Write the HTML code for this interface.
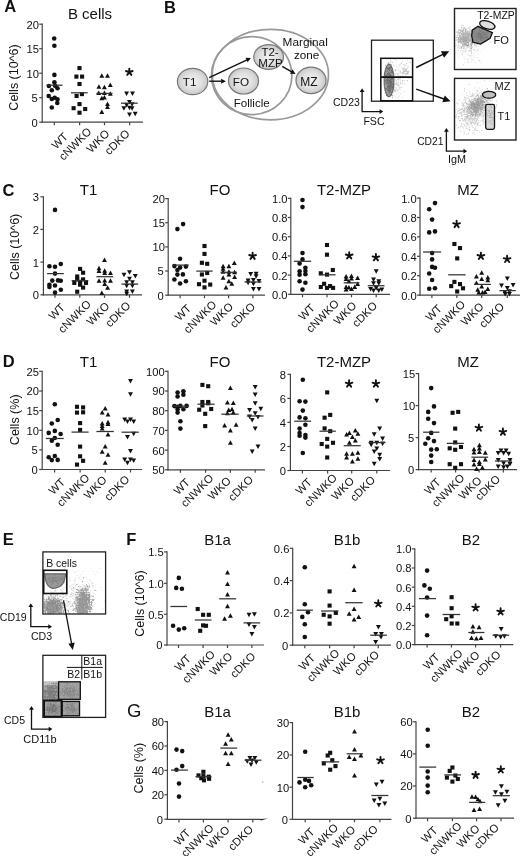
<!DOCTYPE html>
<html><head><meta charset="utf-8"><style>
html,body{margin:0;padding:0;background:#fff;}
svg{display:block;filter:grayscale(1);}
text{font-family:"Liberation Sans", sans-serif;}
</style></head><body>
<svg width="520" height="856" viewBox="0 0 520 856" font-family='"Liberation Sans", sans-serif'>
<rect width="520" height="856" fill="#fff"/>
<line x1="42.20" y1="23.60" x2="42.20" y2="122.80" stroke="#444" stroke-width="1.2"/>
<line x1="41.60" y1="122.20" x2="143.00" y2="122.20" stroke="#444" stroke-width="1.2"/>
<line x1="39.20" y1="122.20" x2="42.20" y2="122.20" stroke="#444" stroke-width="1.2"/>
<text x="37.80" y="126.63" font-size="11.2" text-anchor="end" font-weight="normal" fill="#111">0</text>
<line x1="39.20" y1="97.70" x2="42.20" y2="97.70" stroke="#444" stroke-width="1.2"/>
<text x="37.80" y="102.13" font-size="11.2" text-anchor="end" font-weight="normal" fill="#111">5</text>
<line x1="39.20" y1="73.20" x2="42.20" y2="73.20" stroke="#444" stroke-width="1.2"/>
<text x="38.90" y="77.63" font-size="11.2" text-anchor="end" font-weight="normal" fill="#111">10</text>
<line x1="39.20" y1="48.70" x2="42.20" y2="48.70" stroke="#444" stroke-width="1.2"/>
<text x="38.90" y="53.13" font-size="11.2" text-anchor="end" font-weight="normal" fill="#111">15</text>
<line x1="39.20" y1="24.20" x2="42.20" y2="24.20" stroke="#444" stroke-width="1.2"/>
<text x="38.90" y="28.63" font-size="11.2" text-anchor="end" font-weight="normal" fill="#111">20</text>
<line x1="54.30" y1="122.20" x2="54.30" y2="125.20" stroke="#444" stroke-width="1.2"/>
<line x1="79.60" y1="122.20" x2="79.60" y2="125.20" stroke="#444" stroke-width="1.2"/>
<line x1="104.50" y1="122.20" x2="104.50" y2="125.20" stroke="#444" stroke-width="1.2"/>
<line x1="129.70" y1="122.20" x2="129.70" y2="125.20" stroke="#444" stroke-width="1.2"/>
<text x="68.70" y="137.30" font-size="11.3" text-anchor="end" font-weight="normal" fill="#111" transform="rotate(-45 68.70 137.30)">WT</text>
<text x="92.30" y="132.20" font-size="11.3" text-anchor="end" font-weight="normal" fill="#111" transform="rotate(-45 92.30 132.20)">cNWKO</text>
<text x="110.30" y="134.30" font-size="11.3" text-anchor="end" font-weight="normal" fill="#111" transform="rotate(-45 110.30 134.30)">WKO</text>
<text x="130.60" y="134.30" font-size="11.3" text-anchor="end" font-weight="normal" fill="#111" transform="rotate(-45 130.60 134.30)">cDKO</text>
<text x="90.00" y="18.70" font-size="15" text-anchor="middle" font-weight="normal" fill="#111">B cells</text>
<text x="17.80" y="77.50" font-size="12.5" text-anchor="middle" font-weight="normal" fill="#111" transform="rotate(-90 17.80 77.50)">Cells (10^6)</text>
<g fill="#111">
<circle cx="54.2" cy="38.5" r="2.3"/>
<circle cx="54.4" cy="45.8" r="2.3"/>
<circle cx="54.4" cy="74.9" r="2.3"/>
<circle cx="54.4" cy="82.2" r="2.3"/>
<circle cx="48.9" cy="86" r="2.3"/>
<circle cx="55.1" cy="85.8" r="2.3"/>
<circle cx="57.5" cy="88.3" r="2.3"/>
<circle cx="51.8" cy="90.3" r="2.3"/>
<circle cx="48.7" cy="96" r="2.3"/>
<circle cx="51.8" cy="99" r="2.3"/>
<circle cx="54.7" cy="97.7" r="2.3"/>
<circle cx="57.5" cy="99.4" r="2.3"/>
<circle cx="57.3" cy="103" r="2.3"/>
<circle cx="51.8" cy="107.5" r="2.3"/>
<rect x="77.45" y="66.05" width="4.1" height="4.1"/>
<rect x="74.35" y="74.55" width="4.1" height="4.1"/>
<rect x="80.05" y="74.55" width="4.1" height="4.1"/>
<rect x="77.45" y="81.95" width="4.1" height="4.1"/>
<rect x="79.85" y="92.05" width="4.1" height="4.1"/>
<rect x="74.55" y="93.95" width="4.1" height="4.1"/>
<rect x="77.45" y="102.05" width="4.1" height="4.1"/>
<rect x="71.55" y="106.15" width="4.1" height="4.1"/>
<rect x="83.15" y="106.95" width="4.1" height="4.1"/>
<rect x="77.45" y="110.65" width="4.1" height="4.1"/>
<polygon points="101.80,73.20 99.35,77.70 104.25,77.70"/>
<polygon points="107.50,73.20 105.05,77.70 109.95,77.70"/>
<polygon points="110.30,82.40 107.85,86.90 112.75,86.90"/>
<polygon points="98.90,84.30 96.45,88.80 101.35,88.80"/>
<polygon points="104.40,84.80 101.95,89.30 106.85,89.30"/>
<polygon points="98.70,90.50 96.25,95.00 101.15,95.00"/>
<polygon points="104.40,90.50 101.95,95.00 106.85,95.00"/>
<polygon points="110.30,91.30 107.85,95.80 112.75,95.80"/>
<polygon points="101.80,95.70 99.35,100.20 104.25,100.20"/>
<polygon points="104.40,95.00 101.95,99.50 106.85,99.50"/>
<polygon points="107.50,101.60 105.05,106.10 109.95,106.10"/>
<polygon points="107.50,104.60 105.05,109.10 109.95,109.10"/>
<polygon points="101.80,109.40 99.35,113.90 104.25,113.90"/>
<polygon points="124.15,91.40 129.05,91.40 126.60,95.90"/>
<polygon points="130.05,91.40 134.95,91.40 132.50,95.90"/>
<polygon points="127.05,100.10 131.95,100.10 129.50,104.60"/>
<polygon points="124.15,102.90 129.05,102.90 126.60,107.40"/>
<polygon points="129.65,102.30 134.55,102.30 132.10,106.80"/>
<polygon points="121.45,106.20 126.35,106.20 123.90,110.70"/>
<polygon points="127.05,105.70 131.95,105.70 129.50,110.20"/>
<polygon points="129.65,106.20 134.55,106.20 132.10,110.70"/>
<polygon points="127.05,112.50 131.95,112.50 129.50,117.00"/>
<polygon points="132.75,111.70 137.65,111.70 135.20,116.20"/>
</g>
<line x1="46.40" y1="85.20" x2="62.50" y2="85.20" stroke="#333" stroke-width="1.25"/>
<line x1="71.00" y1="92.80" x2="87.70" y2="92.80" stroke="#333" stroke-width="1.25"/>
<line x1="96.40" y1="93.40" x2="112.50" y2="93.40" stroke="#333" stroke-width="1.25"/>
<line x1="121.00" y1="103.20" x2="137.70" y2="103.20" stroke="#333" stroke-width="1.25"/>
<path d="M129.30,72.10L129.30,68.60M129.30,72.10L132.63,71.02M129.30,72.10L131.36,74.93M129.30,72.10L127.24,74.93M129.30,72.10L125.97,71.02" stroke="#111" stroke-width="1.9" stroke-linecap="round" fill="none"/>
<line x1="43.40" y1="196.20" x2="43.40" y2="295.40" stroke="#444" stroke-width="1.2"/>
<line x1="42.80" y1="294.80" x2="142.00" y2="294.80" stroke="#444" stroke-width="1.2"/>
<line x1="40.40" y1="294.80" x2="43.40" y2="294.80" stroke="#444" stroke-width="1.2"/>
<text x="39.00" y="299.23" font-size="11.2" text-anchor="end" font-weight="normal" fill="#111">0</text>
<line x1="40.40" y1="262.10" x2="43.40" y2="262.10" stroke="#444" stroke-width="1.2"/>
<text x="39.00" y="266.53" font-size="11.2" text-anchor="end" font-weight="normal" fill="#111">1</text>
<line x1="40.40" y1="229.40" x2="43.40" y2="229.40" stroke="#444" stroke-width="1.2"/>
<text x="39.00" y="233.83" font-size="11.2" text-anchor="end" font-weight="normal" fill="#111">2</text>
<line x1="40.40" y1="196.80" x2="43.40" y2="196.80" stroke="#444" stroke-width="1.2"/>
<text x="39.00" y="201.23" font-size="11.2" text-anchor="end" font-weight="normal" fill="#111">3</text>
<line x1="55.00" y1="294.80" x2="55.00" y2="297.80" stroke="#444" stroke-width="1.2"/>
<line x1="79.80" y1="294.80" x2="79.80" y2="297.80" stroke="#444" stroke-width="1.2"/>
<line x1="104.50" y1="294.80" x2="104.50" y2="297.80" stroke="#444" stroke-width="1.2"/>
<line x1="129.50" y1="294.80" x2="129.50" y2="297.80" stroke="#444" stroke-width="1.2"/>
<text x="65.70" y="308.10" font-size="11.3" text-anchor="end" font-weight="normal" fill="#111" transform="rotate(-45 65.70 308.10)">WT</text>
<text x="91.70" y="304.80" font-size="11.3" text-anchor="end" font-weight="normal" fill="#111" transform="rotate(-45 91.70 304.80)">cNWKO</text>
<text x="110.30" y="306.90" font-size="11.3" text-anchor="end" font-weight="normal" fill="#111" transform="rotate(-45 110.30 306.90)">WKO</text>
<text x="131.30" y="306.40" font-size="11.3" text-anchor="end" font-weight="normal" fill="#111" transform="rotate(-45 131.30 306.40)">cDKO</text>
<text x="88.50" y="194.50" font-size="15" text-anchor="middle" font-weight="normal" fill="#111">T1</text>
<text x="18.60" y="246.90" font-size="12.5" text-anchor="middle" font-weight="normal" fill="#111" transform="rotate(-90 18.60 246.90)">Cells (10^6)</text>
<g fill="#111">
<circle cx="55" cy="209.9" r="2.3"/>
<circle cx="49.4" cy="266.2" r="2.3"/>
<circle cx="55" cy="266.8" r="2.3"/>
<circle cx="60.8" cy="264" r="2.3"/>
<circle cx="55" cy="273.6" r="2.3"/>
<circle cx="52.3" cy="280.6" r="2.3"/>
<circle cx="58" cy="280.4" r="2.3"/>
<circle cx="60.8" cy="280.8" r="2.3"/>
<circle cx="49.4" cy="284.7" r="2.3"/>
<circle cx="49.4" cy="287" r="2.3"/>
<circle cx="55" cy="285.5" r="2.3"/>
<circle cx="60.8" cy="289.7" r="2.3"/>
<circle cx="55" cy="292.6" r="2.3"/>
<rect x="78.05" y="266.85" width="4.1" height="4.1"/>
<rect x="81.05" y="270.65" width="4.1" height="4.1"/>
<rect x="75.15" y="274.45" width="4.1" height="4.1"/>
<rect x="75.15" y="277.35" width="4.1" height="4.1"/>
<rect x="81.05" y="277.35" width="4.1" height="4.1"/>
<rect x="72.25" y="280.85" width="4.1" height="4.1"/>
<rect x="78.05" y="279.75" width="4.1" height="4.1"/>
<rect x="83.95" y="280.85" width="4.1" height="4.1"/>
<rect x="78.05" y="282.65" width="4.1" height="4.1"/>
<rect x="81.05" y="285.55" width="4.1" height="4.1"/>
<rect x="75.15" y="289.65" width="4.1" height="4.1"/>
<polygon points="104.50,257.60 102.05,262.10 106.95,262.10"/>
<polygon points="99.00,265.80 96.55,270.30 101.45,270.30"/>
<polygon points="99.00,268.50 96.55,273.00 101.45,273.00"/>
<polygon points="104.70,268.20 102.25,272.70 107.15,272.70"/>
<polygon points="104.70,270.60 102.25,275.10 107.15,275.10"/>
<polygon points="110.50,270.40 108.05,274.90 112.95,274.90"/>
<polygon points="99.00,278.30 96.55,282.80 101.45,282.80"/>
<polygon points="104.70,278.10 102.25,282.60 107.15,282.60"/>
<polygon points="110.50,278.30 108.05,282.80 112.95,282.80"/>
<polygon points="104.70,281.60 102.25,286.10 107.15,286.10"/>
<polygon points="107.60,285.30 105.15,289.80 110.05,289.80"/>
<polygon points="101.80,290.60 99.35,295.10 104.25,295.10"/>
<polygon points="121.55,272.80 126.45,272.80 124.00,277.30"/>
<polygon points="127.05,270.30 131.95,270.30 129.50,274.80"/>
<polygon points="132.85,274.00 137.75,274.00 135.30,278.50"/>
<polygon points="127.05,276.80 131.95,276.80 129.50,281.30"/>
<polygon points="124.25,280.20 129.15,280.20 126.70,284.70"/>
<polygon points="129.95,280.20 134.85,280.20 132.40,284.70"/>
<polygon points="124.25,283.80 129.15,283.80 126.70,288.30"/>
<polygon points="129.95,283.80 134.85,283.80 132.40,288.30"/>
<polygon points="124.25,289.50 129.15,289.50 126.70,294.00"/>
<polygon points="129.95,289.50 134.85,289.50 132.40,294.00"/>
<polygon points="124.25,291.80 129.15,291.80 126.70,296.30"/>
</g>
<line x1="47.10" y1="273.60" x2="63.80" y2="273.60" stroke="#333" stroke-width="1.25"/>
<line x1="71.60" y1="280.60" x2="88.30" y2="280.60" stroke="#333" stroke-width="1.25"/>
<line x1="96.40" y1="276.70" x2="113.20" y2="276.70" stroke="#333" stroke-width="1.25"/>
<line x1="121.40" y1="284.10" x2="138.20" y2="284.10" stroke="#333" stroke-width="1.25"/>
<line x1="168.20" y1="198.00" x2="168.20" y2="295.80" stroke="#444" stroke-width="1.2"/>
<line x1="167.60" y1="295.20" x2="265.00" y2="295.20" stroke="#444" stroke-width="1.2"/>
<line x1="165.20" y1="295.20" x2="168.20" y2="295.20" stroke="#444" stroke-width="1.2"/>
<text x="163.80" y="299.63" font-size="11.2" text-anchor="end" font-weight="normal" fill="#111">0</text>
<line x1="165.20" y1="271.00" x2="168.20" y2="271.00" stroke="#444" stroke-width="1.2"/>
<text x="163.80" y="275.43" font-size="11.2" text-anchor="end" font-weight="normal" fill="#111">5</text>
<line x1="165.20" y1="246.90" x2="168.20" y2="246.90" stroke="#444" stroke-width="1.2"/>
<text x="164.90" y="251.33" font-size="11.2" text-anchor="end" font-weight="normal" fill="#111">10</text>
<line x1="165.20" y1="222.70" x2="168.20" y2="222.70" stroke="#444" stroke-width="1.2"/>
<text x="164.90" y="227.13" font-size="11.2" text-anchor="end" font-weight="normal" fill="#111">15</text>
<line x1="165.20" y1="198.60" x2="168.20" y2="198.60" stroke="#444" stroke-width="1.2"/>
<text x="164.90" y="203.03" font-size="11.2" text-anchor="end" font-weight="normal" fill="#111">20</text>
<line x1="180.10" y1="295.20" x2="180.10" y2="298.20" stroke="#444" stroke-width="1.2"/>
<line x1="204.50" y1="295.20" x2="204.50" y2="298.20" stroke="#444" stroke-width="1.2"/>
<line x1="228.60" y1="295.20" x2="228.60" y2="298.20" stroke="#444" stroke-width="1.2"/>
<line x1="252.90" y1="295.20" x2="252.90" y2="298.20" stroke="#444" stroke-width="1.2"/>
<text x="192.00" y="309.00" font-size="11.3" text-anchor="end" font-weight="normal" fill="#111" transform="rotate(-45 192.00 309.00)">WT</text>
<text x="217.20" y="305.20" font-size="11.3" text-anchor="end" font-weight="normal" fill="#111" transform="rotate(-45 217.20 305.20)">cNWKO</text>
<text x="233.90" y="307.30" font-size="11.3" text-anchor="end" font-weight="normal" fill="#111" transform="rotate(-45 233.90 307.30)">WKO</text>
<text x="255.90" y="307.30" font-size="11.3" text-anchor="end" font-weight="normal" fill="#111" transform="rotate(-45 255.90 307.30)">cDKO</text>
<text x="220.00" y="194.50" font-size="15" text-anchor="middle" font-weight="normal" fill="#111">FO</text>
<g fill="#111">
<circle cx="183.1" cy="224.1" r="2.3"/>
<circle cx="177.4" cy="229.1" r="2.3"/>
<circle cx="180.1" cy="258.7" r="2.3"/>
<circle cx="174.4" cy="266.1" r="2.3"/>
<circle cx="180.1" cy="267.6" r="2.3"/>
<circle cx="185.9" cy="266.6" r="2.3"/>
<circle cx="177.4" cy="270.1" r="2.3"/>
<circle cx="177.4" cy="274.6" r="2.3"/>
<circle cx="182.9" cy="274.4" r="2.3"/>
<circle cx="174.4" cy="279.5" r="2.3"/>
<circle cx="185.9" cy="281.3" r="2.3"/>
<circle cx="180.1" cy="283.5" r="2.3"/>
<rect x="202.45" y="243.95" width="4.1" height="4.1"/>
<rect x="202.45" y="251.85" width="4.1" height="4.1"/>
<rect x="199.85" y="260.75" width="4.1" height="4.1"/>
<rect x="205.15" y="261.75" width="4.1" height="4.1"/>
<rect x="205.15" y="270.95" width="4.1" height="4.1"/>
<rect x="199.85" y="272.45" width="4.1" height="4.1"/>
<rect x="202.45" y="278.65" width="4.1" height="4.1"/>
<rect x="196.95" y="282.15" width="4.1" height="4.1"/>
<rect x="208.15" y="282.55" width="4.1" height="4.1"/>
<rect x="202.45" y="285.35" width="4.1" height="4.1"/>
<polygon points="234.30,260.60 231.85,265.10 236.75,265.10"/>
<polygon points="223.10,263.70 220.65,268.20 225.55,268.20"/>
<polygon points="228.90,263.70 226.45,268.20 231.35,268.20"/>
<polygon points="223.10,266.30 220.65,270.80 225.55,270.80"/>
<polygon points="223.10,269.20 220.65,273.70 225.55,273.70"/>
<polygon points="228.90,269.20 226.45,273.70 231.35,273.70"/>
<polygon points="234.60,269.70 232.15,274.20 237.05,274.20"/>
<polygon points="228.90,272.10 226.45,276.60 231.35,276.60"/>
<polygon points="223.10,275.20 220.65,279.70 225.55,279.70"/>
<polygon points="234.60,274.50 232.15,279.00 237.05,279.00"/>
<polygon points="228.90,278.70 226.45,283.20 231.35,283.20"/>
<polygon points="231.80,281.30 229.35,285.80 234.25,285.80"/>
<polygon points="226.00,285.10 223.55,289.60 228.45,289.60"/>
<polygon points="248.25,272.10 253.15,272.10 250.70,276.60"/>
<polygon points="253.65,271.70 258.55,271.70 256.10,276.20"/>
<polygon points="253.65,274.30 258.55,274.30 256.10,278.80"/>
<polygon points="245.65,278.40 250.55,278.40 248.10,282.90"/>
<polygon points="250.95,277.90 255.85,277.90 253.40,282.40"/>
<polygon points="256.55,278.90 261.45,278.90 259.00,283.40"/>
<polygon points="245.65,280.80 250.55,280.80 248.10,285.30"/>
<polygon points="250.95,281.80 255.85,281.80 253.40,286.30"/>
<polygon points="250.95,287.00 255.85,287.00 253.40,291.50"/>
<polygon points="256.55,287.00 261.45,287.00 259.00,291.50"/>
</g>
<line x1="172.50" y1="265.10" x2="188.80" y2="265.10" stroke="#333" stroke-width="1.25"/>
<line x1="196.30" y1="271.10" x2="212.60" y2="271.10" stroke="#333" stroke-width="1.25"/>
<line x1="220.50" y1="272.30" x2="237.00" y2="272.30" stroke="#333" stroke-width="1.25"/>
<line x1="244.50" y1="282.00" x2="261.50" y2="282.00" stroke="#333" stroke-width="1.25"/>
<path d="M252.60,256.10L252.60,252.60M252.60,256.10L255.93,255.02M252.60,256.10L254.66,258.93M252.60,256.10L250.54,258.93M252.60,256.10L249.27,255.02" stroke="#111" stroke-width="1.9" stroke-linecap="round" fill="none"/>
<line x1="290.80" y1="197.70" x2="290.80" y2="294.90" stroke="#444" stroke-width="1.2"/>
<line x1="290.20" y1="294.30" x2="390.00" y2="294.30" stroke="#444" stroke-width="1.2"/>
<line x1="287.80" y1="294.30" x2="290.80" y2="294.30" stroke="#444" stroke-width="1.2"/>
<text x="287.50" y="298.73" font-size="11.2" text-anchor="end" font-weight="normal" fill="#111">0.0</text>
<line x1="287.80" y1="275.10" x2="290.80" y2="275.10" stroke="#444" stroke-width="1.2"/>
<text x="287.50" y="279.53" font-size="11.2" text-anchor="end" font-weight="normal" fill="#111">0.2</text>
<line x1="287.80" y1="255.90" x2="290.80" y2="255.90" stroke="#444" stroke-width="1.2"/>
<text x="287.50" y="260.33" font-size="11.2" text-anchor="end" font-weight="normal" fill="#111">0.4</text>
<line x1="287.80" y1="236.70" x2="290.80" y2="236.70" stroke="#444" stroke-width="1.2"/>
<text x="287.50" y="241.13" font-size="11.2" text-anchor="end" font-weight="normal" fill="#111">0.6</text>
<line x1="287.80" y1="217.50" x2="290.80" y2="217.50" stroke="#444" stroke-width="1.2"/>
<text x="287.50" y="221.93" font-size="11.2" text-anchor="end" font-weight="normal" fill="#111">0.8</text>
<line x1="287.80" y1="198.30" x2="290.80" y2="198.30" stroke="#444" stroke-width="1.2"/>
<text x="287.50" y="202.73" font-size="11.2" text-anchor="end" font-weight="normal" fill="#111">1.0</text>
<line x1="302.50" y1="294.30" x2="302.50" y2="297.30" stroke="#444" stroke-width="1.2"/>
<line x1="327.00" y1="294.30" x2="327.00" y2="297.30" stroke="#444" stroke-width="1.2"/>
<line x1="351.50" y1="294.30" x2="351.50" y2="297.30" stroke="#444" stroke-width="1.2"/>
<line x1="376.20" y1="294.30" x2="376.20" y2="297.30" stroke="#444" stroke-width="1.2"/>
<text x="315.70" y="308.60" font-size="11.3" text-anchor="end" font-weight="normal" fill="#111" transform="rotate(-45 315.70 308.60)">WT</text>
<text x="339.70" y="304.30" font-size="11.3" text-anchor="end" font-weight="normal" fill="#111" transform="rotate(-45 339.70 304.30)">cNWKO</text>
<text x="357.30" y="306.40" font-size="11.3" text-anchor="end" font-weight="normal" fill="#111" transform="rotate(-45 357.30 306.40)">WKO</text>
<text x="378.00" y="306.40" font-size="11.3" text-anchor="end" font-weight="normal" fill="#111" transform="rotate(-45 378.00 306.40)">cDKO</text>
<text x="344.00" y="194.50" font-size="15" text-anchor="middle" font-weight="normal" fill="#111">T2-MZP</text>
<g fill="#111">
<circle cx="302.5" cy="200" r="2.3"/>
<circle cx="302.5" cy="207.1" r="2.3"/>
<circle cx="302.5" cy="253" r="2.3"/>
<circle cx="302.5" cy="259.4" r="2.3"/>
<circle cx="299.6" cy="263.5" r="2.3"/>
<circle cx="305.4" cy="267.8" r="2.3"/>
<circle cx="299.6" cy="271.2" r="2.3"/>
<circle cx="305.4" cy="271" r="2.3"/>
<circle cx="299.6" cy="274.8" r="2.3"/>
<circle cx="305.4" cy="274.2" r="2.3"/>
<circle cx="299.6" cy="281.3" r="2.3"/>
<circle cx="305.4" cy="282.8" r="2.3"/>
<circle cx="302.5" cy="289.6" r="2.3"/>
<rect x="324.95" y="242.95" width="4.1" height="4.1"/>
<rect x="324.95" y="252.65" width="4.1" height="4.1"/>
<rect x="330.75" y="267.95" width="4.1" height="4.1"/>
<rect x="318.75" y="271.25" width="4.1" height="4.1"/>
<rect x="324.95" y="272.55" width="4.1" height="4.1"/>
<rect x="322.05" y="281.75" width="4.1" height="4.1"/>
<rect x="318.75" y="284.95" width="4.1" height="4.1"/>
<rect x="324.95" y="285.85" width="4.1" height="4.1"/>
<rect x="328.05" y="284.05" width="4.1" height="4.1"/>
<rect x="331.05" y="285.85" width="4.1" height="4.1"/>
<polygon points="346.10,274.00 343.65,278.50 348.55,278.50"/>
<polygon points="346.10,276.40 343.65,280.90 348.55,280.90"/>
<polygon points="351.50,273.60 349.05,278.10 353.95,278.10"/>
<polygon points="351.50,276.00 349.05,280.50 353.95,280.50"/>
<polygon points="357.60,275.50 355.15,280.00 360.05,280.00"/>
<polygon points="348.90,278.80 346.45,283.30 351.35,283.30"/>
<polygon points="357.60,281.50 355.15,286.00 360.05,286.00"/>
<polygon points="346.10,284.60 343.65,289.10 348.55,289.10"/>
<polygon points="348.90,285.10 346.45,289.60 351.35,289.60"/>
<polygon points="354.70,284.60 352.25,289.10 357.15,289.10"/>
<polygon points="346.10,287.00 343.65,291.50 348.55,291.50"/>
<polygon points="351.50,286.50 349.05,291.00 353.95,291.00"/>
<polygon points="373.75,269.30 378.65,269.30 376.20,273.80"/>
<polygon points="371.05,277.40 375.95,277.40 373.50,281.90"/>
<polygon points="376.35,279.30 381.25,279.30 378.80,283.80"/>
<polygon points="371.05,281.30 375.95,281.30 373.50,285.80"/>
<polygon points="376.35,281.30 381.25,281.30 378.80,285.80"/>
<polygon points="368.15,287.00 373.05,287.00 370.60,291.50"/>
<polygon points="373.75,286.10 378.65,286.10 376.20,290.60"/>
<polygon points="379.45,287.50 384.35,287.50 381.90,292.00"/>
<polygon points="371.05,288.50 375.95,288.50 373.50,293.00"/>
<polygon points="376.35,288.50 381.25,288.50 378.80,293.00"/>
</g>
<line x1="293.90" y1="261.30" x2="311.20" y2="261.30" stroke="#333" stroke-width="1.25"/>
<line x1="318.90" y1="274.80" x2="335.60" y2="274.80" stroke="#333" stroke-width="1.25"/>
<line x1="343.70" y1="282.80" x2="359.50" y2="282.80" stroke="#333" stroke-width="1.25"/>
<line x1="367.70" y1="285.70" x2="384.50" y2="285.70" stroke="#333" stroke-width="1.25"/>
<path d="M349.20,255.60L349.20,252.10M349.20,255.60L352.53,254.52M349.20,255.60L351.26,258.43M349.20,255.60L347.14,258.43M349.20,255.60L345.87,254.52" stroke="#111" stroke-width="1.9" stroke-linecap="round" fill="none"/>
<path d="M375.90,257.50L375.90,254.00M375.90,257.50L379.23,256.42M375.90,257.50L377.96,260.33M375.90,257.50L373.84,260.33M375.90,257.50L372.57,256.42" stroke="#111" stroke-width="1.9" stroke-linecap="round" fill="none"/>
<line x1="420.00" y1="197.50" x2="420.00" y2="295.70" stroke="#444" stroke-width="1.2"/>
<line x1="419.40" y1="295.10" x2="520.00" y2="295.10" stroke="#444" stroke-width="1.2"/>
<line x1="417.00" y1="295.10" x2="420.00" y2="295.10" stroke="#444" stroke-width="1.2"/>
<text x="416.70" y="299.53" font-size="11.2" text-anchor="end" font-weight="normal" fill="#111">0.0</text>
<line x1="417.00" y1="275.70" x2="420.00" y2="275.70" stroke="#444" stroke-width="1.2"/>
<text x="416.70" y="280.13" font-size="11.2" text-anchor="end" font-weight="normal" fill="#111">0.2</text>
<line x1="417.00" y1="256.30" x2="420.00" y2="256.30" stroke="#444" stroke-width="1.2"/>
<text x="416.70" y="260.73" font-size="11.2" text-anchor="end" font-weight="normal" fill="#111">0.4</text>
<line x1="417.00" y1="236.90" x2="420.00" y2="236.90" stroke="#444" stroke-width="1.2"/>
<text x="416.70" y="241.33" font-size="11.2" text-anchor="end" font-weight="normal" fill="#111">0.6</text>
<line x1="417.00" y1="217.50" x2="420.00" y2="217.50" stroke="#444" stroke-width="1.2"/>
<text x="416.70" y="221.93" font-size="11.2" text-anchor="end" font-weight="normal" fill="#111">0.8</text>
<line x1="417.00" y1="198.10" x2="420.00" y2="198.10" stroke="#444" stroke-width="1.2"/>
<text x="416.70" y="202.53" font-size="11.2" text-anchor="end" font-weight="normal" fill="#111">1.0</text>
<line x1="431.90" y1="295.10" x2="431.90" y2="298.10" stroke="#444" stroke-width="1.2"/>
<line x1="456.80" y1="295.10" x2="456.80" y2="298.10" stroke="#444" stroke-width="1.2"/>
<line x1="481.70" y1="295.10" x2="481.70" y2="298.10" stroke="#444" stroke-width="1.2"/>
<line x1="507.30" y1="295.10" x2="507.30" y2="298.10" stroke="#444" stroke-width="1.2"/>
<text x="442.60" y="309.40" font-size="11.3" text-anchor="end" font-weight="normal" fill="#111" transform="rotate(-45 442.60 309.40)">WT</text>
<text x="466.00" y="305.10" font-size="11.3" text-anchor="end" font-weight="normal" fill="#111" transform="rotate(-45 466.00 305.10)">cNWKO</text>
<text x="484.50" y="307.20" font-size="11.3" text-anchor="end" font-weight="normal" fill="#111" transform="rotate(-45 484.50 307.20)">WKO</text>
<text x="505.10" y="307.20" font-size="11.3" text-anchor="end" font-weight="normal" fill="#111" transform="rotate(-45 505.10 307.20)">cDKO</text>
<text x="468.00" y="194.50" font-size="15" text-anchor="middle" font-weight="normal" fill="#111">MZ</text>
<g fill="#111">
<circle cx="435" cy="203.1" r="2.3"/>
<circle cx="429.2" cy="209.3" r="2.3"/>
<circle cx="432.1" cy="219.6" r="2.3"/>
<circle cx="429.2" cy="232.4" r="2.3"/>
<circle cx="435" cy="231.4" r="2.3"/>
<circle cx="432.1" cy="253" r="2.3"/>
<circle cx="432.1" cy="259.4" r="2.3"/>
<circle cx="432.1" cy="266.9" r="2.3"/>
<circle cx="435" cy="267.8" r="2.3"/>
<circle cx="429.2" cy="273.5" r="2.3"/>
<circle cx="432.1" cy="280" r="2.3"/>
<circle cx="429.2" cy="288.7" r="2.3"/>
<circle cx="435" cy="288.3" r="2.3"/>
<rect x="452.35" y="241.95" width="4.1" height="4.1"/>
<rect x="457.95" y="246.05" width="4.1" height="4.1"/>
<rect x="455.15" y="256.35" width="4.1" height="4.1"/>
<rect x="452.35" y="279.85" width="4.1" height="4.1"/>
<rect x="449.15" y="284.05" width="4.1" height="4.1"/>
<rect x="457.95" y="282.05" width="4.1" height="4.1"/>
<rect x="460.95" y="286.25" width="4.1" height="4.1"/>
<rect x="455.15" y="289.45" width="4.1" height="4.1"/>
<polygon points="481.70,270.30 479.25,274.80 484.15,274.80"/>
<polygon points="476.40,274.00 473.95,278.50 478.85,278.50"/>
<polygon points="481.70,276.40 479.25,280.90 484.15,280.90"/>
<polygon points="487.80,275.10 485.35,279.60 490.25,279.60"/>
<polygon points="487.80,277.70 485.35,282.20 490.25,282.20"/>
<polygon points="476.40,280.40 473.95,284.90 478.85,284.90"/>
<polygon points="481.70,284.10 479.25,288.60 484.15,288.60"/>
<polygon points="477.70,287.20 475.25,291.70 480.15,291.70"/>
<polygon points="487.80,286.40 485.35,290.90 490.25,290.90"/>
<polygon points="478.80,289.90 476.35,294.40 481.25,294.40"/>
<polygon points="482.50,289.90 480.05,294.40 484.95,294.40"/>
<polygon points="485.10,289.40 482.65,293.90 487.55,293.90"/>
<polygon points="504.85,276.60 509.75,276.60 507.30,281.10"/>
<polygon points="499.05,283.50 503.95,283.50 501.50,288.00"/>
<polygon points="510.65,283.00 515.55,283.00 513.10,287.50"/>
<polygon points="504.85,286.10 509.75,286.10 507.30,290.60"/>
<polygon points="502.25,289.90 507.15,289.90 504.70,294.40"/>
<polygon points="506.95,289.30 511.85,289.30 509.40,293.80"/>
<polygon points="502.75,292.00 507.65,292.00 505.20,296.50"/>
<polygon points="506.95,292.00 511.85,292.00 509.40,296.50"/>
</g>
<line x1="423.10" y1="252.00" x2="441.10" y2="252.00" stroke="#333" stroke-width="1.25"/>
<line x1="448.20" y1="274.80" x2="465.60" y2="274.80" stroke="#333" stroke-width="1.25"/>
<line x1="474.00" y1="284.40" x2="491.00" y2="284.40" stroke="#333" stroke-width="1.25"/>
<line x1="499.40" y1="290.60" x2="515.80" y2="290.60" stroke="#333" stroke-width="1.25"/>
<path d="M456.60,224.30L456.60,220.80M456.60,224.30L459.93,223.22M456.60,224.30L458.66,227.13M456.60,224.30L454.54,227.13M456.60,224.30L453.27,223.22" stroke="#111" stroke-width="1.9" stroke-linecap="round" fill="none"/>
<path d="M480.90,256.10L480.90,252.60M480.90,256.10L484.23,255.02M480.90,256.10L482.96,258.93M480.90,256.10L478.84,258.93M480.90,256.10L477.57,255.02" stroke="#111" stroke-width="1.9" stroke-linecap="round" fill="none"/>
<path d="M507.10,259.20L507.10,255.70M507.10,259.20L510.43,258.12M507.10,259.20L509.16,262.03M507.10,259.20L505.04,262.03M507.10,259.20L503.77,258.12" stroke="#111" stroke-width="1.9" stroke-linecap="round" fill="none"/>
<line x1="42.20" y1="370.70" x2="42.20" y2="470.10" stroke="#444" stroke-width="1.2"/>
<line x1="41.60" y1="469.50" x2="142.00" y2="469.50" stroke="#444" stroke-width="1.2"/>
<line x1="39.20" y1="469.50" x2="42.20" y2="469.50" stroke="#444" stroke-width="1.2"/>
<text x="37.80" y="473.93" font-size="11.2" text-anchor="end" font-weight="normal" fill="#111">0</text>
<line x1="39.20" y1="449.90" x2="42.20" y2="449.90" stroke="#444" stroke-width="1.2"/>
<text x="37.80" y="454.33" font-size="11.2" text-anchor="end" font-weight="normal" fill="#111">5</text>
<line x1="39.20" y1="430.30" x2="42.20" y2="430.30" stroke="#444" stroke-width="1.2"/>
<text x="38.90" y="434.73" font-size="11.2" text-anchor="end" font-weight="normal" fill="#111">10</text>
<line x1="39.20" y1="410.60" x2="42.20" y2="410.60" stroke="#444" stroke-width="1.2"/>
<text x="38.90" y="415.03" font-size="11.2" text-anchor="end" font-weight="normal" fill="#111">15</text>
<line x1="39.20" y1="391.00" x2="42.20" y2="391.00" stroke="#444" stroke-width="1.2"/>
<text x="38.90" y="395.43" font-size="11.2" text-anchor="end" font-weight="normal" fill="#111">20</text>
<line x1="39.20" y1="371.30" x2="42.20" y2="371.30" stroke="#444" stroke-width="1.2"/>
<text x="38.90" y="375.73" font-size="11.2" text-anchor="end" font-weight="normal" fill="#111">25</text>
<line x1="54.60" y1="469.50" x2="54.60" y2="472.50" stroke="#444" stroke-width="1.2"/>
<line x1="80.10" y1="469.50" x2="80.10" y2="472.50" stroke="#444" stroke-width="1.2"/>
<line x1="105.20" y1="469.50" x2="105.20" y2="472.50" stroke="#444" stroke-width="1.2"/>
<line x1="130.50" y1="469.50" x2="130.50" y2="472.50" stroke="#444" stroke-width="1.2"/>
<text x="65.80" y="482.80" font-size="11.3" text-anchor="end" font-weight="normal" fill="#111" transform="rotate(-45 65.80 482.80)">WT</text>
<text x="90.30" y="478.50" font-size="11.3" text-anchor="end" font-weight="normal" fill="#111" transform="rotate(-45 90.30 478.50)">cNWKO</text>
<text x="107.50" y="480.60" font-size="11.3" text-anchor="end" font-weight="normal" fill="#111" transform="rotate(-45 107.50 480.60)">WKO</text>
<text x="130.30" y="480.10" font-size="11.3" text-anchor="end" font-weight="normal" fill="#111" transform="rotate(-45 130.30 480.10)">cDKO</text>
<text x="88.50" y="367.00" font-size="15" text-anchor="middle" font-weight="normal" fill="#111">T1</text>
<text x="18.80" y="419.80" font-size="12.5" text-anchor="middle" font-weight="normal" fill="#111" transform="rotate(-90 18.80 419.80)">Cells (%)</text>
<g fill="#111">
<circle cx="54.8" cy="404.2" r="2.3"/>
<circle cx="57.7" cy="420" r="2.3"/>
<circle cx="51.8" cy="423.5" r="2.3"/>
<circle cx="54.8" cy="430.9" r="2.3"/>
<circle cx="48.7" cy="432.9" r="2.3"/>
<circle cx="60.6" cy="434" r="2.3"/>
<circle cx="54.8" cy="438" r="2.3"/>
<circle cx="51.8" cy="440.8" r="2.3"/>
<circle cx="57.7" cy="444.7" r="2.3"/>
<circle cx="48.7" cy="457.3" r="2.3"/>
<circle cx="54.8" cy="456" r="2.3"/>
<circle cx="51.8" cy="460.1" r="2.3"/>
<circle cx="57.7" cy="459.9" r="2.3"/>
<rect x="74.95" y="404.75" width="4.1" height="4.1"/>
<rect x="81.05" y="405.35" width="4.1" height="4.1"/>
<rect x="74.95" y="410.55" width="4.1" height="4.1"/>
<rect x="81.05" y="410.25" width="4.1" height="4.1"/>
<rect x="78.05" y="421.05" width="4.1" height="4.1"/>
<rect x="78.05" y="427.85" width="4.1" height="4.1"/>
<rect x="78.05" y="444.55" width="4.1" height="4.1"/>
<rect x="78.05" y="454.25" width="4.1" height="4.1"/>
<rect x="81.05" y="458.75" width="4.1" height="4.1"/>
<rect x="74.95" y="462.55" width="4.1" height="4.1"/>
<polygon points="105.20,405.90 102.75,410.40 107.65,410.40"/>
<polygon points="102.20,410.10 99.75,414.60 104.65,414.60"/>
<polygon points="108.00,412.00 105.55,416.50 110.45,416.50"/>
<polygon points="102.20,421.00 99.75,425.50 104.65,425.50"/>
<polygon points="108.00,419.70 105.55,424.20 110.45,424.20"/>
<polygon points="102.20,423.60 99.75,428.10 104.65,428.10"/>
<polygon points="108.00,421.60 105.55,426.10 110.45,426.10"/>
<polygon points="102.20,426.10 99.75,430.60 104.65,430.60"/>
<polygon points="108.00,431.90 105.55,436.40 110.45,436.40"/>
<polygon points="105.20,444.10 102.75,448.60 107.65,448.60"/>
<polygon points="102.20,449.30 99.75,453.80 104.65,453.80"/>
<polygon points="108.00,452.20 105.55,456.70 110.45,456.70"/>
<polygon points="105.20,460.20 102.75,464.70 107.65,464.70"/>
<polygon points="128.05,379.10 132.95,379.10 130.50,383.60"/>
<polygon points="128.05,392.30 132.95,392.30 130.50,396.80"/>
<polygon points="122.25,417.60 127.15,417.60 124.70,422.10"/>
<polygon points="128.05,417.60 132.95,417.60 130.50,422.10"/>
<polygon points="131.25,419.60 136.15,419.60 133.70,424.10"/>
<polygon points="125.05,419.60 129.95,419.60 127.50,424.10"/>
<polygon points="125.05,435.00 129.95,435.00 127.50,439.50"/>
<polygon points="131.25,431.80 136.15,431.80 133.70,436.30"/>
<polygon points="128.05,448.90 132.95,448.90 130.50,453.40"/>
<polygon points="122.25,457.50 127.15,457.50 124.70,462.00"/>
<polygon points="125.05,460.70 129.95,460.70 127.50,465.20"/>
<polygon points="128.05,457.50 132.95,457.50 130.50,462.00"/>
<polygon points="131.25,458.40 136.15,458.40 133.70,462.90"/>
</g>
<line x1="45.80" y1="438.50" x2="63.80" y2="438.50" stroke="#333" stroke-width="1.25"/>
<line x1="71.50" y1="432.10" x2="88.60" y2="432.10" stroke="#333" stroke-width="1.25"/>
<line x1="96.40" y1="431.50" x2="113.80" y2="431.50" stroke="#333" stroke-width="1.25"/>
<line x1="121.50" y1="432.20" x2="138.80" y2="432.20" stroke="#333" stroke-width="1.25"/>
<line x1="168.00" y1="370.70" x2="168.00" y2="470.40" stroke="#444" stroke-width="1.2"/>
<line x1="167.40" y1="469.80" x2="265.00" y2="469.80" stroke="#444" stroke-width="1.2"/>
<line x1="165.00" y1="469.80" x2="168.00" y2="469.80" stroke="#444" stroke-width="1.2"/>
<text x="164.70" y="474.23" font-size="11.2" text-anchor="end" font-weight="normal" fill="#111">50</text>
<line x1="165.00" y1="450.10" x2="168.00" y2="450.10" stroke="#444" stroke-width="1.2"/>
<text x="164.70" y="454.53" font-size="11.2" text-anchor="end" font-weight="normal" fill="#111">60</text>
<line x1="165.00" y1="430.40" x2="168.00" y2="430.40" stroke="#444" stroke-width="1.2"/>
<text x="164.70" y="434.83" font-size="11.2" text-anchor="end" font-weight="normal" fill="#111">70</text>
<line x1="165.00" y1="410.70" x2="168.00" y2="410.70" stroke="#444" stroke-width="1.2"/>
<text x="164.70" y="415.13" font-size="11.2" text-anchor="end" font-weight="normal" fill="#111">80</text>
<line x1="165.00" y1="391.00" x2="168.00" y2="391.00" stroke="#444" stroke-width="1.2"/>
<text x="164.70" y="395.43" font-size="11.2" text-anchor="end" font-weight="normal" fill="#111">90</text>
<line x1="165.00" y1="371.30" x2="168.00" y2="371.30" stroke="#444" stroke-width="1.2"/>
<text x="164.70" y="375.73" font-size="11.2" text-anchor="end" font-weight="normal" fill="#111">100</text>
<line x1="180.40" y1="469.80" x2="180.40" y2="472.80" stroke="#444" stroke-width="1.2"/>
<line x1="205.60" y1="469.80" x2="205.60" y2="472.80" stroke="#444" stroke-width="1.2"/>
<line x1="230.40" y1="469.80" x2="230.40" y2="472.80" stroke="#444" stroke-width="1.2"/>
<line x1="255.20" y1="469.80" x2="255.20" y2="472.80" stroke="#444" stroke-width="1.2"/>
<text x="190.60" y="483.10" font-size="11.3" text-anchor="end" font-weight="normal" fill="#111" transform="rotate(-45 190.60 483.10)">WT</text>
<text x="214.30" y="478.80" font-size="11.3" text-anchor="end" font-weight="normal" fill="#111" transform="rotate(-45 214.30 478.80)">cNWKO</text>
<text x="231.70" y="481.40" font-size="11.3" text-anchor="end" font-weight="normal" fill="#111" transform="rotate(-45 231.70 481.40)">WKO</text>
<text x="254.00" y="480.40" font-size="11.3" text-anchor="end" font-weight="normal" fill="#111" transform="rotate(-45 254.00 480.40)">cDKO</text>
<text x="220.00" y="367.00" font-size="15" text-anchor="middle" font-weight="normal" fill="#111">FO</text>
<g fill="#111">
<circle cx="177.6" cy="392.6" r="2.3"/>
<circle cx="183.4" cy="391.3" r="2.3"/>
<circle cx="177.6" cy="396.5" r="2.3"/>
<circle cx="183.4" cy="394.8" r="2.3"/>
<circle cx="174.4" cy="406.1" r="2.3"/>
<circle cx="177.6" cy="406.8" r="2.3"/>
<circle cx="180.4" cy="405.9" r="2.3"/>
<circle cx="186.6" cy="405.9" r="2.3"/>
<circle cx="177.6" cy="409.3" r="2.3"/>
<circle cx="183.4" cy="409.3" r="2.3"/>
<circle cx="177.6" cy="412.6" r="2.3"/>
<circle cx="180.4" cy="421.3" r="2.3"/>
<circle cx="180.4" cy="428.6" r="2.3"/>
<rect x="200.35" y="382.85" width="4.1" height="4.1"/>
<rect x="206.15" y="384.15" width="4.1" height="4.1"/>
<rect x="200.35" y="399.95" width="4.1" height="4.1"/>
<rect x="206.15" y="399.95" width="4.1" height="4.1"/>
<rect x="200.35" y="403.45" width="4.1" height="4.1"/>
<rect x="206.15" y="401.25" width="4.1" height="4.1"/>
<rect x="197.15" y="407.65" width="4.1" height="4.1"/>
<rect x="209.15" y="406.95" width="4.1" height="4.1"/>
<rect x="203.15" y="411.75" width="4.1" height="4.1"/>
<rect x="203.15" y="424.05" width="4.1" height="4.1"/>
<polygon points="230.40,385.40 227.95,389.90 232.85,389.90"/>
<polygon points="227.40,400.00 224.95,404.50 229.85,404.50"/>
<polygon points="233.30,400.40 230.85,404.90 235.75,404.90"/>
<polygon points="228.70,407.50 226.25,412.00 231.15,412.00"/>
<polygon points="232.00,406.80 229.55,411.30 234.45,411.30"/>
<polygon points="227.40,410.70 224.95,415.20 229.85,415.20"/>
<polygon points="233.30,410.10 230.85,414.60 235.75,414.60"/>
<polygon points="224.60,422.90 222.15,427.40 227.05,427.40"/>
<polygon points="236.10,422.30 233.65,426.80 238.55,426.80"/>
<polygon points="230.40,428.10 227.95,432.60 232.85,432.60"/>
<polygon points="230.40,440.30 227.95,444.80 232.85,444.80"/>
<polygon points="252.75,384.90 257.65,384.90 255.20,389.40"/>
<polygon points="252.75,392.60 257.65,392.60 255.20,397.10"/>
<polygon points="252.75,401.30 257.65,401.30 255.20,405.80"/>
<polygon points="247.15,408.00 252.05,408.00 249.60,412.50"/>
<polygon points="258.35,406.70 263.25,406.70 260.80,411.20"/>
<polygon points="252.75,411.20 257.65,411.20 255.20,415.70"/>
<polygon points="247.15,414.40 252.05,414.40 249.60,418.90"/>
<polygon points="255.55,415.10 260.45,415.10 258.00,419.60"/>
<polygon points="249.75,418.00 254.65,418.00 252.20,422.50"/>
<polygon points="252.75,426.60 257.65,426.60 255.20,431.10"/>
<polygon points="255.55,444.60 260.45,444.60 258.00,449.10"/>
<polygon points="249.75,449.40 254.65,449.40 252.20,453.90"/>
</g>
<line x1="171.80" y1="406.10" x2="189.10" y2="406.10" stroke="#333" stroke-width="1.25"/>
<line x1="197.50" y1="404.20" x2="214.60" y2="404.20" stroke="#333" stroke-width="1.25"/>
<line x1="221.40" y1="414.20" x2="238.70" y2="414.20" stroke="#333" stroke-width="1.25"/>
<line x1="246.70" y1="416.00" x2="263.50" y2="416.00" stroke="#333" stroke-width="1.25"/>
<line x1="290.40" y1="373.70" x2="290.40" y2="471.10" stroke="#444" stroke-width="1.2"/>
<line x1="289.80" y1="470.50" x2="390.00" y2="470.50" stroke="#444" stroke-width="1.2"/>
<line x1="287.40" y1="470.50" x2="290.40" y2="470.50" stroke="#444" stroke-width="1.2"/>
<text x="286.00" y="474.93" font-size="11.2" text-anchor="end" font-weight="normal" fill="#111">0</text>
<line x1="287.40" y1="446.50" x2="290.40" y2="446.50" stroke="#444" stroke-width="1.2"/>
<text x="286.00" y="450.93" font-size="11.2" text-anchor="end" font-weight="normal" fill="#111">2</text>
<line x1="287.40" y1="422.40" x2="290.40" y2="422.40" stroke="#444" stroke-width="1.2"/>
<text x="286.00" y="426.83" font-size="11.2" text-anchor="end" font-weight="normal" fill="#111">4</text>
<line x1="287.40" y1="398.40" x2="290.40" y2="398.40" stroke="#444" stroke-width="1.2"/>
<text x="286.00" y="402.83" font-size="11.2" text-anchor="end" font-weight="normal" fill="#111">6</text>
<line x1="287.40" y1="374.30" x2="290.40" y2="374.30" stroke="#444" stroke-width="1.2"/>
<text x="286.00" y="378.73" font-size="11.2" text-anchor="end" font-weight="normal" fill="#111">8</text>
<line x1="302.40" y1="470.50" x2="302.40" y2="473.50" stroke="#444" stroke-width="1.2"/>
<line x1="327.60" y1="470.50" x2="327.60" y2="473.50" stroke="#444" stroke-width="1.2"/>
<line x1="351.70" y1="470.50" x2="351.70" y2="473.50" stroke="#444" stroke-width="1.2"/>
<line x1="376.80" y1="470.50" x2="376.80" y2="473.50" stroke="#444" stroke-width="1.2"/>
<text x="312.60" y="482.80" font-size="11.3" text-anchor="end" font-weight="normal" fill="#111" transform="rotate(-45 312.60 482.80)">WT</text>
<text x="337.80" y="478.50" font-size="11.3" text-anchor="end" font-weight="normal" fill="#111" transform="rotate(-45 337.80 478.50)">cNWKO</text>
<text x="355.00" y="481.60" font-size="11.3" text-anchor="end" font-weight="normal" fill="#111" transform="rotate(-45 355.00 481.60)">WKO</text>
<text x="376.10" y="480.60" font-size="11.3" text-anchor="end" font-weight="normal" fill="#111" transform="rotate(-45 376.10 480.60)">cDKO</text>
<text x="344.00" y="367.00" font-size="15" text-anchor="middle" font-weight="normal" fill="#111">T2-MZP</text>
<g fill="#111">
<circle cx="302.8" cy="379.8" r="2.3"/>
<circle cx="299.6" cy="401.2" r="2.3"/>
<circle cx="305.4" cy="401.6" r="2.3"/>
<circle cx="302.8" cy="410.6" r="2.3"/>
<circle cx="299.6" cy="417.4" r="2.3"/>
<circle cx="305.4" cy="418.3" r="2.3"/>
<circle cx="305.4" cy="424.8" r="2.3"/>
<circle cx="299.6" cy="428.6" r="2.3"/>
<circle cx="299.6" cy="433.1" r="2.3"/>
<circle cx="299.6" cy="435.7" r="2.3"/>
<circle cx="305.4" cy="435.1" r="2.3"/>
<circle cx="305.4" cy="437.6" r="2.3"/>
<circle cx="302.8" cy="453" r="2.3"/>
<rect x="325.15" y="390.35" width="4.1" height="4.1"/>
<rect x="328.15" y="412.85" width="4.1" height="4.1"/>
<rect x="322.55" y="415.65" width="4.1" height="4.1"/>
<rect x="322.55" y="426.35" width="4.1" height="4.1"/>
<rect x="328.15" y="429.15" width="4.1" height="4.1"/>
<rect x="325.15" y="436.85" width="4.1" height="4.1"/>
<rect x="319.65" y="441.95" width="4.1" height="4.1"/>
<rect x="330.95" y="440.75" width="4.1" height="4.1"/>
<rect x="325.15" y="444.55" width="4.1" height="4.1"/>
<rect x="325.15" y="455.45" width="4.1" height="4.1"/>
<polygon points="346.60,431.90 344.15,436.40 349.05,436.40"/>
<polygon points="349.40,430.60 346.95,435.10 351.85,435.10"/>
<polygon points="355.30,428.10 352.85,432.60 357.75,432.60"/>
<polygon points="357.90,431.30 355.45,435.80 360.35,435.80"/>
<polygon points="352.40,434.50 349.95,439.00 354.85,439.00"/>
<polygon points="355.30,438.10 352.85,442.60 357.75,442.60"/>
<polygon points="349.40,440.30 346.95,444.80 351.85,444.80"/>
<polygon points="346.60,451.20 344.15,455.70 349.05,455.70"/>
<polygon points="346.60,455.00 344.15,459.50 349.05,459.50"/>
<polygon points="352.40,451.20 349.95,455.70 354.85,455.70"/>
<polygon points="357.90,450.20 355.45,454.70 360.35,454.70"/>
<polygon points="357.90,456.30 355.45,460.80 360.35,460.80"/>
<polygon points="352.40,458.90 349.95,463.40 354.85,463.40"/>
<polygon points="374.35,398.70 379.25,398.70 376.80,403.20"/>
<polygon points="377.25,426.60 382.15,426.60 379.70,431.10"/>
<polygon points="371.75,432.20 376.65,432.20 374.20,436.70"/>
<polygon points="380.15,436.50 385.05,436.50 382.60,441.00"/>
<polygon points="368.75,440.80 373.65,440.80 371.20,445.30"/>
<polygon points="374.35,440.80 379.25,440.80 376.80,445.30"/>
<polygon points="380.15,441.40 385.05,441.40 382.60,445.90"/>
<polygon points="368.75,442.70 373.65,442.70 371.20,447.20"/>
<polygon points="374.35,446.50 379.25,446.50 376.80,451.00"/>
<polygon points="371.75,449.40 376.65,449.40 374.20,453.90"/>
<polygon points="377.25,452.70 382.15,452.70 379.70,457.20"/>
<polygon points="377.25,457.10 382.15,457.10 379.70,461.60"/>
<polygon points="371.75,461.70 376.65,461.70 374.20,466.20"/>
</g>
<line x1="294.20" y1="421.20" x2="311.10" y2="421.20" stroke="#333" stroke-width="1.25"/>
<line x1="319.50" y1="431.20" x2="335.80" y2="431.20" stroke="#333" stroke-width="1.25"/>
<line x1="343.70" y1="445.70" x2="360.70" y2="445.70" stroke="#333" stroke-width="1.25"/>
<line x1="368.50" y1="442.60" x2="385.50" y2="442.60" stroke="#333" stroke-width="1.25"/>
<path d="M349.10,383.80L349.10,380.30M349.10,383.80L352.43,382.72M349.10,383.80L351.16,386.63M349.10,383.80L347.04,386.63M349.10,383.80L345.77,382.72" stroke="#111" stroke-width="1.9" stroke-linecap="round" fill="none"/>
<path d="M375.90,383.80L375.90,380.30M375.90,383.80L379.23,382.72M375.90,383.80L377.96,386.63M375.90,383.80L373.84,386.63M375.90,383.80L372.57,382.72" stroke="#111" stroke-width="1.9" stroke-linecap="round" fill="none"/>
<line x1="418.60" y1="373.00" x2="418.60" y2="470.20" stroke="#444" stroke-width="1.2"/>
<line x1="418.00" y1="469.60" x2="517.00" y2="469.60" stroke="#444" stroke-width="1.2"/>
<line x1="415.60" y1="469.60" x2="418.60" y2="469.60" stroke="#444" stroke-width="1.2"/>
<text x="414.20" y="474.03" font-size="11.2" text-anchor="end" font-weight="normal" fill="#111">0</text>
<line x1="415.60" y1="437.60" x2="418.60" y2="437.60" stroke="#444" stroke-width="1.2"/>
<text x="414.20" y="442.03" font-size="11.2" text-anchor="end" font-weight="normal" fill="#111">5</text>
<line x1="415.60" y1="405.60" x2="418.60" y2="405.60" stroke="#444" stroke-width="1.2"/>
<text x="415.30" y="410.03" font-size="11.2" text-anchor="end" font-weight="normal" fill="#111">10</text>
<line x1="415.60" y1="373.60" x2="418.60" y2="373.60" stroke="#444" stroke-width="1.2"/>
<text x="415.30" y="378.03" font-size="11.2" text-anchor="end" font-weight="normal" fill="#111">15</text>
<line x1="431.20" y1="469.60" x2="431.20" y2="472.60" stroke="#444" stroke-width="1.2"/>
<line x1="455.60" y1="469.60" x2="455.60" y2="472.60" stroke="#444" stroke-width="1.2"/>
<line x1="479.10" y1="469.60" x2="479.10" y2="472.60" stroke="#444" stroke-width="1.2"/>
<line x1="503.30" y1="469.60" x2="503.30" y2="472.60" stroke="#444" stroke-width="1.2"/>
<text x="441.40" y="482.90" font-size="11.3" text-anchor="end" font-weight="normal" fill="#111" transform="rotate(-45 441.40 482.90)">WT</text>
<text x="465.30" y="478.60" font-size="11.3" text-anchor="end" font-weight="normal" fill="#111" transform="rotate(-45 465.30 478.60)">cNWKO</text>
<text x="482.40" y="481.20" font-size="11.3" text-anchor="end" font-weight="normal" fill="#111" transform="rotate(-45 482.40 481.20)">WKO</text>
<text x="501.10" y="479.70" font-size="11.3" text-anchor="end" font-weight="normal" fill="#111" transform="rotate(-45 501.10 479.70)">cDKO</text>
<text x="468.00" y="367.00" font-size="15" text-anchor="middle" font-weight="normal" fill="#111">MZ</text>
<g fill="#111">
<circle cx="431.2" cy="388.1" r="2.3"/>
<circle cx="434" cy="406.4" r="2.3"/>
<circle cx="428.2" cy="411.9" r="2.3"/>
<circle cx="428.2" cy="418.7" r="2.3"/>
<circle cx="434" cy="423.1" r="2.3"/>
<circle cx="431.2" cy="432.9" r="2.3"/>
<circle cx="428.2" cy="438.3" r="2.3"/>
<circle cx="434" cy="441.1" r="2.3"/>
<circle cx="425.3" cy="443.7" r="2.3"/>
<circle cx="431.2" cy="449.6" r="2.3"/>
<circle cx="436.8" cy="449.2" r="2.3"/>
<circle cx="431.2" cy="455.6" r="2.3"/>
<circle cx="431.2" cy="462" r="2.3"/>
<rect x="450.55" y="410.75" width="4.1" height="4.1"/>
<rect x="456.15" y="409.85" width="4.1" height="4.1"/>
<rect x="453.15" y="426.55" width="4.1" height="4.1"/>
<rect x="453.15" y="440.35" width="4.1" height="4.1"/>
<rect x="447.65" y="446.25" width="4.1" height="4.1"/>
<rect x="453.15" y="447.75" width="4.1" height="4.1"/>
<rect x="458.95" y="444.95" width="4.1" height="4.1"/>
<rect x="447.65" y="462.15" width="4.1" height="4.1"/>
<rect x="458.95" y="462.15" width="4.1" height="4.1"/>
<rect x="453.15" y="465.75" width="4.1" height="4.1"/>
<polygon points="479.40,442.80 476.95,447.30 481.85,447.30"/>
<polygon points="474.00,446.70 471.55,451.20 476.45,451.20"/>
<polygon points="479.40,446.00 476.95,450.50 481.85,450.50"/>
<polygon points="474.00,449.90 471.55,454.40 476.45,454.40"/>
<polygon points="479.40,449.60 476.95,454.10 481.85,454.10"/>
<polygon points="485.30,450.20 482.85,454.70 487.75,454.70"/>
<polygon points="485.30,457.00 482.85,461.50 487.75,461.50"/>
<polygon points="474.00,457.60 471.55,462.10 476.45,462.10"/>
<polygon points="479.40,459.50 476.95,464.00 481.85,464.00"/>
<polygon points="474.00,462.10 471.55,466.60 476.45,466.60"/>
<polygon points="479.40,461.50 476.95,466.00 481.85,466.00"/>
<polygon points="476.60,466.40 474.15,470.90 479.05,470.90"/>
<polygon points="482.40,465.30 479.95,469.80 484.85,469.80"/>
<polygon points="498.55,448.50 503.45,448.50 501.00,453.00"/>
<polygon points="503.65,448.50 508.55,448.50 506.10,453.00"/>
<polygon points="495.75,451.00 500.65,451.00 498.20,455.50"/>
<polygon points="501.15,451.00 506.05,451.00 503.60,455.50"/>
<polygon points="506.25,451.70 511.15,451.70 508.70,456.20"/>
<polygon points="495.75,458.10 500.65,458.10 498.20,462.60"/>
<polygon points="507.55,457.90 512.45,457.90 510.00,462.40"/>
<polygon points="501.15,461.30 506.05,461.30 503.60,465.80"/>
<polygon points="495.75,464.50 500.65,464.50 498.20,469.00"/>
<polygon points="501.15,465.20 506.05,465.20 503.60,469.70"/>
<polygon points="504.95,464.50 509.85,464.50 507.40,469.00"/>
<polygon points="507.55,462.00 512.45,462.00 510.00,466.50"/>
</g>
<line x1="423.10" y1="432.20" x2="439.40" y2="432.20" stroke="#333" stroke-width="1.25"/>
<line x1="446.80" y1="443.40" x2="463.80" y2="443.40" stroke="#333" stroke-width="1.25"/>
<line x1="471.40" y1="457.20" x2="488.10" y2="457.20" stroke="#333" stroke-width="1.25"/>
<line x1="495.00" y1="461.00" x2="512.00" y2="461.00" stroke="#333" stroke-width="1.25"/>
<path d="M478.90,427.90L478.90,424.40M478.90,427.90L482.23,426.82M478.90,427.90L480.96,430.73M478.90,427.90L476.84,430.73M478.90,427.90L475.57,426.82" stroke="#111" stroke-width="1.9" stroke-linecap="round" fill="none"/>
<path d="M502.90,432.00L502.90,428.50M502.90,432.00L506.23,430.92M502.90,432.00L504.96,434.83M502.90,432.00L500.84,434.83M502.90,432.00L499.57,430.92" stroke="#111" stroke-width="1.9" stroke-linecap="round" fill="none"/>
<line x1="167.00" y1="551.30" x2="167.00" y2="645.60" stroke="#444" stroke-width="1.2"/>
<line x1="166.40" y1="645.00" x2="264.00" y2="645.00" stroke="#444" stroke-width="1.2"/>
<line x1="164.00" y1="645.00" x2="167.00" y2="645.00" stroke="#444" stroke-width="1.2"/>
<text x="162.60" y="649.43" font-size="11.2" text-anchor="end" font-weight="normal" fill="#111">0</text>
<line x1="164.00" y1="614.30" x2="167.00" y2="614.30" stroke="#444" stroke-width="1.2"/>
<text x="163.70" y="618.73" font-size="11.2" text-anchor="end" font-weight="normal" fill="#111">0.5</text>
<line x1="164.00" y1="583.30" x2="167.00" y2="583.30" stroke="#444" stroke-width="1.2"/>
<text x="163.70" y="587.73" font-size="11.2" text-anchor="end" font-weight="normal" fill="#111">1.0</text>
<line x1="164.00" y1="551.90" x2="167.00" y2="551.90" stroke="#444" stroke-width="1.2"/>
<text x="163.70" y="556.33" font-size="11.2" text-anchor="end" font-weight="normal" fill="#111">1.5</text>
<line x1="178.50" y1="645.00" x2="178.50" y2="648.00" stroke="#444" stroke-width="1.2"/>
<line x1="203.10" y1="645.00" x2="203.10" y2="648.00" stroke="#444" stroke-width="1.2"/>
<line x1="227.50" y1="645.00" x2="227.50" y2="648.00" stroke="#444" stroke-width="1.2"/>
<line x1="251.90" y1="645.00" x2="251.90" y2="648.00" stroke="#444" stroke-width="1.2"/>
<text x="191.70" y="659.30" font-size="11.3" text-anchor="end" font-weight="normal" fill="#111" transform="rotate(-45 191.70 659.30)">WT</text>
<text x="215.80" y="655.00" font-size="11.3" text-anchor="end" font-weight="normal" fill="#111" transform="rotate(-45 215.80 655.00)">cNWKO</text>
<text x="233.30" y="657.10" font-size="11.3" text-anchor="end" font-weight="normal" fill="#111" transform="rotate(-45 233.30 657.10)">WKO</text>
<text x="256.20" y="657.10" font-size="11.3" text-anchor="end" font-weight="normal" fill="#111" transform="rotate(-45 256.20 657.10)">cDKO</text>
<text x="217.50" y="544.50" font-size="15" text-anchor="middle" font-weight="normal" fill="#111">B1a</text>
<text x="143.50" y="603.50" font-size="12.5" text-anchor="middle" font-weight="normal" fill="#111" transform="rotate(-90 143.50 603.50)">Cells (10^6)</text>
<g fill="#111">
<circle cx="178.8" cy="577.9" r="2.3"/>
<circle cx="176.2" cy="587.9" r="2.3"/>
<circle cx="181.9" cy="588.8" r="2.3"/>
<circle cx="173.1" cy="625.8" r="2.3"/>
<circle cx="178.8" cy="629.6" r="2.3"/>
<circle cx="184.2" cy="628.3" r="2.3"/>
<rect x="195.65" y="606.95" width="4.1" height="4.1"/>
<rect x="201.05" y="612.75" width="4.1" height="4.1"/>
<rect x="206.75" y="612.75" width="4.1" height="4.1"/>
<rect x="201.05" y="623.35" width="4.1" height="4.1"/>
<rect x="203.95" y="623.75" width="4.1" height="4.1"/>
<rect x="198.15" y="628.75" width="4.1" height="4.1"/>
<polygon points="227.50,570.00 225.05,574.50 229.95,574.50"/>
<polygon points="227.50,581.50 225.05,586.00 229.95,586.00"/>
<polygon points="227.50,592.10 225.05,596.60 229.95,596.60"/>
<polygon points="227.50,603.70 225.05,608.20 229.95,608.20"/>
<polygon points="230.40,613.30 227.95,617.80 232.85,617.80"/>
<polygon points="224.60,616.20 222.15,620.70 227.05,620.70"/>
<polygon points="246.55,612.80 251.45,612.80 249.00,617.30"/>
<polygon points="251.95,612.20 256.85,612.20 254.40,616.70"/>
<polygon points="246.55,622.40 251.45,622.40 249.00,626.90"/>
<polygon points="251.95,624.90 256.85,624.90 254.40,629.40"/>
<polygon points="249.45,632.00 254.35,632.00 251.90,636.50"/>
</g>
<line x1="170.40" y1="606.50" x2="187.10" y2="606.50" stroke="#333" stroke-width="1.25"/>
<line x1="194.80" y1="620.00" x2="211.50" y2="620.00" stroke="#333" stroke-width="1.25"/>
<line x1="219.20" y1="598.80" x2="236.20" y2="598.80" stroke="#333" stroke-width="1.25"/>
<line x1="243.50" y1="622.90" x2="260.20" y2="622.90" stroke="#333" stroke-width="1.25"/>
<line x1="292.70" y1="547.70" x2="292.70" y2="645.80" stroke="#444" stroke-width="1.2"/>
<line x1="292.10" y1="645.20" x2="391.00" y2="645.20" stroke="#444" stroke-width="1.2"/>
<line x1="289.70" y1="645.20" x2="292.70" y2="645.20" stroke="#444" stroke-width="1.2"/>
<text x="288.30" y="649.63" font-size="11.2" text-anchor="end" font-weight="normal" fill="#111">0</text>
<line x1="289.70" y1="612.90" x2="292.70" y2="612.90" stroke="#444" stroke-width="1.2"/>
<text x="289.40" y="617.33" font-size="11.2" text-anchor="end" font-weight="normal" fill="#111">0.2</text>
<line x1="289.70" y1="580.60" x2="292.70" y2="580.60" stroke="#444" stroke-width="1.2"/>
<text x="289.40" y="585.03" font-size="11.2" text-anchor="end" font-weight="normal" fill="#111">0.4</text>
<line x1="289.70" y1="548.30" x2="292.70" y2="548.30" stroke="#444" stroke-width="1.2"/>
<text x="289.40" y="552.73" font-size="11.2" text-anchor="end" font-weight="normal" fill="#111">0.6</text>
<line x1="304.80" y1="645.20" x2="304.80" y2="648.20" stroke="#444" stroke-width="1.2"/>
<line x1="329.60" y1="645.20" x2="329.60" y2="648.20" stroke="#444" stroke-width="1.2"/>
<line x1="354.10" y1="645.20" x2="354.10" y2="648.20" stroke="#444" stroke-width="1.2"/>
<line x1="378.30" y1="645.20" x2="378.30" y2="648.20" stroke="#444" stroke-width="1.2"/>
<text x="316.00" y="658.50" font-size="11.3" text-anchor="end" font-weight="normal" fill="#111" transform="rotate(-45 316.00 658.50)">WT</text>
<text x="340.30" y="653.70" font-size="11.3" text-anchor="end" font-weight="normal" fill="#111" transform="rotate(-45 340.30 653.70)">cNWKO</text>
<text x="356.90" y="656.80" font-size="11.3" text-anchor="end" font-weight="normal" fill="#111" transform="rotate(-45 356.90 656.80)">WKO</text>
<text x="380.10" y="655.30" font-size="11.3" text-anchor="end" font-weight="normal" fill="#111" transform="rotate(-45 380.10 655.30)">cDKO</text>
<text x="347.00" y="544.50" font-size="15" text-anchor="middle" font-weight="normal" fill="#111">B1b</text>
<g fill="#111">
<circle cx="304.8" cy="567.3" r="2.3"/>
<circle cx="304.8" cy="604.2" r="2.3"/>
<circle cx="308" cy="612.3" r="2.3"/>
<circle cx="302.3" cy="616.9" r="2.3"/>
<circle cx="304.8" cy="624.3" r="2.3"/>
<circle cx="304.8" cy="637" r="2.3"/>
<rect x="327.55" y="589.35" width="4.1" height="4.1"/>
<rect x="327.55" y="603.55" width="4.1" height="4.1"/>
<rect x="321.65" y="612.75" width="4.1" height="4.1"/>
<rect x="333.75" y="610.85" width="4.1" height="4.1"/>
<rect x="327.55" y="614.35" width="4.1" height="4.1"/>
<rect x="327.55" y="621.65" width="4.1" height="4.1"/>
<polygon points="354.10,563.80 351.65,568.30 356.55,568.30"/>
<polygon points="354.10,587.50 351.65,592.00 356.55,592.00"/>
<polygon points="354.10,606.40 351.65,610.90 356.55,610.90"/>
<polygon points="349.20,611.20 346.75,615.70 351.65,615.70"/>
<polygon points="358.70,614.40 356.25,618.90 361.15,618.90"/>
<polygon points="354.10,617.10 351.65,621.60 356.55,621.60"/>
<polygon points="375.95,625.10 380.85,625.10 378.40,629.60"/>
<polygon points="373.25,631.90 378.15,631.90 375.70,636.40"/>
<polygon points="378.95,631.90 383.85,631.90 381.40,636.40"/>
<polygon points="378.55,635.00 383.45,635.00 381.00,639.50"/>
<polygon points="373.25,639.90 378.15,639.90 375.70,644.40"/>
</g>
<line x1="296.70" y1="610.20" x2="312.90" y2="610.20" stroke="#333" stroke-width="1.25"/>
<line x1="321.00" y1="611.00" x2="338.50" y2="611.00" stroke="#333" stroke-width="1.25"/>
<line x1="345.20" y1="602.70" x2="362.70" y2="602.70" stroke="#333" stroke-width="1.25"/>
<line x1="370.20" y1="635.20" x2="386.90" y2="635.20" stroke="#333" stroke-width="1.25"/>
<path d="M378.30,603.70L378.30,600.20M378.30,603.70L381.63,602.62M378.30,603.70L380.36,606.53M378.30,603.70L376.24,606.53M378.30,603.70L374.97,602.62" stroke="#111" stroke-width="1.9" stroke-linecap="round" fill="none"/>
<line x1="414.80" y1="548.30" x2="414.80" y2="645.20" stroke="#444" stroke-width="1.2"/>
<line x1="414.20" y1="644.60" x2="513.30" y2="644.60" stroke="#444" stroke-width="1.2"/>
<line x1="411.80" y1="644.60" x2="414.80" y2="644.60" stroke="#444" stroke-width="1.2"/>
<text x="411.50" y="649.03" font-size="11.2" text-anchor="end" font-weight="normal" fill="#111">0.0</text>
<line x1="411.80" y1="625.50" x2="414.80" y2="625.50" stroke="#444" stroke-width="1.2"/>
<text x="411.50" y="629.93" font-size="11.2" text-anchor="end" font-weight="normal" fill="#111">0.2</text>
<line x1="411.80" y1="606.30" x2="414.80" y2="606.30" stroke="#444" stroke-width="1.2"/>
<text x="411.50" y="610.73" font-size="11.2" text-anchor="end" font-weight="normal" fill="#111">0.4</text>
<line x1="411.80" y1="587.20" x2="414.80" y2="587.20" stroke="#444" stroke-width="1.2"/>
<text x="411.50" y="591.63" font-size="11.2" text-anchor="end" font-weight="normal" fill="#111">0.6</text>
<line x1="411.80" y1="568.00" x2="414.80" y2="568.00" stroke="#444" stroke-width="1.2"/>
<text x="411.50" y="572.43" font-size="11.2" text-anchor="end" font-weight="normal" fill="#111">0.8</text>
<line x1="411.80" y1="548.90" x2="414.80" y2="548.90" stroke="#444" stroke-width="1.2"/>
<text x="411.50" y="553.33" font-size="11.2" text-anchor="end" font-weight="normal" fill="#111">1.0</text>
<line x1="427.10" y1="644.60" x2="427.10" y2="647.60" stroke="#444" stroke-width="1.2"/>
<line x1="451.40" y1="644.60" x2="451.40" y2="647.60" stroke="#444" stroke-width="1.2"/>
<line x1="475.60" y1="644.60" x2="475.60" y2="647.60" stroke="#444" stroke-width="1.2"/>
<line x1="500.60" y1="644.60" x2="500.60" y2="647.60" stroke="#444" stroke-width="1.2"/>
<text x="440.30" y="657.90" font-size="11.3" text-anchor="end" font-weight="normal" fill="#111" transform="rotate(-45 440.30 657.90)">WT</text>
<text x="463.60" y="654.10" font-size="11.3" text-anchor="end" font-weight="normal" fill="#111" transform="rotate(-45 463.60 654.10)">cNWKO</text>
<text x="480.40" y="655.70" font-size="11.3" text-anchor="end" font-weight="normal" fill="#111" transform="rotate(-45 480.40 655.70)">WKO</text>
<text x="501.40" y="655.20" font-size="11.3" text-anchor="end" font-weight="normal" fill="#111" transform="rotate(-45 501.40 655.20)">cDKO</text>
<text x="471.00" y="544.50" font-size="15" text-anchor="middle" font-weight="normal" fill="#111">B2</text>
<g fill="#111">
<circle cx="427.1" cy="570.6" r="2.3"/>
<circle cx="424.4" cy="585.4" r="2.3"/>
<circle cx="429.8" cy="588.7" r="2.3"/>
<circle cx="427.1" cy="597.5" r="2.3"/>
<circle cx="427.1" cy="615.6" r="2.3"/>
<circle cx="427.1" cy="635.2" r="2.3"/>
<rect x="449.55" y="595.15" width="4.1" height="4.1"/>
<rect x="449.55" y="606.15" width="4.1" height="4.1"/>
<rect x="449.55" y="614.25" width="4.1" height="4.1"/>
<rect x="444.15" y="617.15" width="4.1" height="4.1"/>
<rect x="449.65" y="621.45" width="4.1" height="4.1"/>
<rect x="455.25" y="621.45" width="4.1" height="4.1"/>
<polygon points="472.90,623.90 470.45,628.40 475.35,628.40"/>
<polygon points="479.10,624.70 476.65,629.20 481.55,629.20"/>
<polygon points="472.90,629.20 470.45,633.70 475.35,633.70"/>
<polygon points="471.50,635.40 469.05,639.90 473.95,639.90"/>
<polygon points="476.40,636.00 473.95,640.50 478.85,640.50"/>
<polygon points="481.00,635.40 478.55,639.90 483.45,639.90"/>
<polygon points="498.75,627.00 503.65,627.00 501.20,631.50"/>
<polygon points="493.35,634.30 498.25,634.30 495.80,638.80"/>
<polygon points="498.15,635.10 503.05,635.10 500.60,639.60"/>
<polygon points="501.95,634.30 506.85,634.30 504.40,638.80"/>
</g>
<line x1="419.00" y1="598.60" x2="436.00" y2="598.60" stroke="#333" stroke-width="1.25"/>
<line x1="442.60" y1="614.50" x2="460.10" y2="614.50" stroke="#333" stroke-width="1.25"/>
<line x1="468.30" y1="632.50" x2="484.50" y2="632.50" stroke="#333" stroke-width="1.25"/>
<line x1="492.50" y1="635.20" x2="509.20" y2="635.20" stroke="#333" stroke-width="1.25"/>
<path d="M475.60,607.70L475.60,604.20M475.60,607.70L478.93,606.62M475.60,607.70L477.66,610.53M475.60,607.70L473.54,610.53M475.60,607.70L472.27,606.62" stroke="#111" stroke-width="1.9" stroke-linecap="round" fill="none"/>
<path d="M500.60,611.70L500.60,608.20M500.60,611.70L503.93,610.62M500.60,611.70L502.66,614.53M500.60,611.70L498.54,614.53M500.60,611.70L497.27,610.62" stroke="#111" stroke-width="1.9" stroke-linecap="round" fill="none"/>
<line x1="167.40" y1="721.00" x2="167.40" y2="820.00" stroke="#444" stroke-width="1.2"/>
<line x1="166.80" y1="819.40" x2="260.50" y2="819.40" stroke="#444" stroke-width="1.2"/>
<line x1="164.40" y1="819.20" x2="167.40" y2="819.20" stroke="#444" stroke-width="1.2"/>
<text x="163.00" y="823.63" font-size="11.2" text-anchor="end" font-weight="normal" fill="#111">0</text>
<line x1="164.40" y1="794.80" x2="167.40" y2="794.80" stroke="#444" stroke-width="1.2"/>
<text x="164.10" y="799.23" font-size="11.2" text-anchor="end" font-weight="normal" fill="#111">20</text>
<line x1="164.40" y1="770.40" x2="167.40" y2="770.40" stroke="#444" stroke-width="1.2"/>
<text x="164.10" y="774.83" font-size="11.2" text-anchor="end" font-weight="normal" fill="#111">40</text>
<line x1="164.40" y1="746.00" x2="167.40" y2="746.00" stroke="#444" stroke-width="1.2"/>
<text x="164.10" y="750.43" font-size="11.2" text-anchor="end" font-weight="normal" fill="#111">60</text>
<line x1="164.40" y1="721.60" x2="167.40" y2="721.60" stroke="#444" stroke-width="1.2"/>
<text x="164.10" y="726.03" font-size="11.2" text-anchor="end" font-weight="normal" fill="#111">80</text>
<line x1="179.00" y1="819.40" x2="179.00" y2="822.40" stroke="#444" stroke-width="1.2"/>
<line x1="203.40" y1="819.40" x2="203.40" y2="822.40" stroke="#444" stroke-width="1.2"/>
<line x1="228.10" y1="819.40" x2="228.10" y2="822.40" stroke="#444" stroke-width="1.2"/>
<line x1="252.80" y1="819.40" x2="252.80" y2="822.40" stroke="#444" stroke-width="1.2"/>
<text x="191.20" y="833.70" font-size="11.3" text-anchor="end" font-weight="normal" fill="#111" transform="rotate(-45 191.20 833.70)">WT</text>
<text x="214.60" y="828.90" font-size="11.3" text-anchor="end" font-weight="normal" fill="#111" transform="rotate(-45 214.60 828.90)">cNWKO</text>
<text x="230.40" y="830.50" font-size="11.3" text-anchor="end" font-weight="normal" fill="#111" transform="rotate(-45 230.40 830.50)">WKO</text>
<text x="254.10" y="830.00" font-size="11.3" text-anchor="end" font-weight="normal" fill="#111" transform="rotate(-45 254.10 830.00)">cDKO</text>
<text x="217.50" y="717.00" font-size="15" text-anchor="middle" font-weight="normal" fill="#111">B1a</text>
<text x="143.50" y="768.20" font-size="12.5" text-anchor="middle" font-weight="normal" fill="#111" transform="rotate(-90 143.50 768.20)">Cells (%)</text>
<g fill="#111">
<circle cx="176.5" cy="749.6" r="2.3"/>
<circle cx="182.2" cy="751.1" r="2.3"/>
<circle cx="182.2" cy="766.1" r="2.3"/>
<circle cx="176.5" cy="769.7" r="2.3"/>
<circle cx="179" cy="783.5" r="2.3"/>
<circle cx="179" cy="796.6" r="2.3"/>
<rect x="201.35" y="769.75" width="4.1" height="4.1"/>
<rect x="196.45" y="773.35" width="4.1" height="4.1"/>
<rect x="201.35" y="774.05" width="4.1" height="4.1"/>
<rect x="206.65" y="774.65" width="4.1" height="4.1"/>
<rect x="199.25" y="776.15" width="4.1" height="4.1"/>
<rect x="201.95" y="778.25" width="4.1" height="4.1"/>
<rect x="207.05" y="776.75" width="4.1" height="4.1"/>
<polygon points="228.10,732.30 225.65,736.80 230.55,736.80"/>
<polygon points="231.30,737.00 228.85,741.50 233.75,741.50"/>
<polygon points="225.60,741.20 223.15,745.70 228.05,745.70"/>
<polygon points="225.60,750.70 223.15,755.20 228.05,755.20"/>
<polygon points="231.30,750.70 228.85,755.20 233.75,755.20"/>
<polygon points="228.10,761.50 225.65,766.00 230.55,766.00"/>
<polygon points="247.45,756.10 252.35,756.10 249.90,760.60"/>
<polygon points="252.35,756.10 257.25,756.10 254.80,760.60"/>
<polygon points="249.55,758.60 254.45,758.60 252.00,763.10"/>
<polygon points="244.75,759.30 249.65,759.30 247.20,763.80"/>
<polygon points="253.85,760.30 258.75,760.30 256.30,764.80"/>
<polygon points="248.55,762.40 253.45,762.40 251.00,766.90"/>
</g>
<line x1="171.00" y1="770.10" x2="187.90" y2="770.10" stroke="#333" stroke-width="1.25"/>
<line x1="195.50" y1="776.70" x2="211.50" y2="776.70" stroke="#333" stroke-width="1.25"/>
<line x1="220.30" y1="748.10" x2="237.20" y2="748.10" stroke="#333" stroke-width="1.25"/>
<line x1="244.60" y1="760.20" x2="261.50" y2="760.20" stroke="#333" stroke-width="1.25"/>
<line x1="292.50" y1="722.00" x2="292.50" y2="819.90" stroke="#444" stroke-width="1.2"/>
<line x1="291.90" y1="819.30" x2="391.50" y2="819.30" stroke="#444" stroke-width="1.2"/>
<line x1="289.50" y1="819.30" x2="292.50" y2="819.30" stroke="#444" stroke-width="1.2"/>
<text x="288.10" y="823.73" font-size="11.2" text-anchor="end" font-weight="normal" fill="#111">0</text>
<line x1="289.50" y1="787.20" x2="292.50" y2="787.20" stroke="#444" stroke-width="1.2"/>
<text x="289.20" y="791.63" font-size="11.2" text-anchor="end" font-weight="normal" fill="#111">10</text>
<line x1="289.50" y1="755.00" x2="292.50" y2="755.00" stroke="#444" stroke-width="1.2"/>
<text x="289.20" y="759.43" font-size="11.2" text-anchor="end" font-weight="normal" fill="#111">20</text>
<line x1="289.50" y1="722.60" x2="292.50" y2="722.60" stroke="#444" stroke-width="1.2"/>
<text x="289.20" y="727.03" font-size="11.2" text-anchor="end" font-weight="normal" fill="#111">30</text>
<line x1="305.20" y1="819.30" x2="305.20" y2="822.30" stroke="#444" stroke-width="1.2"/>
<line x1="329.80" y1="819.30" x2="329.80" y2="822.30" stroke="#444" stroke-width="1.2"/>
<line x1="354.50" y1="819.30" x2="354.50" y2="822.30" stroke="#444" stroke-width="1.2"/>
<line x1="379.90" y1="819.30" x2="379.90" y2="822.30" stroke="#444" stroke-width="1.2"/>
<text x="315.40" y="832.60" font-size="11.3" text-anchor="end" font-weight="normal" fill="#111" transform="rotate(-45 315.40 832.60)">WT</text>
<text x="339.00" y="828.30" font-size="11.3" text-anchor="end" font-weight="normal" fill="#111" transform="rotate(-45 339.00 828.30)">cNWKO</text>
<text x="356.30" y="830.40" font-size="11.3" text-anchor="end" font-weight="normal" fill="#111" transform="rotate(-45 356.30 830.40)">WKO</text>
<text x="378.70" y="829.90" font-size="11.3" text-anchor="end" font-weight="normal" fill="#111" transform="rotate(-45 378.70 829.90)">cDKO</text>
<text x="347.00" y="717.00" font-size="15" text-anchor="middle" font-weight="normal" fill="#111">B1b</text>
<g fill="#111">
<circle cx="305.2" cy="751.7" r="2.3"/>
<circle cx="299.5" cy="782.4" r="2.3"/>
<circle cx="305.2" cy="779.7" r="2.3"/>
<circle cx="309" cy="780.9" r="2.3"/>
<circle cx="305.2" cy="787.3" r="2.3"/>
<circle cx="311.2" cy="785.2" r="2.3"/>
<rect x="328.15" y="750.75" width="4.1" height="4.1"/>
<rect x="325.65" y="753.45" width="4.1" height="4.1"/>
<rect x="330.25" y="758.15" width="4.1" height="4.1"/>
<rect x="321.75" y="761.35" width="4.1" height="4.1"/>
<rect x="333.45" y="764.05" width="4.1" height="4.1"/>
<rect x="328.15" y="767.65" width="4.1" height="4.1"/>
<polygon points="354.50,729.10 352.05,733.60 356.95,733.60"/>
<polygon points="354.50,747.10 352.05,751.60 356.95,751.60"/>
<polygon points="349.20,754.50 346.75,759.00 351.65,759.00"/>
<polygon points="354.50,756.60 352.05,761.10 356.95,761.10"/>
<polygon points="360.90,753.00 358.45,757.50 363.35,757.50"/>
<polygon points="354.50,772.90 352.05,777.40 356.95,777.40"/>
<polygon points="373.85,782.50 378.75,782.50 376.30,787.00"/>
<polygon points="379.55,779.80 384.45,779.80 382.00,784.30"/>
<polygon points="371.75,798.40 376.65,798.40 374.20,802.90"/>
<polygon points="377.45,796.70 382.35,796.70 379.90,801.20"/>
<polygon points="376.45,803.00 381.35,803.00 378.90,807.50"/>
<polygon points="382.35,801.60 387.25,801.60 384.80,806.10"/>
</g>
<line x1="297.40" y1="777.50" x2="313.70" y2="777.50" stroke="#333" stroke-width="1.25"/>
<line x1="321.70" y1="761.90" x2="339.10" y2="761.90" stroke="#333" stroke-width="1.25"/>
<line x1="346.70" y1="753.80" x2="363.00" y2="753.80" stroke="#333" stroke-width="1.25"/>
<line x1="371.40" y1="795.50" x2="388.40" y2="795.50" stroke="#333" stroke-width="1.25"/>
<path d="M380.50,760.40L380.50,756.90M380.50,760.40L383.83,759.32M380.50,760.40L382.56,763.23M380.50,760.40L378.44,763.23M380.50,760.40L377.17,759.32" stroke="#111" stroke-width="1.9" stroke-linecap="round" fill="none"/>
<line x1="416.00" y1="721.20" x2="416.00" y2="818.80" stroke="#444" stroke-width="1.2"/>
<line x1="415.40" y1="818.20" x2="514.00" y2="818.20" stroke="#444" stroke-width="1.2"/>
<line x1="413.00" y1="818.20" x2="416.00" y2="818.20" stroke="#444" stroke-width="1.2"/>
<text x="411.60" y="822.63" font-size="11.2" text-anchor="end" font-weight="normal" fill="#111">0</text>
<line x1="413.00" y1="786.00" x2="416.00" y2="786.00" stroke="#444" stroke-width="1.2"/>
<text x="412.70" y="790.43" font-size="11.2" text-anchor="end" font-weight="normal" fill="#111">20</text>
<line x1="413.00" y1="753.90" x2="416.00" y2="753.90" stroke="#444" stroke-width="1.2"/>
<text x="412.70" y="758.33" font-size="11.2" text-anchor="end" font-weight="normal" fill="#111">40</text>
<line x1="413.00" y1="721.80" x2="416.00" y2="721.80" stroke="#444" stroke-width="1.2"/>
<text x="412.70" y="726.23" font-size="11.2" text-anchor="end" font-weight="normal" fill="#111">60</text>
<line x1="427.60" y1="818.20" x2="427.60" y2="821.20" stroke="#444" stroke-width="1.2"/>
<line x1="452.40" y1="818.20" x2="452.40" y2="821.20" stroke="#444" stroke-width="1.2"/>
<line x1="476.60" y1="818.20" x2="476.60" y2="821.20" stroke="#444" stroke-width="1.2"/>
<line x1="501.00" y1="818.20" x2="501.00" y2="821.20" stroke="#444" stroke-width="1.2"/>
<text x="438.30" y="831.00" font-size="11.3" text-anchor="end" font-weight="normal" fill="#111" transform="rotate(-45 438.30 831.00)">WT</text>
<text x="462.60" y="826.70" font-size="11.3" text-anchor="end" font-weight="normal" fill="#111" transform="rotate(-45 462.60 826.70)">cNWKO</text>
<text x="480.40" y="829.30" font-size="11.3" text-anchor="end" font-weight="normal" fill="#111" transform="rotate(-45 480.40 829.30)">WKO</text>
<text x="499.80" y="828.30" font-size="11.3" text-anchor="end" font-weight="normal" fill="#111" transform="rotate(-45 499.80 828.30)">cDKO</text>
<text x="471.00" y="717.00" font-size="15" text-anchor="middle" font-weight="normal" fill="#111">B2</text>
<g fill="#111">
<circle cx="427.7" cy="729.7" r="2.3"/>
<circle cx="427.7" cy="745.8" r="2.3"/>
<circle cx="427.7" cy="771.5" r="2.3"/>
<circle cx="427.7" cy="777.6" r="2.3"/>
<circle cx="427.7" cy="785.6" r="2.3"/>
<circle cx="427.7" cy="792.3" r="2.3"/>
<rect x="450.35" y="765.45" width="4.1" height="4.1"/>
<rect x="447.65" y="768.85" width="4.1" height="4.1"/>
<rect x="453.35" y="773.45" width="4.1" height="4.1"/>
<rect x="444.85" y="775.55" width="4.1" height="4.1"/>
<rect x="455.75" y="776.95" width="4.1" height="4.1"/>
<rect x="450.35" y="779.55" width="4.1" height="4.1"/>
<polygon points="472.00,794.20 469.55,798.70 474.45,798.70"/>
<polygon points="475.60,794.60 473.15,799.10 478.05,799.10"/>
<polygon points="478.00,796.70 475.55,801.20 480.45,801.20"/>
<polygon points="480.00,798.70 477.55,803.20 482.45,803.20"/>
<polygon points="474.00,807.40 471.55,811.90 476.45,811.90"/>
<polygon points="479.60,806.40 477.15,810.90 482.05,810.90"/>
<polygon points="498.95,784.20 503.85,784.20 501.40,788.70"/>
<polygon points="492.95,790.30 497.85,790.30 495.40,794.80"/>
<polygon points="498.95,792.30 503.85,792.30 501.40,796.80"/>
<polygon points="504.45,789.70 509.35,789.70 506.90,794.20"/>
<polygon points="502.45,798.80 507.35,798.80 504.90,803.30"/>
<polygon points="495.75,803.20 500.65,803.20 498.20,807.70"/>
</g>
<line x1="419.40" y1="767.10" x2="436.20" y2="767.10" stroke="#333" stroke-width="1.25"/>
<line x1="444.30" y1="774.90" x2="461.00" y2="774.90" stroke="#333" stroke-width="1.25"/>
<line x1="469.10" y1="802.40" x2="485.30" y2="802.40" stroke="#333" stroke-width="1.25"/>
<line x1="492.70" y1="795.70" x2="509.90" y2="795.70" stroke="#333" stroke-width="1.25"/>
<path d="M475.60,775.10L475.60,771.60M475.60,775.10L478.93,774.02M475.60,775.10L477.66,777.93M475.60,775.10L473.54,777.93M475.60,775.10L472.27,774.02" stroke="#111" stroke-width="1.9" stroke-linecap="round" fill="none"/>
<path d="M500.80,769.70L500.80,766.20M500.80,769.70L504.13,768.62M500.80,769.70L502.86,772.53M500.80,769.70L498.74,772.53M500.80,769.70L497.47,768.62" stroke="#111" stroke-width="1.9" stroke-linecap="round" fill="none"/>
<polygon points="260.4,818.9 268,818.5 260.4,820.5" fill="#111"/>
<circle cx="262.7" cy="782" r="0.7" fill="#aaa"/>
<text x="4.3" y="12.4" font-size="16.5" font-weight="bold" fill="#111">A</text>
<text x="163.9" y="13.2" font-size="16.5" font-weight="bold" fill="#111">B</text>
<text x="2.4" y="195.5" font-size="16.5" font-weight="bold" fill="#111">C</text>
<text x="2.7" y="367.3" font-size="16.5" font-weight="bold" fill="#111">D</text>
<text x="2.7" y="544.6" font-size="16.5" font-weight="bold" fill="#111">E</text>
<text x="126.2" y="545" font-size="16.5" font-weight="bold" fill="#111">F</text>
<text x="126.9" y="717" font-size="18.5" font-weight="normal" fill="#111">G</text>
<defs>
<radialGradient id="cg" cx="50%" cy="50%" r="50%"><stop offset="0" stop-color="#f2f2f2"/><stop offset="0.6" stop-color="#e0e0e0"/><stop offset="1" stop-color="#c8c8c8"/></radialGradient>
<marker id="ah" viewBox="0 0 10 10" refX="9" refY="5" markerWidth="5" markerHeight="5" orient="auto"><path d="M0,0L10,5L0,10z" fill="#111"/></marker>
</defs>
<ellipse cx="270.4" cy="74.6" rx="58.1" ry="45.2" fill="none" stroke="#999" stroke-width="1.7"/>
<ellipse cx="251.7" cy="75.6" rx="40.2" ry="39" fill="none" stroke="#999" stroke-width="1.7"/>
<ellipse cx="192.6" cy="81.5" rx="15.2" ry="13.2" fill="url(#cg)" stroke="#777" stroke-width="1.2"/>
<ellipse cx="243.5" cy="81" rx="15" ry="13" fill="url(#cg)" stroke="#777" stroke-width="1.2"/>
<ellipse cx="268.6" cy="57" rx="14.9" ry="12.4" fill="url(#cg)" stroke="#777" stroke-width="1.2"/>
<ellipse cx="311" cy="80.4" rx="15" ry="13.3" fill="url(#cg)" stroke="#777" stroke-width="1.2"/>
<text x="189.60" y="85.80" font-size="11.7" text-anchor="middle" font-weight="normal" fill="#111">T1</text>
<text x="240.90" y="86.00" font-size="11.7" text-anchor="middle" font-weight="normal" fill="#111">FO</text>
<text x="270.00" y="56.30" font-size="11.5" text-anchor="middle" font-weight="normal" fill="#111">T2-</text>
<text x="270.50" y="66.70" font-size="11.5" text-anchor="middle" font-weight="normal" fill="#111">MZP</text>
<text x="308.90" y="86.00" font-size="12" text-anchor="middle" font-weight="normal" fill="#111">MZ</text>
<text x="305.20" y="45.50" font-size="11.8" text-anchor="middle" font-weight="normal" fill="#111">Marginal</text>
<text x="306.70" y="59.20" font-size="11.7" text-anchor="middle" font-weight="normal" fill="#111">zone</text>
<text x="251.70" y="107.00" font-size="11.6" text-anchor="middle" font-weight="normal" fill="#111">Follicle</text>
<ellipse cx="389" cy="80.5" rx="5" ry="16.5" fill="#9a9a9a" stroke="#555" stroke-width="0.8"/>
<path fill="#444" opacity="0.55" d="M388.4 85.1h0.9v0.9h-0.9zM388.5 77.7h0.9v0.9h-0.9zM387.0 78.6h0.9v0.9h-0.9zM391.4 84.3h0.9v0.9h-0.9zM391.3 82.7h0.9v0.9h-0.9zM389.9 82.2h0.9v0.9h-0.9zM385.3 88.2h0.9v0.9h-0.9zM390.1 85.0h0.9v0.9h-0.9zM385.3 64.8h0.9v0.9h-0.9zM387.0 76.3h0.9v0.9h-0.9zM389.7 80.1h0.9v0.9h-0.9zM390.1 74.7h0.9v0.9h-0.9zM389.7 84.0h0.9v0.9h-0.9zM387.5 96.0h0.9v0.9h-0.9zM390.2 91.3h0.9v0.9h-0.9zM387.6 73.8h0.9v0.9h-0.9zM388.2 79.5h0.9v0.9h-0.9zM390.4 82.7h0.9v0.9h-0.9zM388.0 71.9h0.9v0.9h-0.9zM387.9 91.5h0.9v0.9h-0.9zM387.2 82.7h0.9v0.9h-0.9zM389.9 67.1h0.9v0.9h-0.9zM389.1 92.3h0.9v0.9h-0.9zM384.6 77.6h0.9v0.9h-0.9zM388.8 73.1h0.9v0.9h-0.9zM390.1 79.9h0.9v0.9h-0.9zM385.8 88.0h0.9v0.9h-0.9zM390.5 89.0h0.9v0.9h-0.9zM392.2 83.8h0.9v0.9h-0.9zM389.3 68.8h0.9v0.9h-0.9zM390.4 75.0h0.9v0.9h-0.9zM388.0 69.1h0.9v0.9h-0.9zM386.9 75.7h0.9v0.9h-0.9zM391.8 62.2h0.9v0.9h-0.9zM385.8 82.7h0.9v0.9h-0.9zM392.2 85.7h0.9v0.9h-0.9zM389.8 73.9h0.9v0.9h-0.9zM386.5 89.3h0.9v0.9h-0.9zM391.4 81.9h0.9v0.9h-0.9zM389.5 84.4h0.9v0.9h-0.9zM392.5 86.1h0.9v0.9h-0.9zM390.1 85.4h0.9v0.9h-0.9zM385.5 92.0h0.9v0.9h-0.9zM391.1 85.3h0.9v0.9h-0.9zM384.7 74.8h0.9v0.9h-0.9zM390.9 64.2h0.9v0.9h-0.9zM388.6 89.7h0.9v0.9h-0.9zM386.1 95.0h0.9v0.9h-0.9zM390.2 79.1h0.9v0.9h-0.9zM389.7 86.3h0.9v0.9h-0.9zM389.3 90.8h0.9v0.9h-0.9zM387.5 76.8h0.9v0.9h-0.9zM391.3 80.7h0.9v0.9h-0.9zM387.1 89.0h0.9v0.9h-0.9zM392.2 76.5h0.9v0.9h-0.9zM386.0 79.3h0.9v0.9h-0.9zM388.7 77.8h0.9v0.9h-0.9zM392.1 71.3h0.9v0.9h-0.9zM391.8 69.1h0.9v0.9h-0.9zM387.3 86.2h0.9v0.9h-0.9zM391.5 88.2h0.9v0.9h-0.9zM389.8 81.8h0.9v0.9h-0.9zM389.3 85.7h0.9v0.9h-0.9zM388.6 83.0h0.9v0.9h-0.9zM390.3 80.5h0.9v0.9h-0.9zM390.7 85.6h0.9v0.9h-0.9zM393.4 83.4h0.9v0.9h-0.9zM388.1 77.1h0.9v0.9h-0.9zM389.0 88.8h0.9v0.9h-0.9zM388.3 84.0h0.9v0.9h-0.9zM386.5 82.7h0.9v0.9h-0.9zM389.9 82.6h0.9v0.9h-0.9zM388.1 86.4h0.9v0.9h-0.9zM389.6 75.8h0.9v0.9h-0.9zM394.3 83.7h0.9v0.9h-0.9zM387.8 79.6h0.9v0.9h-0.9zM388.5 79.9h0.9v0.9h-0.9zM383.0 76.1h0.9v0.9h-0.9zM391.2 70.0h0.9v0.9h-0.9zM388.9 89.1h0.9v0.9h-0.9zM390.9 93.9h0.9v0.9h-0.9zM385.3 77.3h0.9v0.9h-0.9zM388.2 86.1h0.9v0.9h-0.9zM391.4 67.5h0.9v0.9h-0.9zM390.5 67.1h0.9v0.9h-0.9zM389.4 91.3h0.9v0.9h-0.9zM388.7 82.2h0.9v0.9h-0.9zM390.8 81.8h0.9v0.9h-0.9zM388.8 94.3h0.9v0.9h-0.9zM391.3 77.9h0.9v0.9h-0.9zM395.0 70.2h0.9v0.9h-0.9zM391.0 78.1h0.9v0.9h-0.9zM389.3 86.8h0.9v0.9h-0.9zM389.5 86.2h0.9v0.9h-0.9zM385.6 66.9h0.9v0.9h-0.9zM390.4 71.8h0.9v0.9h-0.9zM386.7 67.3h0.9v0.9h-0.9zM391.8 87.2h0.9v0.9h-0.9zM392.2 72.1h0.9v0.9h-0.9zM389.0 70.2h0.9v0.9h-0.9zM390.7 94.8h0.9v0.9h-0.9zM387.0 94.5h0.9v0.9h-0.9zM391.2 78.9h0.9v0.9h-0.9zM384.7 93.2h0.9v0.9h-0.9zM388.8 75.1h0.9v0.9h-0.9zM389.9 84.2h0.9v0.9h-0.9zM392.3 71.3h0.9v0.9h-0.9zM391.5 93.9h0.9v0.9h-0.9zM392.2 78.9h0.9v0.9h-0.9zM387.4 89.7h0.9v0.9h-0.9zM389.3 81.6h0.9v0.9h-0.9zM392.1 78.1h0.9v0.9h-0.9zM383.9 77.0h0.9v0.9h-0.9zM384.9 87.9h0.9v0.9h-0.9zM389.7 75.0h0.9v0.9h-0.9zM389.0 88.0h0.9v0.9h-0.9zM389.2 92.4h0.9v0.9h-0.9zM388.9 89.9h0.9v0.9h-0.9zM392.3 95.0h0.9v0.9h-0.9zM387.5 88.4h0.9v0.9h-0.9zM384.9 70.7h0.9v0.9h-0.9zM384.7 90.1h0.9v0.9h-0.9zM386.3 80.4h0.9v0.9h-0.9zM388.6 80.2h0.9v0.9h-0.9zM387.7 82.6h0.9v0.9h-0.9zM392.9 80.9h0.9v0.9h-0.9zM390.2 89.5h0.9v0.9h-0.9zM388.6 69.2h0.9v0.9h-0.9zM387.8 90.2h0.9v0.9h-0.9zM385.4 75.1h0.9v0.9h-0.9zM391.2 87.6h0.9v0.9h-0.9zM389.0 87.7h0.9v0.9h-0.9zM389.4 69.9h0.9v0.9h-0.9zM385.6 74.7h0.9v0.9h-0.9zM391.0 75.4h0.9v0.9h-0.9zM387.0 73.6h0.9v0.9h-0.9zM385.6 79.4h0.9v0.9h-0.9zM386.4 83.8h0.9v0.9h-0.9zM383.8 83.5h0.9v0.9h-0.9zM387.6 63.0h0.9v0.9h-0.9zM390.6 78.0h0.9v0.9h-0.9zM384.1 72.6h0.9v0.9h-0.9zM389.6 76.4h0.9v0.9h-0.9zM390.7 87.2h0.9v0.9h-0.9zM390.5 83.4h0.9v0.9h-0.9zM391.9 86.4h0.9v0.9h-0.9zM390.0 61.7h0.9v0.9h-0.9zM391.0 92.3h0.9v0.9h-0.9zM388.3 76.3h0.9v0.9h-0.9zM393.3 64.7h0.9v0.9h-0.9zM387.0 86.7h0.9v0.9h-0.9zM393.2 79.4h0.9v0.9h-0.9zM390.2 88.6h0.9v0.9h-0.9zM387.0 79.7h0.9v0.9h-0.9zM389.6 87.9h0.9v0.9h-0.9zM388.9 78.7h0.9v0.9h-0.9zM386.8 77.3h0.9v0.9h-0.9zM391.0 81.4h0.9v0.9h-0.9zM387.1 72.9h0.9v0.9h-0.9zM394.9 90.8h0.9v0.9h-0.9zM390.4 84.8h0.9v0.9h-0.9zM392.7 84.3h0.9v0.9h-0.9zM388.9 85.2h0.9v0.9h-0.9zM384.7 89.8h0.9v0.9h-0.9zM389.7 74.2h0.9v0.9h-0.9zM391.9 96.8h0.9v0.9h-0.9zM385.9 74.5h0.9v0.9h-0.9zM389.6 82.2h0.9v0.9h-0.9zM388.1 71.7h0.9v0.9h-0.9zM393.7 89.8h0.9v0.9h-0.9zM386.4 68.4h0.9v0.9h-0.9zM392.7 89.4h0.9v0.9h-0.9zM393.0 87.8h0.9v0.9h-0.9zM387.1 82.8h0.9v0.9h-0.9zM384.2 73.8h0.9v0.9h-0.9zM388.9 85.2h0.9v0.9h-0.9zM387.4 79.4h0.9v0.9h-0.9zM390.0 83.9h0.9v0.9h-0.9zM390.4 82.4h0.9v0.9h-0.9zM388.3 87.6h0.9v0.9h-0.9zM389.1 73.1h0.9v0.9h-0.9zM387.6 80.5h0.9v0.9h-0.9zM388.8 81.9h0.9v0.9h-0.9zM389.0 82.1h0.9v0.9h-0.9zM388.7 69.2h0.9v0.9h-0.9zM389.9 90.0h0.9v0.9h-0.9zM390.0 78.8h0.9v0.9h-0.9zM390.0 71.8h0.9v0.9h-0.9zM384.8 81.0h0.9v0.9h-0.9zM387.0 87.2h0.9v0.9h-0.9zM386.7 94.7h0.9v0.9h-0.9zM388.2 68.2h0.9v0.9h-0.9zM387.3 85.2h0.9v0.9h-0.9zM390.1 82.1h0.9v0.9h-0.9zM392.3 86.9h0.9v0.9h-0.9zM389.0 85.9h0.9v0.9h-0.9zM392.6 89.2h0.9v0.9h-0.9zM391.3 70.8h0.9v0.9h-0.9zM388.7 87.1h0.9v0.9h-0.9zM388.3 90.1h0.9v0.9h-0.9zM390.3 88.7h0.9v0.9h-0.9zM391.7 78.6h0.9v0.9h-0.9zM388.2 88.4h0.9v0.9h-0.9zM391.2 80.6h0.9v0.9h-0.9zM386.4 82.2h0.9v0.9h-0.9zM389.8 90.7h0.9v0.9h-0.9zM390.7 80.7h0.9v0.9h-0.9zM390.9 85.4h0.9v0.9h-0.9zM389.5 81.0h0.9v0.9h-0.9zM388.5 86.7h0.9v0.9h-0.9zM386.7 74.8h0.9v0.9h-0.9zM389.0 67.3h0.9v0.9h-0.9zM388.0 62.4h0.9v0.9h-0.9zM387.5 85.6h0.9v0.9h-0.9zM390.2 80.0h0.9v0.9h-0.9zM388.5 67.7h0.9v0.9h-0.9zM393.0 85.1h0.9v0.9h-0.9zM391.4 72.6h0.9v0.9h-0.9zM388.6 64.1h0.9v0.9h-0.9zM390.7 88.9h0.9v0.9h-0.9zM384.8 80.0h0.9v0.9h-0.9zM390.4 64.6h0.9v0.9h-0.9zM385.0 70.9h0.9v0.9h-0.9zM387.6 67.9h0.9v0.9h-0.9zM389.1 82.7h0.9v0.9h-0.9zM390.4 86.8h0.9v0.9h-0.9zM392.3 91.0h0.9v0.9h-0.9zM386.1 76.0h0.9v0.9h-0.9zM386.7 70.8h0.9v0.9h-0.9zM388.8 80.5h0.9v0.9h-0.9zM390.1 66.2h0.9v0.9h-0.9zM386.3 80.3h0.9v0.9h-0.9zM388.6 77.7h0.9v0.9h-0.9zM388.9 73.7h0.9v0.9h-0.9zM390.5 83.7h0.9v0.9h-0.9zM388.8 74.5h0.9v0.9h-0.9zM386.8 80.8h0.9v0.9h-0.9zM385.7 82.3h0.9v0.9h-0.9zM389.3 68.1h0.9v0.9h-0.9zM388.4 77.7h0.9v0.9h-0.9zM390.0 86.0h0.9v0.9h-0.9zM388.9 72.8h0.9v0.9h-0.9zM388.7 79.9h0.9v0.9h-0.9zM390.6 83.1h0.9v0.9h-0.9zM387.4 68.3h0.9v0.9h-0.9zM388.2 73.8h0.9v0.9h-0.9zM386.6 79.5h0.9v0.9h-0.9zM387.9 81.4h0.9v0.9h-0.9zM390.2 76.8h0.9v0.9h-0.9zM394.1 77.6h0.9v0.9h-0.9zM391.4 81.6h0.9v0.9h-0.9z"/>
<path fill="#666" opacity="0.35" d="M392.2 82.5h0.8v0.8h-0.8zM397.6 92.8h0.8v0.8h-0.8zM399.8 89.5h0.8v0.8h-0.8zM398.6 78.4h0.8v0.8h-0.8zM398.5 69.2h0.8v0.8h-0.8zM401.9 69.8h0.8v0.8h-0.8zM394.9 80.2h0.8v0.8h-0.8zM401.8 80.3h0.8v0.8h-0.8zM392.0 82.6h0.8v0.8h-0.8zM398.9 87.1h0.8v0.8h-0.8zM392.1 97.5h0.8v0.8h-0.8zM404.3 80.2h0.8v0.8h-0.8zM397.3 75.7h0.8v0.8h-0.8zM403.1 73.0h0.8v0.8h-0.8zM399.4 75.2h0.8v0.8h-0.8zM392.5 87.2h0.8v0.8h-0.8zM402.7 79.9h0.8v0.8h-0.8zM392.6 88.1h0.8v0.8h-0.8zM395.8 83.1h0.8v0.8h-0.8zM403.6 91.3h0.8v0.8h-0.8zM396.0 87.9h0.8v0.8h-0.8zM392.8 79.6h0.8v0.8h-0.8zM387.3 97.9h0.8v0.8h-0.8zM402.8 67.8h0.8v0.8h-0.8zM388.5 63.8h0.8v0.8h-0.8zM401.9 75.4h0.8v0.8h-0.8zM395.7 76.9h0.8v0.8h-0.8zM395.4 69.1h0.8v0.8h-0.8zM396.1 65.6h0.8v0.8h-0.8zM395.6 83.1h0.8v0.8h-0.8zM398.3 77.7h0.8v0.8h-0.8zM391.5 81.6h0.8v0.8h-0.8zM393.6 95.7h0.8v0.8h-0.8zM399.8 78.8h0.8v0.8h-0.8zM393.6 73.0h0.8v0.8h-0.8zM391.3 76.5h0.8v0.8h-0.8zM397.5 85.2h0.8v0.8h-0.8zM392.5 80.1h0.8v0.8h-0.8zM410.0 61.3h0.8v0.8h-0.8zM393.4 81.7h0.8v0.8h-0.8zM396.8 84.1h0.8v0.8h-0.8zM394.8 83.7h0.8v0.8h-0.8zM396.3 87.7h0.8v0.8h-0.8zM386.5 71.1h0.8v0.8h-0.8zM396.0 69.7h0.8v0.8h-0.8zM390.8 86.3h0.8v0.8h-0.8zM392.8 86.3h0.8v0.8h-0.8zM399.7 83.1h0.8v0.8h-0.8zM398.5 79.0h0.8v0.8h-0.8zM389.0 79.7h0.8v0.8h-0.8zM398.3 74.7h0.8v0.8h-0.8zM395.5 87.5h0.8v0.8h-0.8zM391.6 86.4h0.8v0.8h-0.8zM405.3 74.5h0.8v0.8h-0.8zM396.7 78.5h0.8v0.8h-0.8zM403.7 83.2h0.8v0.8h-0.8zM400.5 73.1h0.8v0.8h-0.8zM395.9 79.9h0.8v0.8h-0.8zM387.1 94.4h0.8v0.8h-0.8zM400.5 62.5h0.8v0.8h-0.8zM399.7 78.7h0.8v0.8h-0.8zM398.2 83.7h0.8v0.8h-0.8zM388.5 77.9h0.8v0.8h-0.8zM403.5 74.3h0.8v0.8h-0.8zM390.9 66.4h0.8v0.8h-0.8zM389.9 83.4h0.8v0.8h-0.8zM404.5 84.3h0.8v0.8h-0.8zM393.4 73.3h0.8v0.8h-0.8zM398.6 85.5h0.8v0.8h-0.8zM390.9 68.3h0.8v0.8h-0.8zM397.5 82.5h0.8v0.8h-0.8zM389.5 78.0h0.8v0.8h-0.8zM393.3 84.6h0.8v0.8h-0.8zM395.4 79.1h0.8v0.8h-0.8zM394.2 90.5h0.8v0.8h-0.8zM403.0 76.3h0.8v0.8h-0.8zM400.2 72.4h0.8v0.8h-0.8zM396.4 87.5h0.8v0.8h-0.8zM403.6 76.2h0.8v0.8h-0.8zM395.6 82.0h0.8v0.8h-0.8zM388.5 80.2h0.8v0.8h-0.8zM392.6 83.7h0.8v0.8h-0.8zM390.4 60.2h0.8v0.8h-0.8zM396.2 82.6h0.8v0.8h-0.8zM393.3 88.9h0.8v0.8h-0.8zM394.6 73.9h0.8v0.8h-0.8zM398.4 64.3h0.8v0.8h-0.8zM392.6 79.8h0.8v0.8h-0.8zM400.2 78.4h0.8v0.8h-0.8zM397.5 73.4h0.8v0.8h-0.8zM397.5 96.6h0.8v0.8h-0.8zM392.8 80.2h0.8v0.8h-0.8zM396.9 90.2h0.8v0.8h-0.8zM389.8 59.0h0.8v0.8h-0.8zM399.0 88.0h0.8v0.8h-0.8zM397.0 82.5h0.8v0.8h-0.8zM400.6 83.7h0.8v0.8h-0.8zM404.3 67.6h0.8v0.8h-0.8zM400.1 76.3h0.8v0.8h-0.8zM396.0 77.5h0.8v0.8h-0.8zM393.5 71.6h0.8v0.8h-0.8zM392.8 86.4h0.8v0.8h-0.8zM396.2 80.7h0.8v0.8h-0.8zM395.1 89.1h0.8v0.8h-0.8zM398.5 78.6h0.8v0.8h-0.8zM399.3 78.5h0.8v0.8h-0.8zM390.2 94.6h0.8v0.8h-0.8zM398.3 70.4h0.8v0.8h-0.8zM401.4 83.4h0.8v0.8h-0.8zM388.2 96.1h0.8v0.8h-0.8zM397.7 88.9h0.8v0.8h-0.8zM397.0 78.5h0.8v0.8h-0.8zM388.3 89.7h0.8v0.8h-0.8zM396.2 77.1h0.8v0.8h-0.8zM397.8 80.8h0.8v0.8h-0.8zM399.4 76.3h0.8v0.8h-0.8zM395.8 58.6h0.8v0.8h-0.8zM393.9 86.8h0.8v0.8h-0.8zM402.7 76.4h0.8v0.8h-0.8zM395.4 95.8h0.8v0.8h-0.8zM394.4 87.3h0.8v0.8h-0.8zM404.4 80.4h0.8v0.8h-0.8zM402.1 72.9h0.8v0.8h-0.8zM397.0 79.2h0.8v0.8h-0.8zM396.6 91.3h0.8v0.8h-0.8zM407.9 73.3h0.8v0.8h-0.8zM393.1 85.0h0.8v0.8h-0.8zM390.7 85.0h0.8v0.8h-0.8zM398.9 77.2h0.8v0.8h-0.8zM398.7 64.5h0.8v0.8h-0.8zM399.8 64.6h0.8v0.8h-0.8zM392.5 74.4h0.8v0.8h-0.8zM394.0 88.6h0.8v0.8h-0.8zM396.4 76.0h0.8v0.8h-0.8zM398.7 95.8h0.8v0.8h-0.8zM396.0 83.7h0.8v0.8h-0.8zM402.2 82.7h0.8v0.8h-0.8zM407.0 60.2h0.8v0.8h-0.8zM395.8 84.2h0.8v0.8h-0.8zM400.8 86.7h0.8v0.8h-0.8zM394.6 69.5h0.8v0.8h-0.8zM396.5 90.3h0.8v0.8h-0.8zM390.6 69.7h0.8v0.8h-0.8zM395.9 60.6h0.8v0.8h-0.8zM394.7 75.6h0.8v0.8h-0.8zM398.3 73.0h0.8v0.8h-0.8zM391.6 76.1h0.8v0.8h-0.8zM395.8 73.4h0.8v0.8h-0.8zM396.1 87.5h0.8v0.8h-0.8zM401.9 97.0h0.8v0.8h-0.8zM392.1 75.8h0.8v0.8h-0.8zM383.6 99.0h0.8v0.8h-0.8zM392.4 79.7h0.8v0.8h-0.8zM398.6 66.4h0.8v0.8h-0.8zM398.3 79.7h0.8v0.8h-0.8zM386.9 82.9h0.8v0.8h-0.8zM402.0 61.3h0.8v0.8h-0.8zM400.0 82.1h0.8v0.8h-0.8zM398.4 84.4h0.8v0.8h-0.8zM402.5 77.8h0.8v0.8h-0.8zM400.4 75.9h0.8v0.8h-0.8zM399.6 71.9h0.8v0.8h-0.8zM395.5 97.3h0.8v0.8h-0.8zM398.2 78.4h0.8v0.8h-0.8zM390.3 72.1h0.8v0.8h-0.8zM397.0 89.4h0.8v0.8h-0.8zM398.1 85.2h0.8v0.8h-0.8zM395.8 93.5h0.8v0.8h-0.8zM394.0 74.5h0.8v0.8h-0.8zM400.4 80.6h0.8v0.8h-0.8zM394.6 74.2h0.8v0.8h-0.8zM394.7 86.2h0.8v0.8h-0.8zM397.8 67.9h0.8v0.8h-0.8zM398.1 81.8h0.8v0.8h-0.8zM391.0 87.7h0.8v0.8h-0.8zM394.6 76.6h0.8v0.8h-0.8zM400.0 93.2h0.8v0.8h-0.8zM392.6 84.4h0.8v0.8h-0.8zM393.5 91.9h0.8v0.8h-0.8zM392.8 88.1h0.8v0.8h-0.8zM393.8 85.0h0.8v0.8h-0.8zM395.5 73.3h0.8v0.8h-0.8zM406.8 80.8h0.8v0.8h-0.8zM387.8 88.5h0.8v0.8h-0.8zM387.4 91.5h0.8v0.8h-0.8zM393.1 81.4h0.8v0.8h-0.8zM402.3 81.2h0.8v0.8h-0.8zM389.0 63.0h0.8v0.8h-0.8zM401.9 87.4h0.8v0.8h-0.8zM391.9 88.6h0.8v0.8h-0.8zM398.5 86.5h0.8v0.8h-0.8zM384.7 77.0h0.8v0.8h-0.8zM400.5 87.3h0.8v0.8h-0.8zM396.8 84.9h0.8v0.8h-0.8zM408.8 70.5h0.8v0.8h-0.8zM394.4 80.4h0.8v0.8h-0.8zM400.4 75.6h0.8v0.8h-0.8zM401.7 72.1h0.8v0.8h-0.8zM397.3 74.7h0.8v0.8h-0.8zM396.8 73.1h0.8v0.8h-0.8zM388.0 90.9h0.8v0.8h-0.8zM397.5 74.4h0.8v0.8h-0.8zM397.0 89.9h0.8v0.8h-0.8zM391.1 78.9h0.8v0.8h-0.8zM398.7 85.3h0.8v0.8h-0.8zM394.3 58.9h0.8v0.8h-0.8z"/>
<path fill="#666" opacity="0.45" d="M407.7 72.1h0.8v0.8h-0.8zM405.0 70.0h0.8v0.8h-0.8zM405.6 69.5h0.8v0.8h-0.8zM402.7 68.4h0.8v0.8h-0.8zM403.7 68.9h0.8v0.8h-0.8zM402.5 73.2h0.8v0.8h-0.8zM402.1 73.3h0.8v0.8h-0.8zM402.8 72.2h0.8v0.8h-0.8zM408.0 71.7h0.8v0.8h-0.8zM403.4 71.2h0.8v0.8h-0.8zM405.3 64.9h0.8v0.8h-0.8zM403.7 71.6h0.8v0.8h-0.8zM404.0 71.3h0.8v0.8h-0.8zM406.6 73.7h0.8v0.8h-0.8zM407.0 73.1h0.8v0.8h-0.8zM404.4 70.9h0.8v0.8h-0.8zM404.4 69.9h0.8v0.8h-0.8zM404.6 65.0h0.8v0.8h-0.8zM404.3 70.9h0.8v0.8h-0.8zM402.9 70.9h0.8v0.8h-0.8zM406.1 70.4h0.8v0.8h-0.8zM409.6 61.9h0.8v0.8h-0.8zM404.5 64.6h0.8v0.8h-0.8zM407.2 80.3h0.8v0.8h-0.8zM399.5 71.4h0.8v0.8h-0.8zM406.1 69.9h0.8v0.8h-0.8zM406.2 63.1h0.8v0.8h-0.8zM406.9 72.3h0.8v0.8h-0.8zM405.1 68.9h0.8v0.8h-0.8zM406.4 69.3h0.8v0.8h-0.8zM405.5 69.2h0.8v0.8h-0.8zM400.1 70.9h0.8v0.8h-0.8zM405.4 73.6h0.8v0.8h-0.8zM403.1 70.9h0.8v0.8h-0.8zM406.4 71.5h0.8v0.8h-0.8zM407.7 78.0h0.8v0.8h-0.8zM403.0 64.3h0.8v0.8h-0.8zM406.9 76.4h0.8v0.8h-0.8zM407.0 73.8h0.8v0.8h-0.8zM403.6 68.5h0.8v0.8h-0.8zM407.0 67.8h0.8v0.8h-0.8zM401.0 67.5h0.8v0.8h-0.8zM410.5 77.7h0.8v0.8h-0.8zM403.5 68.4h0.8v0.8h-0.8zM405.5 68.4h0.8v0.8h-0.8zM407.9 70.7h0.8v0.8h-0.8zM402.6 75.6h0.8v0.8h-0.8zM403.7 71.8h0.8v0.8h-0.8zM405.0 69.9h0.8v0.8h-0.8zM405.7 68.6h0.8v0.8h-0.8zM400.9 63.3h0.8v0.8h-0.8zM402.2 68.3h0.8v0.8h-0.8zM404.9 71.2h0.8v0.8h-0.8zM406.2 71.4h0.8v0.8h-0.8zM403.3 68.5h0.8v0.8h-0.8zM400.3 70.4h0.8v0.8h-0.8zM406.1 72.9h0.8v0.8h-0.8zM404.7 70.4h0.8v0.8h-0.8zM407.1 71.1h0.8v0.8h-0.8zM406.6 73.0h0.8v0.8h-0.8zM405.5 75.6h0.8v0.8h-0.8zM403.7 69.7h0.8v0.8h-0.8zM403.2 68.2h0.8v0.8h-0.8zM408.4 77.2h0.8v0.8h-0.8zM405.1 73.0h0.8v0.8h-0.8zM407.6 73.8h0.8v0.8h-0.8zM407.7 66.6h0.8v0.8h-0.8zM403.6 72.6h0.8v0.8h-0.8zM408.2 71.4h0.8v0.8h-0.8zM403.1 69.8h0.8v0.8h-0.8z"/>
<rect x="371.5" y="40.2" width="61.8" height="61" fill="none" stroke="#222" stroke-width="1.3"/>
<rect x="380.8" y="58.3" width="31.8" height="42.5" fill="none" stroke="#111" stroke-width="1.5"/>
<line x1="380.8" y1="77.1" x2="412.6" y2="77.1" stroke="#111" stroke-width="1.8"/>
<path fill="#444" opacity="0.4" d="M463.4 32.6h0.9v0.9h-0.9zM472.2 36.8h0.9v0.9h-0.9zM462.0 45.6h0.9v0.9h-0.9zM469.5 40.2h0.9v0.9h-0.9zM461.8 37.7h0.9v0.9h-0.9zM471.0 42.0h0.9v0.9h-0.9zM470.2 39.3h0.9v0.9h-0.9zM467.5 37.0h0.9v0.9h-0.9zM464.9 42.8h0.9v0.9h-0.9zM459.0 34.6h0.9v0.9h-0.9zM466.8 35.1h0.9v0.9h-0.9zM462.6 39.6h0.9v0.9h-0.9zM472.6 42.6h0.9v0.9h-0.9zM468.6 31.4h0.9v0.9h-0.9zM473.0 40.3h0.9v0.9h-0.9zM466.5 32.5h0.9v0.9h-0.9zM466.3 32.6h0.9v0.9h-0.9zM464.6 38.9h0.9v0.9h-0.9zM464.7 38.2h0.9v0.9h-0.9zM459.3 41.3h0.9v0.9h-0.9zM464.8 28.8h0.9v0.9h-0.9zM465.3 33.7h0.9v0.9h-0.9zM461.2 34.0h0.9v0.9h-0.9zM467.9 32.8h0.9v0.9h-0.9zM462.4 42.4h0.9v0.9h-0.9zM468.1 37.5h0.9v0.9h-0.9zM465.7 36.7h0.9v0.9h-0.9zM463.7 39.8h0.9v0.9h-0.9zM468.1 27.4h0.9v0.9h-0.9zM466.2 33.5h0.9v0.9h-0.9zM468.6 35.6h0.9v0.9h-0.9zM462.5 45.8h0.9v0.9h-0.9zM462.2 31.0h0.9v0.9h-0.9zM462.5 25.4h0.9v0.9h-0.9zM456.5 35.5h0.9v0.9h-0.9zM465.0 28.6h0.9v0.9h-0.9zM457.8 37.2h0.9v0.9h-0.9zM462.2 34.4h0.9v0.9h-0.9zM464.4 42.9h0.9v0.9h-0.9zM471.7 44.1h0.9v0.9h-0.9zM465.3 37.9h0.9v0.9h-0.9zM470.6 45.4h0.9v0.9h-0.9zM463.0 38.3h0.9v0.9h-0.9zM466.1 37.6h0.9v0.9h-0.9zM464.8 31.0h0.9v0.9h-0.9zM465.0 30.1h0.9v0.9h-0.9zM469.4 41.0h0.9v0.9h-0.9zM457.9 40.7h0.9v0.9h-0.9zM471.5 30.8h0.9v0.9h-0.9zM471.6 43.0h0.9v0.9h-0.9zM475.5 35.3h0.9v0.9h-0.9zM466.6 39.5h0.9v0.9h-0.9zM465.6 38.0h0.9v0.9h-0.9zM471.6 32.7h0.9v0.9h-0.9zM461.8 29.6h0.9v0.9h-0.9zM463.5 33.8h0.9v0.9h-0.9zM466.2 38.6h0.9v0.9h-0.9zM466.1 34.4h0.9v0.9h-0.9zM461.8 40.1h0.9v0.9h-0.9zM468.1 38.6h0.9v0.9h-0.9zM461.4 42.6h0.9v0.9h-0.9zM461.6 38.6h0.9v0.9h-0.9zM470.3 37.7h0.9v0.9h-0.9zM470.1 33.9h0.9v0.9h-0.9zM469.0 39.3h0.9v0.9h-0.9zM457.3 37.2h0.9v0.9h-0.9zM459.4 40.7h0.9v0.9h-0.9zM462.4 35.3h0.9v0.9h-0.9zM466.7 36.1h0.9v0.9h-0.9zM466.9 35.2h0.9v0.9h-0.9zM467.8 38.1h0.9v0.9h-0.9zM469.8 26.5h0.9v0.9h-0.9zM469.9 38.9h0.9v0.9h-0.9zM457.3 34.6h0.9v0.9h-0.9zM465.4 41.9h0.9v0.9h-0.9zM458.2 41.4h0.9v0.9h-0.9zM460.9 46.2h0.9v0.9h-0.9zM463.4 39.5h0.9v0.9h-0.9zM465.1 32.0h0.9v0.9h-0.9zM468.3 42.3h0.9v0.9h-0.9zM470.3 42.8h0.9v0.9h-0.9zM465.0 29.6h0.9v0.9h-0.9zM463.2 33.3h0.9v0.9h-0.9zM460.7 38.0h0.9v0.9h-0.9zM466.8 36.4h0.9v0.9h-0.9zM465.9 36.7h0.9v0.9h-0.9zM464.8 40.3h0.9v0.9h-0.9zM470.0 35.8h0.9v0.9h-0.9zM456.6 40.3h0.9v0.9h-0.9zM463.9 41.5h0.9v0.9h-0.9zM458.5 33.2h0.9v0.9h-0.9zM467.2 31.4h0.9v0.9h-0.9zM461.8 39.1h0.9v0.9h-0.9zM467.3 45.0h0.9v0.9h-0.9zM463.4 30.1h0.9v0.9h-0.9zM465.8 41.5h0.9v0.9h-0.9zM467.7 32.2h0.9v0.9h-0.9zM467.2 41.3h0.9v0.9h-0.9zM468.0 35.9h0.9v0.9h-0.9zM465.1 40.6h0.9v0.9h-0.9zM465.3 28.9h0.9v0.9h-0.9zM465.7 39.4h0.9v0.9h-0.9zM463.8 40.5h0.9v0.9h-0.9zM462.6 35.8h0.9v0.9h-0.9zM462.9 38.8h0.9v0.9h-0.9zM472.1 38.5h0.9v0.9h-0.9zM471.5 46.2h0.9v0.9h-0.9zM467.5 40.5h0.9v0.9h-0.9zM472.7 39.0h0.9v0.9h-0.9zM466.1 32.6h0.9v0.9h-0.9zM465.1 43.0h0.9v0.9h-0.9zM466.6 39.5h0.9v0.9h-0.9zM463.9 37.4h0.9v0.9h-0.9zM457.5 38.9h0.9v0.9h-0.9zM464.9 32.0h0.9v0.9h-0.9zM463.0 32.6h0.9v0.9h-0.9zM467.1 42.5h0.9v0.9h-0.9zM457.9 38.6h0.9v0.9h-0.9zM469.6 36.1h0.9v0.9h-0.9zM459.8 31.8h0.9v0.9h-0.9zM461.8 37.4h0.9v0.9h-0.9zM466.4 28.4h0.9v0.9h-0.9zM468.2 31.3h0.9v0.9h-0.9zM470.6 33.6h0.9v0.9h-0.9zM463.3 32.6h0.9v0.9h-0.9zM460.8 41.3h0.9v0.9h-0.9zM467.7 40.7h0.9v0.9h-0.9zM468.6 31.4h0.9v0.9h-0.9zM463.6 34.0h0.9v0.9h-0.9zM460.1 37.5h0.9v0.9h-0.9zM462.9 33.1h0.9v0.9h-0.9zM463.5 27.3h0.9v0.9h-0.9zM465.6 43.2h0.9v0.9h-0.9zM467.1 33.4h0.9v0.9h-0.9zM469.7 40.0h0.9v0.9h-0.9zM466.8 44.3h0.9v0.9h-0.9zM470.4 37.0h0.9v0.9h-0.9zM468.3 41.7h0.9v0.9h-0.9zM459.1 33.0h0.9v0.9h-0.9zM459.1 34.4h0.9v0.9h-0.9zM469.0 33.7h0.9v0.9h-0.9zM464.5 43.4h0.9v0.9h-0.9zM457.9 39.1h0.9v0.9h-0.9zM470.9 48.1h0.9v0.9h-0.9zM463.7 37.7h0.9v0.9h-0.9zM462.9 40.7h0.9v0.9h-0.9zM469.3 38.9h0.9v0.9h-0.9zM458.2 37.8h0.9v0.9h-0.9zM462.1 38.8h0.9v0.9h-0.9zM463.8 43.8h0.9v0.9h-0.9zM470.5 37.0h0.9v0.9h-0.9zM463.9 44.5h0.9v0.9h-0.9zM462.1 37.9h0.9v0.9h-0.9zM468.2 43.8h0.9v0.9h-0.9zM469.1 32.6h0.9v0.9h-0.9zM459.3 36.0h0.9v0.9h-0.9zM463.0 47.7h0.9v0.9h-0.9zM459.7 40.2h0.9v0.9h-0.9zM470.7 31.6h0.9v0.9h-0.9zM461.3 36.4h0.9v0.9h-0.9zM463.1 35.6h0.9v0.9h-0.9zM468.2 34.5h0.9v0.9h-0.9zM467.9 35.2h0.9v0.9h-0.9zM461.9 38.3h0.9v0.9h-0.9zM462.2 37.3h0.9v0.9h-0.9zM471.7 39.6h0.9v0.9h-0.9zM463.3 39.7h0.9v0.9h-0.9zM461.9 40.7h0.9v0.9h-0.9zM458.7 37.5h0.9v0.9h-0.9zM464.0 33.1h0.9v0.9h-0.9zM473.7 36.4h0.9v0.9h-0.9zM471.5 42.3h0.9v0.9h-0.9zM472.5 35.4h0.9v0.9h-0.9zM468.0 44.6h0.9v0.9h-0.9zM464.7 36.3h0.9v0.9h-0.9zM475.1 41.5h0.9v0.9h-0.9zM464.1 33.9h0.9v0.9h-0.9zM466.4 39.0h0.9v0.9h-0.9zM463.3 44.1h0.9v0.9h-0.9zM462.9 38.4h0.9v0.9h-0.9zM472.6 35.3h0.9v0.9h-0.9zM466.8 45.8h0.9v0.9h-0.9zM460.8 30.6h0.9v0.9h-0.9zM463.3 28.1h0.9v0.9h-0.9zM469.6 30.4h0.9v0.9h-0.9zM465.0 43.5h0.9v0.9h-0.9zM458.6 33.3h0.9v0.9h-0.9zM455.8 37.1h0.9v0.9h-0.9zM462.3 34.8h0.9v0.9h-0.9zM464.4 39.2h0.9v0.9h-0.9zM463.5 36.5h0.9v0.9h-0.9zM462.5 36.6h0.9v0.9h-0.9zM460.0 35.4h0.9v0.9h-0.9zM457.5 32.1h0.9v0.9h-0.9zM473.0 40.3h0.9v0.9h-0.9zM459.3 36.1h0.9v0.9h-0.9zM463.3 29.0h0.9v0.9h-0.9zM460.8 38.8h0.9v0.9h-0.9zM466.8 37.2h0.9v0.9h-0.9zM462.6 31.3h0.9v0.9h-0.9zM470.4 40.0h0.9v0.9h-0.9zM464.0 27.2h0.9v0.9h-0.9zM455.7 44.7h0.9v0.9h-0.9zM460.3 34.9h0.9v0.9h-0.9zM466.1 36.7h0.9v0.9h-0.9zM465.8 31.2h0.9v0.9h-0.9zM458.1 42.0h0.9v0.9h-0.9zM460.6 39.2h0.9v0.9h-0.9zM458.2 33.3h0.9v0.9h-0.9zM464.6 41.5h0.9v0.9h-0.9zM459.4 37.6h0.9v0.9h-0.9zM467.7 34.7h0.9v0.9h-0.9zM468.3 34.2h0.9v0.9h-0.9zM461.7 35.7h0.9v0.9h-0.9zM462.9 29.7h0.9v0.9h-0.9zM462.1 39.4h0.9v0.9h-0.9zM461.5 41.4h0.9v0.9h-0.9zM462.0 30.0h0.9v0.9h-0.9zM471.0 41.0h0.9v0.9h-0.9zM470.2 35.2h0.9v0.9h-0.9zM468.0 39.3h0.9v0.9h-0.9zM467.7 38.1h0.9v0.9h-0.9zM471.0 36.3h0.9v0.9h-0.9zM463.0 29.7h0.9v0.9h-0.9zM471.0 35.9h0.9v0.9h-0.9zM461.9 31.7h0.9v0.9h-0.9zM464.9 31.3h0.9v0.9h-0.9zM464.7 34.1h0.9v0.9h-0.9zM464.0 32.4h0.9v0.9h-0.9zM465.8 35.2h0.9v0.9h-0.9zM465.1 38.2h0.9v0.9h-0.9zM469.6 28.9h0.9v0.9h-0.9zM463.9 33.0h0.9v0.9h-0.9zM470.5 32.0h0.9v0.9h-0.9zM462.4 34.7h0.9v0.9h-0.9zM462.2 40.4h0.9v0.9h-0.9zM461.7 40.1h0.9v0.9h-0.9zM461.4 27.6h0.9v0.9h-0.9zM469.5 40.6h0.9v0.9h-0.9zM466.9 38.2h0.9v0.9h-0.9zM468.8 32.9h0.9v0.9h-0.9zM469.8 36.4h0.9v0.9h-0.9zM469.0 38.9h0.9v0.9h-0.9zM458.5 28.9h0.9v0.9h-0.9zM470.0 38.2h0.9v0.9h-0.9zM463.0 37.3h0.9v0.9h-0.9zM464.0 34.2h0.9v0.9h-0.9zM465.2 37.7h0.9v0.9h-0.9zM471.3 39.5h0.9v0.9h-0.9zM470.4 47.0h0.9v0.9h-0.9zM470.7 43.8h0.9v0.9h-0.9zM465.4 37.7h0.9v0.9h-0.9zM465.4 33.9h0.9v0.9h-0.9zM465.6 34.4h0.9v0.9h-0.9zM471.2 41.6h0.9v0.9h-0.9zM465.9 28.8h0.9v0.9h-0.9zM465.4 35.3h0.9v0.9h-0.9zM462.0 30.8h0.9v0.9h-0.9zM461.0 47.1h0.9v0.9h-0.9zM465.1 36.4h0.9v0.9h-0.9zM470.9 39.8h0.9v0.9h-0.9zM466.2 35.8h0.9v0.9h-0.9zM460.3 42.0h0.9v0.9h-0.9zM466.8 45.3h0.9v0.9h-0.9zM463.5 36.6h0.9v0.9h-0.9zM459.9 39.5h0.9v0.9h-0.9zM458.3 37.1h0.9v0.9h-0.9zM467.6 44.3h0.9v0.9h-0.9zM459.5 39.9h0.9v0.9h-0.9zM463.1 32.9h0.9v0.9h-0.9zM457.7 39.5h0.9v0.9h-0.9zM472.8 37.2h0.9v0.9h-0.9zM462.3 34.5h0.9v0.9h-0.9zM474.2 44.8h0.9v0.9h-0.9zM465.3 29.1h0.9v0.9h-0.9zM460.5 40.7h0.9v0.9h-0.9zM473.3 38.8h0.9v0.9h-0.9zM462.8 33.9h0.9v0.9h-0.9zM455.7 37.7h0.9v0.9h-0.9zM458.9 39.5h0.9v0.9h-0.9zM459.6 29.4h0.9v0.9h-0.9zM467.3 34.4h0.9v0.9h-0.9zM468.3 38.2h0.9v0.9h-0.9zM459.1 37.6h0.9v0.9h-0.9zM471.3 30.7h0.9v0.9h-0.9zM472.0 41.8h0.9v0.9h-0.9zM470.9 30.8h0.9v0.9h-0.9zM462.5 34.5h0.9v0.9h-0.9zM471.7 32.9h0.9v0.9h-0.9zM464.2 27.6h0.9v0.9h-0.9zM463.5 38.0h0.9v0.9h-0.9zM458.7 32.1h0.9v0.9h-0.9zM464.9 44.0h0.9v0.9h-0.9zM468.2 36.8h0.9v0.9h-0.9zM461.4 31.5h0.9v0.9h-0.9zM462.0 36.6h0.9v0.9h-0.9zM462.4 43.5h0.9v0.9h-0.9zM467.8 33.2h0.9v0.9h-0.9zM470.2 43.1h0.9v0.9h-0.9zM466.5 34.3h0.9v0.9h-0.9zM458.6 30.1h0.9v0.9h-0.9zM470.0 35.2h0.9v0.9h-0.9zM459.1 35.7h0.9v0.9h-0.9zM465.2 39.8h0.9v0.9h-0.9zM465.7 43.6h0.9v0.9h-0.9zM460.0 39.6h0.9v0.9h-0.9zM459.8 38.2h0.9v0.9h-0.9zM465.4 38.2h0.9v0.9h-0.9zM469.1 38.4h0.9v0.9h-0.9zM468.4 42.2h0.9v0.9h-0.9zM466.4 35.0h0.9v0.9h-0.9zM462.6 33.8h0.9v0.9h-0.9zM464.2 36.6h0.9v0.9h-0.9zM476.7 44.1h0.9v0.9h-0.9zM469.5 34.8h0.9v0.9h-0.9zM462.5 34.6h0.9v0.9h-0.9zM467.3 33.2h0.9v0.9h-0.9zM472.6 37.3h0.9v0.9h-0.9zM472.9 29.4h0.9v0.9h-0.9zM464.6 38.1h0.9v0.9h-0.9zM464.9 39.7h0.9v0.9h-0.9zM466.0 38.1h0.9v0.9h-0.9zM458.0 31.3h0.9v0.9h-0.9zM466.6 36.7h0.9v0.9h-0.9zM462.4 33.4h0.9v0.9h-0.9zM470.3 46.7h0.9v0.9h-0.9zM462.9 42.0h0.9v0.9h-0.9zM461.1 26.9h0.9v0.9h-0.9zM464.2 32.8h0.9v0.9h-0.9zM462.4 36.9h0.9v0.9h-0.9zM478.7 39.0h0.9v0.9h-0.9zM464.8 38.2h0.9v0.9h-0.9zM463.5 40.6h0.9v0.9h-0.9zM474.3 34.8h0.9v0.9h-0.9zM466.1 36.2h0.9v0.9h-0.9zM468.7 31.5h0.9v0.9h-0.9zM460.9 25.2h0.9v0.9h-0.9zM466.9 38.6h0.9v0.9h-0.9zM468.7 27.8h0.9v0.9h-0.9zM464.5 33.4h0.9v0.9h-0.9zM460.3 31.2h0.9v0.9h-0.9zM467.2 40.2h0.9v0.9h-0.9zM464.2 39.0h0.9v0.9h-0.9zM462.3 36.4h0.9v0.9h-0.9zM464.4 39.3h0.9v0.9h-0.9zM464.9 36.3h0.9v0.9h-0.9zM465.4 34.2h0.9v0.9h-0.9zM473.7 42.5h0.9v0.9h-0.9zM463.5 46.7h0.9v0.9h-0.9zM473.2 33.0h0.9v0.9h-0.9zM466.7 41.4h0.9v0.9h-0.9zM471.1 45.1h0.9v0.9h-0.9zM469.9 33.5h0.9v0.9h-0.9zM460.9 36.7h0.9v0.9h-0.9zM468.6 33.7h0.9v0.9h-0.9zM463.9 34.8h0.9v0.9h-0.9zM464.8 38.4h0.9v0.9h-0.9zM465.6 31.7h0.9v0.9h-0.9zM468.0 45.2h0.9v0.9h-0.9zM463.1 40.9h0.9v0.9h-0.9zM465.9 40.3h0.9v0.9h-0.9zM468.1 34.7h0.9v0.9h-0.9zM466.0 41.9h0.9v0.9h-0.9zM458.4 43.4h0.9v0.9h-0.9zM471.2 47.4h0.9v0.9h-0.9zM472.3 43.0h0.9v0.9h-0.9zM464.4 34.1h0.9v0.9h-0.9zM461.4 36.2h0.9v0.9h-0.9zM463.9 39.6h0.9v0.9h-0.9zM474.7 40.4h0.9v0.9h-0.9zM467.2 39.9h0.9v0.9h-0.9zM466.5 36.6h0.9v0.9h-0.9zM465.7 33.6h0.9v0.9h-0.9zM465.8 37.2h0.9v0.9h-0.9zM467.6 34.1h0.9v0.9h-0.9zM465.1 37.2h0.9v0.9h-0.9zM469.1 33.7h0.9v0.9h-0.9zM465.4 41.5h0.9v0.9h-0.9zM468.1 36.5h0.9v0.9h-0.9zM463.3 35.3h0.9v0.9h-0.9zM465.9 44.3h0.9v0.9h-0.9zM465.3 34.2h0.9v0.9h-0.9zM466.3 38.4h0.9v0.9h-0.9zM462.2 32.7h0.9v0.9h-0.9zM463.6 39.5h0.9v0.9h-0.9zM461.4 31.1h0.9v0.9h-0.9zM468.9 32.9h0.9v0.9h-0.9zM465.0 38.6h0.9v0.9h-0.9zM466.0 32.8h0.9v0.9h-0.9zM465.2 35.6h0.9v0.9h-0.9zM467.6 34.2h0.9v0.9h-0.9zM472.0 32.1h0.9v0.9h-0.9zM464.2 36.8h0.9v0.9h-0.9zM469.9 36.1h0.9v0.9h-0.9zM468.1 35.6h0.9v0.9h-0.9zM465.6 45.0h0.9v0.9h-0.9zM462.7 38.1h0.9v0.9h-0.9zM459.7 39.4h0.9v0.9h-0.9zM470.1 39.0h0.9v0.9h-0.9zM459.6 36.8h0.9v0.9h-0.9zM468.3 43.1h0.9v0.9h-0.9zM471.1 31.0h0.9v0.9h-0.9zM460.1 41.6h0.9v0.9h-0.9zM458.2 39.6h0.9v0.9h-0.9zM471.9 42.9h0.9v0.9h-0.9zM470.2 37.4h0.9v0.9h-0.9zM460.0 34.7h0.9v0.9h-0.9zM464.2 36.5h0.9v0.9h-0.9zM468.2 37.5h0.9v0.9h-0.9zM465.2 39.0h0.9v0.9h-0.9zM462.3 44.3h0.9v0.9h-0.9zM466.7 38.0h0.9v0.9h-0.9zM465.0 34.2h0.9v0.9h-0.9zM470.5 39.7h0.9v0.9h-0.9zM461.2 33.1h0.9v0.9h-0.9zM465.1 35.0h0.9v0.9h-0.9zM471.3 34.1h0.9v0.9h-0.9zM466.9 38.3h0.9v0.9h-0.9zM460.0 35.4h0.9v0.9h-0.9zM463.9 38.8h0.9v0.9h-0.9zM462.7 37.5h0.9v0.9h-0.9zM459.5 30.2h0.9v0.9h-0.9zM466.8 42.3h0.9v0.9h-0.9zM465.8 34.6h0.9v0.9h-0.9zM472.6 30.4h0.9v0.9h-0.9zM460.7 38.4h0.9v0.9h-0.9zM469.2 33.9h0.9v0.9h-0.9zM466.9 33.7h0.9v0.9h-0.9zM463.9 40.6h0.9v0.9h-0.9zM471.1 29.9h0.9v0.9h-0.9zM470.8 31.2h0.9v0.9h-0.9zM469.2 40.3h0.9v0.9h-0.9zM475.4 38.1h0.9v0.9h-0.9zM463.5 41.1h0.9v0.9h-0.9zM463.3 33.2h0.9v0.9h-0.9zM463.5 36.1h0.9v0.9h-0.9zM459.7 37.2h0.9v0.9h-0.9zM467.2 38.1h0.9v0.9h-0.9zM472.7 38.3h0.9v0.9h-0.9zM471.3 36.9h0.9v0.9h-0.9zM471.0 30.5h0.9v0.9h-0.9zM466.1 36.6h0.9v0.9h-0.9zM463.8 33.8h0.9v0.9h-0.9zM464.6 33.6h0.9v0.9h-0.9zM456.6 31.3h0.9v0.9h-0.9zM463.4 34.1h0.9v0.9h-0.9zM460.7 34.8h0.9v0.9h-0.9zM468.7 37.2h0.9v0.9h-0.9zM461.0 41.6h0.9v0.9h-0.9zM467.8 42.1h0.9v0.9h-0.9zM470.4 37.5h0.9v0.9h-0.9zM462.9 41.2h0.9v0.9h-0.9zM462.8 35.7h0.9v0.9h-0.9zM466.1 39.1h0.9v0.9h-0.9zM462.4 40.5h0.9v0.9h-0.9zM463.2 39.6h0.9v0.9h-0.9zM468.6 41.2h0.9v0.9h-0.9zM469.8 33.6h0.9v0.9h-0.9zM460.3 32.5h0.9v0.9h-0.9zM464.9 43.7h0.9v0.9h-0.9zM459.4 36.3h0.9v0.9h-0.9zM462.4 32.8h0.9v0.9h-0.9zM462.8 39.3h0.9v0.9h-0.9zM464.2 42.0h0.9v0.9h-0.9zM459.6 39.0h0.9v0.9h-0.9zM468.8 38.7h0.9v0.9h-0.9zM467.8 35.5h0.9v0.9h-0.9zM461.0 33.7h0.9v0.9h-0.9zM458.1 47.4h0.9v0.9h-0.9zM460.6 42.8h0.9v0.9h-0.9zM465.4 38.5h0.9v0.9h-0.9zM469.3 35.1h0.9v0.9h-0.9zM468.3 39.9h0.9v0.9h-0.9zM457.7 37.0h0.9v0.9h-0.9zM466.7 39.6h0.9v0.9h-0.9zM472.3 37.8h0.9v0.9h-0.9zM466.1 40.7h0.9v0.9h-0.9zM459.5 40.3h0.9v0.9h-0.9zM460.7 29.6h0.9v0.9h-0.9zM468.8 33.5h0.9v0.9h-0.9zM466.9 30.3h0.9v0.9h-0.9zM466.9 32.6h0.9v0.9h-0.9zM468.6 31.5h0.9v0.9h-0.9zM467.3 36.6h0.9v0.9h-0.9zM465.4 36.8h0.9v0.9h-0.9zM467.5 32.0h0.9v0.9h-0.9zM461.7 33.8h0.9v0.9h-0.9zM469.7 29.8h0.9v0.9h-0.9zM462.6 33.4h0.9v0.9h-0.9zM460.1 36.7h0.9v0.9h-0.9zM465.6 33.5h0.9v0.9h-0.9z"/>
<path fill="#666" opacity="0.3" d="M460.1 46.8h0.8v0.8h-0.8zM462.0 45.5h0.8v0.8h-0.8zM468.7 30.6h0.8v0.8h-0.8zM459.5 42.0h0.8v0.8h-0.8zM468.1 46.7h0.8v0.8h-0.8zM470.8 48.2h0.8v0.8h-0.8zM463.8 40.7h0.8v0.8h-0.8zM470.7 39.4h0.8v0.8h-0.8zM472.3 32.5h0.8v0.8h-0.8zM469.9 41.0h0.8v0.8h-0.8zM467.9 42.1h0.8v0.8h-0.8zM459.5 39.2h0.8v0.8h-0.8zM475.1 37.0h0.8v0.8h-0.8zM458.8 41.2h0.8v0.8h-0.8zM463.6 36.5h0.8v0.8h-0.8zM460.9 48.3h0.8v0.8h-0.8zM457.3 53.7h0.8v0.8h-0.8zM462.7 35.4h0.8v0.8h-0.8zM470.7 45.4h0.8v0.8h-0.8zM459.7 46.5h0.8v0.8h-0.8zM472.8 40.5h0.8v0.8h-0.8zM458.2 45.1h0.8v0.8h-0.8zM471.5 41.9h0.8v0.8h-0.8zM455.2 39.9h0.8v0.8h-0.8zM468.5 46.6h0.8v0.8h-0.8zM477.1 40.5h0.8v0.8h-0.8zM463.1 41.8h0.8v0.8h-0.8zM473.2 36.4h0.8v0.8h-0.8zM473.8 25.5h0.8v0.8h-0.8zM470.8 37.9h0.8v0.8h-0.8zM468.8 46.1h0.8v0.8h-0.8zM458.9 41.5h0.8v0.8h-0.8zM467.4 45.5h0.8v0.8h-0.8zM460.4 36.1h0.8v0.8h-0.8zM464.8 40.7h0.8v0.8h-0.8zM457.0 47.6h0.8v0.8h-0.8zM462.8 50.6h0.8v0.8h-0.8zM471.1 42.1h0.8v0.8h-0.8zM470.4 35.3h0.8v0.8h-0.8zM464.0 38.5h0.8v0.8h-0.8zM458.4 42.1h0.8v0.8h-0.8zM465.1 50.6h0.8v0.8h-0.8zM460.5 39.2h0.8v0.8h-0.8zM468.5 44.4h0.8v0.8h-0.8zM466.2 39.2h0.8v0.8h-0.8zM469.0 44.2h0.8v0.8h-0.8zM457.8 34.9h0.8v0.8h-0.8zM466.9 42.4h0.8v0.8h-0.8zM466.7 36.7h0.8v0.8h-0.8zM464.8 36.5h0.8v0.8h-0.8zM468.3 46.1h0.8v0.8h-0.8zM476.5 49.6h0.8v0.8h-0.8zM461.2 39.3h0.8v0.8h-0.8zM460.4 43.8h0.8v0.8h-0.8zM477.9 46.3h0.8v0.8h-0.8zM458.2 45.1h0.8v0.8h-0.8zM466.0 43.8h0.8v0.8h-0.8zM476.7 37.0h0.8v0.8h-0.8zM460.9 53.8h0.8v0.8h-0.8zM468.1 37.3h0.8v0.8h-0.8zM466.3 48.0h0.8v0.8h-0.8zM465.2 37.8h0.8v0.8h-0.8zM461.6 53.4h0.8v0.8h-0.8zM455.4 43.0h0.8v0.8h-0.8zM466.2 45.7h0.8v0.8h-0.8zM463.6 45.0h0.8v0.8h-0.8zM470.9 41.1h0.8v0.8h-0.8zM463.3 40.9h0.8v0.8h-0.8zM460.2 40.8h0.8v0.8h-0.8zM464.2 43.3h0.8v0.8h-0.8zM474.0 49.8h0.8v0.8h-0.8zM463.3 45.6h0.8v0.8h-0.8zM467.8 46.6h0.8v0.8h-0.8zM466.1 43.6h0.8v0.8h-0.8zM463.2 37.3h0.8v0.8h-0.8zM471.2 49.8h0.8v0.8h-0.8zM470.0 44.6h0.8v0.8h-0.8zM467.6 39.3h0.8v0.8h-0.8zM455.3 46.0h0.8v0.8h-0.8zM467.2 38.7h0.8v0.8h-0.8zM460.2 49.7h0.8v0.8h-0.8zM455.2 52.6h0.8v0.8h-0.8zM469.8 56.2h0.8v0.8h-0.8zM461.7 41.9h0.8v0.8h-0.8zM463.0 42.9h0.8v0.8h-0.8zM464.7 37.5h0.8v0.8h-0.8zM472.4 37.3h0.8v0.8h-0.8zM463.0 45.3h0.8v0.8h-0.8zM462.8 39.4h0.8v0.8h-0.8zM468.1 39.8h0.8v0.8h-0.8zM458.5 41.4h0.8v0.8h-0.8zM464.7 52.2h0.8v0.8h-0.8zM459.4 47.8h0.8v0.8h-0.8zM461.3 39.9h0.8v0.8h-0.8zM464.0 43.6h0.8v0.8h-0.8zM471.2 52.5h0.8v0.8h-0.8zM462.2 50.0h0.8v0.8h-0.8zM472.0 46.9h0.8v0.8h-0.8zM461.4 47.4h0.8v0.8h-0.8zM465.4 44.1h0.8v0.8h-0.8zM464.4 46.0h0.8v0.8h-0.8zM472.7 48.8h0.8v0.8h-0.8zM464.8 48.0h0.8v0.8h-0.8zM474.7 36.4h0.8v0.8h-0.8zM474.8 34.0h0.8v0.8h-0.8zM469.3 45.6h0.8v0.8h-0.8zM474.9 43.7h0.8v0.8h-0.8zM463.1 37.2h0.8v0.8h-0.8zM458.5 46.6h0.8v0.8h-0.8zM464.6 37.7h0.8v0.8h-0.8zM469.2 37.4h0.8v0.8h-0.8zM463.4 39.2h0.8v0.8h-0.8zM475.9 50.8h0.8v0.8h-0.8zM465.1 32.6h0.8v0.8h-0.8zM467.7 42.4h0.8v0.8h-0.8zM468.1 45.4h0.8v0.8h-0.8zM464.1 47.6h0.8v0.8h-0.8zM471.0 43.3h0.8v0.8h-0.8zM463.6 39.1h0.8v0.8h-0.8zM470.2 35.4h0.8v0.8h-0.8zM465.0 37.5h0.8v0.8h-0.8zM457.6 45.6h0.8v0.8h-0.8zM465.8 42.2h0.8v0.8h-0.8zM471.2 33.0h0.8v0.8h-0.8zM465.6 43.7h0.8v0.8h-0.8zM471.0 35.5h0.8v0.8h-0.8zM470.3 43.3h0.8v0.8h-0.8zM474.1 48.8h0.8v0.8h-0.8zM469.3 54.9h0.8v0.8h-0.8zM466.0 39.5h0.8v0.8h-0.8zM464.0 36.4h0.8v0.8h-0.8zM465.8 30.7h0.8v0.8h-0.8zM465.5 44.6h0.8v0.8h-0.8zM471.9 39.9h0.8v0.8h-0.8zM474.3 38.1h0.8v0.8h-0.8zM465.2 30.7h0.8v0.8h-0.8zM461.4 37.3h0.8v0.8h-0.8zM474.8 45.1h0.8v0.8h-0.8zM459.5 45.1h0.8v0.8h-0.8zM468.8 40.6h0.8v0.8h-0.8zM466.1 40.2h0.8v0.8h-0.8zM462.8 31.6h0.8v0.8h-0.8zM465.5 49.5h0.8v0.8h-0.8zM474.4 40.4h0.8v0.8h-0.8zM461.6 40.8h0.8v0.8h-0.8zM471.3 44.1h0.8v0.8h-0.8zM462.6 44.1h0.8v0.8h-0.8zM464.8 45.0h0.8v0.8h-0.8zM463.6 33.4h0.8v0.8h-0.8zM466.3 46.5h0.8v0.8h-0.8zM459.5 41.4h0.8v0.8h-0.8zM471.1 39.8h0.8v0.8h-0.8zM462.2 53.9h0.8v0.8h-0.8zM470.9 48.0h0.8v0.8h-0.8zM460.5 51.5h0.8v0.8h-0.8zM456.3 39.0h0.8v0.8h-0.8zM470.3 49.8h0.8v0.8h-0.8zM460.6 38.1h0.8v0.8h-0.8zM467.1 30.7h0.8v0.8h-0.8zM469.7 45.3h0.8v0.8h-0.8zM463.4 45.1h0.8v0.8h-0.8zM470.5 43.8h0.8v0.8h-0.8zM469.0 50.8h0.8v0.8h-0.8zM463.2 42.9h0.8v0.8h-0.8zM463.0 48.0h0.8v0.8h-0.8zM463.6 44.8h0.8v0.8h-0.8zM466.8 42.4h0.8v0.8h-0.8zM476.0 41.5h0.8v0.8h-0.8zM474.2 46.8h0.8v0.8h-0.8zM473.7 41.0h0.8v0.8h-0.8zM471.4 46.4h0.8v0.8h-0.8zM462.4 43.6h0.8v0.8h-0.8zM465.3 41.8h0.8v0.8h-0.8zM473.6 37.8h0.8v0.8h-0.8zM456.2 31.9h0.8v0.8h-0.8zM463.4 38.3h0.8v0.8h-0.8zM466.1 45.3h0.8v0.8h-0.8zM476.2 43.8h0.8v0.8h-0.8zM468.7 37.7h0.8v0.8h-0.8zM469.4 49.9h0.8v0.8h-0.8zM473.8 30.7h0.8v0.8h-0.8zM471.2 51.2h0.8v0.8h-0.8zM470.8 33.4h0.8v0.8h-0.8zM464.2 45.4h0.8v0.8h-0.8zM468.4 37.3h0.8v0.8h-0.8zM460.9 47.6h0.8v0.8h-0.8zM458.3 50.3h0.8v0.8h-0.8zM466.1 43.7h0.8v0.8h-0.8zM458.3 38.6h0.8v0.8h-0.8zM470.0 33.5h0.8v0.8h-0.8zM478.0 33.9h0.8v0.8h-0.8z"/>
<path fill="#777" opacity="0.3" d="M462.9 52.3h0.8v0.8h-0.8zM472.8 56.9h0.8v0.8h-0.8zM467.9 50.6h0.8v0.8h-0.8zM468.6 48.1h0.8v0.8h-0.8zM455.1 58.5h0.8v0.8h-0.8zM471.4 53.1h0.8v0.8h-0.8zM466.4 53.7h0.8v0.8h-0.8zM469.9 51.5h0.8v0.8h-0.8zM476.4 40.4h0.8v0.8h-0.8zM471.5 44.8h0.8v0.8h-0.8zM468.2 62.1h0.8v0.8h-0.8zM463.8 51.3h0.8v0.8h-0.8zM466.6 58.4h0.8v0.8h-0.8zM464.4 40.7h0.8v0.8h-0.8zM473.0 49.6h0.8v0.8h-0.8zM468.2 59.3h0.8v0.8h-0.8zM464.9 49.5h0.8v0.8h-0.8zM470.9 54.8h0.8v0.8h-0.8zM467.0 59.0h0.8v0.8h-0.8zM482.9 49.3h0.8v0.8h-0.8zM480.8 37.8h0.8v0.8h-0.8zM478.1 49.7h0.8v0.8h-0.8zM470.8 49.7h0.8v0.8h-0.8zM466.3 43.4h0.8v0.8h-0.8zM467.7 60.7h0.8v0.8h-0.8zM476.6 49.7h0.8v0.8h-0.8zM467.0 47.3h0.8v0.8h-0.8zM463.1 64.1h0.8v0.8h-0.8zM473.8 52.8h0.8v0.8h-0.8zM467.2 45.1h0.8v0.8h-0.8zM477.6 57.2h0.8v0.8h-0.8zM464.5 58.6h0.8v0.8h-0.8zM463.6 56.3h0.8v0.8h-0.8zM464.5 49.2h0.8v0.8h-0.8zM472.9 54.9h0.8v0.8h-0.8zM475.8 46.4h0.8v0.8h-0.8zM479.1 61.0h0.8v0.8h-0.8zM469.9 55.1h0.8v0.8h-0.8zM465.5 51.0h0.8v0.8h-0.8zM462.4 52.6h0.8v0.8h-0.8zM471.1 61.0h0.8v0.8h-0.8zM475.5 57.5h0.8v0.8h-0.8zM467.9 50.5h0.8v0.8h-0.8zM468.0 53.5h0.8v0.8h-0.8zM458.9 57.2h0.8v0.8h-0.8zM461.0 48.5h0.8v0.8h-0.8zM470.1 48.5h0.8v0.8h-0.8zM479.6 51.3h0.8v0.8h-0.8zM479.1 59.9h0.8v0.8h-0.8zM467.1 54.7h0.8v0.8h-0.8zM477.5 49.8h0.8v0.8h-0.8zM470.5 48.2h0.8v0.8h-0.8zM470.3 49.6h0.8v0.8h-0.8zM470.5 58.7h0.8v0.8h-0.8zM478.0 52.9h0.8v0.8h-0.8zM471.2 57.8h0.8v0.8h-0.8zM468.3 44.9h0.8v0.8h-0.8zM476.4 45.7h0.8v0.8h-0.8zM475.4 45.5h0.8v0.8h-0.8zM480.5 45.0h0.8v0.8h-0.8zM474.9 62.1h0.8v0.8h-0.8zM464.5 62.0h0.8v0.8h-0.8zM465.3 40.1h0.8v0.8h-0.8zM474.2 56.7h0.8v0.8h-0.8zM468.8 35.0h0.8v0.8h-0.8zM469.7 49.9h0.8v0.8h-0.8zM467.8 50.1h0.8v0.8h-0.8zM459.7 48.2h0.8v0.8h-0.8zM480.4 62.4h0.8v0.8h-0.8zM467.9 47.2h0.8v0.8h-0.8zM472.3 59.1h0.8v0.8h-0.8zM474.2 44.1h0.8v0.8h-0.8zM470.9 52.9h0.8v0.8h-0.8zM478.3 60.0h0.8v0.8h-0.8zM473.0 60.2h0.8v0.8h-0.8zM467.7 62.3h0.8v0.8h-0.8zM467.5 54.7h0.8v0.8h-0.8zM475.3 45.9h0.8v0.8h-0.8zM466.0 40.2h0.8v0.8h-0.8zM470.9 51.6h0.8v0.8h-0.8z"/>
<polygon points="472.3,30.1 478,26.3 481.8,28.2 492.4,32.6 490.1,38.4 480.6,44.1 472.9,42.2 471.7,35.8" fill="#8e8e8e" stroke="#111" stroke-width="1.3"/>
<path fill="#444" opacity="0.35" d="M479.6 37.2h0.8v0.8h-0.8zM481.4 34.6h0.8v0.8h-0.8zM484.4 41.4h0.8v0.8h-0.8zM479.1 32.3h0.8v0.8h-0.8zM478.4 35.8h0.8v0.8h-0.8zM483.5 32.6h0.8v0.8h-0.8zM485.3 32.1h0.8v0.8h-0.8zM484.6 36.9h0.8v0.8h-0.8zM479.9 34.9h0.8v0.8h-0.8zM483.1 38.4h0.8v0.8h-0.8zM475.2 36.4h0.8v0.8h-0.8zM477.8 37.6h0.8v0.8h-0.8zM486.9 35.7h0.8v0.8h-0.8zM480.5 36.1h0.8v0.8h-0.8zM483.4 36.1h0.8v0.8h-0.8zM479.3 33.0h0.8v0.8h-0.8zM480.2 39.6h0.8v0.8h-0.8zM480.6 40.0h0.8v0.8h-0.8zM482.2 35.5h0.8v0.8h-0.8zM473.8 33.3h0.8v0.8h-0.8zM486.4 31.2h0.8v0.8h-0.8zM476.7 31.8h0.8v0.8h-0.8zM478.6 37.7h0.8v0.8h-0.8zM483.6 28.7h0.8v0.8h-0.8zM487.3 33.5h0.8v0.8h-0.8zM478.5 41.1h0.8v0.8h-0.8zM480.6 31.3h0.8v0.8h-0.8zM478.2 33.1h0.8v0.8h-0.8zM476.6 34.4h0.8v0.8h-0.8zM484.8 36.7h0.8v0.8h-0.8zM476.7 35.9h0.8v0.8h-0.8zM481.1 38.1h0.8v0.8h-0.8zM479.6 37.0h0.8v0.8h-0.8zM490.1 35.8h0.8v0.8h-0.8zM476.3 36.6h0.8v0.8h-0.8zM477.5 34.3h0.8v0.8h-0.8zM481.8 36.6h0.8v0.8h-0.8zM479.8 38.4h0.8v0.8h-0.8zM480.2 31.1h0.8v0.8h-0.8zM484.8 34.3h0.8v0.8h-0.8zM486.2 33.3h0.8v0.8h-0.8zM483.5 36.6h0.8v0.8h-0.8zM476.2 40.2h0.8v0.8h-0.8zM472.8 38.6h0.8v0.8h-0.8zM485.7 37.2h0.8v0.8h-0.8zM483.9 33.8h0.8v0.8h-0.8zM481.0 36.3h0.8v0.8h-0.8zM482.8 37.9h0.8v0.8h-0.8zM480.1 33.1h0.8v0.8h-0.8zM478.6 36.9h0.8v0.8h-0.8zM473.8 31.3h0.8v0.8h-0.8zM479.2 33.6h0.8v0.8h-0.8zM479.5 34.7h0.8v0.8h-0.8zM484.4 28.8h0.8v0.8h-0.8zM479.7 37.1h0.8v0.8h-0.8zM483.1 39.5h0.8v0.8h-0.8zM485.6 32.0h0.8v0.8h-0.8zM483.8 34.4h0.8v0.8h-0.8zM477.5 40.7h0.8v0.8h-0.8zM478.3 32.6h0.8v0.8h-0.8zM479.2 32.6h0.8v0.8h-0.8zM485.4 36.8h0.8v0.8h-0.8zM487.1 36.9h0.8v0.8h-0.8zM478.3 39.0h0.8v0.8h-0.8zM478.2 33.9h0.8v0.8h-0.8zM480.3 35.6h0.8v0.8h-0.8zM486.2 33.5h0.8v0.8h-0.8zM482.5 35.4h0.8v0.8h-0.8zM475.6 31.8h0.8v0.8h-0.8zM480.0 36.9h0.8v0.8h-0.8zM482.4 37.1h0.8v0.8h-0.8zM481.2 34.0h0.8v0.8h-0.8zM482.8 32.1h0.8v0.8h-0.8zM475.2 34.4h0.8v0.8h-0.8zM474.8 33.8h0.8v0.8h-0.8zM477.8 33.6h0.8v0.8h-0.8zM480.8 32.8h0.8v0.8h-0.8zM479.2 29.7h0.8v0.8h-0.8zM481.6 32.5h0.8v0.8h-0.8zM477.5 36.3h0.8v0.8h-0.8zM481.4 35.8h0.8v0.8h-0.8zM474.5 36.3h0.8v0.8h-0.8zM481.6 32.2h0.8v0.8h-0.8zM484.2 35.3h0.8v0.8h-0.8zM481.1 34.0h0.8v0.8h-0.8zM483.4 35.8h0.8v0.8h-0.8zM485.9 37.0h0.8v0.8h-0.8zM478.3 34.7h0.8v0.8h-0.8zM485.0 34.3h0.8v0.8h-0.8zM482.7 37.3h0.8v0.8h-0.8zM481.6 36.2h0.8v0.8h-0.8zM481.6 32.9h0.8v0.8h-0.8zM486.3 35.0h0.8v0.8h-0.8zM478.3 33.1h0.8v0.8h-0.8zM482.6 31.8h0.8v0.8h-0.8zM476.6 42.3h0.8v0.8h-0.8zM486.7 39.1h0.8v0.8h-0.8zM486.9 37.5h0.8v0.8h-0.8zM473.7 39.5h0.8v0.8h-0.8zM486.4 37.2h0.8v0.8h-0.8zM486.9 33.8h0.8v0.8h-0.8zM481.6 38.1h0.8v0.8h-0.8zM480.6 39.2h0.8v0.8h-0.8zM481.4 37.8h0.8v0.8h-0.8zM481.4 30.5h0.8v0.8h-0.8zM482.2 39.9h0.8v0.8h-0.8zM486.0 41.3h0.8v0.8h-0.8zM483.4 33.5h0.8v0.8h-0.8zM481.1 29.0h0.8v0.8h-0.8zM480.2 38.6h0.8v0.8h-0.8zM484.6 40.0h0.8v0.8h-0.8zM477.0 33.3h0.8v0.8h-0.8zM472.8 32.0h0.8v0.8h-0.8zM483.3 42.5h0.8v0.8h-0.8zM476.0 40.2h0.8v0.8h-0.8zM482.9 33.8h0.8v0.8h-0.8zM480.7 36.2h0.8v0.8h-0.8zM490.3 41.6h0.8v0.8h-0.8zM485.3 40.1h0.8v0.8h-0.8zM483.2 36.7h0.8v0.8h-0.8zM480.2 34.1h0.8v0.8h-0.8zM475.6 42.1h0.8v0.8h-0.8zM479.0 28.4h0.8v0.8h-0.8zM482.2 35.4h0.8v0.8h-0.8zM481.8 41.7h0.8v0.8h-0.8zM480.5 34.6h0.8v0.8h-0.8zM477.7 35.4h0.8v0.8h-0.8zM479.1 36.2h0.8v0.8h-0.8zM477.3 42.1h0.8v0.8h-0.8zM484.8 38.3h0.8v0.8h-0.8zM484.1 38.3h0.8v0.8h-0.8zM484.0 40.3h0.8v0.8h-0.8zM485.4 40.1h0.8v0.8h-0.8zM478.8 35.5h0.8v0.8h-0.8zM477.8 38.8h0.8v0.8h-0.8zM484.6 33.9h0.8v0.8h-0.8zM486.4 31.7h0.8v0.8h-0.8zM480.6 37.7h0.8v0.8h-0.8zM480.8 36.8h0.8v0.8h-0.8zM486.2 36.6h0.8v0.8h-0.8zM476.2 37.9h0.8v0.8h-0.8zM480.6 35.9h0.8v0.8h-0.8zM478.5 30.8h0.8v0.8h-0.8z"/>
<ellipse cx="487.3" cy="25" rx="7.9" ry="3.9" transform="rotate(17 487.3 25)" fill="#e0e0e0" stroke="#111" stroke-width="1.3"/>
<rect x="454.5" y="8.5" width="61.5" height="61" fill="none" stroke="#222" stroke-width="1.4"/>
<path fill="#555" opacity="0.33" d="M464.2 117.6h0.9v0.9h-0.9zM474.7 96.0h0.9v0.9h-0.9zM472.4 117.9h0.9v0.9h-0.9zM466.4 134.3h0.9v0.9h-0.9zM472.9 118.8h0.9v0.9h-0.9zM472.7 115.0h0.9v0.9h-0.9zM474.7 109.2h0.9v0.9h-0.9zM481.6 116.9h0.9v0.9h-0.9zM473.6 116.6h0.9v0.9h-0.9zM477.7 111.1h0.9v0.9h-0.9zM471.8 95.6h0.9v0.9h-0.9zM474.7 107.1h0.9v0.9h-0.9zM467.3 108.3h0.9v0.9h-0.9zM463.3 111.0h0.9v0.9h-0.9zM481.2 130.0h0.9v0.9h-0.9zM484.7 97.4h0.9v0.9h-0.9zM473.2 99.9h0.9v0.9h-0.9zM482.9 115.7h0.9v0.9h-0.9zM468.1 105.6h0.9v0.9h-0.9zM466.9 107.1h0.9v0.9h-0.9zM464.0 119.3h0.9v0.9h-0.9zM467.0 109.2h0.9v0.9h-0.9zM463.2 112.2h0.9v0.9h-0.9zM483.3 114.8h0.9v0.9h-0.9zM485.2 122.1h0.9v0.9h-0.9zM465.4 123.4h0.9v0.9h-0.9zM465.9 117.9h0.9v0.9h-0.9zM477.8 111.9h0.9v0.9h-0.9zM478.0 99.0h0.9v0.9h-0.9zM465.2 118.4h0.9v0.9h-0.9zM471.9 104.5h0.9v0.9h-0.9zM489.0 111.2h0.9v0.9h-0.9zM467.1 122.3h0.9v0.9h-0.9zM469.6 93.4h0.9v0.9h-0.9zM474.0 107.4h0.9v0.9h-0.9zM472.4 126.8h0.9v0.9h-0.9zM472.7 106.1h0.9v0.9h-0.9zM480.4 109.7h0.9v0.9h-0.9zM482.1 107.0h0.9v0.9h-0.9zM470.0 101.4h0.9v0.9h-0.9zM472.1 113.7h0.9v0.9h-0.9zM465.7 107.9h0.9v0.9h-0.9zM464.0 124.8h0.9v0.9h-0.9zM470.9 107.0h0.9v0.9h-0.9zM466.4 108.9h0.9v0.9h-0.9zM468.8 115.1h0.9v0.9h-0.9zM473.8 118.0h0.9v0.9h-0.9zM473.8 111.7h0.9v0.9h-0.9zM483.7 112.9h0.9v0.9h-0.9zM479.0 106.6h0.9v0.9h-0.9zM468.5 107.4h0.9v0.9h-0.9zM475.7 115.8h0.9v0.9h-0.9zM473.2 106.5h0.9v0.9h-0.9zM457.1 112.7h0.9v0.9h-0.9zM481.8 112.4h0.9v0.9h-0.9zM468.7 100.8h0.9v0.9h-0.9zM473.9 112.6h0.9v0.9h-0.9zM470.2 118.5h0.9v0.9h-0.9zM468.1 107.6h0.9v0.9h-0.9zM470.8 123.1h0.9v0.9h-0.9zM471.3 103.2h0.9v0.9h-0.9zM472.6 121.8h0.9v0.9h-0.9zM476.0 104.1h0.9v0.9h-0.9zM482.4 96.7h0.9v0.9h-0.9zM473.5 123.0h0.9v0.9h-0.9zM474.8 113.0h0.9v0.9h-0.9zM468.6 105.0h0.9v0.9h-0.9zM465.5 117.9h0.9v0.9h-0.9zM477.2 94.8h0.9v0.9h-0.9zM483.7 100.9h0.9v0.9h-0.9zM468.5 119.5h0.9v0.9h-0.9zM472.5 101.5h0.9v0.9h-0.9zM462.7 127.6h0.9v0.9h-0.9zM469.5 120.3h0.9v0.9h-0.9zM461.2 123.6h0.9v0.9h-0.9zM460.7 109.1h0.9v0.9h-0.9zM473.4 112.6h0.9v0.9h-0.9zM463.9 108.6h0.9v0.9h-0.9zM465.6 100.2h0.9v0.9h-0.9zM480.1 108.3h0.9v0.9h-0.9zM489.4 101.6h0.9v0.9h-0.9zM477.7 108.6h0.9v0.9h-0.9zM466.8 103.6h0.9v0.9h-0.9zM486.1 101.6h0.9v0.9h-0.9zM465.8 106.8h0.9v0.9h-0.9zM486.2 101.4h0.9v0.9h-0.9zM470.3 122.0h0.9v0.9h-0.9zM485.7 95.8h0.9v0.9h-0.9zM474.2 105.1h0.9v0.9h-0.9zM476.1 119.7h0.9v0.9h-0.9zM493.9 87.6h0.9v0.9h-0.9zM477.7 114.6h0.9v0.9h-0.9zM476.2 115.7h0.9v0.9h-0.9zM473.5 99.1h0.9v0.9h-0.9zM466.9 117.6h0.9v0.9h-0.9zM480.7 105.1h0.9v0.9h-0.9zM474.1 94.3h0.9v0.9h-0.9zM473.6 103.4h0.9v0.9h-0.9zM476.4 110.8h0.9v0.9h-0.9zM466.7 116.1h0.9v0.9h-0.9zM468.2 119.9h0.9v0.9h-0.9zM465.9 114.0h0.9v0.9h-0.9zM471.7 105.3h0.9v0.9h-0.9zM477.6 98.5h0.9v0.9h-0.9zM480.9 105.0h0.9v0.9h-0.9zM466.3 116.7h0.9v0.9h-0.9zM466.8 114.5h0.9v0.9h-0.9zM482.4 120.5h0.9v0.9h-0.9zM480.1 120.4h0.9v0.9h-0.9zM469.5 100.6h0.9v0.9h-0.9zM463.4 130.4h0.9v0.9h-0.9zM465.6 128.1h0.9v0.9h-0.9zM482.6 104.2h0.9v0.9h-0.9zM471.3 110.4h0.9v0.9h-0.9zM473.9 106.7h0.9v0.9h-0.9zM468.6 112.2h0.9v0.9h-0.9zM477.8 98.4h0.9v0.9h-0.9zM470.0 101.8h0.9v0.9h-0.9zM461.9 108.9h0.9v0.9h-0.9zM476.6 114.7h0.9v0.9h-0.9zM473.2 105.4h0.9v0.9h-0.9zM475.9 103.8h0.9v0.9h-0.9zM477.8 108.5h0.9v0.9h-0.9zM463.6 94.4h0.9v0.9h-0.9zM470.2 123.3h0.9v0.9h-0.9zM485.8 121.3h0.9v0.9h-0.9zM469.5 109.2h0.9v0.9h-0.9zM486.4 101.5h0.9v0.9h-0.9zM488.6 98.3h0.9v0.9h-0.9zM476.8 114.9h0.9v0.9h-0.9zM466.6 113.8h0.9v0.9h-0.9zM469.3 113.1h0.9v0.9h-0.9zM476.2 102.0h0.9v0.9h-0.9zM473.2 105.3h0.9v0.9h-0.9zM464.2 90.6h0.9v0.9h-0.9zM473.6 112.3h0.9v0.9h-0.9zM472.9 122.7h0.9v0.9h-0.9zM482.5 114.4h0.9v0.9h-0.9zM483.5 105.9h0.9v0.9h-0.9zM467.0 106.0h0.9v0.9h-0.9zM470.1 109.5h0.9v0.9h-0.9zM473.0 106.0h0.9v0.9h-0.9zM484.1 79.9h0.9v0.9h-0.9zM478.7 99.1h0.9v0.9h-0.9zM477.6 116.1h0.9v0.9h-0.9zM467.3 104.3h0.9v0.9h-0.9zM475.5 106.0h0.9v0.9h-0.9zM462.3 126.2h0.9v0.9h-0.9zM463.3 114.3h0.9v0.9h-0.9zM478.7 107.8h0.9v0.9h-0.9zM484.2 122.3h0.9v0.9h-0.9zM473.2 104.0h0.9v0.9h-0.9zM474.8 107.7h0.9v0.9h-0.9zM476.8 129.9h0.9v0.9h-0.9zM471.3 110.1h0.9v0.9h-0.9zM475.9 118.7h0.9v0.9h-0.9zM483.6 117.7h0.9v0.9h-0.9zM488.0 111.8h0.9v0.9h-0.9zM475.4 112.6h0.9v0.9h-0.9zM470.4 112.4h0.9v0.9h-0.9zM460.0 120.1h0.9v0.9h-0.9zM464.5 114.0h0.9v0.9h-0.9zM483.0 102.2h0.9v0.9h-0.9zM486.4 104.9h0.9v0.9h-0.9zM485.3 107.9h0.9v0.9h-0.9zM474.7 118.2h0.9v0.9h-0.9zM469.1 109.9h0.9v0.9h-0.9zM493.4 111.2h0.9v0.9h-0.9zM477.6 125.3h0.9v0.9h-0.9zM474.5 99.9h0.9v0.9h-0.9zM477.7 109.7h0.9v0.9h-0.9zM474.4 105.6h0.9v0.9h-0.9zM466.2 119.6h0.9v0.9h-0.9zM483.7 107.3h0.9v0.9h-0.9zM484.2 110.2h0.9v0.9h-0.9zM467.6 117.1h0.9v0.9h-0.9zM481.6 112.1h0.9v0.9h-0.9zM477.8 111.3h0.9v0.9h-0.9zM486.4 118.8h0.9v0.9h-0.9zM460.3 126.0h0.9v0.9h-0.9zM490.6 92.8h0.9v0.9h-0.9zM463.4 124.1h0.9v0.9h-0.9zM461.4 117.4h0.9v0.9h-0.9zM484.9 116.3h0.9v0.9h-0.9zM480.6 109.7h0.9v0.9h-0.9zM481.4 103.4h0.9v0.9h-0.9zM468.2 115.9h0.9v0.9h-0.9zM474.6 106.2h0.9v0.9h-0.9zM467.9 113.3h0.9v0.9h-0.9zM459.0 116.3h0.9v0.9h-0.9zM471.4 109.0h0.9v0.9h-0.9zM482.0 116.2h0.9v0.9h-0.9zM475.7 107.6h0.9v0.9h-0.9zM460.8 113.7h0.9v0.9h-0.9zM471.5 103.2h0.9v0.9h-0.9zM470.7 101.9h0.9v0.9h-0.9zM474.4 108.7h0.9v0.9h-0.9zM478.0 100.8h0.9v0.9h-0.9zM473.1 113.9h0.9v0.9h-0.9zM483.7 117.4h0.9v0.9h-0.9zM469.4 109.4h0.9v0.9h-0.9zM474.6 114.6h0.9v0.9h-0.9zM479.3 111.5h0.9v0.9h-0.9zM479.1 131.7h0.9v0.9h-0.9zM485.2 96.3h0.9v0.9h-0.9zM467.4 119.6h0.9v0.9h-0.9zM464.2 96.6h0.9v0.9h-0.9zM465.9 103.0h0.9v0.9h-0.9zM484.5 113.0h0.9v0.9h-0.9zM472.1 95.4h0.9v0.9h-0.9zM487.6 104.0h0.9v0.9h-0.9zM474.5 115.0h0.9v0.9h-0.9zM481.6 97.3h0.9v0.9h-0.9zM470.8 107.5h0.9v0.9h-0.9zM469.2 91.5h0.9v0.9h-0.9zM477.4 95.0h0.9v0.9h-0.9zM470.7 95.6h0.9v0.9h-0.9zM464.9 114.1h0.9v0.9h-0.9zM470.2 96.4h0.9v0.9h-0.9zM474.2 102.6h0.9v0.9h-0.9zM480.0 99.4h0.9v0.9h-0.9zM476.1 105.6h0.9v0.9h-0.9zM483.1 95.1h0.9v0.9h-0.9zM484.8 119.4h0.9v0.9h-0.9zM478.3 112.6h0.9v0.9h-0.9zM470.5 116.4h0.9v0.9h-0.9zM460.6 127.2h0.9v0.9h-0.9zM461.7 107.8h0.9v0.9h-0.9zM471.6 125.7h0.9v0.9h-0.9zM468.3 99.8h0.9v0.9h-0.9zM481.4 93.4h0.9v0.9h-0.9zM473.1 113.9h0.9v0.9h-0.9zM458.0 110.9h0.9v0.9h-0.9zM475.9 121.0h0.9v0.9h-0.9zM471.2 95.7h0.9v0.9h-0.9zM481.6 101.3h0.9v0.9h-0.9zM477.4 106.6h0.9v0.9h-0.9zM471.0 102.3h0.9v0.9h-0.9zM464.5 113.4h0.9v0.9h-0.9zM475.1 115.6h0.9v0.9h-0.9zM475.3 126.4h0.9v0.9h-0.9zM466.8 111.9h0.9v0.9h-0.9zM480.7 106.8h0.9v0.9h-0.9zM466.0 107.5h0.9v0.9h-0.9zM459.0 110.0h0.9v0.9h-0.9zM487.1 106.6h0.9v0.9h-0.9zM488.3 98.5h0.9v0.9h-0.9zM480.2 111.1h0.9v0.9h-0.9zM478.5 101.8h0.9v0.9h-0.9zM488.1 117.4h0.9v0.9h-0.9zM455.8 116.0h0.9v0.9h-0.9zM472.2 120.6h0.9v0.9h-0.9zM479.5 99.7h0.9v0.9h-0.9zM477.9 104.8h0.9v0.9h-0.9zM472.9 105.3h0.9v0.9h-0.9zM473.8 110.2h0.9v0.9h-0.9zM493.3 112.0h0.9v0.9h-0.9zM465.7 125.9h0.9v0.9h-0.9zM479.3 114.5h0.9v0.9h-0.9zM484.9 105.8h0.9v0.9h-0.9zM473.8 99.6h0.9v0.9h-0.9zM472.7 130.3h0.9v0.9h-0.9zM476.2 96.7h0.9v0.9h-0.9zM485.7 103.6h0.9v0.9h-0.9zM463.8 132.3h0.9v0.9h-0.9zM474.3 122.7h0.9v0.9h-0.9zM465.7 111.6h0.9v0.9h-0.9zM463.2 120.4h0.9v0.9h-0.9zM476.6 99.4h0.9v0.9h-0.9zM474.3 133.7h0.9v0.9h-0.9zM489.2 99.6h0.9v0.9h-0.9zM464.0 108.3h0.9v0.9h-0.9zM466.9 124.7h0.9v0.9h-0.9zM476.2 95.5h0.9v0.9h-0.9zM472.5 108.7h0.9v0.9h-0.9zM475.2 114.2h0.9v0.9h-0.9zM483.4 91.6h0.9v0.9h-0.9zM485.3 108.8h0.9v0.9h-0.9zM471.4 111.4h0.9v0.9h-0.9zM471.7 124.9h0.9v0.9h-0.9zM467.1 110.9h0.9v0.9h-0.9zM469.7 105.5h0.9v0.9h-0.9zM465.9 116.3h0.9v0.9h-0.9zM482.1 98.1h0.9v0.9h-0.9zM469.1 99.3h0.9v0.9h-0.9zM472.0 132.8h0.9v0.9h-0.9zM463.0 105.8h0.9v0.9h-0.9zM476.7 113.6h0.9v0.9h-0.9zM458.4 118.7h0.9v0.9h-0.9zM470.5 103.8h0.9v0.9h-0.9zM484.3 108.6h0.9v0.9h-0.9zM474.4 104.7h0.9v0.9h-0.9zM470.2 107.4h0.9v0.9h-0.9zM475.0 112.4h0.9v0.9h-0.9zM477.5 116.7h0.9v0.9h-0.9zM487.1 88.3h0.9v0.9h-0.9zM480.7 111.3h0.9v0.9h-0.9zM476.7 104.1h0.9v0.9h-0.9zM476.6 118.2h0.9v0.9h-0.9zM480.7 107.7h0.9v0.9h-0.9zM472.5 118.9h0.9v0.9h-0.9zM477.9 103.3h0.9v0.9h-0.9zM490.1 115.3h0.9v0.9h-0.9zM465.7 126.7h0.9v0.9h-0.9zM459.2 112.3h0.9v0.9h-0.9zM475.6 114.3h0.9v0.9h-0.9zM467.9 104.2h0.9v0.9h-0.9zM462.0 118.1h0.9v0.9h-0.9zM469.5 106.0h0.9v0.9h-0.9zM474.4 129.3h0.9v0.9h-0.9zM467.9 115.5h0.9v0.9h-0.9zM467.3 111.3h0.9v0.9h-0.9zM472.6 108.3h0.9v0.9h-0.9zM471.3 99.9h0.9v0.9h-0.9zM475.6 130.1h0.9v0.9h-0.9zM477.8 114.1h0.9v0.9h-0.9zM484.4 103.8h0.9v0.9h-0.9zM465.6 102.5h0.9v0.9h-0.9zM469.5 126.4h0.9v0.9h-0.9zM481.4 107.6h0.9v0.9h-0.9zM460.9 112.3h0.9v0.9h-0.9zM469.3 104.0h0.9v0.9h-0.9zM480.4 95.4h0.9v0.9h-0.9zM475.3 118.2h0.9v0.9h-0.9zM471.0 103.4h0.9v0.9h-0.9zM489.8 112.9h0.9v0.9h-0.9zM465.0 118.0h0.9v0.9h-0.9zM456.5 108.9h0.9v0.9h-0.9zM481.8 108.6h0.9v0.9h-0.9zM482.5 104.8h0.9v0.9h-0.9zM461.3 124.8h0.9v0.9h-0.9zM463.3 109.5h0.9v0.9h-0.9zM471.4 121.8h0.9v0.9h-0.9zM483.1 121.4h0.9v0.9h-0.9zM466.3 97.6h0.9v0.9h-0.9zM486.6 109.2h0.9v0.9h-0.9zM467.4 104.1h0.9v0.9h-0.9zM477.7 90.7h0.9v0.9h-0.9zM462.8 101.7h0.9v0.9h-0.9zM456.7 111.4h0.9v0.9h-0.9zM487.4 107.4h0.9v0.9h-0.9zM463.9 106.7h0.9v0.9h-0.9zM475.7 112.2h0.9v0.9h-0.9zM458.0 115.9h0.9v0.9h-0.9zM477.3 114.1h0.9v0.9h-0.9zM477.0 111.6h0.9v0.9h-0.9zM470.8 103.4h0.9v0.9h-0.9zM471.1 109.2h0.9v0.9h-0.9zM472.7 102.8h0.9v0.9h-0.9zM483.2 99.4h0.9v0.9h-0.9zM480.8 109.0h0.9v0.9h-0.9zM482.8 104.1h0.9v0.9h-0.9zM459.5 120.1h0.9v0.9h-0.9zM488.3 98.3h0.9v0.9h-0.9zM480.1 108.0h0.9v0.9h-0.9zM466.2 111.6h0.9v0.9h-0.9zM476.4 120.3h0.9v0.9h-0.9zM486.3 115.7h0.9v0.9h-0.9zM487.8 115.2h0.9v0.9h-0.9zM470.2 101.0h0.9v0.9h-0.9zM486.8 98.5h0.9v0.9h-0.9zM482.7 102.1h0.9v0.9h-0.9zM472.9 113.3h0.9v0.9h-0.9zM460.2 112.8h0.9v0.9h-0.9zM465.5 114.2h0.9v0.9h-0.9zM464.9 119.7h0.9v0.9h-0.9zM487.3 117.3h0.9v0.9h-0.9zM485.3 95.9h0.9v0.9h-0.9zM478.3 102.3h0.9v0.9h-0.9zM476.3 106.9h0.9v0.9h-0.9zM471.0 114.4h0.9v0.9h-0.9zM467.1 123.2h0.9v0.9h-0.9zM466.1 107.1h0.9v0.9h-0.9zM474.9 115.3h0.9v0.9h-0.9zM472.4 117.4h0.9v0.9h-0.9zM486.4 113.1h0.9v0.9h-0.9zM466.5 117.7h0.9v0.9h-0.9zM485.7 113.3h0.9v0.9h-0.9zM479.9 111.6h0.9v0.9h-0.9zM461.4 118.3h0.9v0.9h-0.9zM482.9 96.1h0.9v0.9h-0.9zM483.6 90.2h0.9v0.9h-0.9zM463.2 104.5h0.9v0.9h-0.9zM479.5 106.5h0.9v0.9h-0.9zM487.7 95.5h0.9v0.9h-0.9zM464.4 105.2h0.9v0.9h-0.9zM478.8 115.1h0.9v0.9h-0.9zM485.7 110.2h0.9v0.9h-0.9zM479.2 103.2h0.9v0.9h-0.9zM478.8 106.2h0.9v0.9h-0.9zM475.3 128.2h0.9v0.9h-0.9zM470.4 102.2h0.9v0.9h-0.9zM478.1 108.5h0.9v0.9h-0.9zM488.5 109.3h0.9v0.9h-0.9zM457.8 135.7h0.9v0.9h-0.9zM478.3 93.9h0.9v0.9h-0.9zM463.8 125.4h0.9v0.9h-0.9zM478.1 109.1h0.9v0.9h-0.9zM464.3 116.2h0.9v0.9h-0.9zM479.5 112.1h0.9v0.9h-0.9zM489.6 94.8h0.9v0.9h-0.9zM456.7 103.3h0.9v0.9h-0.9zM480.1 101.2h0.9v0.9h-0.9zM467.7 106.1h0.9v0.9h-0.9zM468.5 95.9h0.9v0.9h-0.9zM475.4 109.8h0.9v0.9h-0.9zM483.3 114.0h0.9v0.9h-0.9zM473.9 111.2h0.9v0.9h-0.9zM470.6 96.1h0.9v0.9h-0.9zM472.5 112.5h0.9v0.9h-0.9zM475.5 98.9h0.9v0.9h-0.9zM481.3 105.7h0.9v0.9h-0.9zM456.1 114.2h0.9v0.9h-0.9zM465.7 121.6h0.9v0.9h-0.9zM479.4 111.9h0.9v0.9h-0.9zM476.1 101.1h0.9v0.9h-0.9zM485.5 105.8h0.9v0.9h-0.9zM479.7 108.7h0.9v0.9h-0.9zM467.8 121.5h0.9v0.9h-0.9zM460.6 112.2h0.9v0.9h-0.9zM472.6 113.3h0.9v0.9h-0.9zM471.8 108.8h0.9v0.9h-0.9zM468.7 118.5h0.9v0.9h-0.9zM461.2 108.9h0.9v0.9h-0.9zM482.9 116.3h0.9v0.9h-0.9zM465.3 108.0h0.9v0.9h-0.9zM492.6 107.7h0.9v0.9h-0.9zM470.9 111.2h0.9v0.9h-0.9zM492.2 122.5h0.9v0.9h-0.9zM480.5 113.7h0.9v0.9h-0.9zM466.4 97.9h0.9v0.9h-0.9zM459.9 112.5h0.9v0.9h-0.9zM477.4 107.2h0.9v0.9h-0.9zM483.9 95.1h0.9v0.9h-0.9zM476.4 108.0h0.9v0.9h-0.9zM488.1 120.1h0.9v0.9h-0.9zM484.2 114.9h0.9v0.9h-0.9zM478.8 97.2h0.9v0.9h-0.9zM476.2 102.9h0.9v0.9h-0.9zM475.6 109.9h0.9v0.9h-0.9zM471.4 107.6h0.9v0.9h-0.9zM482.5 96.8h0.9v0.9h-0.9zM488.1 112.7h0.9v0.9h-0.9zM483.9 110.2h0.9v0.9h-0.9zM489.1 104.6h0.9v0.9h-0.9zM476.8 90.0h0.9v0.9h-0.9zM486.7 95.2h0.9v0.9h-0.9zM459.1 120.3h0.9v0.9h-0.9zM464.9 120.5h0.9v0.9h-0.9zM458.7 116.5h0.9v0.9h-0.9zM476.8 108.5h0.9v0.9h-0.9zM467.5 115.0h0.9v0.9h-0.9zM473.8 111.1h0.9v0.9h-0.9zM472.7 109.0h0.9v0.9h-0.9zM470.4 95.6h0.9v0.9h-0.9zM471.6 114.4h0.9v0.9h-0.9zM468.3 110.4h0.9v0.9h-0.9zM472.4 114.3h0.9v0.9h-0.9zM480.9 99.6h0.9v0.9h-0.9zM474.3 113.8h0.9v0.9h-0.9zM461.3 102.5h0.9v0.9h-0.9zM473.6 106.1h0.9v0.9h-0.9zM473.9 117.4h0.9v0.9h-0.9zM471.0 106.9h0.9v0.9h-0.9zM473.4 109.3h0.9v0.9h-0.9zM478.1 107.7h0.9v0.9h-0.9zM463.7 107.6h0.9v0.9h-0.9zM466.2 117.7h0.9v0.9h-0.9zM471.0 122.4h0.9v0.9h-0.9zM455.2 111.5h0.9v0.9h-0.9zM462.6 102.9h0.9v0.9h-0.9zM478.8 92.8h0.9v0.9h-0.9zM472.3 109.2h0.9v0.9h-0.9zM458.6 107.8h0.9v0.9h-0.9zM467.0 128.4h0.9v0.9h-0.9zM493.0 112.6h0.9v0.9h-0.9zM467.8 123.9h0.9v0.9h-0.9zM478.8 114.2h0.9v0.9h-0.9zM474.8 117.4h0.9v0.9h-0.9zM483.2 106.1h0.9v0.9h-0.9zM482.3 98.1h0.9v0.9h-0.9zM479.9 94.8h0.9v0.9h-0.9zM468.9 84.0h0.9v0.9h-0.9zM469.5 106.0h0.9v0.9h-0.9zM479.9 115.0h0.9v0.9h-0.9zM479.2 105.0h0.9v0.9h-0.9zM476.5 89.8h0.9v0.9h-0.9zM477.4 123.5h0.9v0.9h-0.9zM464.2 97.5h0.9v0.9h-0.9zM469.4 101.7h0.9v0.9h-0.9zM490.1 104.2h0.9v0.9h-0.9zM477.9 120.4h0.9v0.9h-0.9zM473.9 120.8h0.9v0.9h-0.9zM477.0 105.0h0.9v0.9h-0.9zM463.3 119.5h0.9v0.9h-0.9zM456.0 124.8h0.9v0.9h-0.9zM469.1 130.0h0.9v0.9h-0.9zM479.9 107.3h0.9v0.9h-0.9zM482.9 124.1h0.9v0.9h-0.9zM479.4 104.4h0.9v0.9h-0.9zM482.6 111.0h0.9v0.9h-0.9zM462.1 107.7h0.9v0.9h-0.9zM464.1 102.3h0.9v0.9h-0.9zM478.5 113.7h0.9v0.9h-0.9zM485.2 99.7h0.9v0.9h-0.9zM479.6 112.1h0.9v0.9h-0.9zM481.2 97.7h0.9v0.9h-0.9zM461.6 115.6h0.9v0.9h-0.9zM460.8 115.4h0.9v0.9h-0.9zM475.2 112.6h0.9v0.9h-0.9zM475.4 109.1h0.9v0.9h-0.9zM474.1 114.8h0.9v0.9h-0.9zM484.1 106.9h0.9v0.9h-0.9zM482.0 97.1h0.9v0.9h-0.9zM482.1 120.1h0.9v0.9h-0.9zM477.7 110.5h0.9v0.9h-0.9zM477.4 117.2h0.9v0.9h-0.9zM465.6 108.2h0.9v0.9h-0.9zM471.1 108.3h0.9v0.9h-0.9zM477.2 101.8h0.9v0.9h-0.9zM473.5 108.0h0.9v0.9h-0.9zM472.6 104.4h0.9v0.9h-0.9zM472.9 94.7h0.9v0.9h-0.9zM467.5 109.5h0.9v0.9h-0.9zM478.4 105.2h0.9v0.9h-0.9zM475.2 104.7h0.9v0.9h-0.9zM463.0 110.1h0.9v0.9h-0.9zM468.8 110.0h0.9v0.9h-0.9zM477.8 109.6h0.9v0.9h-0.9zM479.7 102.0h0.9v0.9h-0.9zM463.1 110.6h0.9v0.9h-0.9zM476.5 111.3h0.9v0.9h-0.9zM487.6 96.0h0.9v0.9h-0.9zM496.1 105.6h0.9v0.9h-0.9zM474.2 123.9h0.9v0.9h-0.9zM489.0 107.8h0.9v0.9h-0.9zM479.4 114.7h0.9v0.9h-0.9zM470.5 113.3h0.9v0.9h-0.9zM484.4 118.4h0.9v0.9h-0.9zM478.1 116.3h0.9v0.9h-0.9zM470.4 106.1h0.9v0.9h-0.9zM479.4 111.3h0.9v0.9h-0.9zM473.1 118.5h0.9v0.9h-0.9zM464.4 111.2h0.9v0.9h-0.9zM474.1 107.2h0.9v0.9h-0.9zM458.3 109.7h0.9v0.9h-0.9zM475.5 111.0h0.9v0.9h-0.9zM472.1 114.4h0.9v0.9h-0.9zM466.4 123.6h0.9v0.9h-0.9zM478.3 108.2h0.9v0.9h-0.9zM470.5 115.1h0.9v0.9h-0.9zM481.0 114.2h0.9v0.9h-0.9zM477.2 109.1h0.9v0.9h-0.9zM474.3 119.7h0.9v0.9h-0.9zM478.7 98.6h0.9v0.9h-0.9zM479.9 106.6h0.9v0.9h-0.9zM466.3 104.2h0.9v0.9h-0.9zM474.6 87.6h0.9v0.9h-0.9zM473.8 105.9h0.9v0.9h-0.9zM478.9 99.2h0.9v0.9h-0.9zM477.8 112.6h0.9v0.9h-0.9zM473.9 104.0h0.9v0.9h-0.9zM480.6 106.7h0.9v0.9h-0.9zM477.4 100.0h0.9v0.9h-0.9zM471.5 108.5h0.9v0.9h-0.9zM470.1 117.6h0.9v0.9h-0.9zM484.8 113.7h0.9v0.9h-0.9zM474.1 114.4h0.9v0.9h-0.9zM480.7 100.7h0.9v0.9h-0.9zM475.2 110.2h0.9v0.9h-0.9zM463.9 110.5h0.9v0.9h-0.9zM482.2 102.3h0.9v0.9h-0.9zM466.4 104.6h0.9v0.9h-0.9zM481.5 114.7h0.9v0.9h-0.9zM461.5 114.5h0.9v0.9h-0.9zM489.3 108.4h0.9v0.9h-0.9zM480.8 95.5h0.9v0.9h-0.9zM473.5 101.8h0.9v0.9h-0.9zM475.2 104.3h0.9v0.9h-0.9zM482.9 114.9h0.9v0.9h-0.9zM474.8 106.3h0.9v0.9h-0.9zM475.9 110.8h0.9v0.9h-0.9zM471.9 114.9h0.9v0.9h-0.9zM486.8 112.9h0.9v0.9h-0.9zM471.1 123.6h0.9v0.9h-0.9zM490.7 92.3h0.9v0.9h-0.9zM481.3 114.5h0.9v0.9h-0.9zM457.4 127.7h0.9v0.9h-0.9zM468.0 111.5h0.9v0.9h-0.9zM472.8 104.6h0.9v0.9h-0.9zM481.1 101.5h0.9v0.9h-0.9zM490.9 119.3h0.9v0.9h-0.9zM476.4 117.8h0.9v0.9h-0.9zM475.8 122.3h0.9v0.9h-0.9zM481.0 103.3h0.9v0.9h-0.9zM489.5 110.2h0.9v0.9h-0.9zM482.8 99.5h0.9v0.9h-0.9zM480.0 115.7h0.9v0.9h-0.9zM461.2 118.3h0.9v0.9h-0.9zM480.3 109.0h0.9v0.9h-0.9zM495.9 104.3h0.9v0.9h-0.9zM478.6 109.6h0.9v0.9h-0.9zM464.5 119.1h0.9v0.9h-0.9zM474.4 106.9h0.9v0.9h-0.9zM477.8 112.4h0.9v0.9h-0.9zM464.7 114.5h0.9v0.9h-0.9zM469.2 129.0h0.9v0.9h-0.9zM457.6 109.9h0.9v0.9h-0.9zM477.7 103.1h0.9v0.9h-0.9zM478.1 100.9h0.9v0.9h-0.9zM491.6 97.3h0.9v0.9h-0.9zM475.6 109.4h0.9v0.9h-0.9zM477.3 115.4h0.9v0.9h-0.9zM484.3 92.8h0.9v0.9h-0.9zM470.5 121.1h0.9v0.9h-0.9zM472.3 94.8h0.9v0.9h-0.9zM463.9 110.5h0.9v0.9h-0.9zM480.4 108.2h0.9v0.9h-0.9zM462.9 110.2h0.9v0.9h-0.9zM466.7 95.0h0.9v0.9h-0.9zM477.2 104.4h0.9v0.9h-0.9zM491.8 100.2h0.9v0.9h-0.9zM468.8 113.1h0.9v0.9h-0.9zM468.1 108.6h0.9v0.9h-0.9zM480.0 114.0h0.9v0.9h-0.9zM463.1 120.3h0.9v0.9h-0.9zM487.7 102.2h0.9v0.9h-0.9zM464.3 112.3h0.9v0.9h-0.9zM459.5 108.8h0.9v0.9h-0.9zM481.7 101.6h0.9v0.9h-0.9zM461.5 108.5h0.9v0.9h-0.9zM468.7 110.5h0.9v0.9h-0.9zM482.3 94.8h0.9v0.9h-0.9zM480.8 114.2h0.9v0.9h-0.9zM477.2 104.1h0.9v0.9h-0.9zM468.1 133.1h0.9v0.9h-0.9zM475.3 103.4h0.9v0.9h-0.9zM468.0 106.1h0.9v0.9h-0.9zM459.9 109.7h0.9v0.9h-0.9zM480.1 108.7h0.9v0.9h-0.9zM479.5 112.4h0.9v0.9h-0.9zM478.1 106.5h0.9v0.9h-0.9zM471.8 119.5h0.9v0.9h-0.9zM485.1 104.1h0.9v0.9h-0.9zM479.2 98.4h0.9v0.9h-0.9zM474.9 123.3h0.9v0.9h-0.9zM471.7 115.5h0.9v0.9h-0.9zM472.9 111.5h0.9v0.9h-0.9zM469.2 109.5h0.9v0.9h-0.9zM473.5 132.4h0.9v0.9h-0.9zM464.4 99.4h0.9v0.9h-0.9zM461.9 111.5h0.9v0.9h-0.9zM486.9 113.4h0.9v0.9h-0.9zM476.6 115.4h0.9v0.9h-0.9zM470.8 99.6h0.9v0.9h-0.9zM472.2 92.9h0.9v0.9h-0.9zM468.4 112.6h0.9v0.9h-0.9zM482.6 101.1h0.9v0.9h-0.9zM468.7 107.1h0.9v0.9h-0.9zM474.8 109.5h0.9v0.9h-0.9zM486.5 111.1h0.9v0.9h-0.9zM478.7 104.5h0.9v0.9h-0.9zM482.1 118.7h0.9v0.9h-0.9zM475.2 108.4h0.9v0.9h-0.9zM494.1 103.9h0.9v0.9h-0.9zM477.0 105.2h0.9v0.9h-0.9zM476.0 119.8h0.9v0.9h-0.9zM476.6 117.9h0.9v0.9h-0.9zM469.7 116.4h0.9v0.9h-0.9zM477.3 107.7h0.9v0.9h-0.9zM477.6 110.0h0.9v0.9h-0.9zM460.7 113.2h0.9v0.9h-0.9zM483.2 119.6h0.9v0.9h-0.9zM468.0 106.6h0.9v0.9h-0.9zM470.0 115.1h0.9v0.9h-0.9zM478.3 98.5h0.9v0.9h-0.9zM478.6 106.7h0.9v0.9h-0.9zM466.5 108.2h0.9v0.9h-0.9zM469.0 107.7h0.9v0.9h-0.9zM467.5 97.7h0.9v0.9h-0.9zM485.3 105.1h0.9v0.9h-0.9zM486.0 112.7h0.9v0.9h-0.9zM468.2 97.4h0.9v0.9h-0.9zM476.9 111.7h0.9v0.9h-0.9zM463.4 109.8h0.9v0.9h-0.9zM479.6 109.2h0.9v0.9h-0.9zM470.0 112.0h0.9v0.9h-0.9zM467.6 111.1h0.9v0.9h-0.9zM479.7 115.5h0.9v0.9h-0.9zM462.0 120.4h0.9v0.9h-0.9zM485.9 99.4h0.9v0.9h-0.9zM479.7 112.8h0.9v0.9h-0.9zM460.9 111.8h0.9v0.9h-0.9zM455.4 115.5h0.9v0.9h-0.9zM480.3 112.1h0.9v0.9h-0.9zM467.6 109.9h0.9v0.9h-0.9zM480.0 109.9h0.9v0.9h-0.9zM464.9 99.1h0.9v0.9h-0.9zM456.4 102.2h0.9v0.9h-0.9zM470.8 104.2h0.9v0.9h-0.9zM478.3 122.0h0.9v0.9h-0.9zM485.0 102.4h0.9v0.9h-0.9zM476.7 108.8h0.9v0.9h-0.9zM470.0 114.1h0.9v0.9h-0.9zM481.1 91.6h0.9v0.9h-0.9zM470.8 115.7h0.9v0.9h-0.9zM484.2 107.3h0.9v0.9h-0.9zM467.2 116.6h0.9v0.9h-0.9zM465.4 106.2h0.9v0.9h-0.9zM471.8 107.2h0.9v0.9h-0.9zM482.2 105.2h0.9v0.9h-0.9zM469.6 116.2h0.9v0.9h-0.9zM468.2 109.7h0.9v0.9h-0.9zM476.9 118.6h0.9v0.9h-0.9zM461.8 105.0h0.9v0.9h-0.9zM473.7 119.6h0.9v0.9h-0.9zM481.6 89.0h0.9v0.9h-0.9zM469.9 111.1h0.9v0.9h-0.9zM467.4 122.4h0.9v0.9h-0.9zM475.2 111.7h0.9v0.9h-0.9zM486.5 92.1h0.9v0.9h-0.9zM483.6 108.0h0.9v0.9h-0.9zM466.7 112.0h0.9v0.9h-0.9zM487.7 101.8h0.9v0.9h-0.9zM468.8 103.8h0.9v0.9h-0.9zM482.5 105.9h0.9v0.9h-0.9zM496.0 100.5h0.9v0.9h-0.9zM480.5 105.3h0.9v0.9h-0.9zM471.3 107.0h0.9v0.9h-0.9zM477.3 108.8h0.9v0.9h-0.9zM484.1 110.2h0.9v0.9h-0.9zM472.9 105.1h0.9v0.9h-0.9zM487.7 111.3h0.9v0.9h-0.9zM471.1 118.2h0.9v0.9h-0.9zM480.4 108.4h0.9v0.9h-0.9zM476.6 105.8h0.9v0.9h-0.9zM482.8 118.7h0.9v0.9h-0.9zM477.0 90.5h0.9v0.9h-0.9zM460.6 130.9h0.9v0.9h-0.9zM466.9 112.6h0.9v0.9h-0.9zM466.0 123.5h0.9v0.9h-0.9zM470.6 107.9h0.9v0.9h-0.9zM493.2 114.7h0.9v0.9h-0.9zM489.8 104.5h0.9v0.9h-0.9zM475.1 116.1h0.9v0.9h-0.9zM480.2 115.7h0.9v0.9h-0.9zM477.4 105.5h0.9v0.9h-0.9zM473.4 102.5h0.9v0.9h-0.9zM487.4 111.1h0.9v0.9h-0.9zM474.9 115.3h0.9v0.9h-0.9zM468.8 126.8h0.9v0.9h-0.9zM473.8 98.7h0.9v0.9h-0.9zM485.5 97.6h0.9v0.9h-0.9zM455.6 116.5h0.9v0.9h-0.9zM477.9 102.2h0.9v0.9h-0.9zM472.2 94.5h0.9v0.9h-0.9zM478.8 115.3h0.9v0.9h-0.9zM473.6 118.2h0.9v0.9h-0.9zM473.7 114.3h0.9v0.9h-0.9zM488.5 118.1h0.9v0.9h-0.9zM470.6 122.9h0.9v0.9h-0.9zM475.9 95.0h0.9v0.9h-0.9zM487.4 120.2h0.9v0.9h-0.9zM464.0 88.3h0.9v0.9h-0.9zM463.0 103.8h0.9v0.9h-0.9zM471.8 104.3h0.9v0.9h-0.9zM465.8 110.3h0.9v0.9h-0.9zM473.2 105.6h0.9v0.9h-0.9zM467.1 115.7h0.9v0.9h-0.9zM471.8 103.0h0.9v0.9h-0.9zM471.7 94.0h0.9v0.9h-0.9zM474.4 105.1h0.9v0.9h-0.9zM480.2 95.3h0.9v0.9h-0.9zM462.4 108.7h0.9v0.9h-0.9zM489.9 98.1h0.9v0.9h-0.9zM465.4 116.5h0.9v0.9h-0.9zM476.5 124.3h0.9v0.9h-0.9zM465.2 97.4h0.9v0.9h-0.9zM480.4 112.7h0.9v0.9h-0.9zM476.7 112.2h0.9v0.9h-0.9zM474.5 111.8h0.9v0.9h-0.9zM471.4 105.1h0.9v0.9h-0.9zM477.1 108.2h0.9v0.9h-0.9zM469.9 107.1h0.9v0.9h-0.9zM469.0 118.7h0.9v0.9h-0.9zM465.7 92.5h0.9v0.9h-0.9zM478.2 120.3h0.9v0.9h-0.9zM475.7 99.8h0.9v0.9h-0.9zM476.9 95.3h0.9v0.9h-0.9zM479.9 125.0h0.9v0.9h-0.9zM470.1 112.2h0.9v0.9h-0.9zM458.1 117.5h0.9v0.9h-0.9zM465.9 118.1h0.9v0.9h-0.9zM468.5 128.6h0.9v0.9h-0.9zM468.4 109.8h0.9v0.9h-0.9zM474.2 118.2h0.9v0.9h-0.9zM481.3 96.7h0.9v0.9h-0.9zM493.1 105.5h0.9v0.9h-0.9zM484.1 101.4h0.9v0.9h-0.9zM468.5 124.3h0.9v0.9h-0.9zM472.5 114.0h0.9v0.9h-0.9zM460.6 122.7h0.9v0.9h-0.9zM470.2 103.9h0.9v0.9h-0.9zM485.2 115.7h0.9v0.9h-0.9zM471.6 105.1h0.9v0.9h-0.9zM476.9 82.1h0.9v0.9h-0.9zM470.5 118.8h0.9v0.9h-0.9zM457.5 103.6h0.9v0.9h-0.9zM480.3 112.0h0.9v0.9h-0.9zM477.2 122.8h0.9v0.9h-0.9zM483.8 111.9h0.9v0.9h-0.9zM464.4 121.4h0.9v0.9h-0.9zM495.3 107.5h0.9v0.9h-0.9zM482.2 100.2h0.9v0.9h-0.9zM471.6 105.7h0.9v0.9h-0.9zM477.0 98.5h0.9v0.9h-0.9zM463.2 99.4h0.9v0.9h-0.9zM474.5 129.6h0.9v0.9h-0.9zM475.6 110.6h0.9v0.9h-0.9zM460.1 126.2h0.9v0.9h-0.9zM478.6 87.5h0.9v0.9h-0.9zM458.2 127.0h0.9v0.9h-0.9zM469.5 113.0h0.9v0.9h-0.9zM458.5 113.0h0.9v0.9h-0.9zM469.8 122.2h0.9v0.9h-0.9zM478.3 114.2h0.9v0.9h-0.9zM470.5 120.8h0.9v0.9h-0.9zM471.7 113.7h0.9v0.9h-0.9zM480.0 103.2h0.9v0.9h-0.9zM462.5 104.8h0.9v0.9h-0.9zM478.8 113.2h0.9v0.9h-0.9zM469.7 114.4h0.9v0.9h-0.9zM455.4 116.9h0.9v0.9h-0.9zM483.8 113.1h0.9v0.9h-0.9zM462.7 104.4h0.9v0.9h-0.9zM462.8 105.5h0.9v0.9h-0.9zM483.1 121.2h0.9v0.9h-0.9zM475.0 107.0h0.9v0.9h-0.9zM478.4 100.4h0.9v0.9h-0.9zM477.2 108.5h0.9v0.9h-0.9zM468.5 99.7h0.9v0.9h-0.9zM483.4 108.8h0.9v0.9h-0.9zM476.8 123.8h0.9v0.9h-0.9zM478.0 113.1h0.9v0.9h-0.9zM482.5 110.0h0.9v0.9h-0.9zM466.7 112.0h0.9v0.9h-0.9zM479.8 110.1h0.9v0.9h-0.9zM479.5 107.3h0.9v0.9h-0.9zM477.2 118.9h0.9v0.9h-0.9zM483.0 111.5h0.9v0.9h-0.9zM463.6 133.9h0.9v0.9h-0.9zM459.8 129.4h0.9v0.9h-0.9zM470.5 115.6h0.9v0.9h-0.9zM469.2 112.1h0.9v0.9h-0.9zM477.2 110.2h0.9v0.9h-0.9zM472.1 118.5h0.9v0.9h-0.9zM471.1 118.4h0.9v0.9h-0.9zM466.3 108.3h0.9v0.9h-0.9zM490.8 109.1h0.9v0.9h-0.9zM473.1 110.5h0.9v0.9h-0.9zM472.6 96.4h0.9v0.9h-0.9zM474.9 122.0h0.9v0.9h-0.9zM476.9 100.8h0.9v0.9h-0.9zM471.1 117.5h0.9v0.9h-0.9zM462.2 118.3h0.9v0.9h-0.9zM458.6 100.0h0.9v0.9h-0.9zM482.1 109.2h0.9v0.9h-0.9zM472.6 95.1h0.9v0.9h-0.9zM461.2 115.8h0.9v0.9h-0.9zM477.4 129.7h0.9v0.9h-0.9zM466.0 115.9h0.9v0.9h-0.9zM477.9 110.6h0.9v0.9h-0.9zM477.0 93.8h0.9v0.9h-0.9zM480.4 104.0h0.9v0.9h-0.9zM467.4 119.6h0.9v0.9h-0.9zM474.3 128.4h0.9v0.9h-0.9zM475.1 120.4h0.9v0.9h-0.9zM478.8 97.2h0.9v0.9h-0.9zM469.0 117.4h0.9v0.9h-0.9zM472.4 122.3h0.9v0.9h-0.9zM470.8 105.0h0.9v0.9h-0.9zM473.8 118.7h0.9v0.9h-0.9zM474.4 129.1h0.9v0.9h-0.9zM467.9 115.0h0.9v0.9h-0.9zM477.4 124.8h0.9v0.9h-0.9z"/>
<path fill="#444" opacity="0.38" d="M483.4 104.0h0.9v0.9h-0.9zM479.7 101.7h0.9v0.9h-0.9zM485.2 99.1h0.9v0.9h-0.9zM480.1 103.7h0.9v0.9h-0.9zM480.5 101.8h0.9v0.9h-0.9zM472.4 100.7h0.9v0.9h-0.9zM481.8 92.8h0.9v0.9h-0.9zM466.9 110.6h0.9v0.9h-0.9zM487.5 99.5h0.9v0.9h-0.9zM475.3 107.0h0.9v0.9h-0.9zM472.0 99.2h0.9v0.9h-0.9zM476.4 106.0h0.9v0.9h-0.9zM478.6 96.5h0.9v0.9h-0.9zM464.4 108.9h0.9v0.9h-0.9zM478.5 102.9h0.9v0.9h-0.9zM477.9 103.8h0.9v0.9h-0.9zM472.2 102.0h0.9v0.9h-0.9zM479.7 103.2h0.9v0.9h-0.9zM482.3 104.8h0.9v0.9h-0.9zM466.4 103.0h0.9v0.9h-0.9zM475.4 116.2h0.9v0.9h-0.9zM474.4 108.5h0.9v0.9h-0.9zM478.7 105.9h0.9v0.9h-0.9zM488.2 90.2h0.9v0.9h-0.9zM474.9 103.2h0.9v0.9h-0.9zM479.2 104.3h0.9v0.9h-0.9zM476.5 111.0h0.9v0.9h-0.9zM482.6 100.6h0.9v0.9h-0.9zM476.0 103.8h0.9v0.9h-0.9zM472.2 112.0h0.9v0.9h-0.9zM472.0 106.5h0.9v0.9h-0.9zM478.6 97.9h0.9v0.9h-0.9zM477.1 108.2h0.9v0.9h-0.9zM482.5 95.1h0.9v0.9h-0.9zM479.7 98.1h0.9v0.9h-0.9zM479.7 103.7h0.9v0.9h-0.9zM475.1 111.0h0.9v0.9h-0.9zM484.1 97.1h0.9v0.9h-0.9zM475.1 100.1h0.9v0.9h-0.9zM484.1 97.2h0.9v0.9h-0.9zM473.9 110.9h0.9v0.9h-0.9zM469.6 108.0h0.9v0.9h-0.9zM472.1 115.7h0.9v0.9h-0.9zM484.0 93.8h0.9v0.9h-0.9zM473.0 105.1h0.9v0.9h-0.9zM476.2 107.6h0.9v0.9h-0.9zM480.2 95.8h0.9v0.9h-0.9zM474.3 97.8h0.9v0.9h-0.9zM482.7 97.9h0.9v0.9h-0.9zM478.1 110.5h0.9v0.9h-0.9zM480.0 107.8h0.9v0.9h-0.9zM485.3 103.9h0.9v0.9h-0.9zM474.0 107.3h0.9v0.9h-0.9zM478.0 102.1h0.9v0.9h-0.9zM481.2 96.3h0.9v0.9h-0.9zM484.3 103.5h0.9v0.9h-0.9zM467.0 109.2h0.9v0.9h-0.9zM472.1 106.2h0.9v0.9h-0.9zM478.1 102.1h0.9v0.9h-0.9zM476.2 102.6h0.9v0.9h-0.9zM477.9 105.5h0.9v0.9h-0.9zM478.0 99.2h0.9v0.9h-0.9zM474.7 102.6h0.9v0.9h-0.9zM472.8 101.1h0.9v0.9h-0.9zM482.4 101.9h0.9v0.9h-0.9zM474.8 102.8h0.9v0.9h-0.9zM473.6 104.1h0.9v0.9h-0.9zM475.0 114.0h0.9v0.9h-0.9zM486.8 88.2h0.9v0.9h-0.9zM473.9 110.0h0.9v0.9h-0.9zM475.5 97.8h0.9v0.9h-0.9zM470.9 112.8h0.9v0.9h-0.9zM472.8 115.3h0.9v0.9h-0.9zM475.3 106.1h0.9v0.9h-0.9zM475.6 102.6h0.9v0.9h-0.9zM475.7 103.8h0.9v0.9h-0.9zM481.6 98.9h0.9v0.9h-0.9zM475.6 102.8h0.9v0.9h-0.9zM472.7 104.6h0.9v0.9h-0.9zM481.6 108.5h0.9v0.9h-0.9zM481.9 100.2h0.9v0.9h-0.9zM486.0 100.0h0.9v0.9h-0.9zM477.4 102.8h0.9v0.9h-0.9zM473.3 108.9h0.9v0.9h-0.9zM471.8 101.3h0.9v0.9h-0.9zM476.8 113.8h0.9v0.9h-0.9zM479.1 104.4h0.9v0.9h-0.9zM476.6 102.1h0.9v0.9h-0.9zM481.5 104.9h0.9v0.9h-0.9zM477.1 106.5h0.9v0.9h-0.9zM479.8 98.8h0.9v0.9h-0.9zM475.8 101.5h0.9v0.9h-0.9zM478.4 100.7h0.9v0.9h-0.9zM479.6 97.7h0.9v0.9h-0.9zM482.8 96.7h0.9v0.9h-0.9zM471.5 105.0h0.9v0.9h-0.9zM477.5 99.3h0.9v0.9h-0.9zM487.2 100.2h0.9v0.9h-0.9zM475.5 98.5h0.9v0.9h-0.9zM475.1 102.3h0.9v0.9h-0.9zM471.0 112.1h0.9v0.9h-0.9zM484.2 94.1h0.9v0.9h-0.9zM483.3 104.0h0.9v0.9h-0.9zM472.4 106.9h0.9v0.9h-0.9zM479.2 104.1h0.9v0.9h-0.9zM473.1 109.0h0.9v0.9h-0.9zM478.9 106.8h0.9v0.9h-0.9zM469.4 108.8h0.9v0.9h-0.9zM474.3 105.2h0.9v0.9h-0.9zM478.3 99.6h0.9v0.9h-0.9zM485.9 91.6h0.9v0.9h-0.9zM482.8 103.3h0.9v0.9h-0.9zM480.2 99.7h0.9v0.9h-0.9zM473.1 106.6h0.9v0.9h-0.9zM479.9 101.7h0.9v0.9h-0.9zM480.7 103.2h0.9v0.9h-0.9zM471.2 105.1h0.9v0.9h-0.9zM481.4 97.2h0.9v0.9h-0.9zM475.4 114.8h0.9v0.9h-0.9zM471.4 104.9h0.9v0.9h-0.9zM478.0 97.4h0.9v0.9h-0.9zM476.2 110.0h0.9v0.9h-0.9zM480.0 113.4h0.9v0.9h-0.9zM484.0 110.3h0.9v0.9h-0.9zM477.6 103.6h0.9v0.9h-0.9zM474.0 105.9h0.9v0.9h-0.9zM475.0 105.9h0.9v0.9h-0.9zM476.9 97.9h0.9v0.9h-0.9zM468.2 102.4h0.9v0.9h-0.9zM482.7 98.0h0.9v0.9h-0.9zM476.8 103.9h0.9v0.9h-0.9zM481.7 100.9h0.9v0.9h-0.9zM479.9 100.3h0.9v0.9h-0.9zM476.4 104.3h0.9v0.9h-0.9zM472.5 113.9h0.9v0.9h-0.9zM468.4 107.7h0.9v0.9h-0.9zM479.7 101.5h0.9v0.9h-0.9zM484.4 105.1h0.9v0.9h-0.9zM487.7 100.2h0.9v0.9h-0.9zM481.2 109.9h0.9v0.9h-0.9zM473.4 107.2h0.9v0.9h-0.9zM480.3 99.6h0.9v0.9h-0.9zM475.7 103.6h0.9v0.9h-0.9zM476.2 92.6h0.9v0.9h-0.9zM484.6 101.7h0.9v0.9h-0.9zM478.1 105.7h0.9v0.9h-0.9zM476.0 110.5h0.9v0.9h-0.9zM486.6 89.8h0.9v0.9h-0.9zM482.3 98.4h0.9v0.9h-0.9zM474.5 104.1h0.9v0.9h-0.9zM473.2 101.6h0.9v0.9h-0.9zM475.8 113.4h0.9v0.9h-0.9zM478.3 105.4h0.9v0.9h-0.9zM479.4 104.0h0.9v0.9h-0.9zM468.7 107.6h0.9v0.9h-0.9zM481.9 104.0h0.9v0.9h-0.9zM471.1 107.0h0.9v0.9h-0.9zM474.5 109.8h0.9v0.9h-0.9zM478.4 102.7h0.9v0.9h-0.9zM475.3 107.4h0.9v0.9h-0.9zM475.3 102.0h0.9v0.9h-0.9zM476.7 101.1h0.9v0.9h-0.9zM482.3 101.8h0.9v0.9h-0.9zM475.8 108.1h0.9v0.9h-0.9zM475.5 102.0h0.9v0.9h-0.9zM469.3 103.4h0.9v0.9h-0.9zM473.5 109.3h0.9v0.9h-0.9zM480.1 97.7h0.9v0.9h-0.9zM478.5 104.2h0.9v0.9h-0.9zM481.1 102.1h0.9v0.9h-0.9zM483.7 101.1h0.9v0.9h-0.9zM475.0 107.9h0.9v0.9h-0.9zM467.4 112.7h0.9v0.9h-0.9zM478.5 105.4h0.9v0.9h-0.9zM477.9 107.2h0.9v0.9h-0.9zM480.1 96.8h0.9v0.9h-0.9zM475.5 106.8h0.9v0.9h-0.9zM479.3 102.4h0.9v0.9h-0.9zM477.3 97.8h0.9v0.9h-0.9zM482.9 103.9h0.9v0.9h-0.9zM482.4 100.7h0.9v0.9h-0.9zM477.1 105.9h0.9v0.9h-0.9zM472.8 100.4h0.9v0.9h-0.9zM474.5 106.3h0.9v0.9h-0.9zM472.7 103.7h0.9v0.9h-0.9zM475.2 104.0h0.9v0.9h-0.9zM477.1 103.6h0.9v0.9h-0.9zM480.1 105.8h0.9v0.9h-0.9zM478.5 104.5h0.9v0.9h-0.9zM465.0 101.5h0.9v0.9h-0.9zM477.1 107.2h0.9v0.9h-0.9zM474.1 103.8h0.9v0.9h-0.9zM474.4 111.0h0.9v0.9h-0.9zM475.6 106.7h0.9v0.9h-0.9zM482.7 100.9h0.9v0.9h-0.9zM485.4 94.9h0.9v0.9h-0.9zM482.4 102.0h0.9v0.9h-0.9zM474.6 106.7h0.9v0.9h-0.9zM472.3 103.7h0.9v0.9h-0.9zM476.2 100.9h0.9v0.9h-0.9zM481.7 95.6h0.9v0.9h-0.9zM475.1 106.3h0.9v0.9h-0.9zM475.1 106.1h0.9v0.9h-0.9zM471.1 102.8h0.9v0.9h-0.9zM464.4 110.2h0.9v0.9h-0.9zM484.0 99.2h0.9v0.9h-0.9zM476.4 102.3h0.9v0.9h-0.9zM477.2 105.3h0.9v0.9h-0.9zM469.6 107.4h0.9v0.9h-0.9zM476.7 110.6h0.9v0.9h-0.9zM475.8 111.0h0.9v0.9h-0.9zM481.9 112.6h0.9v0.9h-0.9zM476.8 104.4h0.9v0.9h-0.9zM484.4 100.9h0.9v0.9h-0.9zM478.0 97.7h0.9v0.9h-0.9zM485.6 103.7h0.9v0.9h-0.9zM475.4 103.2h0.9v0.9h-0.9zM475.3 110.8h0.9v0.9h-0.9zM478.2 102.9h0.9v0.9h-0.9zM476.2 112.8h0.9v0.9h-0.9zM480.4 100.5h0.9v0.9h-0.9zM480.4 95.9h0.9v0.9h-0.9zM478.0 98.1h0.9v0.9h-0.9zM481.8 97.8h0.9v0.9h-0.9zM480.7 98.2h0.9v0.9h-0.9zM481.4 105.3h0.9v0.9h-0.9zM473.7 107.7h0.9v0.9h-0.9zM475.8 109.4h0.9v0.9h-0.9zM473.7 105.4h0.9v0.9h-0.9zM479.1 107.7h0.9v0.9h-0.9zM472.9 108.0h0.9v0.9h-0.9zM474.4 103.9h0.9v0.9h-0.9zM473.5 106.7h0.9v0.9h-0.9zM473.9 99.4h0.9v0.9h-0.9zM475.0 100.2h0.9v0.9h-0.9zM482.7 109.6h0.9v0.9h-0.9zM473.1 107.6h0.9v0.9h-0.9zM478.4 107.4h0.9v0.9h-0.9zM470.7 101.4h0.9v0.9h-0.9zM471.2 110.7h0.9v0.9h-0.9zM480.6 105.7h0.9v0.9h-0.9zM476.6 107.7h0.9v0.9h-0.9zM476.1 111.3h0.9v0.9h-0.9zM475.0 102.6h0.9v0.9h-0.9zM482.0 107.6h0.9v0.9h-0.9zM470.6 104.2h0.9v0.9h-0.9zM470.2 105.1h0.9v0.9h-0.9zM477.7 105.1h0.9v0.9h-0.9zM476.8 105.1h0.9v0.9h-0.9zM480.9 98.7h0.9v0.9h-0.9zM466.5 103.2h0.9v0.9h-0.9zM476.3 101.4h0.9v0.9h-0.9zM477.0 106.0h0.9v0.9h-0.9zM474.9 98.3h0.9v0.9h-0.9zM473.5 107.9h0.9v0.9h-0.9zM479.3 107.4h0.9v0.9h-0.9zM469.9 100.8h0.9v0.9h-0.9zM477.5 95.4h0.9v0.9h-0.9zM474.2 108.7h0.9v0.9h-0.9zM479.0 114.3h0.9v0.9h-0.9zM479.3 104.4h0.9v0.9h-0.9zM480.8 111.2h0.9v0.9h-0.9zM477.3 100.1h0.9v0.9h-0.9zM477.7 94.9h0.9v0.9h-0.9zM475.4 107.0h0.9v0.9h-0.9zM475.2 101.1h0.9v0.9h-0.9zM486.8 101.5h0.9v0.9h-0.9zM474.3 108.6h0.9v0.9h-0.9zM473.5 105.4h0.9v0.9h-0.9zM481.1 100.5h0.9v0.9h-0.9zM476.8 104.7h0.9v0.9h-0.9zM475.5 111.6h0.9v0.9h-0.9zM477.3 110.2h0.9v0.9h-0.9zM474.1 104.7h0.9v0.9h-0.9zM483.3 98.7h0.9v0.9h-0.9zM473.2 105.2h0.9v0.9h-0.9zM484.0 106.3h0.9v0.9h-0.9zM478.4 100.6h0.9v0.9h-0.9zM471.0 106.7h0.9v0.9h-0.9zM477.1 105.1h0.9v0.9h-0.9zM477.6 109.7h0.9v0.9h-0.9zM471.5 106.0h0.9v0.9h-0.9zM480.1 103.3h0.9v0.9h-0.9zM477.9 107.9h0.9v0.9h-0.9zM475.6 113.5h0.9v0.9h-0.9zM490.3 100.3h0.9v0.9h-0.9zM482.3 108.4h0.9v0.9h-0.9zM480.5 107.1h0.9v0.9h-0.9zM476.7 105.3h0.9v0.9h-0.9zM474.7 97.6h0.9v0.9h-0.9zM480.4 109.1h0.9v0.9h-0.9zM466.6 116.3h0.9v0.9h-0.9zM481.4 101.2h0.9v0.9h-0.9zM481.2 106.7h0.9v0.9h-0.9zM473.6 98.0h0.9v0.9h-0.9zM472.6 106.9h0.9v0.9h-0.9zM476.5 102.3h0.9v0.9h-0.9zM480.7 108.5h0.9v0.9h-0.9zM468.4 118.3h0.9v0.9h-0.9zM482.1 101.8h0.9v0.9h-0.9zM477.2 104.1h0.9v0.9h-0.9zM479.0 103.2h0.9v0.9h-0.9zM476.1 108.7h0.9v0.9h-0.9zM473.7 107.1h0.9v0.9h-0.9zM472.8 102.5h0.9v0.9h-0.9zM479.2 101.5h0.9v0.9h-0.9zM472.3 108.3h0.9v0.9h-0.9zM475.2 112.9h0.9v0.9h-0.9zM483.9 106.9h0.9v0.9h-0.9zM476.5 107.9h0.9v0.9h-0.9zM471.1 105.7h0.9v0.9h-0.9zM477.7 105.4h0.9v0.9h-0.9zM479.9 99.8h0.9v0.9h-0.9zM483.7 102.1h0.9v0.9h-0.9zM473.2 107.0h0.9v0.9h-0.9zM477.7 111.8h0.9v0.9h-0.9zM477.0 108.3h0.9v0.9h-0.9zM479.9 99.8h0.9v0.9h-0.9zM476.0 106.7h0.9v0.9h-0.9zM470.9 103.9h0.9v0.9h-0.9zM474.1 108.6h0.9v0.9h-0.9zM482.1 107.6h0.9v0.9h-0.9zM471.2 112.3h0.9v0.9h-0.9zM475.4 111.3h0.9v0.9h-0.9zM480.0 101.6h0.9v0.9h-0.9zM481.8 97.4h0.9v0.9h-0.9zM472.4 103.5h0.9v0.9h-0.9zM474.7 106.8h0.9v0.9h-0.9zM482.8 104.5h0.9v0.9h-0.9zM474.2 103.2h0.9v0.9h-0.9zM474.6 104.2h0.9v0.9h-0.9zM474.2 104.8h0.9v0.9h-0.9zM473.5 107.2h0.9v0.9h-0.9zM474.6 105.6h0.9v0.9h-0.9zM472.0 109.7h0.9v0.9h-0.9zM480.8 103.4h0.9v0.9h-0.9zM472.1 103.3h0.9v0.9h-0.9zM469.1 106.1h0.9v0.9h-0.9zM473.8 105.7h0.9v0.9h-0.9zM471.8 112.5h0.9v0.9h-0.9zM469.4 108.3h0.9v0.9h-0.9zM476.3 108.8h0.9v0.9h-0.9zM483.2 96.0h0.9v0.9h-0.9zM475.0 104.1h0.9v0.9h-0.9zM475.8 104.4h0.9v0.9h-0.9zM483.8 91.8h0.9v0.9h-0.9zM474.6 102.5h0.9v0.9h-0.9zM477.1 101.4h0.9v0.9h-0.9zM476.6 99.1h0.9v0.9h-0.9zM485.6 96.4h0.9v0.9h-0.9zM471.9 112.5h0.9v0.9h-0.9zM472.4 103.0h0.9v0.9h-0.9zM477.4 101.0h0.9v0.9h-0.9zM478.5 99.8h0.9v0.9h-0.9zM480.8 100.9h0.9v0.9h-0.9zM478.8 103.0h0.9v0.9h-0.9zM474.7 104.5h0.9v0.9h-0.9zM480.5 104.0h0.9v0.9h-0.9zM480.9 111.0h0.9v0.9h-0.9zM480.7 94.7h0.9v0.9h-0.9zM481.0 99.6h0.9v0.9h-0.9zM476.0 101.2h0.9v0.9h-0.9zM481.3 95.6h0.9v0.9h-0.9zM474.9 102.5h0.9v0.9h-0.9zM487.5 99.6h0.9v0.9h-0.9zM470.8 108.0h0.9v0.9h-0.9zM477.4 101.5h0.9v0.9h-0.9zM473.0 102.7h0.9v0.9h-0.9zM475.3 100.4h0.9v0.9h-0.9zM486.0 106.7h0.9v0.9h-0.9zM479.8 109.3h0.9v0.9h-0.9zM476.8 100.9h0.9v0.9h-0.9zM473.3 103.0h0.9v0.9h-0.9zM479.2 105.3h0.9v0.9h-0.9zM479.9 99.8h0.9v0.9h-0.9zM472.2 108.4h0.9v0.9h-0.9zM484.1 98.3h0.9v0.9h-0.9zM471.7 99.2h0.9v0.9h-0.9zM476.7 107.0h0.9v0.9h-0.9zM476.7 110.9h0.9v0.9h-0.9zM472.7 104.1h0.9v0.9h-0.9zM474.6 106.0h0.9v0.9h-0.9zM479.5 98.8h0.9v0.9h-0.9zM470.0 110.6h0.9v0.9h-0.9zM482.8 105.7h0.9v0.9h-0.9zM476.3 111.9h0.9v0.9h-0.9zM480.7 102.5h0.9v0.9h-0.9zM471.9 104.8h0.9v0.9h-0.9zM475.6 109.9h0.9v0.9h-0.9zM480.4 105.8h0.9v0.9h-0.9zM484.0 97.1h0.9v0.9h-0.9zM481.5 108.8h0.9v0.9h-0.9zM470.9 107.9h0.9v0.9h-0.9zM474.7 104.5h0.9v0.9h-0.9zM475.5 101.4h0.9v0.9h-0.9zM478.1 96.3h0.9v0.9h-0.9zM469.8 103.0h0.9v0.9h-0.9zM473.1 110.8h0.9v0.9h-0.9zM478.9 101.1h0.9v0.9h-0.9zM481.7 102.3h0.9v0.9h-0.9zM474.7 106.1h0.9v0.9h-0.9zM483.3 107.5h0.9v0.9h-0.9zM476.2 106.6h0.9v0.9h-0.9zM482.1 104.9h0.9v0.9h-0.9zM481.2 105.0h0.9v0.9h-0.9zM472.3 107.4h0.9v0.9h-0.9zM469.5 111.3h0.9v0.9h-0.9zM486.5 95.7h0.9v0.9h-0.9zM478.0 104.3h0.9v0.9h-0.9zM474.4 100.2h0.9v0.9h-0.9zM473.9 106.2h0.9v0.9h-0.9zM475.6 101.3h0.9v0.9h-0.9zM474.8 102.6h0.9v0.9h-0.9zM470.4 107.5h0.9v0.9h-0.9zM476.0 109.1h0.9v0.9h-0.9zM483.5 100.3h0.9v0.9h-0.9zM474.9 103.5h0.9v0.9h-0.9zM469.7 108.7h0.9v0.9h-0.9zM485.8 100.8h0.9v0.9h-0.9zM477.3 102.6h0.9v0.9h-0.9zM478.1 105.0h0.9v0.9h-0.9zM478.0 105.1h0.9v0.9h-0.9zM474.2 107.1h0.9v0.9h-0.9zM478.3 108.0h0.9v0.9h-0.9zM475.4 111.9h0.9v0.9h-0.9zM475.5 103.1h0.9v0.9h-0.9zM477.4 104.2h0.9v0.9h-0.9zM477.2 105.9h0.9v0.9h-0.9zM470.7 102.1h0.9v0.9h-0.9zM479.6 101.3h0.9v0.9h-0.9zM484.3 98.6h0.9v0.9h-0.9zM472.4 114.7h0.9v0.9h-0.9zM475.7 108.0h0.9v0.9h-0.9zM488.1 98.2h0.9v0.9h-0.9zM472.6 108.0h0.9v0.9h-0.9zM472.5 111.8h0.9v0.9h-0.9zM476.7 99.4h0.9v0.9h-0.9zM481.0 104.5h0.9v0.9h-0.9zM478.5 99.3h0.9v0.9h-0.9zM471.7 104.0h0.9v0.9h-0.9zM472.8 109.7h0.9v0.9h-0.9zM480.3 107.0h0.9v0.9h-0.9zM477.3 102.2h0.9v0.9h-0.9zM475.3 113.2h0.9v0.9h-0.9zM477.6 103.3h0.9v0.9h-0.9zM470.7 105.3h0.9v0.9h-0.9zM477.1 99.3h0.9v0.9h-0.9zM480.8 103.3h0.9v0.9h-0.9zM471.7 101.6h0.9v0.9h-0.9zM482.0 105.8h0.9v0.9h-0.9zM470.8 104.1h0.9v0.9h-0.9zM481.5 100.2h0.9v0.9h-0.9zM477.6 109.4h0.9v0.9h-0.9zM477.1 106.2h0.9v0.9h-0.9zM473.7 103.7h0.9v0.9h-0.9zM475.8 101.1h0.9v0.9h-0.9zM468.9 109.5h0.9v0.9h-0.9zM484.4 102.0h0.9v0.9h-0.9zM487.7 98.1h0.9v0.9h-0.9zM483.8 98.5h0.9v0.9h-0.9zM476.5 106.8h0.9v0.9h-0.9zM475.2 109.4h0.9v0.9h-0.9zM475.9 106.4h0.9v0.9h-0.9zM473.4 107.0h0.9v0.9h-0.9zM480.2 99.8h0.9v0.9h-0.9zM475.1 107.3h0.9v0.9h-0.9zM479.9 100.2h0.9v0.9h-0.9zM468.8 104.7h0.9v0.9h-0.9zM474.5 111.7h0.9v0.9h-0.9zM477.8 105.5h0.9v0.9h-0.9zM481.8 100.6h0.9v0.9h-0.9zM477.7 101.0h0.9v0.9h-0.9zM472.4 111.7h0.9v0.9h-0.9zM478.0 105.8h0.9v0.9h-0.9zM472.6 107.7h0.9v0.9h-0.9zM482.7 94.3h0.9v0.9h-0.9zM480.5 106.8h0.9v0.9h-0.9zM476.4 105.2h0.9v0.9h-0.9zM470.8 114.0h0.9v0.9h-0.9zM478.4 108.8h0.9v0.9h-0.9zM475.8 103.5h0.9v0.9h-0.9zM478.1 101.8h0.9v0.9h-0.9zM478.8 109.7h0.9v0.9h-0.9zM481.0 100.5h0.9v0.9h-0.9zM482.1 102.9h0.9v0.9h-0.9zM479.4 101.9h0.9v0.9h-0.9zM478.3 104.7h0.9v0.9h-0.9zM480.0 102.7h0.9v0.9h-0.9zM474.8 105.9h0.9v0.9h-0.9zM476.4 99.9h0.9v0.9h-0.9zM478.8 105.9h0.9v0.9h-0.9zM477.0 102.7h0.9v0.9h-0.9zM475.8 103.0h0.9v0.9h-0.9zM479.9 99.4h0.9v0.9h-0.9zM467.8 107.5h0.9v0.9h-0.9zM478.7 103.4h0.9v0.9h-0.9zM472.1 102.7h0.9v0.9h-0.9zM474.5 102.6h0.9v0.9h-0.9zM474.5 106.5h0.9v0.9h-0.9zM474.9 107.7h0.9v0.9h-0.9z"/>
<ellipse cx="489.1" cy="94.8" rx="6.6" ry="3.4" fill="#c0c0c0" stroke="#111" stroke-width="1.3"/>
<rect x="485.7" y="104.3" width="8.8" height="25" rx="1.8" fill="#d8d8d8" stroke="#111" stroke-width="1.3"/>
<path fill="#555" opacity="0.4" d="M488.7 110.8h0.8v0.8h-0.8zM489.6 120.1h0.8v0.8h-0.8zM492.8 117.6h0.8v0.8h-0.8zM488.7 113.1h0.8v0.8h-0.8zM491.6 116.9h0.8v0.8h-0.8zM487.1 112.8h0.8v0.8h-0.8zM488.7 116.7h0.8v0.8h-0.8zM491.1 110.5h0.8v0.8h-0.8zM489.9 122.2h0.8v0.8h-0.8zM489.1 110.8h0.8v0.8h-0.8zM492.6 112.9h0.8v0.8h-0.8zM490.8 107.1h0.8v0.8h-0.8zM493.2 117.8h0.8v0.8h-0.8zM490.6 116.5h0.8v0.8h-0.8zM489.1 110.8h0.8v0.8h-0.8zM487.2 114.8h0.8v0.8h-0.8zM492.2 117.2h0.8v0.8h-0.8zM491.6 116.5h0.8v0.8h-0.8zM488.4 106.8h0.8v0.8h-0.8zM491.1 113.9h0.8v0.8h-0.8zM491.7 111.8h0.8v0.8h-0.8zM488.4 115.2h0.8v0.8h-0.8zM489.0 105.3h0.8v0.8h-0.8zM488.9 108.9h0.8v0.8h-0.8zM488.0 110.5h0.8v0.8h-0.8zM491.7 124.3h0.8v0.8h-0.8zM493.0 111.1h0.8v0.8h-0.8zM492.0 112.7h0.8v0.8h-0.8zM490.7 109.9h0.8v0.8h-0.8zM489.9 105.1h0.8v0.8h-0.8zM493.2 109.4h0.8v0.8h-0.8zM491.0 110.3h0.8v0.8h-0.8zM490.5 107.5h0.8v0.8h-0.8zM489.3 117.4h0.8v0.8h-0.8zM491.5 106.8h0.8v0.8h-0.8zM490.5 115.6h0.8v0.8h-0.8zM488.9 111.6h0.8v0.8h-0.8zM489.6 115.0h0.8v0.8h-0.8zM491.6 119.6h0.8v0.8h-0.8zM490.6 122.6h0.8v0.8h-0.8zM488.3 121.5h0.8v0.8h-0.8zM489.5 116.7h0.8v0.8h-0.8zM489.8 113.5h0.8v0.8h-0.8zM488.4 114.9h0.8v0.8h-0.8zM490.0 113.1h0.8v0.8h-0.8zM491.3 112.1h0.8v0.8h-0.8zM490.0 114.1h0.8v0.8h-0.8zM492.3 117.6h0.8v0.8h-0.8zM488.1 110.1h0.8v0.8h-0.8zM490.0 117.1h0.8v0.8h-0.8zM491.7 112.1h0.8v0.8h-0.8zM492.5 119.8h0.8v0.8h-0.8zM492.8 114.0h0.8v0.8h-0.8zM491.0 105.8h0.8v0.8h-0.8zM486.9 110.2h0.8v0.8h-0.8z"/>
<rect x="454.5" y="78.4" width="61.5" height="61.6" fill="none" stroke="#222" stroke-width="1.4"/>
<line x1="416.2" y1="67.5" x2="442.92" y2="54.30" stroke="#111" stroke-width="1.4"/>
<polygon points="449.2,51.2 444.07,57.75 440.88,51.29" fill="#111"/>
<line x1="416.2" y1="89.2" x2="444.00" y2="98.98" stroke="#111" stroke-width="1.4"/>
<polygon points="450.6,101.3 442.33,102.21 444.72,95.42" fill="#111"/>
<text x="477.20" y="19.30" font-size="10.4" text-anchor="start" font-weight="normal" fill="#111">T2-MZP</text>
<text x="493.60" y="44.30" font-size="11.1" text-anchor="start" font-weight="normal" fill="#111">FO</text>
<text x="494.60" y="89.80" font-size="11" text-anchor="start" font-weight="normal" fill="#111">MZ</text>
<text x="497.60" y="119.80" font-size="10.8" text-anchor="start" font-weight="normal" fill="#111">T1</text>
<text x="333.00" y="106.20" font-size="10.5" text-anchor="start" font-weight="normal" fill="#111">CD23</text>
<text x="363.40" y="125.00" font-size="10.6" text-anchor="start" font-weight="normal" fill="#111">FSC</text>
<text x="417.20" y="145.00" font-size="10.3" text-anchor="start" font-weight="normal" fill="#111">CD21</text>
<text x="448.10" y="163.40" font-size="10.8" text-anchor="start" font-weight="normal" fill="#111">IgM</text>
<polyline points="362.1,91.2 362.1,111.6 380.3,111.6" stroke="#111" stroke-width="1.3" fill="none"/>
<polygon points="362.1,88.2 359.70000000000005,91.9 364.5,91.9" fill="#111"/>
<polygon points="383.3,111.6 379.6,109.19999999999999 379.6,114.0" fill="#111"/>
<polyline points="446.4,131 446.4,151.2 464.2,151.2" stroke="#111" stroke-width="1.3" fill="none"/>
<polygon points="446.4,128 444.0,131.7 448.79999999999995,131.7" fill="#111"/>
<polygon points="467.2,151.2 463.5,148.79999999999998 463.5,153.6" fill="#111"/>
<path fill="#333" opacity="0.5" d="M55.5 611.6h0.9v0.9h-0.9zM51.5 611.5h0.9v0.9h-0.9zM44.2 603.5h0.9v0.9h-0.9zM47.3 602.6h0.9v0.9h-0.9zM60.1 603.1h0.9v0.9h-0.9zM47.9 605.4h0.9v0.9h-0.9zM56.3 605.1h0.9v0.9h-0.9zM55.6 609.4h0.9v0.9h-0.9zM48.9 597.0h0.9v0.9h-0.9zM47.5 601.7h0.9v0.9h-0.9zM60.0 604.0h0.9v0.9h-0.9zM46.8 608.7h0.9v0.9h-0.9zM52.3 603.1h0.9v0.9h-0.9zM57.4 611.0h0.9v0.9h-0.9zM53.4 603.8h0.9v0.9h-0.9zM47.7 598.3h0.9v0.9h-0.9zM53.9 608.7h0.9v0.9h-0.9zM47.5 607.2h0.9v0.9h-0.9zM68.1 602.2h0.9v0.9h-0.9zM43.6 609.7h0.9v0.9h-0.9zM49.9 605.0h0.9v0.9h-0.9zM55.0 606.5h0.9v0.9h-0.9zM56.9 609.3h0.9v0.9h-0.9zM57.7 607.6h0.9v0.9h-0.9zM43.7 611.5h0.9v0.9h-0.9zM53.2 601.1h0.9v0.9h-0.9zM52.3 610.8h0.9v0.9h-0.9zM47.0 607.2h0.9v0.9h-0.9zM48.4 602.8h0.9v0.9h-0.9zM49.0 612.5h0.9v0.9h-0.9zM55.4 606.9h0.9v0.9h-0.9zM51.6 607.6h0.9v0.9h-0.9zM53.4 607.8h0.9v0.9h-0.9zM43.6 611.0h0.9v0.9h-0.9zM47.8 595.9h0.9v0.9h-0.9zM55.4 601.9h0.9v0.9h-0.9zM51.3 606.7h0.9v0.9h-0.9zM49.1 609.3h0.9v0.9h-0.9zM50.7 605.9h0.9v0.9h-0.9zM47.3 605.9h0.9v0.9h-0.9zM46.9 607.2h0.9v0.9h-0.9zM58.5 611.4h0.9v0.9h-0.9zM54.1 601.2h0.9v0.9h-0.9zM57.0 611.0h0.9v0.9h-0.9zM62.1 597.4h0.9v0.9h-0.9zM52.1 605.6h0.9v0.9h-0.9zM57.3 602.4h0.9v0.9h-0.9zM56.9 598.5h0.9v0.9h-0.9zM49.0 609.6h0.9v0.9h-0.9zM52.5 600.8h0.9v0.9h-0.9zM48.9 611.9h0.9v0.9h-0.9zM57.8 604.5h0.9v0.9h-0.9zM57.5 604.0h0.9v0.9h-0.9zM53.2 606.9h0.9v0.9h-0.9zM45.9 608.4h0.9v0.9h-0.9zM50.1 595.3h0.9v0.9h-0.9zM47.9 603.4h0.9v0.9h-0.9zM47.9 602.8h0.9v0.9h-0.9zM48.6 596.5h0.9v0.9h-0.9zM56.4 607.3h0.9v0.9h-0.9zM53.3 605.9h0.9v0.9h-0.9zM52.3 605.9h0.9v0.9h-0.9zM46.6 600.5h0.9v0.9h-0.9zM52.4 611.4h0.9v0.9h-0.9zM45.3 605.9h0.9v0.9h-0.9zM49.0 612.3h0.9v0.9h-0.9zM60.3 604.8h0.9v0.9h-0.9zM55.6 606.0h0.9v0.9h-0.9zM47.1 606.6h0.9v0.9h-0.9zM54.9 612.1h0.9v0.9h-0.9zM53.8 596.6h0.9v0.9h-0.9zM55.9 607.4h0.9v0.9h-0.9zM47.0 610.4h0.9v0.9h-0.9zM53.6 606.3h0.9v0.9h-0.9zM50.6 609.3h0.9v0.9h-0.9zM54.8 609.9h0.9v0.9h-0.9zM50.0 601.4h0.9v0.9h-0.9zM58.5 612.6h0.9v0.9h-0.9zM49.2 606.9h0.9v0.9h-0.9zM56.0 599.5h0.9v0.9h-0.9zM53.3 604.0h0.9v0.9h-0.9zM62.0 607.1h0.9v0.9h-0.9zM53.0 605.2h0.9v0.9h-0.9zM52.9 599.3h0.9v0.9h-0.9zM45.7 600.7h0.9v0.9h-0.9zM56.4 606.6h0.9v0.9h-0.9zM57.7 598.2h0.9v0.9h-0.9zM48.1 599.0h0.9v0.9h-0.9zM48.3 605.5h0.9v0.9h-0.9zM51.9 612.6h0.9v0.9h-0.9zM54.9 604.9h0.9v0.9h-0.9zM49.6 600.6h0.9v0.9h-0.9zM58.3 612.4h0.9v0.9h-0.9zM52.4 603.2h0.9v0.9h-0.9zM55.3 609.1h0.9v0.9h-0.9zM52.8 602.0h0.9v0.9h-0.9zM53.2 604.6h0.9v0.9h-0.9zM55.6 609.6h0.9v0.9h-0.9zM54.2 605.2h0.9v0.9h-0.9zM59.5 610.3h0.9v0.9h-0.9zM58.2 610.6h0.9v0.9h-0.9zM55.3 608.7h0.9v0.9h-0.9zM46.7 599.2h0.9v0.9h-0.9zM47.4 609.7h0.9v0.9h-0.9zM56.5 607.8h0.9v0.9h-0.9zM50.0 599.3h0.9v0.9h-0.9zM44.4 605.6h0.9v0.9h-0.9zM55.4 610.2h0.9v0.9h-0.9zM50.9 610.5h0.9v0.9h-0.9zM51.8 603.9h0.9v0.9h-0.9zM50.1 610.3h0.9v0.9h-0.9zM56.7 602.2h0.9v0.9h-0.9zM47.1 607.5h0.9v0.9h-0.9zM62.4 602.0h0.9v0.9h-0.9zM45.9 608.8h0.9v0.9h-0.9zM54.5 604.4h0.9v0.9h-0.9zM51.9 609.1h0.9v0.9h-0.9zM54.9 611.0h0.9v0.9h-0.9zM57.7 606.7h0.9v0.9h-0.9zM44.9 612.8h0.9v0.9h-0.9zM55.8 604.3h0.9v0.9h-0.9zM57.1 611.5h0.9v0.9h-0.9zM51.3 596.8h0.9v0.9h-0.9zM49.7 603.7h0.9v0.9h-0.9zM47.9 606.7h0.9v0.9h-0.9zM46.7 608.7h0.9v0.9h-0.9zM61.3 601.9h0.9v0.9h-0.9zM57.1 604.7h0.9v0.9h-0.9zM54.7 606.5h0.9v0.9h-0.9zM58.3 603.9h0.9v0.9h-0.9zM55.6 603.7h0.9v0.9h-0.9zM53.1 606.9h0.9v0.9h-0.9zM57.3 600.2h0.9v0.9h-0.9zM47.0 607.9h0.9v0.9h-0.9zM51.7 605.1h0.9v0.9h-0.9zM55.5 606.6h0.9v0.9h-0.9zM48.3 610.3h0.9v0.9h-0.9zM58.7 604.8h0.9v0.9h-0.9zM50.4 608.6h0.9v0.9h-0.9zM57.5 609.3h0.9v0.9h-0.9zM47.3 604.6h0.9v0.9h-0.9zM57.1 606.5h0.9v0.9h-0.9zM48.9 610.8h0.9v0.9h-0.9zM46.7 604.0h0.9v0.9h-0.9zM48.6 608.5h0.9v0.9h-0.9zM49.7 611.8h0.9v0.9h-0.9zM48.9 605.8h0.9v0.9h-0.9zM54.8 607.9h0.9v0.9h-0.9zM54.8 604.9h0.9v0.9h-0.9zM53.0 602.2h0.9v0.9h-0.9zM46.0 605.7h0.9v0.9h-0.9zM53.8 607.4h0.9v0.9h-0.9zM48.2 601.0h0.9v0.9h-0.9zM53.8 603.5h0.9v0.9h-0.9zM57.8 609.3h0.9v0.9h-0.9zM50.0 604.4h0.9v0.9h-0.9zM57.6 608.4h0.9v0.9h-0.9zM60.0 608.6h0.9v0.9h-0.9zM49.1 604.4h0.9v0.9h-0.9zM48.6 608.1h0.9v0.9h-0.9zM53.2 609.6h0.9v0.9h-0.9zM54.2 602.5h0.9v0.9h-0.9zM51.0 602.9h0.9v0.9h-0.9zM54.4 601.3h0.9v0.9h-0.9zM49.2 603.3h0.9v0.9h-0.9zM49.0 605.9h0.9v0.9h-0.9zM59.4 605.9h0.9v0.9h-0.9zM45.0 605.7h0.9v0.9h-0.9zM55.6 609.4h0.9v0.9h-0.9zM57.4 607.4h0.9v0.9h-0.9zM57.9 601.2h0.9v0.9h-0.9zM51.2 603.3h0.9v0.9h-0.9zM43.8 603.3h0.9v0.9h-0.9zM56.9 606.6h0.9v0.9h-0.9zM52.7 606.9h0.9v0.9h-0.9zM52.9 606.2h0.9v0.9h-0.9zM47.2 605.7h0.9v0.9h-0.9zM52.5 603.1h0.9v0.9h-0.9zM44.0 604.7h0.9v0.9h-0.9zM50.6 607.1h0.9v0.9h-0.9zM52.5 603.9h0.9v0.9h-0.9zM51.8 607.0h0.9v0.9h-0.9zM52.6 600.6h0.9v0.9h-0.9zM44.4 609.6h0.9v0.9h-0.9zM50.3 604.3h0.9v0.9h-0.9zM45.4 605.7h0.9v0.9h-0.9zM51.6 604.0h0.9v0.9h-0.9zM50.3 610.8h0.9v0.9h-0.9zM55.8 609.4h0.9v0.9h-0.9zM51.2 601.1h0.9v0.9h-0.9zM58.2 612.0h0.9v0.9h-0.9zM53.3 608.6h0.9v0.9h-0.9zM51.9 612.4h0.9v0.9h-0.9zM55.8 605.6h0.9v0.9h-0.9zM52.0 600.1h0.9v0.9h-0.9zM48.4 605.7h0.9v0.9h-0.9zM63.9 603.5h0.9v0.9h-0.9zM56.5 607.3h0.9v0.9h-0.9zM50.6 609.7h0.9v0.9h-0.9zM61.4 608.3h0.9v0.9h-0.9zM51.7 607.7h0.9v0.9h-0.9zM55.2 604.9h0.9v0.9h-0.9zM52.6 609.2h0.9v0.9h-0.9zM50.3 608.7h0.9v0.9h-0.9zM53.6 610.1h0.9v0.9h-0.9zM47.2 604.7h0.9v0.9h-0.9zM49.9 612.2h0.9v0.9h-0.9zM53.2 599.9h0.9v0.9h-0.9zM53.6 601.4h0.9v0.9h-0.9zM47.6 607.6h0.9v0.9h-0.9zM50.2 605.7h0.9v0.9h-0.9zM61.3 602.8h0.9v0.9h-0.9zM59.6 608.5h0.9v0.9h-0.9zM52.5 612.6h0.9v0.9h-0.9zM54.3 603.4h0.9v0.9h-0.9zM44.6 607.1h0.9v0.9h-0.9zM55.9 607.9h0.9v0.9h-0.9zM54.1 608.7h0.9v0.9h-0.9zM49.0 606.5h0.9v0.9h-0.9zM52.6 605.1h0.9v0.9h-0.9zM44.9 600.8h0.9v0.9h-0.9zM54.5 609.3h0.9v0.9h-0.9zM52.5 601.9h0.9v0.9h-0.9zM56.1 605.3h0.9v0.9h-0.9zM54.6 605.1h0.9v0.9h-0.9zM59.2 612.9h0.9v0.9h-0.9zM53.3 599.6h0.9v0.9h-0.9zM50.2 605.8h0.9v0.9h-0.9zM54.2 606.5h0.9v0.9h-0.9zM53.7 599.9h0.9v0.9h-0.9zM44.9 611.0h0.9v0.9h-0.9zM63.2 609.8h0.9v0.9h-0.9zM45.3 612.4h0.9v0.9h-0.9zM50.0 612.4h0.9v0.9h-0.9zM57.7 607.8h0.9v0.9h-0.9zM60.7 611.3h0.9v0.9h-0.9zM49.7 602.8h0.9v0.9h-0.9zM64.0 605.2h0.9v0.9h-0.9zM54.0 606.5h0.9v0.9h-0.9zM49.7 600.0h0.9v0.9h-0.9zM51.3 606.5h0.9v0.9h-0.9zM56.8 604.8h0.9v0.9h-0.9zM44.4 602.4h0.9v0.9h-0.9zM51.8 608.1h0.9v0.9h-0.9zM55.5 605.3h0.9v0.9h-0.9zM54.6 607.6h0.9v0.9h-0.9zM60.2 606.8h0.9v0.9h-0.9zM52.7 609.5h0.9v0.9h-0.9zM57.9 603.0h0.9v0.9h-0.9zM49.7 605.8h0.9v0.9h-0.9zM57.2 607.1h0.9v0.9h-0.9zM68.3 612.5h0.9v0.9h-0.9zM56.4 600.9h0.9v0.9h-0.9zM59.4 608.8h0.9v0.9h-0.9zM46.2 607.2h0.9v0.9h-0.9zM55.7 611.3h0.9v0.9h-0.9zM52.9 604.7h0.9v0.9h-0.9zM55.7 603.7h0.9v0.9h-0.9zM51.6 610.3h0.9v0.9h-0.9zM45.0 608.6h0.9v0.9h-0.9zM46.0 606.6h0.9v0.9h-0.9zM55.5 606.8h0.9v0.9h-0.9zM56.4 607.4h0.9v0.9h-0.9zM51.0 609.1h0.9v0.9h-0.9zM50.8 607.6h0.9v0.9h-0.9zM57.1 604.5h0.9v0.9h-0.9zM57.6 602.2h0.9v0.9h-0.9zM50.9 599.5h0.9v0.9h-0.9zM53.7 612.5h0.9v0.9h-0.9zM44.9 602.6h0.9v0.9h-0.9zM54.3 610.6h0.9v0.9h-0.9zM56.1 599.7h0.9v0.9h-0.9zM54.5 606.7h0.9v0.9h-0.9zM52.6 609.1h0.9v0.9h-0.9zM50.6 599.7h0.9v0.9h-0.9zM46.8 600.7h0.9v0.9h-0.9zM45.6 606.4h0.9v0.9h-0.9zM58.4 603.9h0.9v0.9h-0.9zM48.3 602.0h0.9v0.9h-0.9zM43.6 607.3h0.9v0.9h-0.9zM49.6 606.0h0.9v0.9h-0.9zM47.3 609.1h0.9v0.9h-0.9zM46.2 609.4h0.9v0.9h-0.9zM48.8 610.4h0.9v0.9h-0.9zM47.7 608.9h0.9v0.9h-0.9zM54.1 606.7h0.9v0.9h-0.9zM59.9 607.8h0.9v0.9h-0.9zM47.7 610.0h0.9v0.9h-0.9zM48.0 604.7h0.9v0.9h-0.9zM52.1 607.8h0.9v0.9h-0.9zM60.3 599.4h0.9v0.9h-0.9zM50.7 611.9h0.9v0.9h-0.9zM51.2 608.4h0.9v0.9h-0.9zM59.4 601.7h0.9v0.9h-0.9zM52.2 610.4h0.9v0.9h-0.9zM49.1 599.4h0.9v0.9h-0.9zM47.1 607.8h0.9v0.9h-0.9zM58.5 600.3h0.9v0.9h-0.9zM57.1 611.0h0.9v0.9h-0.9zM59.9 606.3h0.9v0.9h-0.9zM49.3 607.6h0.9v0.9h-0.9zM59.5 609.7h0.9v0.9h-0.9zM60.3 610.4h0.9v0.9h-0.9zM49.1 602.6h0.9v0.9h-0.9zM61.0 600.4h0.9v0.9h-0.9zM50.3 605.6h0.9v0.9h-0.9zM47.6 604.5h0.9v0.9h-0.9zM51.7 604.7h0.9v0.9h-0.9zM52.6 611.1h0.9v0.9h-0.9zM48.0 605.2h0.9v0.9h-0.9zM56.3 605.8h0.9v0.9h-0.9zM50.1 605.7h0.9v0.9h-0.9zM46.1 610.4h0.9v0.9h-0.9zM49.0 603.9h0.9v0.9h-0.9zM54.5 607.5h0.9v0.9h-0.9zM49.2 606.0h0.9v0.9h-0.9zM49.6 612.9h0.9v0.9h-0.9zM56.9 603.8h0.9v0.9h-0.9zM54.2 609.9h0.9v0.9h-0.9zM53.7 609.5h0.9v0.9h-0.9zM54.3 609.3h0.9v0.9h-0.9zM49.5 610.9h0.9v0.9h-0.9zM52.3 602.4h0.9v0.9h-0.9zM47.0 607.7h0.9v0.9h-0.9zM53.6 597.4h0.9v0.9h-0.9zM44.5 605.9h0.9v0.9h-0.9zM49.1 609.4h0.9v0.9h-0.9zM47.1 612.4h0.9v0.9h-0.9zM46.1 608.3h0.9v0.9h-0.9zM52.8 609.7h0.9v0.9h-0.9zM48.1 612.8h0.9v0.9h-0.9zM51.7 606.9h0.9v0.9h-0.9zM50.7 602.4h0.9v0.9h-0.9zM55.5 608.5h0.9v0.9h-0.9zM47.8 605.8h0.9v0.9h-0.9zM52.0 610.7h0.9v0.9h-0.9zM51.1 611.1h0.9v0.9h-0.9zM54.2 599.3h0.9v0.9h-0.9zM48.7 598.1h0.9v0.9h-0.9zM50.6 605.2h0.9v0.9h-0.9zM54.9 607.7h0.9v0.9h-0.9zM51.7 612.5h0.9v0.9h-0.9zM54.9 601.6h0.9v0.9h-0.9zM48.6 608.4h0.9v0.9h-0.9zM60.3 606.1h0.9v0.9h-0.9zM51.2 608.2h0.9v0.9h-0.9zM55.8 606.6h0.9v0.9h-0.9zM53.4 605.2h0.9v0.9h-0.9zM49.3 603.5h0.9v0.9h-0.9zM55.2 604.6h0.9v0.9h-0.9zM54.7 608.8h0.9v0.9h-0.9zM56.8 595.3h0.9v0.9h-0.9zM47.3 601.7h0.9v0.9h-0.9zM51.2 610.5h0.9v0.9h-0.9zM58.6 608.7h0.9v0.9h-0.9zM50.1 609.3h0.9v0.9h-0.9zM52.0 609.7h0.9v0.9h-0.9zM47.0 602.2h0.9v0.9h-0.9zM48.9 606.8h0.9v0.9h-0.9zM53.7 605.4h0.9v0.9h-0.9zM53.7 610.0h0.9v0.9h-0.9zM46.3 606.6h0.9v0.9h-0.9zM44.4 604.6h0.9v0.9h-0.9zM56.4 603.9h0.9v0.9h-0.9zM61.1 609.2h0.9v0.9h-0.9zM56.3 607.5h0.9v0.9h-0.9zM56.2 611.8h0.9v0.9h-0.9zM52.5 604.7h0.9v0.9h-0.9zM51.1 605.0h0.9v0.9h-0.9zM48.5 599.6h0.9v0.9h-0.9zM49.6 608.4h0.9v0.9h-0.9zM49.6 603.7h0.9v0.9h-0.9zM54.0 609.0h0.9v0.9h-0.9zM49.9 608.3h0.9v0.9h-0.9zM47.2 610.8h0.9v0.9h-0.9zM47.2 605.5h0.9v0.9h-0.9zM52.7 605.2h0.9v0.9h-0.9zM59.4 599.4h0.9v0.9h-0.9zM52.6 601.5h0.9v0.9h-0.9zM53.5 601.3h0.9v0.9h-0.9zM54.8 609.3h0.9v0.9h-0.9zM60.3 612.3h0.9v0.9h-0.9zM49.8 611.1h0.9v0.9h-0.9zM49.8 606.5h0.9v0.9h-0.9zM49.6 599.3h0.9v0.9h-0.9zM54.9 598.1h0.9v0.9h-0.9zM50.8 609.3h0.9v0.9h-0.9zM52.6 600.1h0.9v0.9h-0.9zM48.8 610.0h0.9v0.9h-0.9zM49.6 610.3h0.9v0.9h-0.9zM43.8 606.4h0.9v0.9h-0.9zM55.5 604.2h0.9v0.9h-0.9zM50.2 602.7h0.9v0.9h-0.9zM57.4 601.2h0.9v0.9h-0.9zM47.5 605.5h0.9v0.9h-0.9zM53.3 603.4h0.9v0.9h-0.9zM54.8 608.5h0.9v0.9h-0.9zM53.4 606.7h0.9v0.9h-0.9zM54.3 601.9h0.9v0.9h-0.9zM46.1 605.1h0.9v0.9h-0.9zM46.6 610.1h0.9v0.9h-0.9zM61.5 612.4h0.9v0.9h-0.9zM54.2 608.5h0.9v0.9h-0.9zM48.7 601.3h0.9v0.9h-0.9zM54.7 600.5h0.9v0.9h-0.9zM53.5 606.4h0.9v0.9h-0.9zM55.7 607.2h0.9v0.9h-0.9zM52.5 604.5h0.9v0.9h-0.9zM43.6 605.5h0.9v0.9h-0.9zM55.4 611.6h0.9v0.9h-0.9zM58.7 602.6h0.9v0.9h-0.9zM47.4 610.1h0.9v0.9h-0.9zM53.5 600.3h0.9v0.9h-0.9zM49.8 602.5h0.9v0.9h-0.9zM43.7 603.9h0.9v0.9h-0.9zM62.7 607.4h0.9v0.9h-0.9zM50.7 601.9h0.9v0.9h-0.9zM53.7 604.9h0.9v0.9h-0.9zM54.1 603.1h0.9v0.9h-0.9zM59.2 606.8h0.9v0.9h-0.9zM54.5 607.6h0.9v0.9h-0.9zM57.8 609.7h0.9v0.9h-0.9zM50.3 610.1h0.9v0.9h-0.9zM50.1 607.6h0.9v0.9h-0.9zM60.0 602.3h0.9v0.9h-0.9zM46.9 605.2h0.9v0.9h-0.9zM49.6 612.7h0.9v0.9h-0.9zM59.7 605.0h0.9v0.9h-0.9zM52.9 605.4h0.9v0.9h-0.9zM55.3 609.9h0.9v0.9h-0.9zM55.7 610.4h0.9v0.9h-0.9zM61.4 606.3h0.9v0.9h-0.9zM55.4 606.2h0.9v0.9h-0.9zM52.2 608.0h0.9v0.9h-0.9zM51.7 608.5h0.9v0.9h-0.9zM47.8 606.3h0.9v0.9h-0.9zM49.0 601.9h0.9v0.9h-0.9zM48.5 604.8h0.9v0.9h-0.9zM51.3 600.2h0.9v0.9h-0.9zM50.7 602.0h0.9v0.9h-0.9zM48.0 607.8h0.9v0.9h-0.9zM57.4 608.3h0.9v0.9h-0.9zM49.6 605.1h0.9v0.9h-0.9zM58.6 599.9h0.9v0.9h-0.9zM57.6 600.4h0.9v0.9h-0.9zM48.9 607.2h0.9v0.9h-0.9zM54.4 606.8h0.9v0.9h-0.9zM56.7 607.2h0.9v0.9h-0.9zM48.1 611.9h0.9v0.9h-0.9zM59.3 612.6h0.9v0.9h-0.9zM50.0 610.4h0.9v0.9h-0.9zM44.1 602.5h0.9v0.9h-0.9zM57.8 609.2h0.9v0.9h-0.9zM50.5 594.1h0.9v0.9h-0.9zM54.2 606.2h0.9v0.9h-0.9zM52.0 608.0h0.9v0.9h-0.9zM55.7 605.8h0.9v0.9h-0.9zM47.6 605.4h0.9v0.9h-0.9zM61.7 604.0h0.9v0.9h-0.9zM57.2 607.5h0.9v0.9h-0.9zM55.6 605.8h0.9v0.9h-0.9zM47.6 611.4h0.9v0.9h-0.9zM50.7 605.4h0.9v0.9h-0.9zM53.7 606.2h0.9v0.9h-0.9zM50.5 603.1h0.9v0.9h-0.9zM53.2 608.4h0.9v0.9h-0.9zM61.0 606.9h0.9v0.9h-0.9zM63.2 605.1h0.9v0.9h-0.9zM48.1 606.3h0.9v0.9h-0.9zM51.1 600.4h0.9v0.9h-0.9zM54.8 603.1h0.9v0.9h-0.9zM58.1 607.9h0.9v0.9h-0.9zM49.5 605.9h0.9v0.9h-0.9zM56.7 604.7h0.9v0.9h-0.9zM54.0 611.3h0.9v0.9h-0.9zM47.6 604.4h0.9v0.9h-0.9zM54.2 607.0h0.9v0.9h-0.9zM51.4 604.7h0.9v0.9h-0.9zM58.7 599.9h0.9v0.9h-0.9zM52.2 607.4h0.9v0.9h-0.9zM52.2 600.9h0.9v0.9h-0.9zM51.4 607.7h0.9v0.9h-0.9zM48.7 608.4h0.9v0.9h-0.9zM52.5 608.7h0.9v0.9h-0.9zM51.2 605.0h0.9v0.9h-0.9zM52.9 611.8h0.9v0.9h-0.9zM56.4 606.7h0.9v0.9h-0.9zM49.7 611.7h0.9v0.9h-0.9zM54.7 610.9h0.9v0.9h-0.9zM50.6 603.2h0.9v0.9h-0.9zM52.9 604.2h0.9v0.9h-0.9zM57.6 610.8h0.9v0.9h-0.9zM58.5 611.6h0.9v0.9h-0.9zM49.7 603.2h0.9v0.9h-0.9zM56.8 611.5h0.9v0.9h-0.9zM52.3 601.9h0.9v0.9h-0.9zM44.5 608.2h0.9v0.9h-0.9zM47.9 604.0h0.9v0.9h-0.9zM54.2 611.6h0.9v0.9h-0.9zM58.4 606.8h0.9v0.9h-0.9zM50.3 609.8h0.9v0.9h-0.9zM46.4 601.6h0.9v0.9h-0.9zM57.0 607.0h0.9v0.9h-0.9zM57.0 605.2h0.9v0.9h-0.9zM46.2 599.6h0.9v0.9h-0.9zM53.3 611.0h0.9v0.9h-0.9zM53.8 606.8h0.9v0.9h-0.9zM50.0 611.8h0.9v0.9h-0.9zM51.8 600.7h0.9v0.9h-0.9zM58.7 604.1h0.9v0.9h-0.9zM53.9 607.0h0.9v0.9h-0.9zM57.2 608.1h0.9v0.9h-0.9zM58.0 607.9h0.9v0.9h-0.9zM49.7 604.8h0.9v0.9h-0.9zM55.2 603.3h0.9v0.9h-0.9zM56.6 605.9h0.9v0.9h-0.9zM47.4 603.2h0.9v0.9h-0.9zM55.8 607.1h0.9v0.9h-0.9zM50.6 607.0h0.9v0.9h-0.9zM49.9 612.9h0.9v0.9h-0.9zM52.9 605.0h0.9v0.9h-0.9zM52.9 602.6h0.9v0.9h-0.9zM46.8 606.3h0.9v0.9h-0.9zM61.8 602.1h0.9v0.9h-0.9zM51.3 600.0h0.9v0.9h-0.9zM52.8 607.9h0.9v0.9h-0.9zM55.6 601.1h0.9v0.9h-0.9zM49.0 604.1h0.9v0.9h-0.9zM51.0 606.8h0.9v0.9h-0.9zM49.5 610.5h0.9v0.9h-0.9zM64.6 612.1h0.9v0.9h-0.9zM59.5 602.3h0.9v0.9h-0.9zM57.2 607.1h0.9v0.9h-0.9zM58.1 611.7h0.9v0.9h-0.9zM55.2 599.6h0.9v0.9h-0.9zM52.7 604.8h0.9v0.9h-0.9zM54.2 607.2h0.9v0.9h-0.9zM57.2 599.9h0.9v0.9h-0.9zM48.4 606.7h0.9v0.9h-0.9zM53.6 605.2h0.9v0.9h-0.9zM51.9 607.2h0.9v0.9h-0.9zM57.1 606.5h0.9v0.9h-0.9zM53.2 599.0h0.9v0.9h-0.9zM53.8 596.8h0.9v0.9h-0.9zM54.0 606.6h0.9v0.9h-0.9zM52.0 603.8h0.9v0.9h-0.9zM49.9 610.7h0.9v0.9h-0.9zM53.8 606.9h0.9v0.9h-0.9zM49.6 607.9h0.9v0.9h-0.9zM57.9 606.9h0.9v0.9h-0.9zM50.2 601.8h0.9v0.9h-0.9zM52.5 602.9h0.9v0.9h-0.9zM44.9 610.8h0.9v0.9h-0.9zM48.9 598.0h0.9v0.9h-0.9zM51.5 601.1h0.9v0.9h-0.9zM46.6 610.2h0.9v0.9h-0.9zM54.0 607.9h0.9v0.9h-0.9zM51.0 609.1h0.9v0.9h-0.9zM59.6 609.2h0.9v0.9h-0.9zM51.2 600.8h0.9v0.9h-0.9zM55.2 601.4h0.9v0.9h-0.9zM52.9 612.7h0.9v0.9h-0.9zM48.9 609.2h0.9v0.9h-0.9zM44.2 599.3h0.9v0.9h-0.9zM53.8 610.1h0.9v0.9h-0.9zM50.3 606.9h0.9v0.9h-0.9zM50.0 612.3h0.9v0.9h-0.9zM45.7 604.0h0.9v0.9h-0.9zM44.5 603.0h0.9v0.9h-0.9zM51.9 607.1h0.9v0.9h-0.9zM60.8 606.0h0.9v0.9h-0.9zM53.7 608.6h0.9v0.9h-0.9zM52.7 607.7h0.9v0.9h-0.9zM51.4 607.0h0.9v0.9h-0.9zM51.7 611.4h0.9v0.9h-0.9zM52.1 607.3h0.9v0.9h-0.9zM51.8 610.4h0.9v0.9h-0.9zM49.7 611.2h0.9v0.9h-0.9zM49.2 610.1h0.9v0.9h-0.9zM61.5 608.0h0.9v0.9h-0.9zM51.6 601.8h0.9v0.9h-0.9zM55.6 607.1h0.9v0.9h-0.9zM56.5 604.1h0.9v0.9h-0.9zM54.0 605.6h0.9v0.9h-0.9zM45.6 607.0h0.9v0.9h-0.9zM55.2 609.7h0.9v0.9h-0.9zM46.5 602.4h0.9v0.9h-0.9zM47.2 602.5h0.9v0.9h-0.9zM50.6 608.2h0.9v0.9h-0.9zM61.5 607.9h0.9v0.9h-0.9zM59.2 599.7h0.9v0.9h-0.9zM59.6 610.5h0.9v0.9h-0.9zM54.2 610.7h0.9v0.9h-0.9zM56.0 599.3h0.9v0.9h-0.9zM51.6 612.9h0.9v0.9h-0.9zM50.3 604.1h0.9v0.9h-0.9zM50.3 608.4h0.9v0.9h-0.9zM52.9 604.3h0.9v0.9h-0.9zM54.6 609.7h0.9v0.9h-0.9zM47.5 602.1h0.9v0.9h-0.9zM52.1 603.9h0.9v0.9h-0.9zM49.0 606.4h0.9v0.9h-0.9zM52.1 609.5h0.9v0.9h-0.9zM56.1 608.9h0.9v0.9h-0.9zM57.5 602.7h0.9v0.9h-0.9zM55.0 608.7h0.9v0.9h-0.9zM46.8 604.0h0.9v0.9h-0.9zM54.2 607.3h0.9v0.9h-0.9zM45.8 604.5h0.9v0.9h-0.9zM59.5 610.7h0.9v0.9h-0.9zM47.5 606.2h0.9v0.9h-0.9zM56.7 605.5h0.9v0.9h-0.9zM46.5 609.6h0.9v0.9h-0.9zM59.9 595.7h0.9v0.9h-0.9zM52.8 601.4h0.9v0.9h-0.9zM50.5 600.7h0.9v0.9h-0.9zM64.8 604.0h0.9v0.9h-0.9zM52.2 603.9h0.9v0.9h-0.9zM47.1 605.0h0.9v0.9h-0.9zM46.7 607.3h0.9v0.9h-0.9zM49.8 600.0h0.9v0.9h-0.9zM70.4 605.9h0.9v0.9h-0.9zM53.2 603.6h0.9v0.9h-0.9zM49.2 602.4h0.9v0.9h-0.9zM57.1 605.2h0.9v0.9h-0.9zM51.3 607.8h0.9v0.9h-0.9zM45.9 608.0h0.9v0.9h-0.9zM51.2 609.0h0.9v0.9h-0.9zM50.1 607.2h0.9v0.9h-0.9zM54.6 611.3h0.9v0.9h-0.9zM48.6 611.3h0.9v0.9h-0.9zM47.1 606.2h0.9v0.9h-0.9zM52.6 607.6h0.9v0.9h-0.9zM51.1 611.1h0.9v0.9h-0.9zM54.7 607.1h0.9v0.9h-0.9zM53.3 611.2h0.9v0.9h-0.9zM48.0 609.6h0.9v0.9h-0.9zM57.3 606.0h0.9v0.9h-0.9zM47.8 602.3h0.9v0.9h-0.9zM54.1 603.4h0.9v0.9h-0.9zM64.3 609.5h0.9v0.9h-0.9zM45.5 605.7h0.9v0.9h-0.9zM59.6 610.0h0.9v0.9h-0.9zM47.0 611.6h0.9v0.9h-0.9zM49.3 609.7h0.9v0.9h-0.9zM54.8 605.0h0.9v0.9h-0.9zM51.2 612.2h0.9v0.9h-0.9zM54.5 606.7h0.9v0.9h-0.9zM56.6 609.1h0.9v0.9h-0.9zM53.6 600.0h0.9v0.9h-0.9zM52.7 604.8h0.9v0.9h-0.9zM55.6 604.3h0.9v0.9h-0.9zM54.2 602.3h0.9v0.9h-0.9zM56.4 603.8h0.9v0.9h-0.9zM51.9 609.6h0.9v0.9h-0.9zM50.4 607.0h0.9v0.9h-0.9zM55.3 611.2h0.9v0.9h-0.9zM49.7 607.4h0.9v0.9h-0.9zM51.0 601.7h0.9v0.9h-0.9zM44.3 601.3h0.9v0.9h-0.9zM58.4 605.3h0.9v0.9h-0.9zM61.6 609.8h0.9v0.9h-0.9zM53.9 609.9h0.9v0.9h-0.9zM55.9 611.1h0.9v0.9h-0.9zM47.2 604.5h0.9v0.9h-0.9zM49.3 607.5h0.9v0.9h-0.9zM50.8 601.5h0.9v0.9h-0.9zM62.5 603.2h0.9v0.9h-0.9zM53.9 606.8h0.9v0.9h-0.9zM47.8 610.2h0.9v0.9h-0.9zM54.3 605.6h0.9v0.9h-0.9zM56.2 603.8h0.9v0.9h-0.9zM56.4 610.0h0.9v0.9h-0.9zM53.6 610.4h0.9v0.9h-0.9zM52.8 606.9h0.9v0.9h-0.9zM50.3 605.7h0.9v0.9h-0.9zM52.0 602.3h0.9v0.9h-0.9zM55.2 605.6h0.9v0.9h-0.9zM54.6 604.7h0.9v0.9h-0.9zM54.0 607.6h0.9v0.9h-0.9zM56.4 609.1h0.9v0.9h-0.9zM56.6 606.3h0.9v0.9h-0.9zM51.7 605.8h0.9v0.9h-0.9zM45.8 606.4h0.9v0.9h-0.9zM57.4 610.4h0.9v0.9h-0.9zM47.8 608.3h0.9v0.9h-0.9zM55.7 601.0h0.9v0.9h-0.9zM53.7 608.5h0.9v0.9h-0.9zM55.7 608.1h0.9v0.9h-0.9zM61.8 605.2h0.9v0.9h-0.9zM58.3 612.6h0.9v0.9h-0.9zM52.4 601.9h0.9v0.9h-0.9zM58.8 606.8h0.9v0.9h-0.9zM54.6 609.1h0.9v0.9h-0.9zM56.7 611.5h0.9v0.9h-0.9zM45.0 600.7h0.9v0.9h-0.9zM52.7 607.0h0.9v0.9h-0.9zM55.8 606.4h0.9v0.9h-0.9zM58.8 612.1h0.9v0.9h-0.9zM57.1 603.5h0.9v0.9h-0.9zM51.6 606.7h0.9v0.9h-0.9zM46.6 603.1h0.9v0.9h-0.9zM52.8 601.6h0.9v0.9h-0.9zM54.7 609.1h0.9v0.9h-0.9zM50.8 605.5h0.9v0.9h-0.9zM55.0 609.1h0.9v0.9h-0.9zM53.8 601.6h0.9v0.9h-0.9zM48.8 605.4h0.9v0.9h-0.9zM48.4 610.5h0.9v0.9h-0.9zM50.0 604.8h0.9v0.9h-0.9zM48.2 605.0h0.9v0.9h-0.9zM44.2 608.2h0.9v0.9h-0.9zM57.9 607.7h0.9v0.9h-0.9zM49.4 612.6h0.9v0.9h-0.9zM54.4 602.4h0.9v0.9h-0.9zM49.2 604.3h0.9v0.9h-0.9zM51.8 612.4h0.9v0.9h-0.9zM48.5 606.4h0.9v0.9h-0.9zM52.6 601.7h0.9v0.9h-0.9zM49.6 609.7h0.9v0.9h-0.9zM57.6 598.7h0.9v0.9h-0.9zM55.5 605.7h0.9v0.9h-0.9zM58.4 609.8h0.9v0.9h-0.9zM61.7 608.4h0.9v0.9h-0.9zM50.0 603.3h0.9v0.9h-0.9zM44.9 609.5h0.9v0.9h-0.9zM54.5 610.6h0.9v0.9h-0.9zM53.7 600.4h0.9v0.9h-0.9zM50.0 605.9h0.9v0.9h-0.9zM52.8 610.4h0.9v0.9h-0.9zM59.0 608.3h0.9v0.9h-0.9zM46.1 608.1h0.9v0.9h-0.9zM50.9 611.9h0.9v0.9h-0.9zM57.3 605.0h0.9v0.9h-0.9zM56.7 607.1h0.9v0.9h-0.9zM46.3 606.7h0.9v0.9h-0.9zM59.6 603.6h0.9v0.9h-0.9zM53.1 607.6h0.9v0.9h-0.9zM49.9 601.2h0.9v0.9h-0.9zM48.6 602.7h0.9v0.9h-0.9zM57.3 608.1h0.9v0.9h-0.9zM55.5 601.8h0.9v0.9h-0.9zM54.5 607.6h0.9v0.9h-0.9zM57.2 603.8h0.9v0.9h-0.9zM60.9 602.9h0.9v0.9h-0.9zM46.5 600.5h0.9v0.9h-0.9zM56.8 609.6h0.9v0.9h-0.9zM53.7 603.2h0.9v0.9h-0.9zM51.8 606.5h0.9v0.9h-0.9zM57.9 609.2h0.9v0.9h-0.9zM58.6 605.2h0.9v0.9h-0.9zM53.7 605.5h0.9v0.9h-0.9zM49.2 605.7h0.9v0.9h-0.9zM50.6 609.2h0.9v0.9h-0.9zM50.5 607.3h0.9v0.9h-0.9zM48.0 601.6h0.9v0.9h-0.9zM59.1 602.7h0.9v0.9h-0.9zM61.0 611.1h0.9v0.9h-0.9zM49.9 607.1h0.9v0.9h-0.9zM51.1 604.3h0.9v0.9h-0.9zM58.2 606.4h0.9v0.9h-0.9zM56.8 604.0h0.9v0.9h-0.9zM48.6 612.9h0.9v0.9h-0.9zM50.6 602.2h0.9v0.9h-0.9zM51.2 611.6h0.9v0.9h-0.9zM51.2 603.8h0.9v0.9h-0.9zM55.1 611.3h0.9v0.9h-0.9zM51.0 605.6h0.9v0.9h-0.9zM51.3 608.8h0.9v0.9h-0.9zM52.3 605.6h0.9v0.9h-0.9zM50.0 601.0h0.9v0.9h-0.9zM44.7 607.7h0.9v0.9h-0.9zM48.9 606.6h0.9v0.9h-0.9zM51.1 604.8h0.9v0.9h-0.9zM46.6 604.8h0.9v0.9h-0.9zM50.6 601.9h0.9v0.9h-0.9zM47.3 610.8h0.9v0.9h-0.9zM56.6 607.6h0.9v0.9h-0.9zM68.0 610.6h0.9v0.9h-0.9zM58.1 603.4h0.9v0.9h-0.9zM48.0 602.0h0.9v0.9h-0.9zM51.8 603.5h0.9v0.9h-0.9zM55.2 602.1h0.9v0.9h-0.9zM52.4 598.4h0.9v0.9h-0.9zM51.9 611.6h0.9v0.9h-0.9zM50.7 608.4h0.9v0.9h-0.9zM57.4 602.2h0.9v0.9h-0.9zM45.7 607.4h0.9v0.9h-0.9zM53.4 605.8h0.9v0.9h-0.9zM47.2 612.3h0.9v0.9h-0.9zM46.3 605.9h0.9v0.9h-0.9zM51.8 610.2h0.9v0.9h-0.9zM49.8 603.4h0.9v0.9h-0.9zM62.0 603.3h0.9v0.9h-0.9zM56.0 606.3h0.9v0.9h-0.9zM49.7 606.8h0.9v0.9h-0.9zM50.8 608.4h0.9v0.9h-0.9zM52.4 602.7h0.9v0.9h-0.9zM61.1 609.8h0.9v0.9h-0.9zM53.2 605.7h0.9v0.9h-0.9zM58.9 605.0h0.9v0.9h-0.9zM48.0 610.0h0.9v0.9h-0.9zM47.2 603.5h0.9v0.9h-0.9zM59.2 599.9h0.9v0.9h-0.9zM51.7 607.5h0.9v0.9h-0.9zM53.3 600.6h0.9v0.9h-0.9zM50.9 605.5h0.9v0.9h-0.9zM61.5 611.4h0.9v0.9h-0.9zM48.3 610.8h0.9v0.9h-0.9zM55.2 606.5h0.9v0.9h-0.9zM50.8 605.8h0.9v0.9h-0.9zM44.4 604.2h0.9v0.9h-0.9zM61.2 605.4h0.9v0.9h-0.9zM55.1 596.4h0.9v0.9h-0.9zM50.7 601.5h0.9v0.9h-0.9zM56.1 599.7h0.9v0.9h-0.9zM46.9 602.1h0.9v0.9h-0.9zM54.0 610.7h0.9v0.9h-0.9zM52.8 603.3h0.9v0.9h-0.9zM53.7 606.9h0.9v0.9h-0.9zM56.1 608.5h0.9v0.9h-0.9zM62.8 612.1h0.9v0.9h-0.9zM48.9 610.5h0.9v0.9h-0.9zM55.8 602.6h0.9v0.9h-0.9zM48.3 603.5h0.9v0.9h-0.9zM51.0 612.4h0.9v0.9h-0.9zM49.3 607.3h0.9v0.9h-0.9zM55.6 611.3h0.9v0.9h-0.9zM53.6 602.4h0.9v0.9h-0.9zM62.9 610.8h0.9v0.9h-0.9zM59.0 608.8h0.9v0.9h-0.9zM54.4 609.8h0.9v0.9h-0.9zM44.6 610.6h0.9v0.9h-0.9zM47.2 608.9h0.9v0.9h-0.9zM47.0 610.1h0.9v0.9h-0.9zM53.0 609.2h0.9v0.9h-0.9zM47.6 605.7h0.9v0.9h-0.9zM51.7 605.7h0.9v0.9h-0.9zM49.9 603.2h0.9v0.9h-0.9zM55.8 605.3h0.9v0.9h-0.9zM48.0 608.6h0.9v0.9h-0.9zM48.0 606.2h0.9v0.9h-0.9zM49.5 602.9h0.9v0.9h-0.9zM50.9 603.4h0.9v0.9h-0.9zM45.9 608.5h0.9v0.9h-0.9zM50.6 600.6h0.9v0.9h-0.9zM50.1 607.8h0.9v0.9h-0.9zM54.1 608.6h0.9v0.9h-0.9zM53.3 609.6h0.9v0.9h-0.9zM49.6 603.5h0.9v0.9h-0.9zM55.1 605.2h0.9v0.9h-0.9zM52.1 609.9h0.9v0.9h-0.9zM56.7 612.4h0.9v0.9h-0.9zM48.6 605.4h0.9v0.9h-0.9zM54.8 600.7h0.9v0.9h-0.9zM45.8 609.7h0.9v0.9h-0.9zM49.0 603.0h0.9v0.9h-0.9zM56.0 609.3h0.9v0.9h-0.9zM56.6 605.6h0.9v0.9h-0.9zM50.6 605.5h0.9v0.9h-0.9zM53.5 598.1h0.9v0.9h-0.9zM48.6 610.1h0.9v0.9h-0.9zM48.2 606.7h0.9v0.9h-0.9zM52.7 609.3h0.9v0.9h-0.9zM49.7 602.0h0.9v0.9h-0.9zM64.3 603.9h0.9v0.9h-0.9zM60.5 599.3h0.9v0.9h-0.9zM52.6 606.1h0.9v0.9h-0.9zM56.9 602.6h0.9v0.9h-0.9zM48.1 603.7h0.9v0.9h-0.9zM49.5 608.1h0.9v0.9h-0.9zM48.2 605.9h0.9v0.9h-0.9zM50.2 612.7h0.9v0.9h-0.9zM47.8 605.6h0.9v0.9h-0.9zM57.1 609.5h0.9v0.9h-0.9zM52.9 609.8h0.9v0.9h-0.9zM54.0 607.4h0.9v0.9h-0.9zM50.5 601.9h0.9v0.9h-0.9zM56.3 610.3h0.9v0.9h-0.9zM56.6 605.4h0.9v0.9h-0.9zM47.1 605.4h0.9v0.9h-0.9zM50.5 607.0h0.9v0.9h-0.9zM56.9 603.0h0.9v0.9h-0.9zM49.7 610.0h0.9v0.9h-0.9zM54.6 603.3h0.9v0.9h-0.9zM46.9 603.6h0.9v0.9h-0.9zM52.4 608.1h0.9v0.9h-0.9zM51.7 604.3h0.9v0.9h-0.9zM51.1 606.7h0.9v0.9h-0.9zM55.0 607.4h0.9v0.9h-0.9zM48.1 601.9h0.9v0.9h-0.9zM59.3 606.6h0.9v0.9h-0.9zM51.2 606.9h0.9v0.9h-0.9zM57.6 605.6h0.9v0.9h-0.9zM52.9 606.0h0.9v0.9h-0.9zM54.9 602.6h0.9v0.9h-0.9zM53.1 611.5h0.9v0.9h-0.9zM57.9 609.7h0.9v0.9h-0.9zM46.2 602.2h0.9v0.9h-0.9zM56.0 605.8h0.9v0.9h-0.9zM49.9 602.9h0.9v0.9h-0.9zM59.3 601.8h0.9v0.9h-0.9zM52.6 600.9h0.9v0.9h-0.9zM64.0 604.9h0.9v0.9h-0.9zM47.9 599.2h0.9v0.9h-0.9zM53.8 602.3h0.9v0.9h-0.9zM45.0 611.9h0.9v0.9h-0.9zM48.5 602.4h0.9v0.9h-0.9zM52.9 606.2h0.9v0.9h-0.9zM57.6 607.4h0.9v0.9h-0.9zM59.9 612.0h0.9v0.9h-0.9zM60.8 611.9h0.9v0.9h-0.9zM52.4 609.4h0.9v0.9h-0.9zM52.2 600.2h0.9v0.9h-0.9zM46.3 610.2h0.9v0.9h-0.9zM45.8 606.7h0.9v0.9h-0.9zM47.0 608.1h0.9v0.9h-0.9zM51.1 605.0h0.9v0.9h-0.9zM47.9 597.3h0.9v0.9h-0.9zM52.4 601.4h0.9v0.9h-0.9zM50.6 608.6h0.9v0.9h-0.9zM57.2 610.1h0.9v0.9h-0.9zM59.3 600.8h0.9v0.9h-0.9zM54.0 602.2h0.9v0.9h-0.9zM54.0 604.8h0.9v0.9h-0.9zM48.9 611.6h0.9v0.9h-0.9zM51.2 602.1h0.9v0.9h-0.9zM47.9 609.9h0.9v0.9h-0.9zM52.9 612.1h0.9v0.9h-0.9zM50.7 602.9h0.9v0.9h-0.9zM48.9 602.5h0.9v0.9h-0.9zM64.8 607.9h0.9v0.9h-0.9zM50.5 612.5h0.9v0.9h-0.9zM55.3 606.2h0.9v0.9h-0.9zM55.1 608.2h0.9v0.9h-0.9zM50.5 606.9h0.9v0.9h-0.9zM51.2 612.3h0.9v0.9h-0.9zM54.0 610.4h0.9v0.9h-0.9zM56.5 604.2h0.9v0.9h-0.9zM56.6 610.5h0.9v0.9h-0.9zM50.7 605.4h0.9v0.9h-0.9z"/>
<path fill="#555" opacity="0.35" d="M47.6 601.2h0.8v0.8h-0.8zM54.6 593.3h0.8v0.8h-0.8zM65.4 597.8h0.8v0.8h-0.8zM57.4 607.1h0.8v0.8h-0.8zM50.3 590.8h0.8v0.8h-0.8zM63.6 605.8h0.8v0.8h-0.8zM52.9 610.7h0.8v0.8h-0.8zM63.0 596.6h0.8v0.8h-0.8zM54.4 591.1h0.8v0.8h-0.8zM52.8 612.6h0.8v0.8h-0.8zM47.8 608.6h0.8v0.8h-0.8zM59.1 608.1h0.8v0.8h-0.8zM70.3 586.5h0.8v0.8h-0.8zM76.8 607.1h0.8v0.8h-0.8zM55.7 604.8h0.8v0.8h-0.8zM55.4 598.9h0.8v0.8h-0.8zM55.0 602.2h0.8v0.8h-0.8zM61.0 607.6h0.8v0.8h-0.8zM63.8 607.0h0.8v0.8h-0.8zM46.6 612.4h0.8v0.8h-0.8zM58.1 599.4h0.8v0.8h-0.8zM71.6 595.6h0.8v0.8h-0.8zM44.9 599.6h0.8v0.8h-0.8zM58.8 608.4h0.8v0.8h-0.8zM56.1 607.5h0.8v0.8h-0.8zM49.0 598.9h0.8v0.8h-0.8zM56.3 593.9h0.8v0.8h-0.8zM56.8 600.4h0.8v0.8h-0.8zM61.1 596.2h0.8v0.8h-0.8zM50.5 599.2h0.8v0.8h-0.8zM51.9 596.3h0.8v0.8h-0.8zM52.9 593.9h0.8v0.8h-0.8zM59.8 607.6h0.8v0.8h-0.8zM55.0 601.7h0.8v0.8h-0.8zM47.4 596.5h0.8v0.8h-0.8zM53.2 596.9h0.8v0.8h-0.8zM44.9 604.1h0.8v0.8h-0.8zM55.0 600.3h0.8v0.8h-0.8zM48.0 602.7h0.8v0.8h-0.8zM49.1 600.1h0.8v0.8h-0.8zM56.8 607.9h0.8v0.8h-0.8zM61.8 598.9h0.8v0.8h-0.8zM65.7 595.2h0.8v0.8h-0.8zM53.6 611.8h0.8v0.8h-0.8zM75.9 603.9h0.8v0.8h-0.8zM52.0 600.5h0.8v0.8h-0.8zM44.6 602.0h0.8v0.8h-0.8zM51.4 597.9h0.8v0.8h-0.8zM65.6 597.8h0.8v0.8h-0.8zM69.9 608.7h0.8v0.8h-0.8zM60.7 599.0h0.8v0.8h-0.8zM50.7 589.5h0.8v0.8h-0.8zM57.5 601.2h0.8v0.8h-0.8zM58.5 598.5h0.8v0.8h-0.8zM59.4 592.9h0.8v0.8h-0.8zM64.5 581.7h0.8v0.8h-0.8zM66.4 600.7h0.8v0.8h-0.8zM53.7 592.6h0.8v0.8h-0.8zM46.4 607.8h0.8v0.8h-0.8zM48.7 602.8h0.8v0.8h-0.8zM62.9 594.1h0.8v0.8h-0.8zM51.0 595.3h0.8v0.8h-0.8zM64.7 603.3h0.8v0.8h-0.8zM61.0 602.1h0.8v0.8h-0.8zM51.5 603.6h0.8v0.8h-0.8zM70.8 605.6h0.8v0.8h-0.8zM60.4 589.5h0.8v0.8h-0.8zM48.2 608.5h0.8v0.8h-0.8zM65.8 600.3h0.8v0.8h-0.8zM53.2 599.9h0.8v0.8h-0.8zM62.1 603.2h0.8v0.8h-0.8zM68.2 611.0h0.8v0.8h-0.8zM52.4 598.9h0.8v0.8h-0.8zM53.1 597.1h0.8v0.8h-0.8zM51.5 602.5h0.8v0.8h-0.8zM62.9 592.3h0.8v0.8h-0.8zM52.5 606.1h0.8v0.8h-0.8zM50.5 601.5h0.8v0.8h-0.8zM55.6 610.9h0.8v0.8h-0.8zM57.7 603.2h0.8v0.8h-0.8zM50.4 604.2h0.8v0.8h-0.8zM58.6 600.6h0.8v0.8h-0.8zM54.9 590.5h0.8v0.8h-0.8zM50.5 611.0h0.8v0.8h-0.8zM67.5 602.5h0.8v0.8h-0.8zM51.5 609.8h0.8v0.8h-0.8zM49.8 612.3h0.8v0.8h-0.8zM65.2 595.8h0.8v0.8h-0.8zM53.2 594.8h0.8v0.8h-0.8zM57.5 600.3h0.8v0.8h-0.8zM57.2 592.7h0.8v0.8h-0.8zM64.5 606.1h0.8v0.8h-0.8zM53.6 612.5h0.8v0.8h-0.8zM47.1 607.7h0.8v0.8h-0.8zM60.7 599.4h0.8v0.8h-0.8zM54.1 607.4h0.8v0.8h-0.8zM68.3 611.8h0.8v0.8h-0.8zM59.1 601.2h0.8v0.8h-0.8zM71.4 588.4h0.8v0.8h-0.8zM62.6 602.7h0.8v0.8h-0.8zM61.2 605.2h0.8v0.8h-0.8zM53.4 603.0h0.8v0.8h-0.8zM54.8 610.9h0.8v0.8h-0.8zM52.8 599.3h0.8v0.8h-0.8zM60.8 607.4h0.8v0.8h-0.8zM58.9 604.9h0.8v0.8h-0.8zM67.9 610.6h0.8v0.8h-0.8zM56.9 601.6h0.8v0.8h-0.8zM60.8 590.3h0.8v0.8h-0.8zM50.6 598.2h0.8v0.8h-0.8zM56.6 600.4h0.8v0.8h-0.8zM76.4 608.0h0.8v0.8h-0.8zM55.1 600.8h0.8v0.8h-0.8zM65.8 608.6h0.8v0.8h-0.8zM63.1 611.2h0.8v0.8h-0.8zM51.9 598.5h0.8v0.8h-0.8zM48.9 603.7h0.8v0.8h-0.8zM63.8 595.9h0.8v0.8h-0.8zM50.5 593.9h0.8v0.8h-0.8zM72.4 608.4h0.8v0.8h-0.8zM57.0 594.7h0.8v0.8h-0.8zM46.2 598.6h0.8v0.8h-0.8zM55.4 594.4h0.8v0.8h-0.8zM53.1 611.3h0.8v0.8h-0.8zM55.2 603.7h0.8v0.8h-0.8zM53.8 598.3h0.8v0.8h-0.8zM46.2 599.3h0.8v0.8h-0.8zM63.0 597.3h0.8v0.8h-0.8zM57.9 592.7h0.8v0.8h-0.8zM60.1 606.7h0.8v0.8h-0.8zM51.7 609.0h0.8v0.8h-0.8zM47.5 603.3h0.8v0.8h-0.8zM69.6 602.8h0.8v0.8h-0.8zM45.4 610.9h0.8v0.8h-0.8zM59.7 601.1h0.8v0.8h-0.8zM57.6 597.2h0.8v0.8h-0.8zM65.0 613.0h0.8v0.8h-0.8zM47.8 606.3h0.8v0.8h-0.8zM70.8 593.4h0.8v0.8h-0.8zM55.6 598.7h0.8v0.8h-0.8zM54.3 603.6h0.8v0.8h-0.8zM57.5 609.1h0.8v0.8h-0.8zM59.5 610.1h0.8v0.8h-0.8zM63.9 610.5h0.8v0.8h-0.8zM49.3 605.8h0.8v0.8h-0.8zM51.9 597.3h0.8v0.8h-0.8zM72.0 605.0h0.8v0.8h-0.8zM55.5 588.6h0.8v0.8h-0.8zM53.1 608.3h0.8v0.8h-0.8zM53.3 599.3h0.8v0.8h-0.8zM67.8 600.9h0.8v0.8h-0.8zM52.2 602.3h0.8v0.8h-0.8zM53.0 610.2h0.8v0.8h-0.8zM60.0 602.5h0.8v0.8h-0.8zM52.0 601.5h0.8v0.8h-0.8zM69.7 600.9h0.8v0.8h-0.8zM60.7 592.2h0.8v0.8h-0.8zM57.9 607.7h0.8v0.8h-0.8zM66.1 605.2h0.8v0.8h-0.8zM60.1 605.2h0.8v0.8h-0.8zM56.8 597.4h0.8v0.8h-0.8zM60.2 602.2h0.8v0.8h-0.8zM60.6 608.3h0.8v0.8h-0.8zM56.4 600.0h0.8v0.8h-0.8zM57.7 594.5h0.8v0.8h-0.8zM57.4 597.0h0.8v0.8h-0.8zM59.0 603.8h0.8v0.8h-0.8zM53.2 594.8h0.8v0.8h-0.8zM55.5 598.4h0.8v0.8h-0.8zM53.9 607.7h0.8v0.8h-0.8zM63.3 594.2h0.8v0.8h-0.8zM63.1 612.3h0.8v0.8h-0.8zM64.8 604.9h0.8v0.8h-0.8zM52.3 592.6h0.8v0.8h-0.8zM55.9 605.0h0.8v0.8h-0.8zM46.2 594.7h0.8v0.8h-0.8zM72.2 603.8h0.8v0.8h-0.8zM61.8 599.0h0.8v0.8h-0.8zM66.6 598.4h0.8v0.8h-0.8zM52.7 603.1h0.8v0.8h-0.8zM46.1 600.9h0.8v0.8h-0.8zM50.4 609.0h0.8v0.8h-0.8zM56.4 609.0h0.8v0.8h-0.8zM54.7 588.4h0.8v0.8h-0.8zM62.6 609.0h0.8v0.8h-0.8zM54.5 590.8h0.8v0.8h-0.8zM50.9 605.8h0.8v0.8h-0.8zM67.0 600.7h0.8v0.8h-0.8zM50.3 597.7h0.8v0.8h-0.8zM63.9 608.9h0.8v0.8h-0.8zM47.2 593.0h0.8v0.8h-0.8zM44.4 598.4h0.8v0.8h-0.8zM56.5 605.8h0.8v0.8h-0.8zM51.0 592.2h0.8v0.8h-0.8zM51.5 598.4h0.8v0.8h-0.8zM68.2 609.4h0.8v0.8h-0.8zM67.6 603.8h0.8v0.8h-0.8zM51.5 602.4h0.8v0.8h-0.8zM57.4 600.9h0.8v0.8h-0.8zM69.1 612.9h0.8v0.8h-0.8zM62.6 600.6h0.8v0.8h-0.8zM56.3 606.8h0.8v0.8h-0.8zM56.8 610.2h0.8v0.8h-0.8zM49.4 587.1h0.8v0.8h-0.8zM64.4 603.0h0.8v0.8h-0.8zM59.7 603.5h0.8v0.8h-0.8zM56.6 599.8h0.8v0.8h-0.8zM51.6 611.1h0.8v0.8h-0.8zM52.8 602.7h0.8v0.8h-0.8zM65.4 609.7h0.8v0.8h-0.8zM51.7 604.7h0.8v0.8h-0.8zM46.4 603.9h0.8v0.8h-0.8zM57.8 603.0h0.8v0.8h-0.8zM56.5 605.5h0.8v0.8h-0.8zM55.8 599.6h0.8v0.8h-0.8zM46.8 601.4h0.8v0.8h-0.8zM69.0 601.4h0.8v0.8h-0.8zM49.5 599.7h0.8v0.8h-0.8zM44.9 606.3h0.8v0.8h-0.8zM46.6 609.2h0.8v0.8h-0.8zM62.9 606.9h0.8v0.8h-0.8zM64.1 602.4h0.8v0.8h-0.8zM60.6 592.4h0.8v0.8h-0.8zM44.6 610.5h0.8v0.8h-0.8zM58.9 612.2h0.8v0.8h-0.8zM60.9 603.5h0.8v0.8h-0.8zM58.8 608.8h0.8v0.8h-0.8zM54.9 601.6h0.8v0.8h-0.8zM57.8 600.8h0.8v0.8h-0.8zM75.9 597.8h0.8v0.8h-0.8zM64.1 600.2h0.8v0.8h-0.8zM56.5 601.5h0.8v0.8h-0.8zM57.5 593.1h0.8v0.8h-0.8zM55.8 599.1h0.8v0.8h-0.8zM64.5 607.3h0.8v0.8h-0.8zM44.2 596.4h0.8v0.8h-0.8zM60.0 611.2h0.8v0.8h-0.8zM61.7 602.0h0.8v0.8h-0.8zM64.7 586.9h0.8v0.8h-0.8zM50.5 596.3h0.8v0.8h-0.8zM46.2 606.9h0.8v0.8h-0.8zM57.5 604.9h0.8v0.8h-0.8zM54.0 607.2h0.8v0.8h-0.8zM61.9 599.1h0.8v0.8h-0.8zM63.2 596.6h0.8v0.8h-0.8zM70.4 594.1h0.8v0.8h-0.8zM52.6 595.6h0.8v0.8h-0.8zM55.5 612.0h0.8v0.8h-0.8zM67.3 605.6h0.8v0.8h-0.8zM50.0 609.2h0.8v0.8h-0.8zM63.5 602.7h0.8v0.8h-0.8zM76.7 598.4h0.8v0.8h-0.8zM43.6 601.5h0.8v0.8h-0.8zM66.1 598.4h0.8v0.8h-0.8zM51.2 594.7h0.8v0.8h-0.8zM61.8 608.7h0.8v0.8h-0.8zM60.2 604.7h0.8v0.8h-0.8zM63.7 602.2h0.8v0.8h-0.8zM61.4 608.6h0.8v0.8h-0.8zM66.4 606.5h0.8v0.8h-0.8zM55.9 607.9h0.8v0.8h-0.8zM69.2 603.9h0.8v0.8h-0.8zM46.0 599.0h0.8v0.8h-0.8zM53.8 603.5h0.8v0.8h-0.8zM48.5 609.8h0.8v0.8h-0.8zM60.9 591.4h0.8v0.8h-0.8zM44.4 603.4h0.8v0.8h-0.8zM57.5 600.1h0.8v0.8h-0.8zM55.2 604.1h0.8v0.8h-0.8zM45.1 603.4h0.8v0.8h-0.8zM75.0 598.6h0.8v0.8h-0.8zM46.3 607.6h0.8v0.8h-0.8zM66.9 610.2h0.8v0.8h-0.8zM49.6 602.5h0.8v0.8h-0.8zM56.9 601.6h0.8v0.8h-0.8zM58.6 610.5h0.8v0.8h-0.8zM59.9 602.9h0.8v0.8h-0.8zM61.6 603.6h0.8v0.8h-0.8zM65.8 609.3h0.8v0.8h-0.8zM73.4 590.6h0.8v0.8h-0.8zM56.0 600.9h0.8v0.8h-0.8zM48.7 603.5h0.8v0.8h-0.8zM59.8 606.6h0.8v0.8h-0.8zM53.9 593.9h0.8v0.8h-0.8zM60.0 607.2h0.8v0.8h-0.8zM73.8 609.4h0.8v0.8h-0.8zM55.3 595.1h0.8v0.8h-0.8zM79.1 598.3h0.8v0.8h-0.8zM56.9 608.2h0.8v0.8h-0.8zM59.6 612.2h0.8v0.8h-0.8zM46.0 598.2h0.8v0.8h-0.8zM56.7 594.5h0.8v0.8h-0.8zM49.7 612.6h0.8v0.8h-0.8zM57.7 602.3h0.8v0.8h-0.8zM50.1 603.3h0.8v0.8h-0.8zM54.8 595.6h0.8v0.8h-0.8zM62.1 594.2h0.8v0.8h-0.8zM66.5 600.7h0.8v0.8h-0.8z"/>
<path fill="#333" opacity="0.5" d="M75.6 592.1h0.9v0.9h-0.9zM84.4 597.6h0.9v0.9h-0.9zM90.2 611.0h0.9v0.9h-0.9zM88.1 599.8h0.9v0.9h-0.9zM87.8 601.0h0.9v0.9h-0.9zM83.4 593.9h0.9v0.9h-0.9zM83.1 607.0h0.9v0.9h-0.9zM83.3 595.8h0.9v0.9h-0.9zM85.9 610.9h0.9v0.9h-0.9zM82.4 609.8h0.9v0.9h-0.9zM86.9 596.9h0.9v0.9h-0.9zM83.6 590.2h0.9v0.9h-0.9zM79.2 607.0h0.9v0.9h-0.9zM79.8 606.8h0.9v0.9h-0.9zM85.1 588.8h0.9v0.9h-0.9zM83.0 604.9h0.9v0.9h-0.9zM81.2 592.0h0.9v0.9h-0.9zM82.7 597.5h0.9v0.9h-0.9zM84.2 589.6h0.9v0.9h-0.9zM80.2 606.3h0.9v0.9h-0.9zM79.5 610.2h0.9v0.9h-0.9zM80.1 602.8h0.9v0.9h-0.9zM87.5 608.1h0.9v0.9h-0.9zM82.5 592.6h0.9v0.9h-0.9zM76.9 612.7h0.9v0.9h-0.9zM84.9 604.5h0.9v0.9h-0.9zM87.5 605.3h0.9v0.9h-0.9zM80.5 603.1h0.9v0.9h-0.9zM82.7 603.9h0.9v0.9h-0.9zM91.7 608.8h0.9v0.9h-0.9zM84.1 602.2h0.9v0.9h-0.9zM81.0 596.5h0.9v0.9h-0.9zM76.5 600.2h0.9v0.9h-0.9zM78.3 589.9h0.9v0.9h-0.9zM80.5 588.7h0.9v0.9h-0.9zM86.4 585.3h0.9v0.9h-0.9zM83.5 596.6h0.9v0.9h-0.9zM76.9 601.7h0.9v0.9h-0.9zM87.0 607.5h0.9v0.9h-0.9zM78.1 598.8h0.9v0.9h-0.9zM79.9 612.4h0.9v0.9h-0.9zM83.1 596.7h0.9v0.9h-0.9zM80.5 589.1h0.9v0.9h-0.9zM79.7 610.5h0.9v0.9h-0.9zM76.1 605.1h0.9v0.9h-0.9zM82.3 610.1h0.9v0.9h-0.9zM78.6 610.6h0.9v0.9h-0.9zM77.2 603.5h0.9v0.9h-0.9zM82.2 604.9h0.9v0.9h-0.9zM79.1 610.2h0.9v0.9h-0.9zM79.8 599.5h0.9v0.9h-0.9zM85.6 605.2h0.9v0.9h-0.9zM84.5 611.8h0.9v0.9h-0.9zM81.8 595.5h0.9v0.9h-0.9zM83.6 593.5h0.9v0.9h-0.9zM87.3 609.7h0.9v0.9h-0.9zM76.9 605.0h0.9v0.9h-0.9zM86.2 601.5h0.9v0.9h-0.9zM84.8 599.7h0.9v0.9h-0.9zM82.8 603.4h0.9v0.9h-0.9zM85.2 596.8h0.9v0.9h-0.9zM78.8 606.3h0.9v0.9h-0.9zM81.0 607.8h0.9v0.9h-0.9zM81.7 594.1h0.9v0.9h-0.9zM85.6 606.1h0.9v0.9h-0.9zM85.8 601.6h0.9v0.9h-0.9zM84.9 603.7h0.9v0.9h-0.9zM83.1 608.5h0.9v0.9h-0.9zM80.1 605.9h0.9v0.9h-0.9zM80.3 590.0h0.9v0.9h-0.9zM83.7 604.8h0.9v0.9h-0.9zM85.1 608.3h0.9v0.9h-0.9zM85.2 610.1h0.9v0.9h-0.9zM92.9 600.3h0.9v0.9h-0.9zM78.2 608.9h0.9v0.9h-0.9zM85.9 611.8h0.9v0.9h-0.9zM89.1 593.9h0.9v0.9h-0.9zM84.2 607.6h0.9v0.9h-0.9zM87.9 597.5h0.9v0.9h-0.9zM83.3 601.2h0.9v0.9h-0.9zM82.5 602.9h0.9v0.9h-0.9zM83.2 590.7h0.9v0.9h-0.9zM82.9 604.5h0.9v0.9h-0.9zM83.0 577.3h0.9v0.9h-0.9zM80.8 599.0h0.9v0.9h-0.9zM86.4 602.8h0.9v0.9h-0.9zM79.3 607.4h0.9v0.9h-0.9zM87.1 603.3h0.9v0.9h-0.9zM85.5 598.1h0.9v0.9h-0.9zM77.0 610.0h0.9v0.9h-0.9zM89.0 602.0h0.9v0.9h-0.9zM81.8 590.4h0.9v0.9h-0.9zM91.3 595.4h0.9v0.9h-0.9zM79.6 602.4h0.9v0.9h-0.9zM87.4 604.6h0.9v0.9h-0.9zM82.9 604.2h0.9v0.9h-0.9zM86.1 603.9h0.9v0.9h-0.9zM83.6 603.5h0.9v0.9h-0.9zM81.0 594.0h0.9v0.9h-0.9zM81.4 604.2h0.9v0.9h-0.9zM86.6 593.1h0.9v0.9h-0.9zM78.4 605.1h0.9v0.9h-0.9zM84.8 595.8h0.9v0.9h-0.9zM78.8 605.1h0.9v0.9h-0.9zM83.1 591.8h0.9v0.9h-0.9zM78.8 611.7h0.9v0.9h-0.9zM89.0 599.5h0.9v0.9h-0.9zM80.3 608.6h0.9v0.9h-0.9zM78.3 607.9h0.9v0.9h-0.9zM87.3 606.2h0.9v0.9h-0.9zM84.2 602.9h0.9v0.9h-0.9zM87.0 598.0h0.9v0.9h-0.9zM88.8 604.1h0.9v0.9h-0.9zM82.5 591.7h0.9v0.9h-0.9zM81.3 605.7h0.9v0.9h-0.9zM88.1 592.1h0.9v0.9h-0.9zM82.8 598.8h0.9v0.9h-0.9zM78.7 603.8h0.9v0.9h-0.9zM79.9 610.4h0.9v0.9h-0.9zM73.0 609.0h0.9v0.9h-0.9zM76.9 589.0h0.9v0.9h-0.9zM85.0 601.6h0.9v0.9h-0.9zM83.9 596.8h0.9v0.9h-0.9zM79.5 598.3h0.9v0.9h-0.9zM83.1 597.7h0.9v0.9h-0.9zM81.8 597.5h0.9v0.9h-0.9zM84.3 595.5h0.9v0.9h-0.9zM76.5 583.9h0.9v0.9h-0.9zM82.9 604.7h0.9v0.9h-0.9zM86.8 598.6h0.9v0.9h-0.9zM79.5 592.6h0.9v0.9h-0.9zM86.0 599.4h0.9v0.9h-0.9zM86.6 603.6h0.9v0.9h-0.9zM82.7 590.0h0.9v0.9h-0.9zM80.2 609.8h0.9v0.9h-0.9zM80.5 609.0h0.9v0.9h-0.9zM76.7 611.3h0.9v0.9h-0.9zM84.6 594.8h0.9v0.9h-0.9zM81.4 599.0h0.9v0.9h-0.9zM84.5 588.9h0.9v0.9h-0.9zM79.6 609.8h0.9v0.9h-0.9zM83.2 609.6h0.9v0.9h-0.9zM86.5 595.6h0.9v0.9h-0.9zM78.0 607.2h0.9v0.9h-0.9zM83.1 604.6h0.9v0.9h-0.9zM79.7 611.5h0.9v0.9h-0.9zM84.3 612.7h0.9v0.9h-0.9zM81.5 609.1h0.9v0.9h-0.9zM83.2 596.9h0.9v0.9h-0.9zM83.4 591.5h0.9v0.9h-0.9zM82.3 605.3h0.9v0.9h-0.9zM85.9 596.2h0.9v0.9h-0.9zM78.5 598.3h0.9v0.9h-0.9zM75.8 598.7h0.9v0.9h-0.9zM92.4 605.6h0.9v0.9h-0.9zM80.5 598.7h0.9v0.9h-0.9zM89.8 595.6h0.9v0.9h-0.9zM82.6 603.4h0.9v0.9h-0.9zM80.6 598.5h0.9v0.9h-0.9zM77.3 597.4h0.9v0.9h-0.9zM81.7 609.2h0.9v0.9h-0.9zM84.6 604.9h0.9v0.9h-0.9zM85.1 602.4h0.9v0.9h-0.9zM81.8 611.0h0.9v0.9h-0.9zM81.1 598.5h0.9v0.9h-0.9zM82.2 600.2h0.9v0.9h-0.9zM87.4 606.9h0.9v0.9h-0.9zM82.9 600.0h0.9v0.9h-0.9zM87.9 607.6h0.9v0.9h-0.9zM90.2 611.2h0.9v0.9h-0.9zM82.4 599.8h0.9v0.9h-0.9zM81.9 605.3h0.9v0.9h-0.9zM85.7 607.8h0.9v0.9h-0.9zM89.3 592.9h0.9v0.9h-0.9zM83.7 593.3h0.9v0.9h-0.9zM79.5 599.3h0.9v0.9h-0.9zM81.0 596.6h0.9v0.9h-0.9zM77.1 612.3h0.9v0.9h-0.9zM81.5 611.2h0.9v0.9h-0.9zM79.9 586.4h0.9v0.9h-0.9zM80.5 610.5h0.9v0.9h-0.9zM80.8 606.9h0.9v0.9h-0.9zM84.1 612.0h0.9v0.9h-0.9zM83.5 600.3h0.9v0.9h-0.9zM80.7 604.3h0.9v0.9h-0.9zM80.2 594.9h0.9v0.9h-0.9zM83.2 609.4h0.9v0.9h-0.9zM81.6 610.3h0.9v0.9h-0.9zM89.2 594.8h0.9v0.9h-0.9zM84.3 596.8h0.9v0.9h-0.9zM80.6 605.2h0.9v0.9h-0.9zM74.2 608.1h0.9v0.9h-0.9zM85.8 608.2h0.9v0.9h-0.9zM81.2 612.1h0.9v0.9h-0.9zM88.0 608.0h0.9v0.9h-0.9zM76.6 602.5h0.9v0.9h-0.9zM82.6 591.8h0.9v0.9h-0.9zM82.5 609.7h0.9v0.9h-0.9zM82.1 602.6h0.9v0.9h-0.9zM88.5 599.7h0.9v0.9h-0.9zM79.6 604.1h0.9v0.9h-0.9zM86.8 608.7h0.9v0.9h-0.9zM83.5 600.3h0.9v0.9h-0.9zM87.1 610.9h0.9v0.9h-0.9zM76.6 606.2h0.9v0.9h-0.9zM85.5 599.4h0.9v0.9h-0.9zM78.5 601.5h0.9v0.9h-0.9zM76.5 607.9h0.9v0.9h-0.9zM81.9 590.6h0.9v0.9h-0.9zM82.5 612.9h0.9v0.9h-0.9zM78.6 601.1h0.9v0.9h-0.9zM89.5 605.7h0.9v0.9h-0.9zM80.9 605.3h0.9v0.9h-0.9zM86.2 596.6h0.9v0.9h-0.9zM83.3 591.7h0.9v0.9h-0.9zM77.9 592.1h0.9v0.9h-0.9zM85.9 606.5h0.9v0.9h-0.9zM83.1 605.8h0.9v0.9h-0.9zM84.3 607.6h0.9v0.9h-0.9zM79.3 601.7h0.9v0.9h-0.9zM82.4 604.2h0.9v0.9h-0.9zM80.3 602.8h0.9v0.9h-0.9zM84.0 605.4h0.9v0.9h-0.9zM84.8 610.3h0.9v0.9h-0.9zM84.6 611.3h0.9v0.9h-0.9zM85.5 599.5h0.9v0.9h-0.9zM87.2 609.7h0.9v0.9h-0.9zM83.6 595.4h0.9v0.9h-0.9zM84.7 601.4h0.9v0.9h-0.9zM82.4 587.9h0.9v0.9h-0.9zM89.0 595.5h0.9v0.9h-0.9zM78.9 607.3h0.9v0.9h-0.9zM85.4 598.1h0.9v0.9h-0.9zM82.9 605.9h0.9v0.9h-0.9zM83.4 608.0h0.9v0.9h-0.9zM85.9 601.4h0.9v0.9h-0.9zM82.0 596.5h0.9v0.9h-0.9zM85.5 608.5h0.9v0.9h-0.9zM82.7 606.3h0.9v0.9h-0.9zM84.2 602.3h0.9v0.9h-0.9zM84.7 594.3h0.9v0.9h-0.9zM73.2 612.8h0.9v0.9h-0.9zM75.3 597.2h0.9v0.9h-0.9zM86.3 601.1h0.9v0.9h-0.9zM81.5 592.6h0.9v0.9h-0.9zM82.6 602.6h0.9v0.9h-0.9zM81.3 592.1h0.9v0.9h-0.9zM83.4 607.2h0.9v0.9h-0.9zM86.9 608.1h0.9v0.9h-0.9zM83.0 596.1h0.9v0.9h-0.9zM84.2 611.3h0.9v0.9h-0.9zM77.9 594.4h0.9v0.9h-0.9zM85.7 600.0h0.9v0.9h-0.9zM88.2 605.9h0.9v0.9h-0.9zM81.5 593.9h0.9v0.9h-0.9zM85.8 591.2h0.9v0.9h-0.9zM78.8 593.9h0.9v0.9h-0.9zM82.3 601.1h0.9v0.9h-0.9zM81.8 612.5h0.9v0.9h-0.9zM74.5 603.2h0.9v0.9h-0.9zM82.7 594.4h0.9v0.9h-0.9zM90.3 599.2h0.9v0.9h-0.9zM83.5 594.6h0.9v0.9h-0.9zM85.4 605.6h0.9v0.9h-0.9zM82.1 600.9h0.9v0.9h-0.9zM81.2 598.5h0.9v0.9h-0.9zM77.4 612.8h0.9v0.9h-0.9zM86.8 593.7h0.9v0.9h-0.9zM78.6 606.8h0.9v0.9h-0.9zM91.2 602.9h0.9v0.9h-0.9zM82.0 602.0h0.9v0.9h-0.9zM84.0 602.7h0.9v0.9h-0.9zM86.5 611.6h0.9v0.9h-0.9zM82.4 599.8h0.9v0.9h-0.9zM94.5 590.0h0.9v0.9h-0.9zM78.3 586.0h0.9v0.9h-0.9zM84.7 596.0h0.9v0.9h-0.9zM87.7 588.4h0.9v0.9h-0.9zM82.7 601.0h0.9v0.9h-0.9zM78.7 612.2h0.9v0.9h-0.9zM81.4 607.3h0.9v0.9h-0.9zM81.0 605.0h0.9v0.9h-0.9zM81.4 604.5h0.9v0.9h-0.9zM82.9 598.9h0.9v0.9h-0.9zM84.6 602.7h0.9v0.9h-0.9zM79.9 595.9h0.9v0.9h-0.9zM78.4 600.6h0.9v0.9h-0.9zM84.2 611.9h0.9v0.9h-0.9zM86.0 595.2h0.9v0.9h-0.9zM82.8 610.8h0.9v0.9h-0.9zM84.0 602.3h0.9v0.9h-0.9zM78.7 605.0h0.9v0.9h-0.9zM82.8 604.2h0.9v0.9h-0.9zM80.0 605.6h0.9v0.9h-0.9zM81.8 604.7h0.9v0.9h-0.9zM88.5 611.2h0.9v0.9h-0.9zM83.4 599.1h0.9v0.9h-0.9zM82.3 606.7h0.9v0.9h-0.9zM80.8 612.2h0.9v0.9h-0.9zM83.5 595.1h0.9v0.9h-0.9zM91.5 582.6h0.9v0.9h-0.9zM82.1 603.0h0.9v0.9h-0.9zM86.1 612.6h0.9v0.9h-0.9zM84.1 604.9h0.9v0.9h-0.9zM86.7 604.0h0.9v0.9h-0.9zM78.6 600.3h0.9v0.9h-0.9zM85.2 608.7h0.9v0.9h-0.9zM78.5 612.8h0.9v0.9h-0.9zM84.7 592.8h0.9v0.9h-0.9zM84.3 611.6h0.9v0.9h-0.9zM85.0 601.8h0.9v0.9h-0.9zM79.7 612.3h0.9v0.9h-0.9zM83.8 604.0h0.9v0.9h-0.9zM82.0 596.2h0.9v0.9h-0.9zM76.4 601.1h0.9v0.9h-0.9zM86.7 609.9h0.9v0.9h-0.9zM82.6 596.4h0.9v0.9h-0.9zM82.1 594.7h0.9v0.9h-0.9zM83.7 585.7h0.9v0.9h-0.9zM84.3 598.5h0.9v0.9h-0.9zM85.8 600.4h0.9v0.9h-0.9zM87.7 601.5h0.9v0.9h-0.9zM90.5 601.7h0.9v0.9h-0.9zM84.1 597.0h0.9v0.9h-0.9zM78.2 606.3h0.9v0.9h-0.9zM84.6 596.8h0.9v0.9h-0.9zM85.2 601.0h0.9v0.9h-0.9zM81.0 603.3h0.9v0.9h-0.9zM84.1 609.5h0.9v0.9h-0.9zM87.3 607.1h0.9v0.9h-0.9zM80.6 598.7h0.9v0.9h-0.9zM84.8 595.1h0.9v0.9h-0.9zM82.5 601.1h0.9v0.9h-0.9zM82.6 605.3h0.9v0.9h-0.9zM85.8 611.8h0.9v0.9h-0.9zM78.7 611.6h0.9v0.9h-0.9zM88.2 594.1h0.9v0.9h-0.9zM92.3 600.2h0.9v0.9h-0.9zM83.5 598.0h0.9v0.9h-0.9zM80.5 611.9h0.9v0.9h-0.9zM84.1 601.2h0.9v0.9h-0.9zM87.5 597.2h0.9v0.9h-0.9zM80.2 599.6h0.9v0.9h-0.9zM80.0 609.0h0.9v0.9h-0.9zM82.6 596.0h0.9v0.9h-0.9zM82.1 589.0h0.9v0.9h-0.9zM83.6 604.8h0.9v0.9h-0.9zM85.3 602.3h0.9v0.9h-0.9zM84.8 597.1h0.9v0.9h-0.9zM83.0 605.2h0.9v0.9h-0.9zM78.4 608.2h0.9v0.9h-0.9zM83.5 604.4h0.9v0.9h-0.9zM83.3 598.2h0.9v0.9h-0.9zM79.7 608.3h0.9v0.9h-0.9zM82.6 598.0h0.9v0.9h-0.9zM80.0 610.9h0.9v0.9h-0.9zM82.9 611.9h0.9v0.9h-0.9zM83.4 595.1h0.9v0.9h-0.9zM86.0 606.6h0.9v0.9h-0.9zM80.8 601.6h0.9v0.9h-0.9zM79.2 610.0h0.9v0.9h-0.9zM81.3 607.5h0.9v0.9h-0.9zM84.0 602.1h0.9v0.9h-0.9zM84.4 602.2h0.9v0.9h-0.9zM78.9 600.7h0.9v0.9h-0.9zM78.5 609.4h0.9v0.9h-0.9zM85.6 599.7h0.9v0.9h-0.9zM85.1 606.0h0.9v0.9h-0.9zM86.9 597.2h0.9v0.9h-0.9zM83.5 596.6h0.9v0.9h-0.9zM76.1 596.8h0.9v0.9h-0.9zM84.4 609.9h0.9v0.9h-0.9zM81.0 588.6h0.9v0.9h-0.9zM76.7 606.4h0.9v0.9h-0.9zM86.6 611.0h0.9v0.9h-0.9zM82.1 608.6h0.9v0.9h-0.9zM82.0 587.8h0.9v0.9h-0.9zM81.8 605.4h0.9v0.9h-0.9zM84.3 598.7h0.9v0.9h-0.9zM82.6 595.5h0.9v0.9h-0.9zM82.1 604.6h0.9v0.9h-0.9zM75.6 607.5h0.9v0.9h-0.9zM85.0 595.4h0.9v0.9h-0.9zM83.3 604.0h0.9v0.9h-0.9zM79.1 609.2h0.9v0.9h-0.9zM89.6 609.4h0.9v0.9h-0.9zM85.4 612.1h0.9v0.9h-0.9zM82.2 611.3h0.9v0.9h-0.9zM80.0 605.2h0.9v0.9h-0.9zM82.1 601.8h0.9v0.9h-0.9zM84.7 603.5h0.9v0.9h-0.9zM83.2 610.0h0.9v0.9h-0.9zM79.9 610.4h0.9v0.9h-0.9zM84.5 602.1h0.9v0.9h-0.9zM78.8 599.1h0.9v0.9h-0.9zM82.5 611.0h0.9v0.9h-0.9zM75.7 608.9h0.9v0.9h-0.9zM84.1 595.6h0.9v0.9h-0.9zM85.9 607.1h0.9v0.9h-0.9zM84.9 596.8h0.9v0.9h-0.9zM78.7 610.6h0.9v0.9h-0.9zM87.9 607.0h0.9v0.9h-0.9zM82.5 600.6h0.9v0.9h-0.9zM76.5 611.0h0.9v0.9h-0.9zM80.0 611.7h0.9v0.9h-0.9zM80.2 608.2h0.9v0.9h-0.9zM88.2 599.0h0.9v0.9h-0.9zM86.2 604.1h0.9v0.9h-0.9zM79.6 605.3h0.9v0.9h-0.9zM85.6 598.8h0.9v0.9h-0.9zM82.3 599.7h0.9v0.9h-0.9zM80.3 602.3h0.9v0.9h-0.9zM86.1 600.5h0.9v0.9h-0.9zM87.6 601.4h0.9v0.9h-0.9zM80.1 611.8h0.9v0.9h-0.9zM88.3 599.4h0.9v0.9h-0.9zM85.5 595.5h0.9v0.9h-0.9zM81.7 601.1h0.9v0.9h-0.9zM86.0 594.8h0.9v0.9h-0.9zM81.4 598.8h0.9v0.9h-0.9zM83.8 594.9h0.9v0.9h-0.9zM84.3 592.9h0.9v0.9h-0.9zM86.5 594.4h0.9v0.9h-0.9zM87.8 598.0h0.9v0.9h-0.9zM78.9 607.3h0.9v0.9h-0.9zM90.0 608.8h0.9v0.9h-0.9zM85.8 595.3h0.9v0.9h-0.9zM76.5 606.5h0.9v0.9h-0.9zM86.5 605.2h0.9v0.9h-0.9zM79.6 612.0h0.9v0.9h-0.9zM86.2 599.5h0.9v0.9h-0.9zM83.4 604.8h0.9v0.9h-0.9zM85.4 596.9h0.9v0.9h-0.9zM82.1 604.6h0.9v0.9h-0.9zM83.1 604.2h0.9v0.9h-0.9zM84.0 602.6h0.9v0.9h-0.9zM80.8 611.5h0.9v0.9h-0.9zM80.8 601.5h0.9v0.9h-0.9zM80.3 595.4h0.9v0.9h-0.9zM84.6 603.8h0.9v0.9h-0.9zM82.3 607.3h0.9v0.9h-0.9zM82.1 609.0h0.9v0.9h-0.9zM89.3 606.9h0.9v0.9h-0.9zM86.1 591.8h0.9v0.9h-0.9zM87.6 605.8h0.9v0.9h-0.9zM86.5 595.6h0.9v0.9h-0.9zM80.2 599.0h0.9v0.9h-0.9zM85.4 595.8h0.9v0.9h-0.9zM80.1 610.9h0.9v0.9h-0.9zM80.7 604.7h0.9v0.9h-0.9zM80.5 591.3h0.9v0.9h-0.9zM82.8 603.1h0.9v0.9h-0.9zM77.6 610.9h0.9v0.9h-0.9zM85.6 610.7h0.9v0.9h-0.9zM81.6 595.4h0.9v0.9h-0.9zM82.6 605.2h0.9v0.9h-0.9zM82.6 599.6h0.9v0.9h-0.9zM79.8 598.4h0.9v0.9h-0.9zM82.9 600.4h0.9v0.9h-0.9zM89.0 602.3h0.9v0.9h-0.9zM84.8 600.7h0.9v0.9h-0.9zM82.7 596.8h0.9v0.9h-0.9zM81.9 592.9h0.9v0.9h-0.9zM79.1 607.0h0.9v0.9h-0.9zM82.8 599.8h0.9v0.9h-0.9zM85.8 600.0h0.9v0.9h-0.9zM84.7 601.4h0.9v0.9h-0.9zM86.1 611.2h0.9v0.9h-0.9zM82.8 612.1h0.9v0.9h-0.9zM83.2 592.6h0.9v0.9h-0.9zM83.7 605.8h0.9v0.9h-0.9zM81.8 602.4h0.9v0.9h-0.9zM82.5 594.7h0.9v0.9h-0.9zM89.3 598.6h0.9v0.9h-0.9zM79.8 592.2h0.9v0.9h-0.9zM80.0 603.6h0.9v0.9h-0.9zM88.0 608.7h0.9v0.9h-0.9zM80.9 594.7h0.9v0.9h-0.9zM79.1 603.2h0.9v0.9h-0.9zM86.2 600.6h0.9v0.9h-0.9zM84.4 588.1h0.9v0.9h-0.9zM86.9 603.5h0.9v0.9h-0.9zM85.0 611.4h0.9v0.9h-0.9zM79.4 604.3h0.9v0.9h-0.9zM83.9 598.5h0.9v0.9h-0.9zM85.5 603.2h0.9v0.9h-0.9zM82.1 611.6h0.9v0.9h-0.9zM80.3 604.9h0.9v0.9h-0.9zM87.6 588.2h0.9v0.9h-0.9zM85.0 602.1h0.9v0.9h-0.9zM86.8 605.5h0.9v0.9h-0.9zM83.2 594.6h0.9v0.9h-0.9zM93.6 599.1h0.9v0.9h-0.9zM82.1 598.6h0.9v0.9h-0.9zM81.8 605.5h0.9v0.9h-0.9zM77.9 611.5h0.9v0.9h-0.9zM81.8 608.3h0.9v0.9h-0.9zM75.8 599.8h0.9v0.9h-0.9zM82.1 601.1h0.9v0.9h-0.9zM80.5 606.1h0.9v0.9h-0.9zM84.8 596.9h0.9v0.9h-0.9zM75.8 609.0h0.9v0.9h-0.9zM81.5 611.8h0.9v0.9h-0.9zM86.1 603.4h0.9v0.9h-0.9zM78.1 601.1h0.9v0.9h-0.9zM76.7 610.4h0.9v0.9h-0.9zM77.8 599.5h0.9v0.9h-0.9zM78.3 598.6h0.9v0.9h-0.9zM81.3 606.6h0.9v0.9h-0.9zM80.6 608.9h0.9v0.9h-0.9zM89.1 605.5h0.9v0.9h-0.9zM79.0 602.5h0.9v0.9h-0.9zM82.8 601.3h0.9v0.9h-0.9zM86.6 612.7h0.9v0.9h-0.9zM89.8 608.2h0.9v0.9h-0.9zM73.7 602.5h0.9v0.9h-0.9zM85.6 598.2h0.9v0.9h-0.9zM80.5 610.5h0.9v0.9h-0.9zM83.9 595.8h0.9v0.9h-0.9zM82.1 581.3h0.9v0.9h-0.9zM83.4 595.0h0.9v0.9h-0.9zM83.3 595.3h0.9v0.9h-0.9zM79.9 600.0h0.9v0.9h-0.9zM93.2 595.8h0.9v0.9h-0.9zM79.0 599.8h0.9v0.9h-0.9zM86.4 610.0h0.9v0.9h-0.9zM85.5 601.7h0.9v0.9h-0.9zM83.7 598.3h0.9v0.9h-0.9zM82.7 598.0h0.9v0.9h-0.9zM78.3 596.4h0.9v0.9h-0.9zM89.6 607.2h0.9v0.9h-0.9zM80.4 603.0h0.9v0.9h-0.9zM80.9 612.8h0.9v0.9h-0.9zM83.1 599.3h0.9v0.9h-0.9zM85.2 606.4h0.9v0.9h-0.9zM80.9 598.2h0.9v0.9h-0.9zM84.1 592.0h0.9v0.9h-0.9zM79.4 611.2h0.9v0.9h-0.9zM85.6 612.3h0.9v0.9h-0.9zM81.6 599.5h0.9v0.9h-0.9zM82.2 600.4h0.9v0.9h-0.9zM87.5 602.6h0.9v0.9h-0.9zM88.0 599.0h0.9v0.9h-0.9zM80.6 599.0h0.9v0.9h-0.9zM81.5 592.0h0.9v0.9h-0.9zM82.2 599.2h0.9v0.9h-0.9zM90.9 600.9h0.9v0.9h-0.9zM75.1 610.5h0.9v0.9h-0.9zM86.3 603.9h0.9v0.9h-0.9zM83.7 609.3h0.9v0.9h-0.9zM81.0 604.2h0.9v0.9h-0.9zM87.8 605.5h0.9v0.9h-0.9zM77.9 610.2h0.9v0.9h-0.9zM82.3 612.5h0.9v0.9h-0.9zM83.1 605.3h0.9v0.9h-0.9zM85.5 598.7h0.9v0.9h-0.9zM79.6 610.6h0.9v0.9h-0.9zM85.0 610.1h0.9v0.9h-0.9zM88.3 594.4h0.9v0.9h-0.9zM87.1 589.0h0.9v0.9h-0.9zM83.0 606.4h0.9v0.9h-0.9zM86.1 612.1h0.9v0.9h-0.9zM79.8 601.8h0.9v0.9h-0.9zM82.7 598.8h0.9v0.9h-0.9zM80.3 599.0h0.9v0.9h-0.9zM83.7 596.0h0.9v0.9h-0.9zM80.6 605.3h0.9v0.9h-0.9zM79.5 610.8h0.9v0.9h-0.9zM80.9 608.2h0.9v0.9h-0.9zM81.0 605.7h0.9v0.9h-0.9zM84.6 601.0h0.9v0.9h-0.9zM83.0 608.4h0.9v0.9h-0.9zM77.4 598.9h0.9v0.9h-0.9zM90.9 607.7h0.9v0.9h-0.9zM81.7 590.4h0.9v0.9h-0.9zM79.4 607.6h0.9v0.9h-0.9zM85.2 607.4h0.9v0.9h-0.9zM85.3 599.7h0.9v0.9h-0.9zM89.0 596.0h0.9v0.9h-0.9zM84.8 602.1h0.9v0.9h-0.9zM76.6 610.3h0.9v0.9h-0.9zM81.7 609.1h0.9v0.9h-0.9zM87.3 605.4h0.9v0.9h-0.9zM80.7 602.3h0.9v0.9h-0.9zM85.9 598.5h0.9v0.9h-0.9zM85.8 611.3h0.9v0.9h-0.9zM82.3 607.4h0.9v0.9h-0.9zM82.3 594.7h0.9v0.9h-0.9zM82.3 609.6h0.9v0.9h-0.9zM82.6 587.5h0.9v0.9h-0.9zM79.7 611.8h0.9v0.9h-0.9zM83.3 612.3h0.9v0.9h-0.9zM80.5 600.8h0.9v0.9h-0.9zM79.7 598.1h0.9v0.9h-0.9zM84.7 605.1h0.9v0.9h-0.9zM81.1 606.1h0.9v0.9h-0.9zM78.5 600.9h0.9v0.9h-0.9zM78.3 592.7h0.9v0.9h-0.9zM78.6 595.7h0.9v0.9h-0.9zM87.6 599.9h0.9v0.9h-0.9zM85.6 595.7h0.9v0.9h-0.9zM81.0 605.7h0.9v0.9h-0.9zM77.3 605.1h0.9v0.9h-0.9zM85.9 588.9h0.9v0.9h-0.9zM74.5 601.5h0.9v0.9h-0.9zM82.5 605.0h0.9v0.9h-0.9zM78.8 608.0h0.9v0.9h-0.9zM83.7 598.6h0.9v0.9h-0.9zM88.6 606.2h0.9v0.9h-0.9zM81.3 602.3h0.9v0.9h-0.9zM77.0 602.0h0.9v0.9h-0.9zM84.8 605.6h0.9v0.9h-0.9zM78.9 597.5h0.9v0.9h-0.9zM77.0 593.5h0.9v0.9h-0.9zM83.2 606.2h0.9v0.9h-0.9zM79.8 602.2h0.9v0.9h-0.9zM79.9 608.4h0.9v0.9h-0.9zM85.4 600.0h0.9v0.9h-0.9zM81.8 594.9h0.9v0.9h-0.9zM82.6 610.3h0.9v0.9h-0.9zM82.2 597.2h0.9v0.9h-0.9zM86.2 611.0h0.9v0.9h-0.9zM80.2 612.0h0.9v0.9h-0.9zM82.9 603.7h0.9v0.9h-0.9zM89.2 608.3h0.9v0.9h-0.9zM84.2 601.7h0.9v0.9h-0.9zM83.2 611.8h0.9v0.9h-0.9zM84.8 598.5h0.9v0.9h-0.9zM84.6 603.2h0.9v0.9h-0.9zM84.1 602.6h0.9v0.9h-0.9zM75.9 591.7h0.9v0.9h-0.9zM82.4 587.6h0.9v0.9h-0.9zM85.5 600.7h0.9v0.9h-0.9zM85.0 587.5h0.9v0.9h-0.9zM83.4 611.3h0.9v0.9h-0.9zM84.1 594.3h0.9v0.9h-0.9zM86.5 600.2h0.9v0.9h-0.9zM80.9 605.3h0.9v0.9h-0.9zM85.0 594.9h0.9v0.9h-0.9zM82.9 604.4h0.9v0.9h-0.9zM92.2 599.5h0.9v0.9h-0.9zM79.7 606.5h0.9v0.9h-0.9zM89.0 596.8h0.9v0.9h-0.9zM82.0 598.4h0.9v0.9h-0.9zM84.6 607.1h0.9v0.9h-0.9zM82.5 608.9h0.9v0.9h-0.9zM80.3 601.0h0.9v0.9h-0.9zM82.8 604.4h0.9v0.9h-0.9zM87.5 604.8h0.9v0.9h-0.9zM87.4 606.0h0.9v0.9h-0.9zM86.9 605.6h0.9v0.9h-0.9zM80.0 597.5h0.9v0.9h-0.9zM89.6 602.0h0.9v0.9h-0.9zM92.2 596.2h0.9v0.9h-0.9zM79.6 610.8h0.9v0.9h-0.9zM77.2 610.5h0.9v0.9h-0.9zM84.0 608.7h0.9v0.9h-0.9zM78.6 606.6h0.9v0.9h-0.9zM86.3 603.8h0.9v0.9h-0.9zM86.6 604.4h0.9v0.9h-0.9zM84.3 601.7h0.9v0.9h-0.9zM78.2 602.6h0.9v0.9h-0.9zM85.0 598.4h0.9v0.9h-0.9zM76.7 592.1h0.9v0.9h-0.9zM87.7 602.6h0.9v0.9h-0.9zM82.9 592.7h0.9v0.9h-0.9zM81.7 597.3h0.9v0.9h-0.9zM82.7 597.1h0.9v0.9h-0.9zM83.0 607.4h0.9v0.9h-0.9zM81.0 602.4h0.9v0.9h-0.9zM82.1 610.1h0.9v0.9h-0.9zM80.1 609.5h0.9v0.9h-0.9zM87.4 602.8h0.9v0.9h-0.9zM79.7 601.5h0.9v0.9h-0.9zM76.9 599.6h0.9v0.9h-0.9zM78.8 602.5h0.9v0.9h-0.9zM81.4 607.8h0.9v0.9h-0.9zM83.2 607.2h0.9v0.9h-0.9zM82.7 606.1h0.9v0.9h-0.9zM78.7 608.7h0.9v0.9h-0.9zM87.1 612.5h0.9v0.9h-0.9zM78.0 606.9h0.9v0.9h-0.9zM76.9 609.4h0.9v0.9h-0.9zM82.4 600.5h0.9v0.9h-0.9zM80.4 602.1h0.9v0.9h-0.9zM83.3 596.8h0.9v0.9h-0.9zM83.1 605.9h0.9v0.9h-0.9zM84.8 603.8h0.9v0.9h-0.9zM86.4 606.6h0.9v0.9h-0.9zM77.8 608.4h0.9v0.9h-0.9zM86.0 584.2h0.9v0.9h-0.9zM82.2 606.8h0.9v0.9h-0.9zM83.0 604.7h0.9v0.9h-0.9zM84.4 602.0h0.9v0.9h-0.9zM80.1 599.9h0.9v0.9h-0.9zM84.0 605.2h0.9v0.9h-0.9zM86.8 607.4h0.9v0.9h-0.9zM83.1 603.5h0.9v0.9h-0.9zM81.7 611.5h0.9v0.9h-0.9zM78.9 596.0h0.9v0.9h-0.9zM81.7 596.7h0.9v0.9h-0.9zM79.9 612.8h0.9v0.9h-0.9zM74.8 607.9h0.9v0.9h-0.9zM78.4 601.9h0.9v0.9h-0.9zM81.3 596.5h0.9v0.9h-0.9zM77.7 604.3h0.9v0.9h-0.9zM73.3 587.6h0.9v0.9h-0.9zM81.1 612.2h0.9v0.9h-0.9zM89.6 602.2h0.9v0.9h-0.9zM80.2 601.7h0.9v0.9h-0.9zM84.3 611.1h0.9v0.9h-0.9zM79.4 607.4h0.9v0.9h-0.9zM82.4 612.6h0.9v0.9h-0.9zM81.6 602.4h0.9v0.9h-0.9zM80.5 593.9h0.9v0.9h-0.9zM83.6 609.4h0.9v0.9h-0.9zM86.8 606.2h0.9v0.9h-0.9zM81.7 597.0h0.9v0.9h-0.9zM79.1 598.4h0.9v0.9h-0.9zM84.1 604.7h0.9v0.9h-0.9zM74.9 602.8h0.9v0.9h-0.9zM82.3 596.1h0.9v0.9h-0.9zM82.7 608.0h0.9v0.9h-0.9zM79.8 593.7h0.9v0.9h-0.9zM81.7 605.9h0.9v0.9h-0.9zM83.9 596.5h0.9v0.9h-0.9zM86.0 599.3h0.9v0.9h-0.9zM85.4 604.9h0.9v0.9h-0.9zM87.7 596.8h0.9v0.9h-0.9zM85.4 607.3h0.9v0.9h-0.9zM79.5 609.1h0.9v0.9h-0.9zM90.9 607.1h0.9v0.9h-0.9zM80.3 602.7h0.9v0.9h-0.9zM87.5 606.2h0.9v0.9h-0.9zM88.5 599.4h0.9v0.9h-0.9zM88.2 592.4h0.9v0.9h-0.9zM82.5 601.8h0.9v0.9h-0.9zM80.7 606.5h0.9v0.9h-0.9zM89.2 610.5h0.9v0.9h-0.9zM81.8 598.4h0.9v0.9h-0.9zM75.7 606.5h0.9v0.9h-0.9zM85.7 612.5h0.9v0.9h-0.9zM86.6 586.8h0.9v0.9h-0.9zM79.5 609.8h0.9v0.9h-0.9zM81.2 610.2h0.9v0.9h-0.9zM92.4 598.8h0.9v0.9h-0.9zM90.9 603.8h0.9v0.9h-0.9zM77.7 604.5h0.9v0.9h-0.9zM86.4 599.8h0.9v0.9h-0.9zM88.9 597.8h0.9v0.9h-0.9zM81.9 610.9h0.9v0.9h-0.9zM82.4 599.8h0.9v0.9h-0.9zM82.7 608.9h0.9v0.9h-0.9zM89.7 604.1h0.9v0.9h-0.9zM77.1 603.4h0.9v0.9h-0.9zM81.9 596.5h0.9v0.9h-0.9zM81.2 603.4h0.9v0.9h-0.9zM82.8 610.9h0.9v0.9h-0.9zM79.3 612.4h0.9v0.9h-0.9zM82.9 609.5h0.9v0.9h-0.9zM87.9 595.0h0.9v0.9h-0.9zM89.0 598.9h0.9v0.9h-0.9zM84.0 612.2h0.9v0.9h-0.9zM86.9 592.4h0.9v0.9h-0.9zM83.1 612.5h0.9v0.9h-0.9zM82.6 603.4h0.9v0.9h-0.9zM81.4 596.8h0.9v0.9h-0.9zM79.2 599.8h0.9v0.9h-0.9zM82.0 606.6h0.9v0.9h-0.9zM83.4 591.1h0.9v0.9h-0.9zM77.1 608.8h0.9v0.9h-0.9zM86.1 594.0h0.9v0.9h-0.9zM87.3 585.9h0.9v0.9h-0.9zM91.1 608.9h0.9v0.9h-0.9zM76.8 607.5h0.9v0.9h-0.9zM83.0 600.6h0.9v0.9h-0.9zM81.8 602.3h0.9v0.9h-0.9zM83.0 597.2h0.9v0.9h-0.9zM80.7 608.1h0.9v0.9h-0.9zM85.4 594.1h0.9v0.9h-0.9zM78.6 596.0h0.9v0.9h-0.9zM76.0 589.0h0.9v0.9h-0.9zM82.1 596.1h0.9v0.9h-0.9zM79.4 598.6h0.9v0.9h-0.9zM82.0 610.2h0.9v0.9h-0.9zM85.7 590.9h0.9v0.9h-0.9zM88.5 601.8h0.9v0.9h-0.9zM79.4 603.6h0.9v0.9h-0.9zM82.1 593.5h0.9v0.9h-0.9zM88.8 600.0h0.9v0.9h-0.9zM80.6 607.9h0.9v0.9h-0.9zM88.8 607.9h0.9v0.9h-0.9zM79.6 607.1h0.9v0.9h-0.9zM86.8 607.1h0.9v0.9h-0.9zM85.5 600.5h0.9v0.9h-0.9zM83.4 591.4h0.9v0.9h-0.9zM80.9 595.3h0.9v0.9h-0.9zM75.4 593.7h0.9v0.9h-0.9zM79.7 603.2h0.9v0.9h-0.9zM87.5 598.4h0.9v0.9h-0.9zM84.1 608.0h0.9v0.9h-0.9zM86.3 598.6h0.9v0.9h-0.9zM84.1 599.1h0.9v0.9h-0.9zM80.3 604.9h0.9v0.9h-0.9zM85.1 594.5h0.9v0.9h-0.9zM80.0 608.4h0.9v0.9h-0.9zM83.3 609.0h0.9v0.9h-0.9zM82.2 597.9h0.9v0.9h-0.9zM85.6 608.7h0.9v0.9h-0.9zM72.4 610.0h0.9v0.9h-0.9zM80.0 608.9h0.9v0.9h-0.9zM88.8 602.2h0.9v0.9h-0.9zM79.4 605.7h0.9v0.9h-0.9zM83.1 608.3h0.9v0.9h-0.9zM77.8 605.6h0.9v0.9h-0.9zM85.9 609.4h0.9v0.9h-0.9zM84.1 596.6h0.9v0.9h-0.9zM81.8 606.0h0.9v0.9h-0.9zM83.9 600.2h0.9v0.9h-0.9zM91.0 601.9h0.9v0.9h-0.9zM79.7 610.8h0.9v0.9h-0.9zM81.8 598.0h0.9v0.9h-0.9zM78.7 612.7h0.9v0.9h-0.9zM79.1 604.6h0.9v0.9h-0.9zM81.4 602.5h0.9v0.9h-0.9zM80.0 605.0h0.9v0.9h-0.9zM84.8 612.0h0.9v0.9h-0.9zM82.2 595.2h0.9v0.9h-0.9zM77.6 603.8h0.9v0.9h-0.9zM83.1 604.9h0.9v0.9h-0.9zM78.2 598.9h0.9v0.9h-0.9zM80.1 608.9h0.9v0.9h-0.9zM81.3 608.6h0.9v0.9h-0.9zM85.6 589.7h0.9v0.9h-0.9zM81.1 604.9h0.9v0.9h-0.9zM83.0 594.8h0.9v0.9h-0.9zM90.9 603.4h0.9v0.9h-0.9zM85.5 600.8h0.9v0.9h-0.9zM86.9 611.4h0.9v0.9h-0.9zM84.4 605.1h0.9v0.9h-0.9zM86.3 597.5h0.9v0.9h-0.9zM73.5 609.7h0.9v0.9h-0.9zM83.8 598.8h0.9v0.9h-0.9zM82.4 596.8h0.9v0.9h-0.9zM79.9 605.3h0.9v0.9h-0.9zM83.1 610.3h0.9v0.9h-0.9zM82.4 608.8h0.9v0.9h-0.9zM85.7 598.9h0.9v0.9h-0.9zM77.2 598.6h0.9v0.9h-0.9zM82.3 600.0h0.9v0.9h-0.9zM91.2 599.4h0.9v0.9h-0.9zM85.0 598.4h0.9v0.9h-0.9zM86.0 594.7h0.9v0.9h-0.9zM86.4 605.6h0.9v0.9h-0.9zM82.0 595.0h0.9v0.9h-0.9zM89.2 600.0h0.9v0.9h-0.9zM89.1 586.3h0.9v0.9h-0.9zM89.4 604.5h0.9v0.9h-0.9zM86.4 608.8h0.9v0.9h-0.9zM81.7 605.0h0.9v0.9h-0.9zM79.4 593.8h0.9v0.9h-0.9zM83.2 609.6h0.9v0.9h-0.9zM84.1 594.9h0.9v0.9h-0.9zM86.0 604.9h0.9v0.9h-0.9zM85.8 602.1h0.9v0.9h-0.9zM81.6 611.9h0.9v0.9h-0.9zM88.4 595.3h0.9v0.9h-0.9zM78.6 611.1h0.9v0.9h-0.9zM84.3 604.5h0.9v0.9h-0.9zM79.1 611.5h0.9v0.9h-0.9zM83.6 605.7h0.9v0.9h-0.9zM84.6 600.2h0.9v0.9h-0.9zM84.4 605.1h0.9v0.9h-0.9zM85.4 607.1h0.9v0.9h-0.9zM78.6 598.6h0.9v0.9h-0.9zM81.6 612.7h0.9v0.9h-0.9zM80.2 612.4h0.9v0.9h-0.9zM86.5 610.8h0.9v0.9h-0.9zM91.1 604.5h0.9v0.9h-0.9zM84.1 611.6h0.9v0.9h-0.9zM85.0 589.9h0.9v0.9h-0.9zM87.0 602.9h0.9v0.9h-0.9zM79.9 601.7h0.9v0.9h-0.9zM81.5 612.6h0.9v0.9h-0.9zM84.2 603.6h0.9v0.9h-0.9zM83.3 597.4h0.9v0.9h-0.9zM80.9 600.5h0.9v0.9h-0.9zM82.6 595.4h0.9v0.9h-0.9zM81.2 611.5h0.9v0.9h-0.9zM84.6 604.2h0.9v0.9h-0.9zM84.3 602.4h0.9v0.9h-0.9zM78.4 610.5h0.9v0.9h-0.9zM90.9 608.3h0.9v0.9h-0.9zM78.4 607.8h0.9v0.9h-0.9zM81.9 602.0h0.9v0.9h-0.9zM77.0 603.2h0.9v0.9h-0.9zM85.1 592.3h0.9v0.9h-0.9zM82.4 600.4h0.9v0.9h-0.9zM79.1 608.6h0.9v0.9h-0.9zM88.8 607.5h0.9v0.9h-0.9zM86.4 610.0h0.9v0.9h-0.9zM82.5 608.4h0.9v0.9h-0.9zM87.9 601.2h0.9v0.9h-0.9zM83.0 593.8h0.9v0.9h-0.9zM76.6 597.7h0.9v0.9h-0.9zM86.1 607.0h0.9v0.9h-0.9zM83.0 609.9h0.9v0.9h-0.9zM88.3 598.3h0.9v0.9h-0.9zM79.7 607.0h0.9v0.9h-0.9zM83.0 599.8h0.9v0.9h-0.9zM82.8 598.7h0.9v0.9h-0.9zM83.6 601.3h0.9v0.9h-0.9zM89.5 596.7h0.9v0.9h-0.9zM85.1 604.8h0.9v0.9h-0.9zM89.1 597.2h0.9v0.9h-0.9zM80.8 601.2h0.9v0.9h-0.9zM82.0 596.8h0.9v0.9h-0.9zM82.7 598.5h0.9v0.9h-0.9zM77.9 608.8h0.9v0.9h-0.9zM80.9 608.1h0.9v0.9h-0.9zM74.5 600.5h0.9v0.9h-0.9zM85.1 607.3h0.9v0.9h-0.9zM72.5 605.8h0.9v0.9h-0.9zM83.5 604.0h0.9v0.9h-0.9zM81.9 600.8h0.9v0.9h-0.9zM83.3 607.9h0.9v0.9h-0.9zM71.6 603.4h0.9v0.9h-0.9zM86.4 602.6h0.9v0.9h-0.9zM87.8 597.4h0.9v0.9h-0.9zM89.5 611.6h0.9v0.9h-0.9zM78.7 603.1h0.9v0.9h-0.9zM84.3 612.0h0.9v0.9h-0.9zM83.8 594.5h0.9v0.9h-0.9zM87.5 603.1h0.9v0.9h-0.9zM84.7 601.8h0.9v0.9h-0.9zM83.1 593.9h0.9v0.9h-0.9zM85.6 599.6h0.9v0.9h-0.9zM76.4 606.8h0.9v0.9h-0.9zM82.5 611.2h0.9v0.9h-0.9zM86.4 595.3h0.9v0.9h-0.9zM82.4 604.1h0.9v0.9h-0.9zM83.7 596.3h0.9v0.9h-0.9zM82.9 611.4h0.9v0.9h-0.9zM86.7 585.5h0.9v0.9h-0.9zM82.2 600.0h0.9v0.9h-0.9zM86.3 604.2h0.9v0.9h-0.9zM84.1 607.8h0.9v0.9h-0.9zM89.3 610.5h0.9v0.9h-0.9zM80.9 605.9h0.9v0.9h-0.9zM86.2 609.6h0.9v0.9h-0.9zM80.1 611.0h0.9v0.9h-0.9zM85.4 608.5h0.9v0.9h-0.9zM81.5 603.8h0.9v0.9h-0.9zM76.1 603.5h0.9v0.9h-0.9zM81.5 601.8h0.9v0.9h-0.9zM82.1 601.7h0.9v0.9h-0.9zM83.3 604.8h0.9v0.9h-0.9zM80.8 603.0h0.9v0.9h-0.9zM82.5 607.7h0.9v0.9h-0.9zM84.7 601.5h0.9v0.9h-0.9zM80.7 591.8h0.9v0.9h-0.9zM78.3 606.9h0.9v0.9h-0.9zM82.6 601.2h0.9v0.9h-0.9zM82.6 600.0h0.9v0.9h-0.9zM80.7 604.4h0.9v0.9h-0.9zM77.7 604.8h0.9v0.9h-0.9zM83.0 597.4h0.9v0.9h-0.9zM86.6 607.0h0.9v0.9h-0.9zM87.2 599.3h0.9v0.9h-0.9zM79.0 595.1h0.9v0.9h-0.9zM78.1 589.8h0.9v0.9h-0.9zM88.8 600.8h0.9v0.9h-0.9zM83.9 600.2h0.9v0.9h-0.9zM77.1 596.5h0.9v0.9h-0.9zM83.8 597.4h0.9v0.9h-0.9zM85.9 609.8h0.9v0.9h-0.9zM82.0 611.5h0.9v0.9h-0.9zM80.6 595.1h0.9v0.9h-0.9zM82.2 602.2h0.9v0.9h-0.9zM87.8 597.0h0.9v0.9h-0.9zM87.4 598.5h0.9v0.9h-0.9zM79.1 591.3h0.9v0.9h-0.9zM83.4 593.4h0.9v0.9h-0.9zM83.7 604.5h0.9v0.9h-0.9zM82.3 589.7h0.9v0.9h-0.9zM81.0 607.3h0.9v0.9h-0.9zM76.3 608.8h0.9v0.9h-0.9zM83.3 600.0h0.9v0.9h-0.9zM83.5 608.9h0.9v0.9h-0.9zM83.2 598.3h0.9v0.9h-0.9zM86.1 599.2h0.9v0.9h-0.9zM83.9 611.3h0.9v0.9h-0.9zM86.6 605.3h0.9v0.9h-0.9zM82.2 605.4h0.9v0.9h-0.9zM85.7 598.1h0.9v0.9h-0.9zM89.1 592.6h0.9v0.9h-0.9zM87.1 594.8h0.9v0.9h-0.9zM79.3 600.1h0.9v0.9h-0.9zM82.5 594.0h0.9v0.9h-0.9zM85.3 603.3h0.9v0.9h-0.9zM88.2 596.8h0.9v0.9h-0.9zM76.2 608.8h0.9v0.9h-0.9zM81.8 611.2h0.9v0.9h-0.9zM75.1 594.4h0.9v0.9h-0.9zM79.3 589.7h0.9v0.9h-0.9zM89.2 594.3h0.9v0.9h-0.9zM81.5 590.3h0.9v0.9h-0.9zM80.3 596.8h0.9v0.9h-0.9zM84.1 612.5h0.9v0.9h-0.9zM91.7 601.8h0.9v0.9h-0.9zM85.9 605.8h0.9v0.9h-0.9zM83.7 610.5h0.9v0.9h-0.9zM84.9 603.4h0.9v0.9h-0.9zM80.6 600.9h0.9v0.9h-0.9zM83.2 601.2h0.9v0.9h-0.9zM82.0 598.8h0.9v0.9h-0.9zM86.2 602.4h0.9v0.9h-0.9zM82.7 602.4h0.9v0.9h-0.9zM87.9 600.3h0.9v0.9h-0.9zM88.4 597.9h0.9v0.9h-0.9zM88.3 608.9h0.9v0.9h-0.9zM81.1 607.3h0.9v0.9h-0.9zM87.5 597.2h0.9v0.9h-0.9zM82.1 606.3h0.9v0.9h-0.9zM82.4 601.8h0.9v0.9h-0.9zM83.0 606.4h0.9v0.9h-0.9zM83.1 593.3h0.9v0.9h-0.9zM81.6 601.4h0.9v0.9h-0.9zM87.6 589.3h0.9v0.9h-0.9zM80.8 602.9h0.9v0.9h-0.9zM85.2 607.1h0.9v0.9h-0.9zM86.2 603.0h0.9v0.9h-0.9zM89.0 607.2h0.9v0.9h-0.9zM83.9 597.7h0.9v0.9h-0.9zM90.4 607.4h0.9v0.9h-0.9zM85.9 592.3h0.9v0.9h-0.9zM82.5 602.5h0.9v0.9h-0.9zM88.6 602.9h0.9v0.9h-0.9zM79.1 597.7h0.9v0.9h-0.9zM85.4 605.0h0.9v0.9h-0.9zM83.2 602.8h0.9v0.9h-0.9zM83.3 606.7h0.9v0.9h-0.9zM81.4 601.9h0.9v0.9h-0.9zM84.3 596.0h0.9v0.9h-0.9zM85.5 587.9h0.9v0.9h-0.9zM85.4 603.3h0.9v0.9h-0.9zM79.9 612.9h0.9v0.9h-0.9zM81.8 611.6h0.9v0.9h-0.9zM82.6 590.1h0.9v0.9h-0.9zM84.2 607.6h0.9v0.9h-0.9zM80.9 593.3h0.9v0.9h-0.9zM84.2 598.9h0.9v0.9h-0.9zM82.6 604.0h0.9v0.9h-0.9zM79.7 612.0h0.9v0.9h-0.9zM83.5 611.9h0.9v0.9h-0.9zM82.2 599.1h0.9v0.9h-0.9zM81.5 597.4h0.9v0.9h-0.9zM84.6 605.1h0.9v0.9h-0.9zM79.7 592.4h0.9v0.9h-0.9zM80.6 590.3h0.9v0.9h-0.9zM80.4 592.6h0.9v0.9h-0.9zM86.0 595.6h0.9v0.9h-0.9zM81.0 603.0h0.9v0.9h-0.9zM83.0 607.2h0.9v0.9h-0.9zM85.5 608.9h0.9v0.9h-0.9zM84.6 598.8h0.9v0.9h-0.9zM88.8 595.5h0.9v0.9h-0.9zM83.3 606.6h0.9v0.9h-0.9zM83.2 609.0h0.9v0.9h-0.9zM83.8 604.1h0.9v0.9h-0.9zM86.3 590.1h0.9v0.9h-0.9zM84.0 601.8h0.9v0.9h-0.9zM89.9 606.5h0.9v0.9h-0.9zM80.4 608.8h0.9v0.9h-0.9zM82.1 595.2h0.9v0.9h-0.9zM81.8 607.7h0.9v0.9h-0.9zM86.8 612.0h0.9v0.9h-0.9zM83.9 602.9h0.9v0.9h-0.9zM82.1 612.6h0.9v0.9h-0.9zM80.2 603.8h0.9v0.9h-0.9zM85.5 609.4h0.9v0.9h-0.9zM83.9 600.2h0.9v0.9h-0.9zM76.8 600.4h0.9v0.9h-0.9zM80.2 600.9h0.9v0.9h-0.9zM88.9 598.6h0.9v0.9h-0.9zM86.0 604.0h0.9v0.9h-0.9zM79.0 604.6h0.9v0.9h-0.9zM86.2 595.4h0.9v0.9h-0.9zM79.0 601.0h0.9v0.9h-0.9zM85.8 599.7h0.9v0.9h-0.9zM84.3 607.5h0.9v0.9h-0.9zM82.9 607.4h0.9v0.9h-0.9zM87.6 602.8h0.9v0.9h-0.9zM84.6 596.2h0.9v0.9h-0.9zM80.5 603.2h0.9v0.9h-0.9zM86.2 599.2h0.9v0.9h-0.9zM77.7 610.6h0.9v0.9h-0.9zM92.4 585.4h0.9v0.9h-0.9zM79.2 604.7h0.9v0.9h-0.9zM85.1 597.1h0.9v0.9h-0.9zM83.8 612.2h0.9v0.9h-0.9zM81.8 609.4h0.9v0.9h-0.9zM83.8 597.2h0.9v0.9h-0.9zM81.1 599.4h0.9v0.9h-0.9zM87.3 612.8h0.9v0.9h-0.9zM84.5 592.5h0.9v0.9h-0.9zM81.4 601.0h0.9v0.9h-0.9zM76.2 603.5h0.9v0.9h-0.9zM84.5 594.3h0.9v0.9h-0.9zM81.7 600.6h0.9v0.9h-0.9zM89.3 609.3h0.9v0.9h-0.9zM85.7 604.8h0.9v0.9h-0.9zM78.1 610.6h0.9v0.9h-0.9zM81.4 589.7h0.9v0.9h-0.9zM85.7 601.6h0.9v0.9h-0.9zM82.8 607.8h0.9v0.9h-0.9zM82.0 607.0h0.9v0.9h-0.9zM87.7 601.9h0.9v0.9h-0.9zM81.8 604.1h0.9v0.9h-0.9zM85.4 601.2h0.9v0.9h-0.9zM83.6 599.0h0.9v0.9h-0.9zM82.5 608.0h0.9v0.9h-0.9zM80.2 602.5h0.9v0.9h-0.9zM78.1 598.6h0.9v0.9h-0.9zM83.1 607.9h0.9v0.9h-0.9zM79.4 603.1h0.9v0.9h-0.9zM79.6 606.2h0.9v0.9h-0.9zM83.8 607.3h0.9v0.9h-0.9zM82.8 593.4h0.9v0.9h-0.9zM81.6 594.0h0.9v0.9h-0.9zM80.7 603.5h0.9v0.9h-0.9zM87.1 599.4h0.9v0.9h-0.9zM80.2 605.4h0.9v0.9h-0.9zM77.2 611.2h0.9v0.9h-0.9zM86.1 611.3h0.9v0.9h-0.9zM82.4 609.4h0.9v0.9h-0.9zM81.4 611.0h0.9v0.9h-0.9zM81.0 597.9h0.9v0.9h-0.9zM84.5 600.7h0.9v0.9h-0.9zM85.7 597.8h0.9v0.9h-0.9zM84.3 596.8h0.9v0.9h-0.9zM79.7 594.7h0.9v0.9h-0.9zM77.5 602.0h0.9v0.9h-0.9zM88.9 601.0h0.9v0.9h-0.9zM86.3 602.8h0.9v0.9h-0.9zM87.5 590.6h0.9v0.9h-0.9zM79.4 606.9h0.9v0.9h-0.9zM85.4 602.5h0.9v0.9h-0.9zM83.9 608.0h0.9v0.9h-0.9zM81.4 611.3h0.9v0.9h-0.9zM79.7 609.4h0.9v0.9h-0.9zM86.1 605.7h0.9v0.9h-0.9zM81.8 603.8h0.9v0.9h-0.9zM75.2 605.5h0.9v0.9h-0.9z"/>
<path fill="#777" opacity="0.3" d="M64.2 568.2h0.8v0.8h-0.8zM85.4 581.2h0.8v0.8h-0.8zM81.5 592.6h0.8v0.8h-0.8zM60.9 581.4h0.8v0.8h-0.8zM75.4 597.6h0.8v0.8h-0.8zM78.7 577.1h0.8v0.8h-0.8zM72.9 593.3h0.8v0.8h-0.8zM65.7 586.8h0.8v0.8h-0.8zM72.7 566.9h0.8v0.8h-0.8zM94.8 602.4h0.8v0.8h-0.8zM73.5 603.2h0.8v0.8h-0.8zM67.9 610.1h0.8v0.8h-0.8zM74.4 593.7h0.8v0.8h-0.8zM72.4 593.1h0.8v0.8h-0.8zM81.2 592.4h0.8v0.8h-0.8zM70.0 601.0h0.8v0.8h-0.8zM83.4 592.0h0.8v0.8h-0.8zM88.2 583.3h0.8v0.8h-0.8zM90.4 590.1h0.8v0.8h-0.8zM92.7 586.8h0.8v0.8h-0.8zM75.6 594.5h0.8v0.8h-0.8zM88.6 609.0h0.8v0.8h-0.8zM73.6 583.4h0.8v0.8h-0.8zM85.4 606.7h0.8v0.8h-0.8zM84.8 588.1h0.8v0.8h-0.8zM90.4 591.7h0.8v0.8h-0.8zM79.7 599.4h0.8v0.8h-0.8zM72.5 565.3h0.8v0.8h-0.8zM80.1 600.5h0.8v0.8h-0.8zM82.3 598.4h0.8v0.8h-0.8zM79.6 604.3h0.8v0.8h-0.8zM79.1 609.6h0.8v0.8h-0.8zM78.5 601.4h0.8v0.8h-0.8zM72.7 595.6h0.8v0.8h-0.8zM82.1 593.7h0.8v0.8h-0.8zM93.0 592.5h0.8v0.8h-0.8zM88.9 596.2h0.8v0.8h-0.8zM88.6 581.4h0.8v0.8h-0.8zM74.5 603.4h0.8v0.8h-0.8zM70.1 596.7h0.8v0.8h-0.8zM83.5 594.3h0.8v0.8h-0.8zM82.2 598.4h0.8v0.8h-0.8zM75.7 596.9h0.8v0.8h-0.8zM73.0 586.7h0.8v0.8h-0.8zM62.7 590.8h0.8v0.8h-0.8zM61.6 592.4h0.8v0.8h-0.8zM80.1 579.2h0.8v0.8h-0.8zM78.7 595.4h0.8v0.8h-0.8zM74.6 581.2h0.8v0.8h-0.8zM76.9 596.9h0.8v0.8h-0.8zM58.9 596.1h0.8v0.8h-0.8zM82.2 584.5h0.8v0.8h-0.8zM79.1 608.2h0.8v0.8h-0.8zM88.3 586.8h0.8v0.8h-0.8zM55.6 605.7h0.8v0.8h-0.8zM92.9 571.2h0.8v0.8h-0.8zM76.1 583.8h0.8v0.8h-0.8zM80.0 592.7h0.8v0.8h-0.8zM89.1 585.0h0.8v0.8h-0.8zM96.7 571.8h0.8v0.8h-0.8zM77.1 599.5h0.8v0.8h-0.8zM86.7 587.9h0.8v0.8h-0.8zM59.5 594.5h0.8v0.8h-0.8zM85.1 567.8h0.8v0.8h-0.8zM73.3 598.6h0.8v0.8h-0.8zM54.8 589.7h0.8v0.8h-0.8zM62.6 576.1h0.8v0.8h-0.8zM81.9 605.5h0.8v0.8h-0.8zM89.3 584.2h0.8v0.8h-0.8zM82.9 571.0h0.8v0.8h-0.8zM63.7 598.5h0.8v0.8h-0.8zM74.2 579.9h0.8v0.8h-0.8zM59.9 589.2h0.8v0.8h-0.8zM99.6 568.1h0.8v0.8h-0.8zM67.9 605.3h0.8v0.8h-0.8zM59.4 584.6h0.8v0.8h-0.8zM78.7 605.4h0.8v0.8h-0.8zM77.7 590.7h0.8v0.8h-0.8zM82.3 596.2h0.8v0.8h-0.8zM63.5 580.8h0.8v0.8h-0.8zM75.7 596.1h0.8v0.8h-0.8zM66.1 583.5h0.8v0.8h-0.8zM70.8 596.0h0.8v0.8h-0.8zM73.8 599.2h0.8v0.8h-0.8zM81.8 581.1h0.8v0.8h-0.8zM75.1 577.3h0.8v0.8h-0.8zM79.1 601.6h0.8v0.8h-0.8zM68.4 571.0h0.8v0.8h-0.8zM83.0 588.6h0.8v0.8h-0.8zM77.7 597.5h0.8v0.8h-0.8zM81.7 603.0h0.8v0.8h-0.8zM73.6 565.8h0.8v0.8h-0.8zM73.3 588.4h0.8v0.8h-0.8zM74.0 596.7h0.8v0.8h-0.8zM75.6 607.4h0.8v0.8h-0.8zM71.9 591.9h0.8v0.8h-0.8zM68.7 580.1h0.8v0.8h-0.8zM74.3 601.1h0.8v0.8h-0.8zM78.1 589.9h0.8v0.8h-0.8zM63.8 567.3h0.8v0.8h-0.8zM75.9 589.2h0.8v0.8h-0.8zM95.1 596.4h0.8v0.8h-0.8zM82.1 603.5h0.8v0.8h-0.8zM69.3 577.3h0.8v0.8h-0.8zM74.4 609.7h0.8v0.8h-0.8zM87.6 585.0h0.8v0.8h-0.8zM65.9 603.1h0.8v0.8h-0.8zM88.7 578.9h0.8v0.8h-0.8zM93.7 582.8h0.8v0.8h-0.8zM85.3 589.5h0.8v0.8h-0.8zM74.8 584.7h0.8v0.8h-0.8zM84.8 599.4h0.8v0.8h-0.8zM85.9 588.7h0.8v0.8h-0.8zM94.7 589.7h0.8v0.8h-0.8zM66.8 609.9h0.8v0.8h-0.8zM79.3 592.7h0.8v0.8h-0.8zM86.3 596.2h0.8v0.8h-0.8zM59.6 599.7h0.8v0.8h-0.8zM68.4 592.9h0.8v0.8h-0.8zM76.3 595.2h0.8v0.8h-0.8zM54.4 600.3h0.8v0.8h-0.8zM100.8 587.1h0.8v0.8h-0.8zM86.8 599.5h0.8v0.8h-0.8zM80.9 586.0h0.8v0.8h-0.8zM84.2 595.2h0.8v0.8h-0.8zM92.2 601.9h0.8v0.8h-0.8zM71.0 557.1h0.8v0.8h-0.8zM92.8 597.8h0.8v0.8h-0.8zM79.7 584.8h0.8v0.8h-0.8zM102.6 608.0h0.8v0.8h-0.8zM79.0 587.6h0.8v0.8h-0.8zM83.6 608.2h0.8v0.8h-0.8zM83.1 603.3h0.8v0.8h-0.8zM80.6 596.3h0.8v0.8h-0.8zM65.6 593.5h0.8v0.8h-0.8zM78.5 591.1h0.8v0.8h-0.8zM75.6 595.7h0.8v0.8h-0.8zM72.3 589.7h0.8v0.8h-0.8zM69.2 577.6h0.8v0.8h-0.8zM72.7 587.0h0.8v0.8h-0.8zM67.4 562.8h0.8v0.8h-0.8zM94.2 604.2h0.8v0.8h-0.8zM74.3 598.7h0.8v0.8h-0.8zM67.0 572.6h0.8v0.8h-0.8zM81.3 598.9h0.8v0.8h-0.8zM71.2 592.0h0.8v0.8h-0.8zM47.7 590.4h0.8v0.8h-0.8zM88.4 594.0h0.8v0.8h-0.8zM79.8 598.9h0.8v0.8h-0.8zM57.4 576.6h0.8v0.8h-0.8zM65.4 594.9h0.8v0.8h-0.8zM71.8 569.4h0.8v0.8h-0.8zM86.8 589.8h0.8v0.8h-0.8zM61.7 576.7h0.8v0.8h-0.8zM88.7 608.9h0.8v0.8h-0.8zM81.9 596.3h0.8v0.8h-0.8zM84.9 599.8h0.8v0.8h-0.8zM65.4 600.9h0.8v0.8h-0.8zM87.8 587.2h0.8v0.8h-0.8zM68.9 586.2h0.8v0.8h-0.8zM72.2 598.3h0.8v0.8h-0.8zM85.7 592.3h0.8v0.8h-0.8zM75.0 570.8h0.8v0.8h-0.8zM73.8 580.1h0.8v0.8h-0.8zM72.5 596.1h0.8v0.8h-0.8zM69.3 585.6h0.8v0.8h-0.8zM66.6 588.9h0.8v0.8h-0.8zM75.2 604.0h0.8v0.8h-0.8zM58.6 602.9h0.8v0.8h-0.8zM84.4 585.7h0.8v0.8h-0.8zM71.2 594.3h0.8v0.8h-0.8zM83.2 590.1h0.8v0.8h-0.8zM76.4 592.2h0.8v0.8h-0.8zM67.2 595.2h0.8v0.8h-0.8zM83.7 592.6h0.8v0.8h-0.8zM66.7 592.0h0.8v0.8h-0.8zM76.9 595.8h0.8v0.8h-0.8zM73.8 601.9h0.8v0.8h-0.8zM88.8 601.8h0.8v0.8h-0.8zM80.3 606.5h0.8v0.8h-0.8zM77.6 590.0h0.8v0.8h-0.8zM63.8 592.2h0.8v0.8h-0.8zM90.0 580.7h0.8v0.8h-0.8zM85.7 576.9h0.8v0.8h-0.8zM78.4 578.1h0.8v0.8h-0.8zM80.8 590.3h0.8v0.8h-0.8zM85.9 585.8h0.8v0.8h-0.8zM60.8 586.4h0.8v0.8h-0.8zM83.8 604.2h0.8v0.8h-0.8zM80.7 592.3h0.8v0.8h-0.8zM84.8 589.7h0.8v0.8h-0.8zM73.5 594.7h0.8v0.8h-0.8zM88.8 586.1h0.8v0.8h-0.8zM82.9 584.4h0.8v0.8h-0.8zM70.7 594.1h0.8v0.8h-0.8zM64.7 582.0h0.8v0.8h-0.8zM66.1 584.9h0.8v0.8h-0.8zM84.0 592.9h0.8v0.8h-0.8zM64.7 564.0h0.8v0.8h-0.8zM82.3 584.6h0.8v0.8h-0.8zM88.4 587.4h0.8v0.8h-0.8zM65.0 584.5h0.8v0.8h-0.8zM62.8 575.4h0.8v0.8h-0.8zM85.0 585.8h0.8v0.8h-0.8zM84.8 585.4h0.8v0.8h-0.8zM75.6 585.6h0.8v0.8h-0.8zM72.5 584.3h0.8v0.8h-0.8zM92.8 591.4h0.8v0.8h-0.8zM58.6 612.0h0.8v0.8h-0.8zM90.4 605.2h0.8v0.8h-0.8zM76.9 590.2h0.8v0.8h-0.8zM73.2 593.5h0.8v0.8h-0.8zM82.6 592.0h0.8v0.8h-0.8zM69.8 580.7h0.8v0.8h-0.8zM94.5 611.8h0.8v0.8h-0.8zM65.6 584.5h0.8v0.8h-0.8zM77.5 598.9h0.8v0.8h-0.8zM76.8 594.8h0.8v0.8h-0.8zM81.5 605.4h0.8v0.8h-0.8zM64.9 604.9h0.8v0.8h-0.8zM82.3 598.3h0.8v0.8h-0.8zM62.9 589.3h0.8v0.8h-0.8zM75.3 599.5h0.8v0.8h-0.8zM84.7 600.1h0.8v0.8h-0.8zM65.0 606.7h0.8v0.8h-0.8zM78.6 602.9h0.8v0.8h-0.8zM77.8 583.8h0.8v0.8h-0.8zM104.0 599.7h0.8v0.8h-0.8zM85.5 586.6h0.8v0.8h-0.8zM75.7 605.0h0.8v0.8h-0.8zM82.3 612.4h0.8v0.8h-0.8zM89.8 579.5h0.8v0.8h-0.8zM62.6 605.6h0.8v0.8h-0.8zM83.9 589.0h0.8v0.8h-0.8zM75.0 585.6h0.8v0.8h-0.8zM95.8 590.1h0.8v0.8h-0.8zM64.1 602.6h0.8v0.8h-0.8zM77.0 596.2h0.8v0.8h-0.8zM74.1 591.6h0.8v0.8h-0.8zM59.1 598.3h0.8v0.8h-0.8zM71.0 587.6h0.8v0.8h-0.8zM81.0 606.9h0.8v0.8h-0.8zM56.4 590.5h0.8v0.8h-0.8zM83.3 603.8h0.8v0.8h-0.8zM68.8 595.8h0.8v0.8h-0.8zM81.8 602.9h0.8v0.8h-0.8zM71.7 589.9h0.8v0.8h-0.8zM72.8 605.3h0.8v0.8h-0.8zM88.7 586.9h0.8v0.8h-0.8zM76.5 594.6h0.8v0.8h-0.8zM68.9 590.8h0.8v0.8h-0.8zM86.5 601.0h0.8v0.8h-0.8zM71.1 584.6h0.8v0.8h-0.8zM76.7 575.1h0.8v0.8h-0.8zM80.9 593.5h0.8v0.8h-0.8zM64.5 589.4h0.8v0.8h-0.8zM71.2 589.0h0.8v0.8h-0.8zM69.1 607.8h0.8v0.8h-0.8zM68.2 600.9h0.8v0.8h-0.8zM79.9 608.7h0.8v0.8h-0.8zM77.3 592.1h0.8v0.8h-0.8zM78.5 570.4h0.8v0.8h-0.8zM101.8 589.7h0.8v0.8h-0.8zM74.7 579.1h0.8v0.8h-0.8zM76.5 610.6h0.8v0.8h-0.8zM70.3 597.2h0.8v0.8h-0.8zM88.1 603.0h0.8v0.8h-0.8zM73.8 572.1h0.8v0.8h-0.8zM81.9 598.7h0.8v0.8h-0.8zM74.6 587.2h0.8v0.8h-0.8zM95.3 574.0h0.8v0.8h-0.8zM72.7 585.2h0.8v0.8h-0.8zM62.2 584.2h0.8v0.8h-0.8zM69.9 606.4h0.8v0.8h-0.8zM60.4 576.4h0.8v0.8h-0.8zM80.4 574.4h0.8v0.8h-0.8zM57.8 585.0h0.8v0.8h-0.8zM65.8 581.0h0.8v0.8h-0.8zM76.2 597.3h0.8v0.8h-0.8zM71.4 589.0h0.8v0.8h-0.8zM84.9 590.4h0.8v0.8h-0.8zM85.1 585.4h0.8v0.8h-0.8zM82.7 606.7h0.8v0.8h-0.8zM74.6 588.3h0.8v0.8h-0.8zM76.2 597.4h0.8v0.8h-0.8zM65.8 592.6h0.8v0.8h-0.8z"/>
<path d="M44.8,573.8 L65.5,573.8 Q65,588 53,588.4 Q45.5,587.5 44.8,573.8z" fill="#999" stroke="#666" stroke-width="1.2"/>
<path fill="#555" opacity="0.35" d="M52.0 583.1h0.8v0.8h-0.8zM46.3 580.9h0.8v0.8h-0.8zM53.3 576.9h0.8v0.8h-0.8zM55.6 578.4h0.8v0.8h-0.8zM55.1 579.7h0.8v0.8h-0.8zM60.9 577.9h0.8v0.8h-0.8zM64.0 582.5h0.8v0.8h-0.8zM62.7 579.6h0.8v0.8h-0.8zM56.3 576.2h0.8v0.8h-0.8zM61.6 575.7h0.8v0.8h-0.8zM50.9 579.0h0.8v0.8h-0.8zM56.1 580.0h0.8v0.8h-0.8zM49.1 578.1h0.8v0.8h-0.8zM57.3 582.4h0.8v0.8h-0.8zM58.7 580.2h0.8v0.8h-0.8zM53.6 577.5h0.8v0.8h-0.8zM52.3 578.8h0.8v0.8h-0.8zM57.5 577.6h0.8v0.8h-0.8zM65.2 576.2h0.8v0.8h-0.8zM59.0 578.5h0.8v0.8h-0.8zM54.2 578.0h0.8v0.8h-0.8zM62.6 578.2h0.8v0.8h-0.8zM57.7 579.4h0.8v0.8h-0.8zM58.6 580.7h0.8v0.8h-0.8zM63.1 577.0h0.8v0.8h-0.8zM50.8 583.9h0.8v0.8h-0.8zM61.3 579.2h0.8v0.8h-0.8zM53.5 579.8h0.8v0.8h-0.8zM61.4 576.9h0.8v0.8h-0.8zM62.1 578.9h0.8v0.8h-0.8zM53.1 577.9h0.8v0.8h-0.8zM48.3 577.5h0.8v0.8h-0.8zM50.4 579.7h0.8v0.8h-0.8zM58.5 579.2h0.8v0.8h-0.8zM55.9 580.2h0.8v0.8h-0.8zM62.9 580.7h0.8v0.8h-0.8zM62.7 578.9h0.8v0.8h-0.8zM56.7 577.2h0.8v0.8h-0.8zM57.9 576.6h0.8v0.8h-0.8zM57.3 577.3h0.8v0.8h-0.8zM53.1 582.5h0.8v0.8h-0.8zM55.6 581.3h0.8v0.8h-0.8zM53.7 573.8h0.8v0.8h-0.8zM62.2 578.5h0.8v0.8h-0.8zM51.7 581.7h0.8v0.8h-0.8zM49.3 576.9h0.8v0.8h-0.8zM60.6 577.1h0.8v0.8h-0.8zM60.5 578.2h0.8v0.8h-0.8zM53.9 579.2h0.8v0.8h-0.8zM52.4 582.1h0.8v0.8h-0.8zM60.4 579.2h0.8v0.8h-0.8zM57.9 580.6h0.8v0.8h-0.8zM63.3 574.6h0.8v0.8h-0.8zM60.0 581.6h0.8v0.8h-0.8zM53.3 579.1h0.8v0.8h-0.8zM53.2 582.5h0.8v0.8h-0.8zM49.2 580.8h0.8v0.8h-0.8zM61.3 580.7h0.8v0.8h-0.8zM52.5 577.7h0.8v0.8h-0.8zM60.4 576.4h0.8v0.8h-0.8zM46.7 578.4h0.8v0.8h-0.8zM47.5 580.3h0.8v0.8h-0.8zM50.6 581.7h0.8v0.8h-0.8zM54.3 575.0h0.8v0.8h-0.8zM51.1 577.2h0.8v0.8h-0.8zM50.7 582.5h0.8v0.8h-0.8zM49.9 580.1h0.8v0.8h-0.8zM52.0 580.7h0.8v0.8h-0.8zM47.8 574.6h0.8v0.8h-0.8zM57.5 583.1h0.8v0.8h-0.8zM48.0 578.2h0.8v0.8h-0.8zM52.4 576.4h0.8v0.8h-0.8zM59.7 579.2h0.8v0.8h-0.8zM48.0 578.4h0.8v0.8h-0.8zM61.6 577.0h0.8v0.8h-0.8zM52.3 576.7h0.8v0.8h-0.8zM55.7 577.5h0.8v0.8h-0.8zM59.4 576.7h0.8v0.8h-0.8zM47.7 580.3h0.8v0.8h-0.8zM56.3 579.7h0.8v0.8h-0.8zM52.0 577.8h0.8v0.8h-0.8zM50.9 578.5h0.8v0.8h-0.8zM52.6 580.6h0.8v0.8h-0.8zM55.0 580.6h0.8v0.8h-0.8zM63.1 578.3h0.8v0.8h-0.8zM53.5 580.1h0.8v0.8h-0.8zM63.3 582.4h0.8v0.8h-0.8zM50.0 580.2h0.8v0.8h-0.8zM61.5 579.2h0.8v0.8h-0.8zM55.7 585.2h0.8v0.8h-0.8zM56.7 585.1h0.8v0.8h-0.8zM50.5 583.7h0.8v0.8h-0.8zM50.8 577.7h0.8v0.8h-0.8zM54.7 581.2h0.8v0.8h-0.8zM58.4 580.5h0.8v0.8h-0.8zM51.2 584.1h0.8v0.8h-0.8zM60.9 579.2h0.8v0.8h-0.8zM52.1 578.9h0.8v0.8h-0.8zM53.8 577.1h0.8v0.8h-0.8zM54.9 577.2h0.8v0.8h-0.8zM58.1 577.2h0.8v0.8h-0.8zM57.4 580.0h0.8v0.8h-0.8zM55.8 580.5h0.8v0.8h-0.8zM49.8 586.3h0.8v0.8h-0.8zM51.5 581.1h0.8v0.8h-0.8zM55.0 577.8h0.8v0.8h-0.8zM63.6 582.2h0.8v0.8h-0.8zM53.6 580.6h0.8v0.8h-0.8zM58.3 583.5h0.8v0.8h-0.8zM60.0 578.6h0.8v0.8h-0.8zM53.7 575.8h0.8v0.8h-0.8zM56.2 581.5h0.8v0.8h-0.8zM53.0 580.9h0.8v0.8h-0.8zM55.6 577.7h0.8v0.8h-0.8zM48.8 582.2h0.8v0.8h-0.8zM49.5 576.1h0.8v0.8h-0.8zM56.2 580.9h0.8v0.8h-0.8zM64.2 579.5h0.8v0.8h-0.8zM55.6 580.1h0.8v0.8h-0.8zM53.2 578.2h0.8v0.8h-0.8zM60.2 574.1h0.8v0.8h-0.8zM54.4 580.6h0.8v0.8h-0.8zM46.7 578.6h0.8v0.8h-0.8zM62.6 580.1h0.8v0.8h-0.8zM58.5 581.0h0.8v0.8h-0.8zM56.0 580.1h0.8v0.8h-0.8zM50.9 578.5h0.8v0.8h-0.8zM64.2 575.6h0.8v0.8h-0.8zM54.1 575.4h0.8v0.8h-0.8zM52.3 576.9h0.8v0.8h-0.8zM48.8 579.7h0.8v0.8h-0.8zM50.2 580.5h0.8v0.8h-0.8zM54.3 580.1h0.8v0.8h-0.8zM56.0 582.5h0.8v0.8h-0.8zM55.7 574.1h0.8v0.8h-0.8zM62.5 576.3h0.8v0.8h-0.8zM54.5 580.0h0.8v0.8h-0.8zM50.6 579.3h0.8v0.8h-0.8z"/>
<rect x="42.9" y="551.9" width="62.7" height="62.1" fill="none" stroke="#222" stroke-width="1.3"/>
<rect x="43.7" y="570.3" width="23.1" height="23.2" fill="none" stroke="#111" stroke-width="1.6"/>
<text x="46.30" y="566.80" font-size="10.4" text-anchor="start" font-weight="normal" fill="#111">B cells</text>
<line x1="63.5" y1="600.3" x2="71.60" y2="643.61" stroke="#111" stroke-width="1.3"/>
<polygon points="72.8,650 68.37,643.71 74.66,642.53" fill="#111"/>
<text x="-0.20" y="621.20" font-size="10.5" text-anchor="start" font-weight="normal" fill="#111">CD19</text>
<text x="30.90" y="639.80" font-size="10.6" text-anchor="start" font-weight="normal" fill="#111">CD3</text>
<polyline points="30.8,606.3 30.8,626.7 49,626.7" stroke="#111" stroke-width="1.3" fill="none"/>
<polygon points="30.8,603.3 28.400000000000002,607.0 33.2,607.0" fill="#111"/>
<polygon points="52,626.7 48.3,624.3000000000001 48.3,629.1" fill="#111"/>
<rect x="43.6" y="681.5" width="15.5" height="19" fill="#a8a8a8"/>
<rect x="43.6" y="681.5" width="15.5" height="4" fill="#c8c8c8"/>
<path fill="#333" opacity="0.4" d="M50.0 685.8h0.9v0.9h-0.9zM53.1 685.5h0.9v0.9h-0.9zM54.1 692.7h0.9v0.9h-0.9zM51.8 685.5h0.9v0.9h-0.9zM49.8 695.8h0.9v0.9h-0.9zM54.6 692.7h0.9v0.9h-0.9zM45.0 690.8h0.9v0.9h-0.9zM49.6 695.6h0.9v0.9h-0.9zM44.5 693.1h0.9v0.9h-0.9zM56.4 695.4h0.9v0.9h-0.9zM48.5 690.0h0.9v0.9h-0.9zM45.4 694.5h0.9v0.9h-0.9zM53.4 698.4h0.9v0.9h-0.9zM57.8 691.6h0.9v0.9h-0.9zM45.7 697.3h0.9v0.9h-0.9zM50.1 690.4h0.9v0.9h-0.9zM49.0 695.1h0.9v0.9h-0.9zM50.7 692.0h0.9v0.9h-0.9zM52.4 691.4h0.9v0.9h-0.9zM52.8 689.6h0.9v0.9h-0.9zM48.0 694.5h0.9v0.9h-0.9zM46.9 693.7h0.9v0.9h-0.9zM52.6 690.7h0.9v0.9h-0.9zM49.3 688.4h0.9v0.9h-0.9zM54.1 694.2h0.9v0.9h-0.9zM52.9 690.2h0.9v0.9h-0.9zM53.7 691.3h0.9v0.9h-0.9zM52.6 692.1h0.9v0.9h-0.9zM47.3 686.8h0.9v0.9h-0.9zM49.9 686.3h0.9v0.9h-0.9zM57.8 686.4h0.9v0.9h-0.9zM50.4 689.4h0.9v0.9h-0.9zM55.2 684.7h0.9v0.9h-0.9zM52.7 694.3h0.9v0.9h-0.9zM54.1 695.5h0.9v0.9h-0.9zM51.8 682.8h0.9v0.9h-0.9zM49.2 687.6h0.9v0.9h-0.9zM53.9 691.7h0.9v0.9h-0.9zM51.8 699.4h0.9v0.9h-0.9zM55.6 684.5h0.9v0.9h-0.9zM47.8 700.1h0.9v0.9h-0.9zM48.2 699.9h0.9v0.9h-0.9zM47.9 692.3h0.9v0.9h-0.9zM56.7 683.9h0.9v0.9h-0.9zM51.4 690.4h0.9v0.9h-0.9zM53.7 685.2h0.9v0.9h-0.9zM56.3 690.4h0.9v0.9h-0.9zM51.9 699.7h0.9v0.9h-0.9zM49.3 698.6h0.9v0.9h-0.9zM52.0 687.8h0.9v0.9h-0.9zM49.3 685.2h0.9v0.9h-0.9zM57.5 694.0h0.9v0.9h-0.9zM56.3 686.6h0.9v0.9h-0.9zM55.7 686.1h0.9v0.9h-0.9zM52.5 692.9h0.9v0.9h-0.9zM47.7 694.8h0.9v0.9h-0.9zM51.2 688.0h0.9v0.9h-0.9zM46.9 685.5h0.9v0.9h-0.9zM49.0 697.0h0.9v0.9h-0.9zM46.3 686.3h0.9v0.9h-0.9zM52.7 693.9h0.9v0.9h-0.9zM50.6 685.2h0.9v0.9h-0.9zM44.3 691.6h0.9v0.9h-0.9zM47.6 694.6h0.9v0.9h-0.9zM45.4 691.5h0.9v0.9h-0.9zM49.3 691.3h0.9v0.9h-0.9zM48.2 692.3h0.9v0.9h-0.9zM48.1 687.0h0.9v0.9h-0.9zM55.4 688.0h0.9v0.9h-0.9zM46.5 696.5h0.9v0.9h-0.9zM47.8 696.3h0.9v0.9h-0.9zM56.1 699.7h0.9v0.9h-0.9zM45.2 692.3h0.9v0.9h-0.9zM51.0 685.9h0.9v0.9h-0.9zM53.3 697.0h0.9v0.9h-0.9zM44.9 685.6h0.9v0.9h-0.9zM47.3 690.7h0.9v0.9h-0.9zM56.4 699.0h0.9v0.9h-0.9zM55.2 682.8h0.9v0.9h-0.9zM47.5 690.6h0.9v0.9h-0.9zM50.1 699.8h0.9v0.9h-0.9zM50.0 692.7h0.9v0.9h-0.9zM53.8 695.6h0.9v0.9h-0.9zM53.8 682.9h0.9v0.9h-0.9zM53.8 694.9h0.9v0.9h-0.9zM54.3 692.7h0.9v0.9h-0.9zM53.3 685.4h0.9v0.9h-0.9zM57.2 685.9h0.9v0.9h-0.9zM50.7 691.3h0.9v0.9h-0.9zM55.3 691.2h0.9v0.9h-0.9zM44.5 694.6h0.9v0.9h-0.9zM44.3 690.3h0.9v0.9h-0.9zM48.5 692.6h0.9v0.9h-0.9zM47.4 692.9h0.9v0.9h-0.9zM51.1 689.4h0.9v0.9h-0.9zM48.6 690.2h0.9v0.9h-0.9zM47.8 690.1h0.9v0.9h-0.9zM53.3 695.1h0.9v0.9h-0.9zM52.2 694.6h0.9v0.9h-0.9zM52.1 693.1h0.9v0.9h-0.9zM54.1 693.3h0.9v0.9h-0.9zM56.4 694.8h0.9v0.9h-0.9zM49.4 696.5h0.9v0.9h-0.9zM52.0 690.4h0.9v0.9h-0.9zM48.9 690.5h0.9v0.9h-0.9zM49.4 690.4h0.9v0.9h-0.9zM50.4 699.5h0.9v0.9h-0.9zM48.4 692.1h0.9v0.9h-0.9zM46.9 685.1h0.9v0.9h-0.9zM46.3 690.0h0.9v0.9h-0.9zM51.8 691.0h0.9v0.9h-0.9zM44.4 690.8h0.9v0.9h-0.9zM51.4 698.9h0.9v0.9h-0.9zM46.6 689.7h0.9v0.9h-0.9zM48.1 693.9h0.9v0.9h-0.9zM51.6 693.9h0.9v0.9h-0.9zM53.6 691.3h0.9v0.9h-0.9zM51.8 685.0h0.9v0.9h-0.9zM52.3 689.2h0.9v0.9h-0.9zM51.8 699.1h0.9v0.9h-0.9zM47.4 690.4h0.9v0.9h-0.9zM50.5 689.6h0.9v0.9h-0.9zM51.6 693.5h0.9v0.9h-0.9zM44.6 689.4h0.9v0.9h-0.9zM44.2 694.7h0.9v0.9h-0.9zM52.4 696.8h0.9v0.9h-0.9zM46.2 689.9h0.9v0.9h-0.9zM56.9 695.6h0.9v0.9h-0.9zM54.5 694.3h0.9v0.9h-0.9zM53.0 698.5h0.9v0.9h-0.9zM49.5 697.9h0.9v0.9h-0.9zM55.8 695.5h0.9v0.9h-0.9zM52.5 685.6h0.9v0.9h-0.9zM57.0 687.8h0.9v0.9h-0.9zM47.4 688.0h0.9v0.9h-0.9zM54.1 687.4h0.9v0.9h-0.9zM53.5 696.3h0.9v0.9h-0.9zM51.6 691.0h0.9v0.9h-0.9zM48.5 686.9h0.9v0.9h-0.9zM47.7 687.9h0.9v0.9h-0.9zM49.7 692.1h0.9v0.9h-0.9zM46.5 690.5h0.9v0.9h-0.9zM45.4 694.3h0.9v0.9h-0.9zM55.7 682.5h0.9v0.9h-0.9zM49.5 698.3h0.9v0.9h-0.9zM52.7 687.6h0.9v0.9h-0.9zM56.5 689.5h0.9v0.9h-0.9zM52.9 690.7h0.9v0.9h-0.9zM49.8 693.9h0.9v0.9h-0.9zM44.9 693.6h0.9v0.9h-0.9zM56.3 691.9h0.9v0.9h-0.9zM50.0 696.1h0.9v0.9h-0.9zM55.2 685.3h0.9v0.9h-0.9zM57.2 698.5h0.9v0.9h-0.9zM55.3 688.1h0.9v0.9h-0.9zM43.9 696.8h0.9v0.9h-0.9zM52.4 697.0h0.9v0.9h-0.9zM57.1 698.8h0.9v0.9h-0.9zM49.5 693.0h0.9v0.9h-0.9zM53.5 697.3h0.9v0.9h-0.9zM50.0 690.0h0.9v0.9h-0.9zM45.6 699.0h0.9v0.9h-0.9zM52.9 689.7h0.9v0.9h-0.9zM44.0 690.0h0.9v0.9h-0.9zM44.0 690.4h0.9v0.9h-0.9zM48.0 696.0h0.9v0.9h-0.9zM45.4 682.4h0.9v0.9h-0.9zM47.7 685.0h0.9v0.9h-0.9zM55.1 691.8h0.9v0.9h-0.9zM50.8 692.8h0.9v0.9h-0.9zM52.6 698.7h0.9v0.9h-0.9zM57.0 692.3h0.9v0.9h-0.9zM43.9 690.8h0.9v0.9h-0.9zM54.6 687.6h0.9v0.9h-0.9zM57.9 687.4h0.9v0.9h-0.9zM44.8 697.8h0.9v0.9h-0.9zM50.4 694.9h0.9v0.9h-0.9zM49.3 693.2h0.9v0.9h-0.9zM54.6 692.3h0.9v0.9h-0.9zM53.6 697.8h0.9v0.9h-0.9zM48.1 694.0h0.9v0.9h-0.9zM52.1 689.7h0.9v0.9h-0.9zM46.7 691.8h0.9v0.9h-0.9zM49.3 690.6h0.9v0.9h-0.9zM54.6 693.4h0.9v0.9h-0.9zM49.0 689.1h0.9v0.9h-0.9zM53.7 690.8h0.9v0.9h-0.9zM49.4 691.7h0.9v0.9h-0.9zM54.4 694.1h0.9v0.9h-0.9zM50.5 694.8h0.9v0.9h-0.9zM48.6 690.0h0.9v0.9h-0.9zM52.9 682.8h0.9v0.9h-0.9zM52.9 681.9h0.9v0.9h-0.9zM44.6 699.6h0.9v0.9h-0.9zM52.3 686.6h0.9v0.9h-0.9zM49.0 685.3h0.9v0.9h-0.9zM50.5 692.5h0.9v0.9h-0.9zM51.7 697.6h0.9v0.9h-0.9zM44.6 685.7h0.9v0.9h-0.9zM49.0 690.5h0.9v0.9h-0.9zM51.1 686.7h0.9v0.9h-0.9zM49.3 687.9h0.9v0.9h-0.9zM49.7 696.4h0.9v0.9h-0.9zM44.8 697.1h0.9v0.9h-0.9zM50.7 694.3h0.9v0.9h-0.9zM49.0 687.6h0.9v0.9h-0.9zM54.4 684.9h0.9v0.9h-0.9zM48.9 688.1h0.9v0.9h-0.9zM49.4 692.2h0.9v0.9h-0.9zM54.1 698.4h0.9v0.9h-0.9zM56.7 696.9h0.9v0.9h-0.9zM47.4 696.1h0.9v0.9h-0.9zM51.0 683.2h0.9v0.9h-0.9zM57.8 696.3h0.9v0.9h-0.9zM55.0 692.6h0.9v0.9h-0.9zM51.9 698.3h0.9v0.9h-0.9zM51.3 696.5h0.9v0.9h-0.9zM50.8 700.1h0.9v0.9h-0.9zM54.6 683.4h0.9v0.9h-0.9zM48.2 689.4h0.9v0.9h-0.9zM53.8 696.4h0.9v0.9h-0.9zM57.2 683.6h0.9v0.9h-0.9zM49.2 693.4h0.9v0.9h-0.9zM51.3 696.3h0.9v0.9h-0.9zM53.2 695.1h0.9v0.9h-0.9zM50.3 694.7h0.9v0.9h-0.9zM51.6 692.1h0.9v0.9h-0.9zM50.0 685.6h0.9v0.9h-0.9zM51.7 690.3h0.9v0.9h-0.9zM58.0 691.1h0.9v0.9h-0.9zM48.5 689.9h0.9v0.9h-0.9zM50.2 689.3h0.9v0.9h-0.9zM58.0 694.7h0.9v0.9h-0.9zM49.2 698.2h0.9v0.9h-0.9zM55.8 687.3h0.9v0.9h-0.9zM57.3 699.3h0.9v0.9h-0.9zM49.7 685.4h0.9v0.9h-0.9zM57.0 691.0h0.9v0.9h-0.9zM49.9 691.4h0.9v0.9h-0.9zM49.5 697.8h0.9v0.9h-0.9zM45.1 696.1h0.9v0.9h-0.9zM57.3 699.1h0.9v0.9h-0.9zM55.0 694.5h0.9v0.9h-0.9zM50.0 692.3h0.9v0.9h-0.9zM50.4 687.2h0.9v0.9h-0.9zM52.5 691.2h0.9v0.9h-0.9zM45.0 696.7h0.9v0.9h-0.9zM49.7 689.2h0.9v0.9h-0.9zM54.3 685.6h0.9v0.9h-0.9zM47.7 684.8h0.9v0.9h-0.9zM49.7 697.6h0.9v0.9h-0.9zM47.3 690.3h0.9v0.9h-0.9zM56.4 688.8h0.9v0.9h-0.9zM50.5 687.5h0.9v0.9h-0.9zM57.3 692.6h0.9v0.9h-0.9zM48.4 687.6h0.9v0.9h-0.9zM47.6 692.5h0.9v0.9h-0.9zM47.2 697.6h0.9v0.9h-0.9zM50.9 689.5h0.9v0.9h-0.9zM56.9 693.8h0.9v0.9h-0.9zM55.5 684.2h0.9v0.9h-0.9zM47.0 698.8h0.9v0.9h-0.9zM50.6 693.4h0.9v0.9h-0.9zM54.5 695.1h0.9v0.9h-0.9zM53.5 690.2h0.9v0.9h-0.9zM48.4 684.8h0.9v0.9h-0.9zM49.2 698.1h0.9v0.9h-0.9zM47.7 696.5h0.9v0.9h-0.9zM52.7 699.7h0.9v0.9h-0.9zM53.9 697.3h0.9v0.9h-0.9zM53.8 695.4h0.9v0.9h-0.9zM46.2 692.1h0.9v0.9h-0.9zM56.3 695.3h0.9v0.9h-0.9zM50.5 695.0h0.9v0.9h-0.9zM49.3 699.2h0.9v0.9h-0.9zM49.4 688.7h0.9v0.9h-0.9zM47.0 688.1h0.9v0.9h-0.9zM54.7 691.1h0.9v0.9h-0.9zM54.1 688.3h0.9v0.9h-0.9zM49.8 693.2h0.9v0.9h-0.9zM51.2 697.4h0.9v0.9h-0.9zM55.6 691.4h0.9v0.9h-0.9zM52.5 688.2h0.9v0.9h-0.9zM47.8 691.1h0.9v0.9h-0.9zM56.6 689.1h0.9v0.9h-0.9zM44.7 692.0h0.9v0.9h-0.9zM49.5 686.4h0.9v0.9h-0.9zM46.9 690.7h0.9v0.9h-0.9zM53.2 696.5h0.9v0.9h-0.9zM54.5 693.4h0.9v0.9h-0.9zM45.3 689.4h0.9v0.9h-0.9zM56.2 691.3h0.9v0.9h-0.9zM45.2 686.4h0.9v0.9h-0.9zM53.5 683.9h0.9v0.9h-0.9zM53.1 688.1h0.9v0.9h-0.9zM53.1 685.2h0.9v0.9h-0.9zM55.7 691.7h0.9v0.9h-0.9zM51.5 683.7h0.9v0.9h-0.9zM52.9 695.8h0.9v0.9h-0.9zM53.6 695.7h0.9v0.9h-0.9zM51.3 695.5h0.9v0.9h-0.9zM55.6 686.8h0.9v0.9h-0.9zM54.6 697.2h0.9v0.9h-0.9zM52.2 699.4h0.9v0.9h-0.9zM53.8 690.6h0.9v0.9h-0.9zM45.9 699.4h0.9v0.9h-0.9zM51.5 687.6h0.9v0.9h-0.9zM48.7 693.4h0.9v0.9h-0.9zM50.5 695.5h0.9v0.9h-0.9zM48.9 689.0h0.9v0.9h-0.9zM52.7 699.4h0.9v0.9h-0.9zM49.1 686.9h0.9v0.9h-0.9zM44.1 695.9h0.9v0.9h-0.9zM54.2 696.7h0.9v0.9h-0.9zM48.0 690.6h0.9v0.9h-0.9zM51.9 698.7h0.9v0.9h-0.9zM49.1 682.8h0.9v0.9h-0.9zM47.2 691.2h0.9v0.9h-0.9zM57.6 693.6h0.9v0.9h-0.9zM51.5 689.7h0.9v0.9h-0.9zM44.7 695.9h0.9v0.9h-0.9zM53.2 696.3h0.9v0.9h-0.9zM48.4 690.6h0.9v0.9h-0.9zM53.2 696.5h0.9v0.9h-0.9zM56.5 698.0h0.9v0.9h-0.9zM49.8 693.8h0.9v0.9h-0.9zM49.9 698.4h0.9v0.9h-0.9zM53.9 692.0h0.9v0.9h-0.9zM55.2 698.0h0.9v0.9h-0.9zM49.1 697.8h0.9v0.9h-0.9zM49.6 693.9h0.9v0.9h-0.9zM49.2 693.9h0.9v0.9h-0.9zM51.0 697.3h0.9v0.9h-0.9zM48.2 697.2h0.9v0.9h-0.9zM46.8 684.6h0.9v0.9h-0.9zM54.0 693.9h0.9v0.9h-0.9zM55.9 682.0h0.9v0.9h-0.9zM51.8 689.4h0.9v0.9h-0.9zM50.2 690.8h0.9v0.9h-0.9zM49.2 689.2h0.9v0.9h-0.9zM56.7 683.2h0.9v0.9h-0.9zM46.4 686.4h0.9v0.9h-0.9zM54.9 698.1h0.9v0.9h-0.9zM53.1 694.3h0.9v0.9h-0.9zM48.1 687.5h0.9v0.9h-0.9zM47.5 693.2h0.9v0.9h-0.9zM54.6 689.8h0.9v0.9h-0.9zM54.2 691.7h0.9v0.9h-0.9zM52.3 695.1h0.9v0.9h-0.9zM56.8 695.1h0.9v0.9h-0.9zM55.5 691.7h0.9v0.9h-0.9zM54.9 692.9h0.9v0.9h-0.9zM48.0 693.6h0.9v0.9h-0.9z"/>
<rect x="58.6" y="681.8" width="21.7" height="17.5" fill="#a4a4a4" stroke="#111" stroke-width="1.3"/>
<rect x="44" y="700.5" width="17.6" height="16.2" fill="#a0a0a0" stroke="#111" stroke-width="2"/>
<rect x="62.2" y="701.4" width="17.3" height="14.4" fill="#a4a4a4" stroke="#111" stroke-width="1.4"/>
<path fill="#444" opacity="0.35" d="M64.3 689.6h0.8v0.8h-0.8zM76.9 689.9h0.8v0.8h-0.8zM78.1 690.6h0.8v0.8h-0.8zM71.2 687.5h0.8v0.8h-0.8zM67.8 689.3h0.8v0.8h-0.8zM72.1 690.7h0.8v0.8h-0.8zM63.9 691.1h0.8v0.8h-0.8zM64.1 687.3h0.8v0.8h-0.8zM60.8 693.1h0.8v0.8h-0.8zM62.4 690.5h0.8v0.8h-0.8zM69.5 688.1h0.8v0.8h-0.8zM77.8 693.0h0.8v0.8h-0.8zM66.1 684.7h0.8v0.8h-0.8zM70.0 688.5h0.8v0.8h-0.8zM74.1 687.0h0.8v0.8h-0.8zM75.0 689.3h0.8v0.8h-0.8zM70.1 690.0h0.8v0.8h-0.8zM72.2 695.4h0.8v0.8h-0.8zM66.6 687.6h0.8v0.8h-0.8zM78.4 694.6h0.8v0.8h-0.8zM78.4 694.6h0.8v0.8h-0.8zM69.8 697.2h0.8v0.8h-0.8zM65.9 689.4h0.8v0.8h-0.8zM67.2 693.6h0.8v0.8h-0.8zM65.1 690.3h0.8v0.8h-0.8zM65.1 690.1h0.8v0.8h-0.8zM74.6 695.2h0.8v0.8h-0.8zM65.8 692.8h0.8v0.8h-0.8zM66.9 682.6h0.8v0.8h-0.8zM63.4 695.7h0.8v0.8h-0.8zM68.6 692.0h0.8v0.8h-0.8zM75.3 691.1h0.8v0.8h-0.8zM66.1 688.7h0.8v0.8h-0.8zM64.6 693.1h0.8v0.8h-0.8zM66.9 693.0h0.8v0.8h-0.8zM61.9 689.4h0.8v0.8h-0.8zM68.7 695.5h0.8v0.8h-0.8zM70.5 696.9h0.8v0.8h-0.8zM63.5 693.9h0.8v0.8h-0.8zM64.0 693.6h0.8v0.8h-0.8zM65.0 692.6h0.8v0.8h-0.8zM71.4 688.3h0.8v0.8h-0.8zM70.3 686.9h0.8v0.8h-0.8zM73.9 694.5h0.8v0.8h-0.8zM68.4 693.6h0.8v0.8h-0.8zM60.1 692.3h0.8v0.8h-0.8zM67.0 688.0h0.8v0.8h-0.8zM73.5 694.8h0.8v0.8h-0.8zM72.0 697.2h0.8v0.8h-0.8zM66.1 689.4h0.8v0.8h-0.8zM68.1 691.2h0.8v0.8h-0.8zM64.5 691.9h0.8v0.8h-0.8zM74.3 688.6h0.8v0.8h-0.8zM71.9 690.4h0.8v0.8h-0.8zM68.4 691.5h0.8v0.8h-0.8zM76.5 693.0h0.8v0.8h-0.8zM72.5 691.6h0.8v0.8h-0.8zM69.0 691.4h0.8v0.8h-0.8zM66.7 685.1h0.8v0.8h-0.8zM76.8 684.0h0.8v0.8h-0.8zM71.8 686.5h0.8v0.8h-0.8zM68.2 689.0h0.8v0.8h-0.8zM66.1 688.1h0.8v0.8h-0.8zM66.8 694.0h0.8v0.8h-0.8zM77.0 694.6h0.8v0.8h-0.8zM69.1 690.5h0.8v0.8h-0.8zM67.9 690.9h0.8v0.8h-0.8zM66.1 690.3h0.8v0.8h-0.8zM73.2 690.1h0.8v0.8h-0.8zM65.1 690.5h0.8v0.8h-0.8zM69.5 690.7h0.8v0.8h-0.8zM67.8 693.7h0.8v0.8h-0.8zM68.9 687.1h0.8v0.8h-0.8zM71.9 688.3h0.8v0.8h-0.8zM72.9 694.1h0.8v0.8h-0.8zM71.5 692.2h0.8v0.8h-0.8zM62.5 690.3h0.8v0.8h-0.8zM69.7 693.5h0.8v0.8h-0.8zM63.6 690.4h0.8v0.8h-0.8zM61.6 691.7h0.8v0.8h-0.8zM69.5 691.5h0.8v0.8h-0.8zM77.2 693.8h0.8v0.8h-0.8zM68.2 688.8h0.8v0.8h-0.8zM66.9 694.0h0.8v0.8h-0.8zM73.6 689.1h0.8v0.8h-0.8zM68.5 689.3h0.8v0.8h-0.8zM72.5 691.7h0.8v0.8h-0.8zM65.6 687.6h0.8v0.8h-0.8zM75.5 685.6h0.8v0.8h-0.8zM73.3 693.2h0.8v0.8h-0.8zM73.2 695.4h0.8v0.8h-0.8zM66.8 690.9h0.8v0.8h-0.8zM73.9 693.1h0.8v0.8h-0.8zM65.4 688.1h0.8v0.8h-0.8zM62.0 692.0h0.8v0.8h-0.8zM66.5 685.1h0.8v0.8h-0.8zM66.4 692.2h0.8v0.8h-0.8zM70.0 690.2h0.8v0.8h-0.8zM69.9 693.5h0.8v0.8h-0.8zM63.2 687.9h0.8v0.8h-0.8zM73.9 693.8h0.8v0.8h-0.8zM62.2 688.2h0.8v0.8h-0.8zM76.2 693.9h0.8v0.8h-0.8zM68.4 694.9h0.8v0.8h-0.8zM75.8 696.4h0.8v0.8h-0.8zM62.3 686.1h0.8v0.8h-0.8zM66.6 690.8h0.8v0.8h-0.8zM67.4 691.9h0.8v0.8h-0.8zM76.4 695.2h0.8v0.8h-0.8zM74.0 691.0h0.8v0.8h-0.8zM77.2 692.8h0.8v0.8h-0.8zM70.3 690.9h0.8v0.8h-0.8zM69.0 694.4h0.8v0.8h-0.8zM63.4 694.9h0.8v0.8h-0.8zM70.3 687.4h0.8v0.8h-0.8zM73.8 691.1h0.8v0.8h-0.8zM64.2 692.5h0.8v0.8h-0.8zM64.0 694.7h0.8v0.8h-0.8zM70.2 690.7h0.8v0.8h-0.8zM73.3 691.1h0.8v0.8h-0.8zM74.2 696.4h0.8v0.8h-0.8zM73.3 687.3h0.8v0.8h-0.8zM72.4 690.0h0.8v0.8h-0.8zM70.6 694.7h0.8v0.8h-0.8zM65.8 691.8h0.8v0.8h-0.8zM76.3 687.8h0.8v0.8h-0.8zM68.1 693.8h0.8v0.8h-0.8zM68.0 694.9h0.8v0.8h-0.8zM64.1 685.3h0.8v0.8h-0.8zM71.0 690.5h0.8v0.8h-0.8zM70.6 694.7h0.8v0.8h-0.8zM74.3 689.7h0.8v0.8h-0.8zM67.2 683.6h0.8v0.8h-0.8zM64.3 691.9h0.8v0.8h-0.8zM70.2 685.4h0.8v0.8h-0.8zM73.0 690.9h0.8v0.8h-0.8zM74.5 689.7h0.8v0.8h-0.8zM73.9 686.8h0.8v0.8h-0.8zM59.9 687.9h0.8v0.8h-0.8zM72.5 692.6h0.8v0.8h-0.8zM59.8 691.6h0.8v0.8h-0.8zM72.4 697.4h0.8v0.8h-0.8zM72.9 693.0h0.8v0.8h-0.8zM61.3 692.4h0.8v0.8h-0.8zM67.3 687.3h0.8v0.8h-0.8zM64.1 690.5h0.8v0.8h-0.8zM72.0 688.6h0.8v0.8h-0.8zM70.6 693.7h0.8v0.8h-0.8zM67.5 688.2h0.8v0.8h-0.8zM59.7 695.1h0.8v0.8h-0.8zM72.4 690.3h0.8v0.8h-0.8zM70.6 690.5h0.8v0.8h-0.8zM73.4 691.0h0.8v0.8h-0.8zM70.2 690.7h0.8v0.8h-0.8zM64.7 682.6h0.8v0.8h-0.8zM71.8 686.3h0.8v0.8h-0.8zM71.1 693.4h0.8v0.8h-0.8zM78.4 688.2h0.8v0.8h-0.8zM69.8 694.6h0.8v0.8h-0.8zM65.8 688.8h0.8v0.8h-0.8zM74.4 694.6h0.8v0.8h-0.8zM64.3 693.5h0.8v0.8h-0.8zM74.7 686.2h0.8v0.8h-0.8zM69.1 690.3h0.8v0.8h-0.8zM72.3 684.4h0.8v0.8h-0.8zM72.6 691.0h0.8v0.8h-0.8zM67.8 683.0h0.8v0.8h-0.8zM72.3 692.6h0.8v0.8h-0.8zM72.8 684.6h0.8v0.8h-0.8zM70.1 696.1h0.8v0.8h-0.8zM61.4 693.5h0.8v0.8h-0.8zM65.5 693.1h0.8v0.8h-0.8zM69.6 684.8h0.8v0.8h-0.8zM63.9 695.8h0.8v0.8h-0.8zM68.5 695.7h0.8v0.8h-0.8zM70.8 694.4h0.8v0.8h-0.8zM67.1 691.8h0.8v0.8h-0.8zM67.2 694.4h0.8v0.8h-0.8zM66.2 695.2h0.8v0.8h-0.8zM76.9 686.4h0.8v0.8h-0.8zM68.2 693.1h0.8v0.8h-0.8zM77.9 695.4h0.8v0.8h-0.8zM69.5 684.5h0.8v0.8h-0.8zM73.2 688.8h0.8v0.8h-0.8zM70.0 692.5h0.8v0.8h-0.8zM62.1 695.0h0.8v0.8h-0.8zM73.6 693.2h0.8v0.8h-0.8zM72.0 692.4h0.8v0.8h-0.8zM62.2 689.1h0.8v0.8h-0.8zM73.1 689.8h0.8v0.8h-0.8zM69.2 692.4h0.8v0.8h-0.8zM69.5 692.0h0.8v0.8h-0.8zM71.5 691.0h0.8v0.8h-0.8zM63.6 690.0h0.8v0.8h-0.8zM73.8 688.4h0.8v0.8h-0.8zM71.4 692.2h0.8v0.8h-0.8zM69.0 688.1h0.8v0.8h-0.8zM66.0 694.5h0.8v0.8h-0.8zM65.3 692.3h0.8v0.8h-0.8zM69.7 691.8h0.8v0.8h-0.8zM73.8 690.5h0.8v0.8h-0.8zM67.7 688.5h0.8v0.8h-0.8zM69.3 691.2h0.8v0.8h-0.8zM64.5 697.2h0.8v0.8h-0.8zM65.4 690.5h0.8v0.8h-0.8zM62.8 691.6h0.8v0.8h-0.8zM70.8 695.1h0.8v0.8h-0.8zM73.9 689.1h0.8v0.8h-0.8zM77.0 690.6h0.8v0.8h-0.8zM76.7 697.5h0.8v0.8h-0.8zM67.1 687.0h0.8v0.8h-0.8zM71.7 696.4h0.8v0.8h-0.8zM71.0 695.1h0.8v0.8h-0.8zM72.0 694.4h0.8v0.8h-0.8zM75.6 689.9h0.8v0.8h-0.8zM62.1 690.6h0.8v0.8h-0.8zM65.2 686.5h0.8v0.8h-0.8zM68.2 693.7h0.8v0.8h-0.8zM60.0 685.3h0.8v0.8h-0.8zM73.0 687.7h0.8v0.8h-0.8zM67.1 696.1h0.8v0.8h-0.8zM74.6 692.4h0.8v0.8h-0.8zM71.8 692.4h0.8v0.8h-0.8zM62.2 691.7h0.8v0.8h-0.8zM71.3 690.6h0.8v0.8h-0.8z"/>
<path fill="#333" opacity="0.4" d="M55.3 711.0h0.8v0.8h-0.8zM52.7 707.8h0.8v0.8h-0.8zM48.5 711.7h0.8v0.8h-0.8zM50.6 709.4h0.8v0.8h-0.8zM57.8 710.7h0.8v0.8h-0.8zM48.2 708.3h0.8v0.8h-0.8zM50.1 703.9h0.8v0.8h-0.8zM49.8 710.2h0.8v0.8h-0.8zM53.7 707.9h0.8v0.8h-0.8zM53.1 705.2h0.8v0.8h-0.8zM49.9 708.0h0.8v0.8h-0.8zM55.3 707.6h0.8v0.8h-0.8zM52.0 709.4h0.8v0.8h-0.8zM57.6 704.9h0.8v0.8h-0.8zM54.4 709.0h0.8v0.8h-0.8zM52.3 709.2h0.8v0.8h-0.8zM45.7 708.6h0.8v0.8h-0.8zM51.7 705.0h0.8v0.8h-0.8zM55.5 708.2h0.8v0.8h-0.8zM51.4 710.6h0.8v0.8h-0.8zM49.4 706.5h0.8v0.8h-0.8zM55.4 711.0h0.8v0.8h-0.8zM59.5 707.2h0.8v0.8h-0.8zM47.5 704.3h0.8v0.8h-0.8zM48.4 708.8h0.8v0.8h-0.8zM51.7 706.6h0.8v0.8h-0.8zM49.1 706.5h0.8v0.8h-0.8zM51.3 711.9h0.8v0.8h-0.8zM54.7 712.4h0.8v0.8h-0.8zM55.4 710.7h0.8v0.8h-0.8zM56.6 709.8h0.8v0.8h-0.8zM57.8 711.7h0.8v0.8h-0.8zM58.8 709.1h0.8v0.8h-0.8zM51.6 710.0h0.8v0.8h-0.8zM51.2 706.5h0.8v0.8h-0.8zM54.0 705.3h0.8v0.8h-0.8zM52.0 712.5h0.8v0.8h-0.8zM53.0 710.8h0.8v0.8h-0.8zM54.7 709.6h0.8v0.8h-0.8zM52.9 710.2h0.8v0.8h-0.8zM49.2 710.1h0.8v0.8h-0.8zM48.8 706.4h0.8v0.8h-0.8zM50.5 704.7h0.8v0.8h-0.8zM45.7 709.6h0.8v0.8h-0.8zM54.3 710.4h0.8v0.8h-0.8zM55.1 706.4h0.8v0.8h-0.8zM55.0 705.3h0.8v0.8h-0.8zM59.3 705.8h0.8v0.8h-0.8zM51.1 710.6h0.8v0.8h-0.8zM49.2 709.1h0.8v0.8h-0.8zM55.9 708.9h0.8v0.8h-0.8zM55.8 707.1h0.8v0.8h-0.8zM54.6 702.4h0.8v0.8h-0.8zM57.7 706.6h0.8v0.8h-0.8zM49.5 708.6h0.8v0.8h-0.8zM58.4 706.5h0.8v0.8h-0.8zM52.4 707.5h0.8v0.8h-0.8zM49.3 704.8h0.8v0.8h-0.8zM54.6 710.5h0.8v0.8h-0.8zM49.9 709.1h0.8v0.8h-0.8zM54.1 709.6h0.8v0.8h-0.8zM51.9 708.6h0.8v0.8h-0.8zM53.5 705.5h0.8v0.8h-0.8zM52.0 710.7h0.8v0.8h-0.8zM50.6 712.2h0.8v0.8h-0.8zM51.7 705.4h0.8v0.8h-0.8zM51.5 704.7h0.8v0.8h-0.8zM54.6 704.0h0.8v0.8h-0.8zM52.6 707.8h0.8v0.8h-0.8zM51.5 709.7h0.8v0.8h-0.8zM53.5 706.9h0.8v0.8h-0.8zM55.3 707.2h0.8v0.8h-0.8zM55.6 712.3h0.8v0.8h-0.8zM53.8 711.1h0.8v0.8h-0.8zM47.9 710.1h0.8v0.8h-0.8zM47.4 708.0h0.8v0.8h-0.8zM49.8 706.3h0.8v0.8h-0.8zM49.3 708.6h0.8v0.8h-0.8zM54.7 705.2h0.8v0.8h-0.8zM50.4 703.3h0.8v0.8h-0.8zM50.1 702.6h0.8v0.8h-0.8zM47.3 709.8h0.8v0.8h-0.8zM55.5 706.2h0.8v0.8h-0.8zM53.7 706.3h0.8v0.8h-0.8zM56.2 713.4h0.8v0.8h-0.8zM50.3 707.2h0.8v0.8h-0.8zM57.9 712.9h0.8v0.8h-0.8zM52.5 710.3h0.8v0.8h-0.8zM47.0 707.7h0.8v0.8h-0.8zM51.5 708.1h0.8v0.8h-0.8zM53.5 704.1h0.8v0.8h-0.8zM48.9 714.5h0.8v0.8h-0.8zM46.5 708.7h0.8v0.8h-0.8zM55.0 709.9h0.8v0.8h-0.8zM52.7 703.9h0.8v0.8h-0.8zM50.9 704.1h0.8v0.8h-0.8zM59.3 709.5h0.8v0.8h-0.8zM55.0 709.1h0.8v0.8h-0.8zM51.2 711.8h0.8v0.8h-0.8zM55.6 710.3h0.8v0.8h-0.8zM54.5 710.6h0.8v0.8h-0.8zM51.5 709.7h0.8v0.8h-0.8zM52.8 707.8h0.8v0.8h-0.8zM54.7 714.5h0.8v0.8h-0.8zM45.5 712.6h0.8v0.8h-0.8zM51.0 711.9h0.8v0.8h-0.8zM49.0 708.0h0.8v0.8h-0.8zM56.0 708.3h0.8v0.8h-0.8zM53.7 705.1h0.8v0.8h-0.8zM48.5 713.2h0.8v0.8h-0.8zM53.0 708.3h0.8v0.8h-0.8zM47.7 705.6h0.8v0.8h-0.8zM48.9 708.4h0.8v0.8h-0.8zM52.1 706.8h0.8v0.8h-0.8zM50.2 708.8h0.8v0.8h-0.8zM56.5 704.5h0.8v0.8h-0.8zM47.6 711.7h0.8v0.8h-0.8zM47.6 707.3h0.8v0.8h-0.8zM52.9 713.6h0.8v0.8h-0.8zM52.2 711.5h0.8v0.8h-0.8zM53.0 706.2h0.8v0.8h-0.8zM53.2 702.7h0.8v0.8h-0.8zM55.3 712.7h0.8v0.8h-0.8zM51.8 710.8h0.8v0.8h-0.8zM48.9 712.7h0.8v0.8h-0.8zM50.3 706.2h0.8v0.8h-0.8zM49.9 703.5h0.8v0.8h-0.8zM54.8 714.2h0.8v0.8h-0.8zM47.6 707.9h0.8v0.8h-0.8zM54.1 706.9h0.8v0.8h-0.8zM47.1 709.4h0.8v0.8h-0.8zM56.0 708.8h0.8v0.8h-0.8zM48.8 707.7h0.8v0.8h-0.8zM45.8 708.3h0.8v0.8h-0.8zM56.7 711.6h0.8v0.8h-0.8zM52.2 709.7h0.8v0.8h-0.8zM50.7 708.9h0.8v0.8h-0.8zM50.4 709.0h0.8v0.8h-0.8zM50.7 709.1h0.8v0.8h-0.8zM54.9 708.4h0.8v0.8h-0.8zM48.0 709.9h0.8v0.8h-0.8zM51.7 707.1h0.8v0.8h-0.8zM54.4 706.1h0.8v0.8h-0.8zM55.7 710.1h0.8v0.8h-0.8zM50.1 706.5h0.8v0.8h-0.8zM52.1 705.9h0.8v0.8h-0.8zM55.8 702.1h0.8v0.8h-0.8zM53.0 707.5h0.8v0.8h-0.8zM48.7 710.3h0.8v0.8h-0.8zM50.8 709.8h0.8v0.8h-0.8zM51.0 707.7h0.8v0.8h-0.8zM54.3 711.2h0.8v0.8h-0.8zM55.9 708.4h0.8v0.8h-0.8zM57.6 707.5h0.8v0.8h-0.8zM47.8 703.2h0.8v0.8h-0.8zM47.5 706.1h0.8v0.8h-0.8zM46.4 709.4h0.8v0.8h-0.8zM52.6 708.4h0.8v0.8h-0.8zM53.3 708.2h0.8v0.8h-0.8zM51.6 707.6h0.8v0.8h-0.8zM52.6 705.3h0.8v0.8h-0.8zM56.9 712.9h0.8v0.8h-0.8zM49.2 711.1h0.8v0.8h-0.8zM46.9 710.2h0.8v0.8h-0.8zM49.9 711.4h0.8v0.8h-0.8zM52.9 711.2h0.8v0.8h-0.8zM54.6 710.0h0.8v0.8h-0.8zM51.6 713.0h0.8v0.8h-0.8zM53.7 709.9h0.8v0.8h-0.8zM57.4 707.8h0.8v0.8h-0.8zM58.5 711.6h0.8v0.8h-0.8zM52.8 704.4h0.8v0.8h-0.8zM56.7 707.6h0.8v0.8h-0.8zM52.8 708.9h0.8v0.8h-0.8zM55.8 710.3h0.8v0.8h-0.8zM46.2 706.6h0.8v0.8h-0.8zM53.7 709.0h0.8v0.8h-0.8zM55.2 710.1h0.8v0.8h-0.8zM58.1 706.5h0.8v0.8h-0.8zM57.0 709.6h0.8v0.8h-0.8zM53.5 710.4h0.8v0.8h-0.8zM51.4 710.5h0.8v0.8h-0.8zM51.8 710.5h0.8v0.8h-0.8zM49.9 711.8h0.8v0.8h-0.8zM47.3 706.6h0.8v0.8h-0.8zM52.3 709.2h0.8v0.8h-0.8zM49.8 707.4h0.8v0.8h-0.8zM53.4 711.5h0.8v0.8h-0.8zM57.0 707.2h0.8v0.8h-0.8zM52.3 707.6h0.8v0.8h-0.8zM47.3 707.2h0.8v0.8h-0.8zM56.4 704.7h0.8v0.8h-0.8z"/>
<path fill="#444" opacity="0.35" d="M77.3 709.1h0.8v0.8h-0.8zM76.8 706.6h0.8v0.8h-0.8zM75.5 711.0h0.8v0.8h-0.8zM73.6 711.0h0.8v0.8h-0.8zM72.8 710.7h0.8v0.8h-0.8zM75.2 709.9h0.8v0.8h-0.8zM73.0 709.9h0.8v0.8h-0.8zM71.1 705.6h0.8v0.8h-0.8zM63.5 705.2h0.8v0.8h-0.8zM65.7 703.6h0.8v0.8h-0.8zM73.2 707.4h0.8v0.8h-0.8zM73.6 707.0h0.8v0.8h-0.8zM72.0 707.8h0.8v0.8h-0.8zM76.8 712.7h0.8v0.8h-0.8zM73.8 711.5h0.8v0.8h-0.8zM65.9 706.5h0.8v0.8h-0.8zM71.2 707.8h0.8v0.8h-0.8zM67.6 708.2h0.8v0.8h-0.8zM71.7 705.0h0.8v0.8h-0.8zM69.8 708.5h0.8v0.8h-0.8zM75.5 709.2h0.8v0.8h-0.8zM75.9 709.6h0.8v0.8h-0.8zM75.1 713.0h0.8v0.8h-0.8zM76.6 709.2h0.8v0.8h-0.8zM65.7 709.2h0.8v0.8h-0.8zM72.4 706.2h0.8v0.8h-0.8zM73.8 708.0h0.8v0.8h-0.8zM73.7 709.2h0.8v0.8h-0.8zM66.9 712.0h0.8v0.8h-0.8zM71.6 702.8h0.8v0.8h-0.8zM71.8 708.4h0.8v0.8h-0.8zM67.4 702.2h0.8v0.8h-0.8zM72.3 711.7h0.8v0.8h-0.8zM63.1 709.7h0.8v0.8h-0.8zM70.4 713.2h0.8v0.8h-0.8zM70.4 705.3h0.8v0.8h-0.8zM70.3 710.0h0.8v0.8h-0.8zM67.7 705.9h0.8v0.8h-0.8zM71.6 711.4h0.8v0.8h-0.8zM69.6 710.1h0.8v0.8h-0.8zM68.6 707.4h0.8v0.8h-0.8zM71.3 711.7h0.8v0.8h-0.8zM76.8 708.1h0.8v0.8h-0.8zM73.8 707.3h0.8v0.8h-0.8zM72.2 703.8h0.8v0.8h-0.8zM67.7 704.1h0.8v0.8h-0.8zM74.6 707.0h0.8v0.8h-0.8zM70.9 708.8h0.8v0.8h-0.8zM69.7 704.6h0.8v0.8h-0.8zM70.4 710.8h0.8v0.8h-0.8zM69.8 708.2h0.8v0.8h-0.8zM71.8 709.3h0.8v0.8h-0.8zM69.2 712.1h0.8v0.8h-0.8zM72.5 713.5h0.8v0.8h-0.8zM64.1 706.8h0.8v0.8h-0.8zM72.3 703.1h0.8v0.8h-0.8zM68.3 712.7h0.8v0.8h-0.8zM71.9 706.2h0.8v0.8h-0.8zM70.1 708.9h0.8v0.8h-0.8zM68.9 707.5h0.8v0.8h-0.8zM68.1 709.3h0.8v0.8h-0.8zM76.8 713.4h0.8v0.8h-0.8zM70.1 703.9h0.8v0.8h-0.8zM64.7 709.0h0.8v0.8h-0.8zM71.5 706.4h0.8v0.8h-0.8zM67.4 707.8h0.8v0.8h-0.8zM71.6 710.8h0.8v0.8h-0.8zM68.2 709.4h0.8v0.8h-0.8zM72.0 711.2h0.8v0.8h-0.8zM64.8 713.7h0.8v0.8h-0.8zM65.9 707.8h0.8v0.8h-0.8zM68.7 706.9h0.8v0.8h-0.8zM67.5 711.2h0.8v0.8h-0.8zM73.6 709.7h0.8v0.8h-0.8zM65.6 706.4h0.8v0.8h-0.8zM70.3 709.9h0.8v0.8h-0.8zM68.4 707.6h0.8v0.8h-0.8zM67.6 714.0h0.8v0.8h-0.8zM73.9 704.6h0.8v0.8h-0.8zM73.6 709.1h0.8v0.8h-0.8zM67.5 711.2h0.8v0.8h-0.8zM68.2 707.5h0.8v0.8h-0.8zM70.6 709.2h0.8v0.8h-0.8zM68.9 709.5h0.8v0.8h-0.8zM70.6 709.2h0.8v0.8h-0.8zM72.1 706.4h0.8v0.8h-0.8zM65.3 708.3h0.8v0.8h-0.8zM75.4 709.6h0.8v0.8h-0.8zM71.4 706.1h0.8v0.8h-0.8zM66.1 704.4h0.8v0.8h-0.8zM67.0 707.3h0.8v0.8h-0.8zM64.6 708.1h0.8v0.8h-0.8zM64.5 710.7h0.8v0.8h-0.8zM70.5 702.7h0.8v0.8h-0.8zM68.4 709.3h0.8v0.8h-0.8zM72.0 711.1h0.8v0.8h-0.8zM69.2 708.0h0.8v0.8h-0.8zM69.7 710.3h0.8v0.8h-0.8zM67.9 708.0h0.8v0.8h-0.8zM71.1 707.4h0.8v0.8h-0.8zM66.4 713.0h0.8v0.8h-0.8zM72.5 705.5h0.8v0.8h-0.8zM67.2 707.3h0.8v0.8h-0.8zM72.6 713.5h0.8v0.8h-0.8zM75.9 710.4h0.8v0.8h-0.8zM70.8 710.7h0.8v0.8h-0.8zM67.5 706.2h0.8v0.8h-0.8zM72.6 709.2h0.8v0.8h-0.8zM71.5 705.1h0.8v0.8h-0.8zM71.5 703.7h0.8v0.8h-0.8zM74.2 708.6h0.8v0.8h-0.8zM68.1 707.0h0.8v0.8h-0.8zM67.9 713.1h0.8v0.8h-0.8zM70.6 709.4h0.8v0.8h-0.8zM66.9 704.2h0.8v0.8h-0.8zM71.5 707.0h0.8v0.8h-0.8zM72.5 712.1h0.8v0.8h-0.8zM70.1 710.3h0.8v0.8h-0.8zM71.3 709.3h0.8v0.8h-0.8zM68.6 709.3h0.8v0.8h-0.8zM72.3 708.8h0.8v0.8h-0.8zM68.8 703.7h0.8v0.8h-0.8zM66.4 713.7h0.8v0.8h-0.8zM74.5 709.5h0.8v0.8h-0.8zM71.7 708.0h0.8v0.8h-0.8zM73.2 711.7h0.8v0.8h-0.8zM69.6 709.6h0.8v0.8h-0.8zM74.3 703.3h0.8v0.8h-0.8zM66.9 706.6h0.8v0.8h-0.8zM66.1 707.1h0.8v0.8h-0.8zM67.3 707.2h0.8v0.8h-0.8zM72.4 704.6h0.8v0.8h-0.8zM71.0 713.1h0.8v0.8h-0.8zM71.3 704.5h0.8v0.8h-0.8zM68.2 712.4h0.8v0.8h-0.8zM69.6 706.4h0.8v0.8h-0.8zM73.6 706.1h0.8v0.8h-0.8zM66.3 710.6h0.8v0.8h-0.8zM70.6 706.4h0.8v0.8h-0.8zM72.4 712.2h0.8v0.8h-0.8zM74.8 708.9h0.8v0.8h-0.8zM72.3 710.2h0.8v0.8h-0.8zM64.9 714.1h0.8v0.8h-0.8zM68.0 706.7h0.8v0.8h-0.8zM67.4 705.3h0.8v0.8h-0.8zM74.8 708.5h0.8v0.8h-0.8zM68.4 702.4h0.8v0.8h-0.8zM71.2 708.4h0.8v0.8h-0.8zM66.6 708.2h0.8v0.8h-0.8zM63.5 710.7h0.8v0.8h-0.8zM65.9 710.2h0.8v0.8h-0.8zM66.3 706.3h0.8v0.8h-0.8zM73.6 710.5h0.8v0.8h-0.8zM73.0 714.1h0.8v0.8h-0.8zM69.5 706.8h0.8v0.8h-0.8zM63.3 705.1h0.8v0.8h-0.8zM72.7 705.7h0.8v0.8h-0.8zM67.2 711.7h0.8v0.8h-0.8zM75.6 702.6h0.8v0.8h-0.8zM72.4 708.5h0.8v0.8h-0.8zM74.1 707.4h0.8v0.8h-0.8zM70.1 713.2h0.8v0.8h-0.8zM68.3 709.9h0.8v0.8h-0.8zM73.0 708.2h0.8v0.8h-0.8zM74.0 710.3h0.8v0.8h-0.8zM73.8 702.9h0.8v0.8h-0.8zM66.6 709.5h0.8v0.8h-0.8zM75.1 713.3h0.8v0.8h-0.8zM70.6 706.0h0.8v0.8h-0.8zM66.4 702.0h0.8v0.8h-0.8zM68.7 710.5h0.8v0.8h-0.8zM70.3 703.6h0.8v0.8h-0.8zM70.2 708.7h0.8v0.8h-0.8zM67.7 713.4h0.8v0.8h-0.8zM72.3 712.2h0.8v0.8h-0.8zM71.0 705.3h0.8v0.8h-0.8zM74.7 712.2h0.8v0.8h-0.8z"/>
<rect x="42.9" y="655.3" width="62.7" height="62.1" fill="none" stroke="#222" stroke-width="1.3"/>
<line x1="81.8" y1="655.3" x2="81.8" y2="679.5" stroke="#111" stroke-width="1"/>
<line x1="66.8" y1="667.4" x2="102.8" y2="667.4" stroke="#111" stroke-width="1"/>
<text x="83.30" y="665.30" font-size="10.5" text-anchor="start" font-weight="normal" fill="#111">B1a</text>
<text x="67.30" y="677.50" font-size="10.5" text-anchor="start" font-weight="normal" fill="#111">B2</text>
<text x="83.30" y="677.50" font-size="10.5" text-anchor="start" font-weight="normal" fill="#111">B1b</text>
<text x="4.00" y="724.10" font-size="10.5" text-anchor="start" font-weight="normal" fill="#111">CD5</text>
<text x="23.30" y="742.70" font-size="11" text-anchor="start" font-weight="normal" fill="#111">CD11b</text>
<polyline points="31.5,709 31.5,729.1 49.4,729.1" stroke="#111" stroke-width="1.3" fill="none"/>
<polygon points="31.5,706 29.1,709.7 33.9,709.7" fill="#111"/>
<polygon points="52.4,729.1 48.699999999999996,726.7 48.699999999999996,731.5" fill="#111"/>
<line x1="209.2" y1="77.7" x2="247.01" y2="59.84" stroke="#111" stroke-width="1.4"/>
<polygon points="250.9,58.0 247.63,62.31 245.49,57.79" fill="#111"/>
<line x1="209.2" y1="81.2" x2="221.60" y2="81.20" stroke="#111" stroke-width="1.4"/>
<polygon points="225.9,81.2 221.10,83.70 221.10,78.70" fill="#111"/>
<line x1="282.2" y1="66.3" x2="291.77" y2="71.77" stroke="#111" stroke-width="1.4"/>
<polygon points="295.5,73.9 290.09,73.69 292.57,69.35" fill="#111"/>
</svg></body></html>
